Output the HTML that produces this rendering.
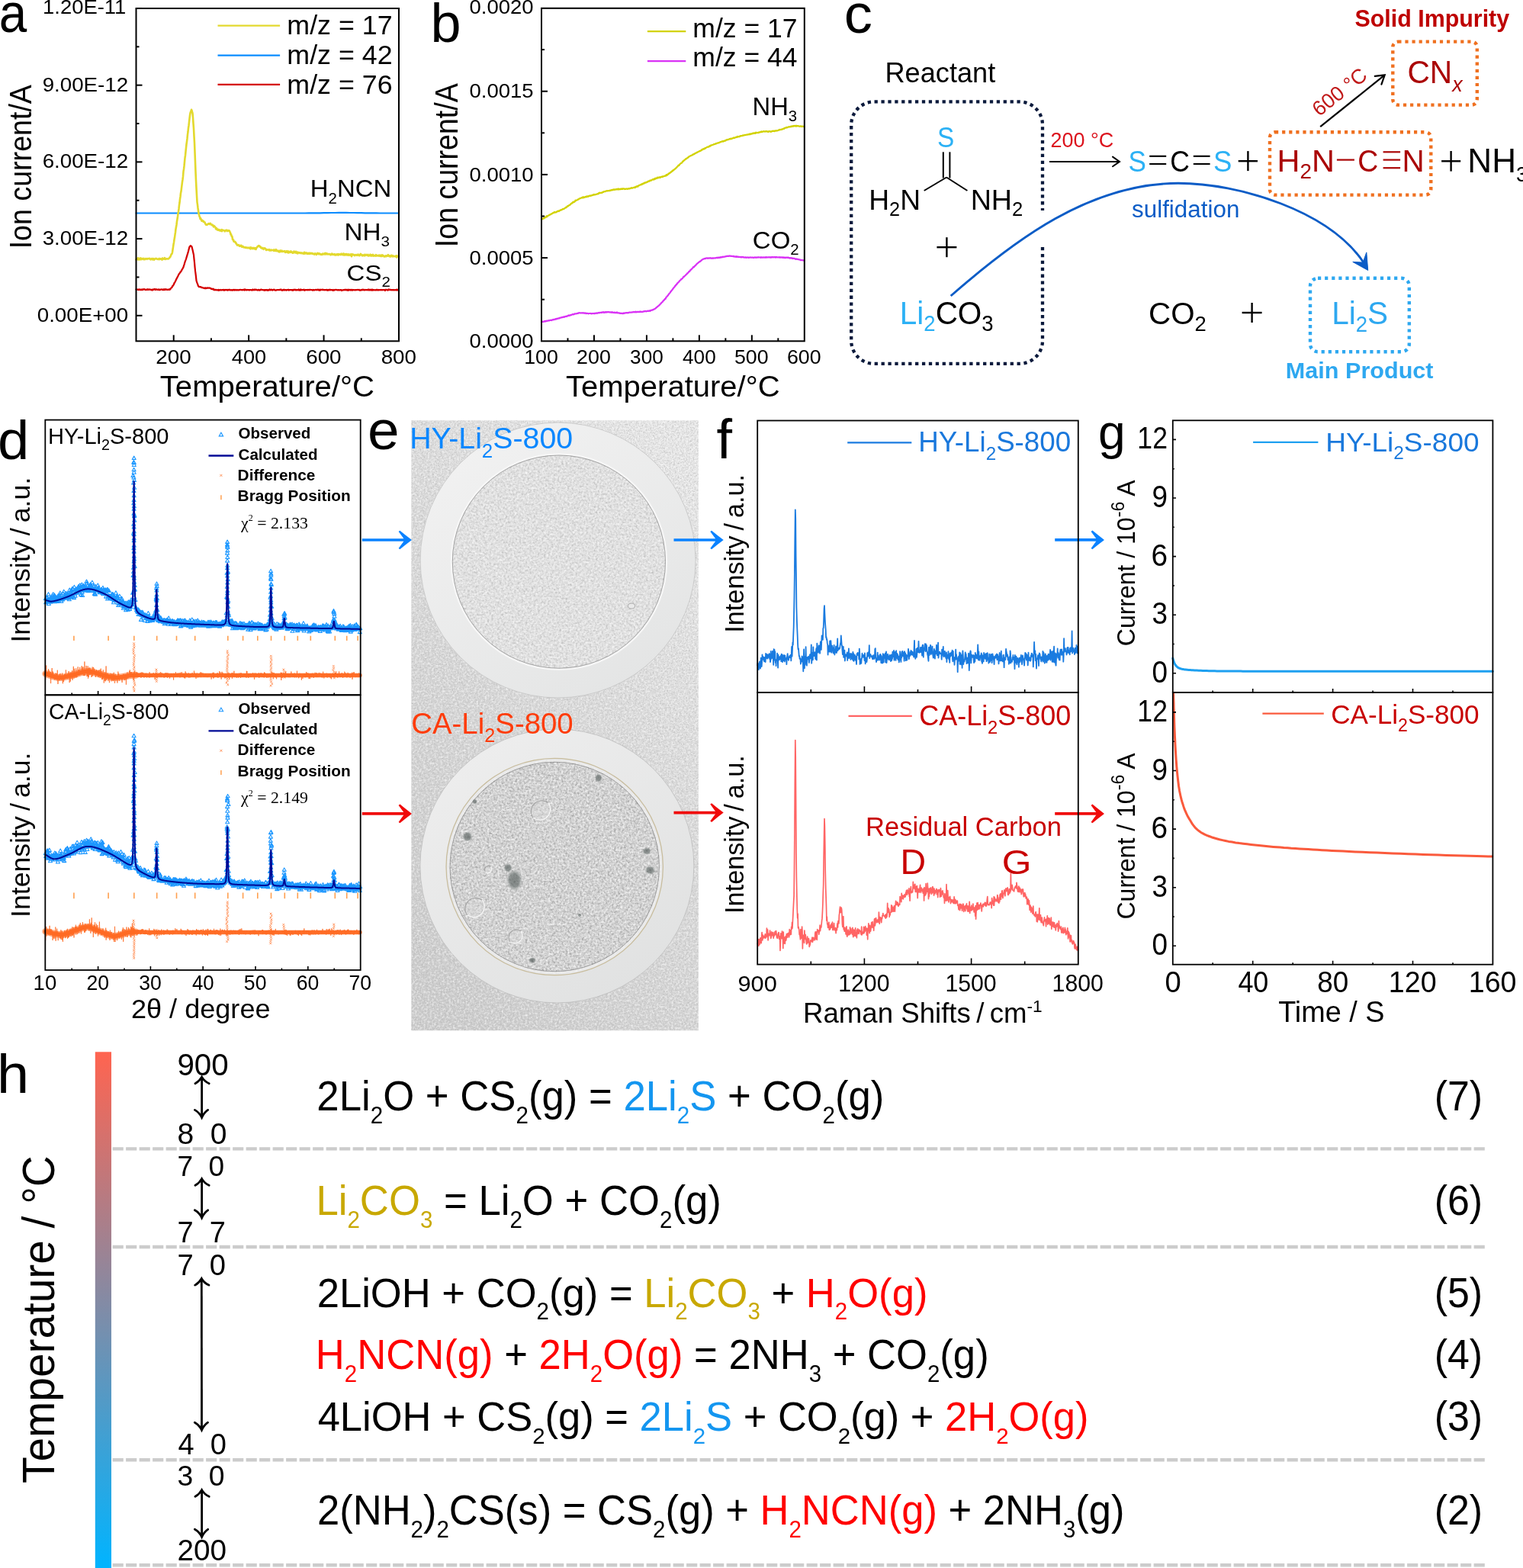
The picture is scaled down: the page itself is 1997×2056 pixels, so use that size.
<!DOCTYPE html><html><head><meta charset="utf-8"><title>Figure</title><style>html,body{margin:0;padding:0;background:#fff;overflow:hidden}svg{display:block}</style></head><body><svg xmlns="http://www.w3.org/2000/svg" width="1997" height="2056" viewBox="0 0 1997 2056"><rect width="1997" height="2056" fill="#fff"/><polyline points="178.5,279.5 183.4,279.5 188.3,279.5 193.3,279.5 198.2,279.5 203.1,279.5 208.0,279.5 212.9,279.5 217.9,279.5 222.8,279.5 227.7,279.5 232.6,279.5 237.6,279.5 242.5,279.5 247.4,279.5 252.3,279.5 257.2,279.5 262.2,279.5 267.1,279.5 272.0,279.5 276.9,279.5 281.9,279.5 286.8,279.5 291.7,279.5 296.6,279.5 301.5,279.5 306.5,279.5 311.4,279.5 316.3,279.5 321.2,279.5 326.1,279.5 331.1,279.5 336.0,279.5 340.9,279.5 345.8,279.5 350.8,279.5 355.7,279.5 360.6,279.5 365.5,279.5 370.4,279.5 375.4,279.5 380.3,279.5 385.2,279.5 390.1,279.5 395.0,279.5 400.0,279.5 404.9,279.4 409.8,279.4 414.7,279.3 419.6,279.3 424.6,279.2 429.5,279.1 434.4,279.0 439.3,279.0 444.3,278.9 449.2,278.9 454.1,278.9 459.0,279.0 463.9,279.0 468.9,279.1 473.8,279.2 478.7,279.3 483.6,279.3 488.6,279.4 493.5,279.4 498.4,279.5 503.3,279.5 508.2,279.5 513.2,279.5 518.1,279.5 523.0,279.5" fill="none" stroke="#0a8cff" stroke-width="2.2" stroke-linejoin="round" stroke-linecap="round" />
<polyline points="178.5,340.5 179.0,339.3 179.5,339.3 180.0,339.0 180.5,340.1 181.0,338.3 181.5,340.5 182.0,339.2 182.5,339.7 183.0,339.4 183.5,340.4 184.0,338.4 184.5,339.4 185.0,339.3 185.5,340.2 186.0,338.9 186.5,339.4 187.0,339.1 187.5,339.6 188.0,339.9 188.5,338.9 189.0,340.2 189.5,340.0 190.0,339.8 190.5,340.0 191.0,339.1 191.5,339.4 192.0,339.0 192.5,339.4 193.0,339.8 193.5,339.1 194.0,339.3 194.5,339.1 195.0,339.0 195.5,339.1 196.0,339.5 196.5,338.9 197.0,339.6 197.5,340.4 198.0,339.9 198.5,339.4 199.0,339.0 199.5,339.0 200.0,340.4 200.5,339.5 201.0,339.1 201.5,339.5 202.0,340.6 202.5,339.5 203.0,339.8 203.5,339.6 204.0,339.2 204.5,338.8 205.0,339.2 205.5,339.3 206.0,339.7 206.5,339.9 207.0,339.9 207.5,339.6 208.0,339.9 208.5,339.0 209.0,340.1 209.5,339.7 210.0,339.2 210.5,339.6 211.0,339.3 211.5,340.0 212.0,340.2 212.5,340.6 213.0,338.6 213.5,338.6 214.0,339.1 214.5,339.4 215.0,339.8 215.5,339.5 216.0,338.2 216.5,339.2 217.0,339.8 217.5,339.5 218.0,339.7 218.5,339.2 219.0,339.2 219.5,339.4 220.0,339.5 220.5,339.4 221.0,339.4 221.5,338.6 222.0,338.4 222.5,337.4 223.0,337.2 223.5,336.4 224.0,335.0 224.5,333.9 225.0,332.9 225.5,332.7 226.0,330.7 226.5,327.2 227.0,324.1 227.5,320.5 228.0,317.9 228.5,314.0 229.0,311.6 229.5,307.8 230.0,304.5 230.5,300.2 231.0,297.6 231.5,294.5 232.0,290.2 232.5,287.2 233.0,284.0 233.5,279.9 234.0,277.2 234.5,273.7 235.0,268.9 235.5,265.8 236.0,261.0 236.5,257.9 237.0,253.2 237.5,250.9 238.0,246.7 238.5,242.7 239.0,238.5 239.5,235.5 240.0,231.4 240.5,224.8 241.0,221.9 241.5,217.7 242.0,212.4 242.5,207.1 243.0,203.7 243.5,198.6 244.0,193.9 244.5,189.0 245.0,185.6 245.5,181.5 246.0,176.4 246.5,172.8 247.0,167.7 247.5,164.5 248.0,159.9 248.5,155.5 249.0,151.3 249.5,148.2 250.0,146.8 250.5,145.4 251.0,143.8 251.5,144.9 252.0,147.0 252.5,148.5 253.0,154.3 253.5,161.8 254.0,168.7 254.5,178.6 255.0,187.3 255.5,199.5 256.0,212.5 256.5,225.6 257.0,236.9 257.5,246.9 258.0,256.2 258.5,265.1 259.0,268.4 259.5,272.7 260.0,276.0 260.5,280.0 261.0,281.5 261.5,283.6 262.0,284.6 262.5,287.1 263.0,286.1 263.5,287.2 264.0,288.4 264.5,289.7 265.0,288.6 265.5,289.1 266.0,289.4 266.5,290.6 267.0,290.1 267.5,291.1 268.0,291.3 268.5,291.4 269.0,292.9 269.5,293.7 270.0,294.8 270.5,294.7 271.0,294.5 271.5,294.8 272.0,294.3 272.5,293.9 273.0,293.4 273.5,293.7 274.0,293.0 274.5,294.0 275.0,293.8 275.5,293.8 276.0,292.8 276.5,294.3 277.0,294.4 277.5,294.9 278.0,295.3 278.5,294.7 279.0,295.8 279.5,295.5 280.0,297.4 280.5,296.0 281.0,296.3 281.5,296.8 282.0,297.7 282.5,298.0 283.0,300.1 283.5,299.4 284.0,299.3 284.5,301.1 285.0,300.6 285.5,300.5 286.0,301.8 286.5,301.7 287.0,301.2 287.5,302.2 288.0,301.6 288.5,302.5 289.0,301.9 289.5,302.6 290.0,301.8 290.5,301.2 291.0,303.2 291.5,301.6 292.0,301.9 292.5,301.7 293.0,302.0 293.5,302.3 294.0,302.4 294.5,302.7 295.0,303.3 295.5,302.4 296.0,301.8 296.5,301.9 297.0,302.2 297.5,301.7 298.0,303.1 298.5,302.4 299.0,302.5 299.5,302.7 300.0,302.0 300.5,302.3 301.0,303.2 301.5,304.2 302.0,304.9 302.5,307.5 303.0,307.1 303.5,309.0 304.0,310.4 304.5,310.3 305.0,314.2 305.5,314.5 306.0,314.3 306.5,316.6 307.0,316.4 307.5,316.9 308.0,316.9 308.5,317.9 309.0,317.6 309.5,319.5 310.0,319.4 310.5,320.3 311.0,321.5 311.5,321.1 312.0,321.3 312.5,321.5 313.0,321.1 313.5,322.1 314.0,322.7 314.5,322.4 315.0,322.7 315.5,321.9 316.0,322.1 316.5,321.9 317.0,323.6 317.5,322.9 318.0,324.0 318.5,323.0 319.0,323.4 319.5,323.8 320.0,324.5 320.5,324.2 321.0,324.4 321.5,324.5 322.0,324.8 322.5,324.2 323.0,324.9 323.5,324.8 324.0,324.9 324.5,325.2 325.0,324.6 325.5,324.9 326.0,324.9 326.5,325.3 327.0,325.5 327.5,324.6 328.0,325.5 328.5,326.3 329.0,324.4 329.5,324.8 330.0,324.8 330.5,325.2 331.0,326.2 331.5,325.4 332.0,325.0 332.5,325.8 333.0,325.1 333.5,326.1 334.0,325.7 334.5,326.3 335.0,325.2 335.5,327.0 336.0,325.4 336.5,324.9 337.0,324.2 337.5,323.4 338.0,322.9 338.5,322.9 339.0,322.2 339.5,322.5 340.0,322.3 340.5,323.4 341.0,323.9 341.5,323.4 342.0,324.8 342.5,324.3 343.0,325.4 343.5,325.3 344.0,325.9 344.5,325.0 345.0,325.7 345.5,326.8 346.0,325.9 346.5,325.4 347.0,325.7 347.5,325.6 348.0,326.0 348.5,327.0 349.0,328.0 349.5,327.1 350.0,327.6 350.5,327.4 351.0,327.5 351.5,327.5 352.0,327.6 352.5,328.0 353.0,327.1 353.5,328.4 354.0,328.4 354.5,327.8 355.0,328.4 355.5,327.6 356.0,327.8 356.5,328.2 357.0,328.1 357.5,328.0 358.0,327.9 358.5,328.1 359.0,328.9 359.5,327.4 360.0,328.7 360.5,328.4 361.0,329.0 361.5,329.0 362.0,327.2 362.5,329.1 363.0,329.0 363.5,328.9 364.0,328.7 364.5,329.5 365.0,328.8 365.5,330.1 366.0,329.5 366.5,330.4 367.0,328.9 367.5,328.4 368.0,329.8 368.5,329.9 369.0,329.5 369.5,328.7 370.0,329.4 370.5,330.0 371.0,329.6 371.5,329.7 372.0,329.7 372.5,329.4 373.0,329.7 373.5,329.2 374.0,331.0 374.5,329.8 375.0,330.4 375.5,329.6 376.0,330.6 376.5,329.2 377.0,330.7 377.5,330.3 378.0,331.5 378.5,329.6 379.0,330.4 379.5,330.6 380.0,331.1 380.5,330.2 381.0,330.6 381.5,329.4 382.0,330.1 382.5,330.9 383.0,331.3 383.5,330.5 384.0,331.8 384.5,331.7 385.0,330.8 385.5,329.5 386.0,329.9 386.5,330.5 387.0,331.5 387.5,331.1 388.0,329.8 388.5,330.9 389.0,331.9 389.5,330.9 390.0,330.7 390.5,332.3 391.0,331.2 391.5,331.0 392.0,331.5 392.5,331.3 393.0,331.1 393.5,332.0 394.0,332.0 394.5,331.9 395.0,331.4 395.5,332.1 396.0,331.5 396.5,331.8 397.0,332.2 397.5,332.1 398.0,332.7 398.5,332.0 399.0,330.8 399.5,331.1 400.0,332.6 400.5,331.7 401.0,332.1 401.5,331.4 402.0,332.5 402.5,331.8 403.0,332.8 403.5,331.8 404.0,332.7 404.5,332.5 405.0,331.8 405.5,332.8 406.0,331.7 406.5,331.8 407.0,332.7 407.5,332.0 408.0,332.0 408.5,332.2 409.0,331.9 409.5,333.0 410.0,332.8 410.5,332.5 411.0,332.5 411.5,332.8 412.0,333.6 412.5,333.1 413.0,332.4 413.5,333.2 414.0,332.7 414.5,332.7 415.0,333.9 415.5,332.6 416.0,332.6 416.5,331.8 417.0,332.2 417.5,333.2 418.0,332.6 418.5,333.2 419.0,332.4 419.5,332.6 420.0,333.4 420.5,333.8 421.0,333.3 421.5,333.7 422.0,334.0 422.5,333.6 423.0,332.6 423.5,333.0 424.0,333.4 424.5,332.9 425.0,333.4 425.5,332.3 426.0,332.7 426.5,333.5 427.0,331.9 427.5,332.6 428.0,333.2 428.5,332.3 429.0,333.3 429.5,332.8 430.0,333.1 430.5,333.1 431.0,333.4 431.5,333.0 432.0,333.3 432.5,333.0 433.0,333.6 433.5,334.3 434.0,333.5 434.5,333.5 435.0,332.7 435.5,333.8 436.0,333.0 436.5,333.0 437.0,333.7 437.5,333.5 438.0,334.1 438.5,334.2 439.0,333.2 439.5,333.6 440.0,334.5 440.5,334.0 441.0,333.9 441.5,334.2 442.0,333.2 442.5,333.9 443.0,334.3 443.5,334.5 444.0,333.1 444.5,333.5 445.0,333.8 445.5,333.5 446.0,333.4 446.5,334.0 447.0,333.5 447.5,332.7 448.0,333.9 448.5,333.5 449.0,333.3 449.5,332.9 450.0,334.3 450.5,332.5 451.0,332.8 451.5,333.6 452.0,334.5 452.5,334.5 453.0,333.2 453.5,333.7 454.0,333.0 454.5,334.4 455.0,333.1 455.5,333.8 456.0,334.5 456.5,333.8 457.0,334.7 457.5,333.4 458.0,334.1 458.5,334.4 459.0,333.9 459.5,334.7 460.0,334.3 460.5,333.1 461.0,336.2 461.5,334.4 462.0,334.1 462.5,333.3 463.0,334.1 463.5,333.8 464.0,334.4 464.5,334.3 465.0,335.1 465.5,334.2 466.0,334.4 466.5,334.4 467.0,334.1 467.5,334.1 468.0,334.8 468.5,334.6 469.0,333.9 469.5,333.6 470.0,334.2 470.5,334.9 471.0,334.2 471.5,335.2 472.0,333.9 472.5,334.4 473.0,332.9 473.5,334.0 474.0,334.2 474.5,334.6 475.0,335.3 475.5,334.4 476.0,335.2 476.5,334.8 477.0,335.0 477.5,334.2 478.0,335.3 478.5,333.9 479.0,334.8 479.5,334.0 480.0,334.3 480.5,333.8 481.0,334.3 481.5,334.8 482.0,334.6 482.5,333.9 483.0,335.5 483.5,334.9 484.0,335.3 484.5,335.2 485.0,334.4 485.5,333.7 486.0,334.3 486.5,335.5 487.0,334.3 487.5,335.3 488.0,334.5 488.5,335.1 489.0,333.9 489.5,335.6 490.0,334.9 490.5,335.5 491.0,335.1 491.5,335.5 492.0,335.0 492.5,335.5 493.0,334.2 493.5,334.5 494.0,335.5 494.5,335.1 495.0,335.0 495.5,335.1 496.0,335.5 496.5,334.9 497.0,335.5 497.5,334.7 498.0,335.0 498.5,335.8 499.0,335.9 499.5,334.7 500.0,335.8 500.5,334.8 501.0,335.8 501.5,334.4 502.0,334.8 502.5,335.2 503.0,335.4 503.5,336.3 504.0,336.0 504.5,336.4 505.0,336.2 505.5,335.4 506.0,335.4 506.5,336.2 507.0,335.6 507.5,335.5 508.0,334.9 508.5,335.6 509.0,334.2 509.5,335.5 510.0,335.2 510.5,336.1 511.0,335.5 511.5,335.6 512.0,336.5 512.5,335.2 513.0,336.0 513.5,334.8 514.0,335.9 514.5,336.1 515.0,336.4 515.5,335.4 516.0,336.1 516.5,336.1 517.0,336.0 517.5,336.1 518.0,336.3 518.5,336.3 519.0,335.5 519.5,335.4 520.0,337.5 520.5,337.2 521.0,335.4 521.5,336.4 522.0,336.5 522.5,336.6 523.0,336.3" fill="none" stroke="#e3d92e" stroke-width="2.6" stroke-linejoin="round" stroke-linecap="round" />
<polyline points="178.5,379.4 179.0,379.6 179.5,379.6 180.0,379.7 180.5,379.6 181.0,379.7 181.5,380.0 182.0,380.1 182.5,379.3 183.0,379.6 183.5,379.5 184.0,380.1 184.5,379.7 185.0,380.1 185.5,379.6 186.0,379.7 186.5,379.3 187.0,380.1 187.5,379.6 188.0,379.3 188.5,379.5 189.0,379.0 189.5,379.7 190.0,379.7 190.5,379.8 191.0,380.1 191.5,379.6 192.0,379.9 192.5,379.8 193.0,379.6 193.5,379.1 194.0,380.0 194.5,379.5 195.0,379.7 195.5,379.3 196.0,379.8 196.5,379.7 197.0,379.7 197.5,379.7 198.0,380.0 198.5,380.0 199.0,379.9 199.5,380.7 200.0,379.5 200.5,379.6 201.0,379.4 201.5,379.8 202.0,379.5 202.5,378.9 203.0,379.3 203.5,379.7 204.0,380.0 204.5,379.2 205.0,379.5 205.5,379.7 206.0,379.5 206.5,379.9 207.0,379.7 207.5,379.8 208.0,379.5 208.5,380.2 209.0,379.7 209.5,380.1 210.0,379.6 210.5,379.9 211.0,379.5 211.5,379.4 212.0,379.5 212.5,379.7 213.0,379.6 213.5,380.2 214.0,379.4 214.5,379.4 215.0,380.2 215.5,379.9 216.0,379.1 216.5,379.8 217.0,379.8 217.5,379.1 218.0,379.6 218.5,379.7 219.0,379.9 219.5,380.0 220.0,379.7 220.5,380.0 221.0,379.7 221.5,379.4 222.0,379.4 222.5,379.9 223.0,378.9 223.5,379.1 224.0,377.9 224.5,377.6 225.0,377.2 225.5,376.8 226.0,375.3 226.5,375.0 227.0,374.6 227.5,373.4 228.0,372.9 228.5,371.0 229.0,370.7 229.5,369.7 230.0,368.6 230.5,367.9 231.0,366.2 231.5,365.9 232.0,364.4 232.5,363.8 233.0,362.5 233.5,361.8 234.0,360.8 234.5,359.4 235.0,359.1 235.5,358.3 236.0,357.5 236.5,356.6 237.0,356.7 237.5,355.4 238.0,355.1 238.5,353.7 239.0,352.8 239.5,352.4 240.0,351.0 240.5,350.4 241.0,348.3 241.5,347.1 242.0,345.2 242.5,343.7 243.0,342.2 243.5,340.9 244.0,339.5 244.5,337.7 245.0,336.1 245.5,334.4 246.0,332.8 246.5,331.2 247.0,329.3 247.5,327.2 248.0,325.2 248.5,323.5 249.0,323.1 249.5,322.4 250.0,322.1 250.5,322.5 251.0,323.3 251.5,323.4 252.0,325.5 252.5,327.6 253.0,329.7 253.5,331.9 254.0,334.3 254.5,339.6 255.0,344.2 255.5,350.2 256.0,355.2 256.5,358.8 257.0,363.2 257.5,367.9 258.0,369.7 258.5,371.0 259.0,372.1 259.5,373.6 260.0,375.3 260.5,375.4 261.0,376.2 261.5,376.0 262.0,376.0 262.5,376.3 263.0,376.2 263.5,376.3 264.0,376.8 264.5,377.1 265.0,376.8 265.5,377.2 266.0,377.3 266.5,377.6 267.0,377.5 267.5,377.8 268.0,377.8 268.5,378.1 269.0,377.3 269.5,378.2 270.0,378.1 270.5,377.7 271.0,377.8 271.5,377.8 272.0,377.3 272.5,377.6 273.0,377.7 273.5,377.5 274.0,377.7 274.5,377.5 275.0,377.7 275.5,377.7 276.0,378.0 276.5,378.2 277.0,379.0 277.5,378.8 278.0,378.6 278.5,379.2 279.0,379.2 279.5,378.6 280.0,379.8 280.5,379.4 281.0,380.3 281.5,379.9 282.0,379.8 282.5,380.3 283.0,379.8 283.5,380.1 284.0,380.3 284.5,380.4 285.0,380.4 285.5,380.2 286.0,379.9 286.5,380.8 287.0,380.0 287.5,380.7 288.0,380.1 288.5,380.5 289.0,380.5 289.5,379.9 290.0,380.3 290.5,380.4 291.0,380.4 291.5,380.1 292.0,380.3 292.5,380.1 293.0,379.8 293.5,380.5 294.0,380.0 294.5,380.6 295.0,380.4 295.5,379.9 296.0,380.1 296.5,380.1 297.0,379.9 297.5,380.3 298.0,380.0 298.5,380.7 299.0,380.5 299.5,379.9 300.0,380.2 300.5,380.1 301.0,379.7 301.5,380.5 302.0,380.5 302.5,380.5 303.0,380.1 303.5,380.5 304.0,380.1 304.5,380.5 305.0,380.7 305.5,380.2 306.0,379.8 306.5,380.1 307.0,380.4 307.5,380.6 308.0,379.8 308.5,380.1 309.0,380.3 309.5,380.3 310.0,380.5 310.5,379.9 311.0,380.1 311.5,380.5 312.0,380.3 312.5,380.3 313.0,380.5 313.5,380.2 314.0,380.3 314.5,380.1 315.0,379.8 315.5,379.8 316.0,380.2 316.5,380.1 317.0,380.0 317.5,380.3 318.0,379.9 318.5,380.2 319.0,380.2 319.5,379.9 320.0,379.5 320.5,380.6 321.0,380.3 321.5,379.4 322.0,380.1 322.5,380.3 323.0,380.1 323.5,380.4 324.0,379.9 324.5,380.2 325.0,380.2 325.5,380.1 326.0,380.1 326.5,380.2 327.0,380.5 327.5,380.0 328.0,380.1 328.5,380.2 329.0,380.1 329.5,380.3 330.0,380.4 330.5,380.6 331.0,380.1 331.5,379.5 332.0,380.2 332.5,380.3 333.0,380.1 333.5,380.1 334.0,379.4 334.5,380.3 335.0,380.1 335.5,379.7 336.0,379.9 336.5,379.9 337.0,380.4 337.5,380.3 338.0,380.6 338.5,380.4 339.0,379.8 339.5,379.8 340.0,380.5 340.5,380.6 341.0,380.1 341.5,380.3 342.0,379.7 342.5,379.6 343.0,379.8 343.5,380.1 344.0,380.0 344.5,380.1 345.0,380.0 345.5,380.4 346.0,380.6 346.5,380.2 347.0,380.8 347.5,380.0 348.0,380.0 348.5,380.3 349.0,380.1 349.5,380.5 350.0,380.0 350.5,380.6 351.0,380.2 351.5,380.9 352.0,380.0 352.5,380.1 353.0,380.2 353.5,379.5 354.0,380.4 354.5,380.3 355.0,380.2 355.5,379.7 356.0,379.7 356.5,380.3 357.0,380.5 357.5,380.6 358.0,379.9 358.5,379.9 359.0,380.1 359.5,379.6 360.0,380.0 360.5,380.4 361.0,380.7 361.5,380.3 362.0,380.7 362.5,380.3 363.0,380.2 363.5,380.1 364.0,380.2 364.5,380.1 365.0,380.1 365.5,380.0 366.0,380.2 366.5,380.2 367.0,379.7 367.5,380.1 368.0,379.9 368.5,379.5 369.0,380.3 369.5,380.6 370.0,380.9 370.5,380.6 371.0,379.9 371.5,380.5 372.0,380.5 372.5,379.6 373.0,380.4 373.5,380.4 374.0,380.2 374.5,380.2 375.0,380.2 375.5,380.7 376.0,380.0 376.5,380.1 377.0,380.2 377.5,380.2 378.0,379.6 378.5,380.6 379.0,380.2 379.5,380.3 380.0,380.2 380.5,380.1 381.0,380.1 381.5,380.2 382.0,380.2 382.5,380.5 383.0,380.3 383.5,380.1 384.0,380.8 384.5,379.8 385.0,379.8 385.5,380.3 386.0,380.1 386.5,379.6 387.0,380.1 387.5,379.9 388.0,380.5 388.5,380.0 389.0,380.5 389.5,380.3 390.0,380.1 390.5,380.2 391.0,380.3 391.5,379.5 392.0,380.3 392.5,380.0 393.0,380.7 393.5,379.9 394.0,380.5 394.5,379.4 395.0,380.4 395.5,380.2 396.0,380.1 396.5,380.1 397.0,380.1 397.5,380.3 398.0,380.1 398.5,379.6 399.0,380.1 399.5,380.8 400.0,380.2 400.5,380.2 401.0,380.0 401.5,380.2 402.0,380.2 402.5,380.1 403.0,380.4 403.5,379.9 404.0,380.1 404.5,380.3 405.0,380.1 405.5,379.8 406.0,380.3 406.5,379.9 407.0,380.0 407.5,379.9 408.0,380.1 408.5,380.0 409.0,380.0 409.5,380.4 410.0,380.7 410.5,380.0 411.0,380.3 411.5,380.0 412.0,380.2 412.5,380.5 413.0,380.2 413.5,379.9 414.0,379.9 414.5,380.0 415.0,380.1 415.5,380.4 416.0,379.7 416.5,379.8 417.0,379.9 417.5,379.6 418.0,380.5 418.5,380.1 419.0,380.7 419.5,379.7 420.0,380.5 420.5,379.9 421.0,380.0 421.5,379.8 422.0,379.9 422.5,379.7 423.0,380.2 423.5,379.7 424.0,380.1 424.5,380.1 425.0,380.3 425.5,380.2 426.0,380.2 426.5,380.3 427.0,380.1 427.5,380.2 428.0,379.8 428.5,379.9 429.0,380.7 429.5,380.1 430.0,379.9 430.5,380.6 431.0,380.1 431.5,379.9 432.0,379.7 432.5,380.4 433.0,379.8 433.5,380.0 434.0,380.3 434.5,380.2 435.0,380.1 435.5,380.1 436.0,380.5 436.5,380.8 437.0,380.0 437.5,380.3 438.0,380.7 438.5,380.5 439.0,379.9 439.5,380.0 440.0,380.0 440.5,379.9 441.0,379.9 441.5,380.2 442.0,380.0 442.5,380.4 443.0,380.2 443.5,380.0 444.0,380.4 444.5,380.2 445.0,380.2 445.5,380.4 446.0,380.3 446.5,380.1 447.0,380.4 447.5,380.2 448.0,381.0 448.5,380.5 449.0,380.5 449.5,380.5 450.0,380.2 450.5,380.5 451.0,380.1 451.5,379.9 452.0,380.0 452.5,380.3 453.0,379.7 453.5,380.2 454.0,379.9 454.5,380.3 455.0,379.9 455.5,380.7 456.0,380.4 456.5,379.7 457.0,380.7 457.5,380.1 458.0,379.9 458.5,379.8 459.0,380.3 459.5,380.6 460.0,380.0 460.5,379.8 461.0,379.8 461.5,380.6 462.0,380.6 462.5,380.0 463.0,380.3 463.5,380.1 464.0,380.1 464.5,380.4 465.0,380.3 465.5,380.2 466.0,380.0 466.5,380.4 467.0,380.0 467.5,380.1 468.0,380.2 468.5,379.8 469.0,380.0 469.5,380.0 470.0,380.2 470.5,379.8 471.0,379.8 471.5,380.6 472.0,380.5 472.5,380.4 473.0,380.7 473.5,380.2 474.0,380.1 474.5,380.3 475.0,379.6 475.5,379.8 476.0,380.3 476.5,380.1 477.0,379.7 477.5,380.3 478.0,380.4 478.5,380.3 479.0,380.1 479.5,379.9 480.0,380.2 480.5,380.2 481.0,380.0 481.5,380.3 482.0,380.2 482.5,380.2 483.0,379.5 483.5,380.4 484.0,380.6 484.5,380.0 485.0,379.7 485.5,380.3 486.0,380.0 486.5,379.8 487.0,380.5 487.5,379.7 488.0,380.3 488.5,379.7 489.0,380.6 489.5,380.3 490.0,380.0 490.5,380.2 491.0,380.3 491.5,380.4 492.0,380.4 492.5,380.3 493.0,380.0 493.5,380.3 494.0,379.7 494.5,380.4 495.0,380.4 495.5,380.5 496.0,379.9 496.5,380.2 497.0,380.4 497.5,380.2 498.0,380.0 498.5,380.2 499.0,380.1 499.5,380.4 500.0,379.9 500.5,380.2 501.0,380.2 501.5,380.3 502.0,380.1 502.5,380.1 503.0,380.1 503.5,380.1 504.0,380.1 504.5,380.0 505.0,381.0 505.5,379.9 506.0,379.8 506.5,379.9 507.0,379.9 507.5,380.1 508.0,380.5 508.5,380.6 509.0,380.2 509.5,379.4 510.0,380.2 510.5,379.7 511.0,380.0 511.5,379.8 512.0,380.2 512.5,379.9 513.0,380.3 513.5,380.2 514.0,380.0 514.5,380.1 515.0,380.4 515.5,380.0 516.0,380.4 516.5,380.1 517.0,380.2 517.5,380.3 518.0,380.5 518.5,380.3 519.0,380.1 519.5,380.3 520.0,379.6 520.5,380.6 521.0,379.7 521.5,380.4 522.0,379.9 522.5,380.3 523.0,380.1" fill="none" stroke="#d40000" stroke-width="2.2" stroke-linejoin="round" stroke-linecap="round" />
<rect x="178.5" y="11" width="344.5" height="436.3" fill="none" stroke="#000" stroke-width="2"/>
<line x1="178.5" y1="413.8" x2="186.5" y2="413.8" stroke="#000" stroke-width="2" />
<line x1="178.5" y1="313.09" x2="186.5" y2="313.09" stroke="#000" stroke-width="2" />
<line x1="178.5" y1="212.38" x2="186.5" y2="212.38" stroke="#000" stroke-width="2" />
<line x1="178.5" y1="111.67" x2="186.5" y2="111.67" stroke="#000" stroke-width="2" />
<line x1="178.5" y1="10.96" x2="186.5" y2="10.96" stroke="#000" stroke-width="2" />
<line x1="178.5" y1="363.44" x2="182.5" y2="363.44" stroke="#000" stroke-width="2" />
<line x1="178.5" y1="262.74" x2="182.5" y2="262.74" stroke="#000" stroke-width="2" />
<line x1="178.5" y1="162.03" x2="182.5" y2="162.03" stroke="#000" stroke-width="2" />
<line x1="178.5" y1="61.31" x2="182.5" y2="61.31" stroke="#000" stroke-width="2" />
<line x1="227.71" y1="447.3" x2="227.71" y2="439.3" stroke="#000" stroke-width="2" />
<line x1="326.14" y1="447.3" x2="326.14" y2="439.3" stroke="#000" stroke-width="2" />
<line x1="424.57" y1="447.3" x2="424.57" y2="439.3" stroke="#000" stroke-width="2" />
<line x1="276.93" y1="447.3" x2="276.93" y2="443.3" stroke="#000" stroke-width="2" />
<line x1="375.36" y1="447.3" x2="375.36" y2="443.3" stroke="#000" stroke-width="2" />
<line x1="473.79" y1="447.3" x2="473.79" y2="443.3" stroke="#000" stroke-width="2" />
<text transform="translate(56.04,18.4) scale(1.0292,1)" font-family="'Liberation Sans', Arial, Helvetica, sans-serif" font-size="26.67" fill="#000" xml:space="preserve" ><tspan x="0" y="0">1.20E-11</tspan></text>
<text transform="translate(55.66,119.8) scale(1.0398,1)" font-family="'Liberation Sans', Arial, Helvetica, sans-serif" font-size="26.67" fill="#000" xml:space="preserve" ><tspan x="0" y="0">9.00E-12</tspan></text>
<text transform="translate(55.66,220.4) scale(1.0398,1)" font-family="'Liberation Sans', Arial, Helvetica, sans-serif" font-size="26.67" fill="#000" xml:space="preserve" ><tspan x="0" y="0">6.00E-12</tspan></text>
<text transform="translate(55.66,321) scale(1.0398,1)" font-family="'Liberation Sans', Arial, Helvetica, sans-serif" font-size="26.67" fill="#000" xml:space="preserve" ><tspan x="0" y="0">3.00E-12</tspan></text>
<text transform="translate(48.76,421.6) scale(1.0393,1)" font-family="'Liberation Sans', Arial, Helvetica, sans-serif" font-size="26.67" fill="#000" xml:space="preserve" ><tspan x="0" y="0">0.00E+00</tspan></text>
<text transform="translate(204.36,476.7) scale(1.0535,1)" font-family="'Liberation Sans', Arial, Helvetica, sans-serif" font-size="26.38" fill="#000" xml:space="preserve" ><tspan x="0" y="0">200</tspan></text>
<text transform="translate(303.84,476.7) scale(1.0291,1)" font-family="'Liberation Sans', Arial, Helvetica, sans-serif" font-size="26.38" fill="#000" xml:space="preserve" ><tspan x="0" y="0">400</tspan></text>
<text transform="translate(401.22,476.7) scale(1.0535,1)" font-family="'Liberation Sans', Arial, Helvetica, sans-serif" font-size="26.38" fill="#000" xml:space="preserve" ><tspan x="0" y="0">600</tspan></text>
<text transform="translate(499.65,476.7) scale(1.0535,1)" font-family="'Liberation Sans', Arial, Helvetica, sans-serif" font-size="26.38" fill="#000" xml:space="preserve" ><tspan x="0" y="0">800</tspan></text>
<text transform="translate(209.8,520.2) scale(1.0325,1)" font-family="'Liberation Sans', Arial, Helvetica, sans-serif" font-size="38.84" fill="#000" xml:space="preserve" ><tspan x="0" y="0">Temperature/°C</tspan></text>
<text transform="translate(40.5,326.33) rotate(-90) scale(0.9107,1)" font-family="'Liberation Sans', Arial, Helvetica, sans-serif" font-size="41.3" fill="#000" xml:space="preserve" ><tspan x="0" y="0">Ion current/A</tspan></text>
<text transform="translate(-1.33,42) scale(0.9105,1)" font-family="'Liberation Sans', Arial, Helvetica, sans-serif" font-size="72" fill="#000" xml:space="preserve" ><tspan x="0" y="0">a</tspan></text>
<line x1="285.5" y1="33.6" x2="367.1" y2="33.6" stroke="#e3d92e" stroke-width="2.4" />
<text transform="translate(376.35,45.4) scale(1.0245,1)" font-family="'Liberation Sans', Arial, Helvetica, sans-serif" font-size="34.93" fill="#000" xml:space="preserve" ><tspan x="0" y="0">m/z = 17</tspan></text>
<line x1="285.5" y1="72.6" x2="367.1" y2="72.6" stroke="#0a8cff" stroke-width="2.4" />
<text transform="translate(376.35,84.2) scale(1.0245,1)" font-family="'Liberation Sans', Arial, Helvetica, sans-serif" font-size="34.93" fill="#000" xml:space="preserve" ><tspan x="0" y="0">m/z = 42</tspan></text>
<line x1="285.5" y1="110.9" x2="367.1" y2="110.9" stroke="#d40000" stroke-width="2.4" />
<text transform="translate(376.35,122.6) scale(1.0245,1)" font-family="'Liberation Sans', Arial, Helvetica, sans-serif" font-size="34.93" fill="#000" xml:space="preserve" ><tspan x="0" y="0">m/z = 76</tspan></text>
<text transform="translate(406.79,258.2) scale(1.0533,1)" font-family="'Liberation Sans', Arial, Helvetica, sans-serif" font-size="31.3" fill="#000" xml:space="preserve" ><tspan x="0" y="0">H</tspan><tspan x="22.6" y="8.45" font-size="19.41">2</tspan><tspan x="33.39" y="0">NCN</tspan></text>
<text transform="translate(451.44,314.5) scale(1.0785,1)" font-family="'Liberation Sans', Arial, Helvetica, sans-serif" font-size="30.87" fill="#000" xml:space="preserve" ><tspan x="0" y="0">NH</tspan><tspan x="44.57" y="8.33" font-size="19.14">3</tspan></text>
<text transform="translate(454.61,367.6) scale(1.0888,1)" font-family="'Liberation Sans', Arial, Helvetica, sans-serif" font-size="30.29" fill="#000" xml:space="preserve" ><tspan x="0" y="0">CS</tspan><tspan x="42.07" y="8.18" font-size="18.78">2</tspan></text>
<polyline points="710.0,288.0 710.5,287.4 711.0,286.8 711.5,287.1 712.0,286.6 712.5,286.3 713.0,286.0 713.5,286.3 714.0,285.4 714.5,285.3 715.0,284.7 715.5,285.0 716.0,284.2 716.5,283.4 717.0,284.4 717.5,283.2 718.0,283.5 718.5,283.1 719.0,282.8 719.5,282.3 720.0,282.1 720.5,282.1 721.0,281.4 721.5,281.3 722.0,281.2 722.5,280.7 723.0,280.3 723.5,280.5 724.0,280.0 724.5,279.6 725.0,279.2 725.5,278.9 726.0,279.2 726.5,279.0 727.0,278.0 727.5,278.2 728.0,278.4 728.5,278.6 729.0,278.4 729.5,277.9 730.0,277.8 730.5,277.2 731.0,277.3 731.5,276.6 732.0,276.6 732.5,276.7 733.0,277.0 733.5,276.4 734.0,276.1 734.5,275.8 735.0,275.3 735.5,275.6 736.0,275.2 736.5,275.1 737.0,274.6 737.5,274.6 738.0,273.9 738.5,274.2 739.0,274.1 739.5,273.7 740.0,273.7 740.5,273.0 741.0,272.7 741.5,272.4 742.0,271.8 742.5,272.2 743.0,271.6 743.5,270.9 744.0,270.4 744.5,270.5 745.0,270.2 745.5,269.7 746.0,269.3 746.5,268.9 747.0,268.6 747.5,268.6 748.0,268.2 748.5,267.1 749.0,267.2 749.5,266.5 750.0,266.1 750.5,266.3 751.0,265.5 751.5,264.6 752.0,265.2 752.5,265.0 753.0,264.9 753.5,264.0 754.0,264.1 754.5,262.7 755.0,262.8 755.5,262.9 756.0,262.6 756.5,262.5 757.0,262.1 757.5,261.6 758.0,261.7 758.5,261.2 759.0,261.2 759.5,260.4 760.0,260.4 760.5,260.1 761.0,260.2 761.5,259.8 762.0,259.6 762.5,259.2 763.0,259.5 763.5,259.5 764.0,259.4 764.5,258.2 765.0,258.4 765.5,259.2 766.0,258.5 766.5,258.4 767.0,258.6 767.5,258.3 768.0,257.9 768.5,257.9 769.0,258.3 769.5,257.4 770.0,257.9 770.5,257.4 771.0,257.3 771.5,257.7 772.0,257.0 772.5,257.2 773.0,256.8 773.5,256.4 774.0,256.6 774.5,256.8 775.0,256.4 775.5,256.5 776.0,256.2 776.5,256.1 777.0,255.8 777.5,255.9 778.0,255.2 778.5,255.5 779.0,255.0 779.5,255.4 780.0,255.3 780.5,254.9 781.0,255.1 781.5,254.9 782.0,254.7 782.5,254.4 783.0,254.5 783.5,254.5 784.0,253.9 784.5,253.7 785.0,254.0 785.5,253.0 786.0,252.7 786.5,252.8 787.0,253.1 787.5,253.0 788.0,252.9 788.5,252.6 789.0,252.8 789.5,252.7 790.0,252.4 790.5,251.7 791.0,251.9 791.5,251.4 792.0,251.4 792.5,251.1 793.0,251.2 793.5,251.2 794.0,250.9 794.5,250.5 795.0,250.3 795.5,250.4 796.0,250.2 796.5,250.5 797.0,250.1 797.5,250.1 798.0,250.0 798.5,250.2 799.0,250.2 799.5,249.8 800.0,249.5 800.5,249.9 801.0,249.5 801.5,249.2 802.0,249.5 802.5,249.2 803.0,248.7 803.5,249.2 804.0,249.0 804.5,248.4 805.0,248.2 805.5,248.7 806.0,248.8 806.5,248.7 807.0,248.2 807.5,248.4 808.0,248.5 808.5,247.9 809.0,248.3 809.5,248.3 810.0,248.4 810.5,247.5 811.0,248.1 811.5,248.5 812.0,247.8 812.5,247.9 813.0,248.2 813.5,247.7 814.0,248.2 814.5,248.0 815.0,247.4 815.5,247.8 816.0,247.4 816.5,248.0 817.0,247.4 817.5,247.3 818.0,247.5 818.5,247.5 819.0,248.1 819.5,247.7 820.0,247.8 820.5,248.0 821.0,247.5 821.5,247.5 822.0,247.4 822.5,247.8 823.0,248.0 823.5,247.6 824.0,247.3 824.5,247.3 825.0,247.1 825.5,247.5 826.0,247.0 826.5,247.1 827.0,246.8 827.5,246.5 828.0,246.2 828.5,246.6 829.0,246.7 829.5,246.5 830.0,246.3 830.5,246.0 831.0,245.9 831.5,245.6 832.0,245.8 832.5,246.1 833.0,245.3 833.5,244.8 834.0,245.3 834.5,244.5 835.0,244.7 835.5,244.2 836.0,244.1 836.5,244.7 837.0,243.4 837.5,243.2 838.0,243.2 838.5,242.9 839.0,242.6 839.5,242.3 840.0,242.4 840.5,242.3 841.0,241.5 841.5,241.3 842.0,241.8 842.5,240.8 843.0,241.1 843.5,240.8 844.0,240.2 844.5,240.5 845.0,239.8 845.5,239.6 846.0,239.3 846.5,239.7 847.0,239.1 847.5,239.3 848.0,238.6 848.5,238.7 849.0,238.7 849.5,238.1 850.0,237.6 850.5,237.6 851.0,237.8 851.5,237.5 852.0,237.0 852.5,236.4 853.0,236.8 853.5,236.8 854.0,236.6 854.5,236.1 855.0,235.7 855.5,235.4 856.0,235.2 856.5,234.8 857.0,235.5 857.5,234.8 858.0,235.2 858.5,234.4 859.0,233.8 859.5,234.5 860.0,233.6 860.5,233.6 861.0,233.9 861.5,233.8 862.0,232.7 862.5,233.1 863.0,232.7 863.5,233.0 864.0,233.2 864.5,232.5 865.0,232.9 865.5,232.2 866.0,232.8 866.5,232.0 867.0,232.0 867.5,232.0 868.0,231.5 868.5,232.1 869.0,231.3 869.5,231.6 870.0,231.0 870.5,231.2 871.0,231.0 871.5,230.7 872.0,230.7 872.5,230.1 873.0,230.6 873.5,230.0 874.0,229.0 874.5,229.9 875.0,229.3 875.5,229.2 876.0,228.5 876.5,227.6 877.0,227.8 877.5,227.2 878.0,227.1 878.5,226.6 879.0,226.4 879.5,225.5 880.0,225.6 880.5,225.1 881.0,224.9 881.5,223.9 882.0,223.8 882.5,223.9 883.0,222.8 883.5,222.8 884.0,222.6 884.5,221.8 885.0,221.6 885.5,221.2 886.0,220.9 886.5,220.0 887.0,219.6 887.5,219.4 888.0,218.5 888.5,218.3 889.0,217.6 889.5,216.7 890.0,216.9 890.5,216.8 891.0,215.8 891.5,215.4 892.0,214.8 892.5,214.3 893.0,214.0 893.5,213.8 894.0,213.6 894.5,212.8 895.0,211.9 895.5,211.3 896.0,211.5 896.5,210.9 897.0,210.2 897.5,209.7 898.0,209.3 898.5,209.4 899.0,208.7 899.5,208.0 900.0,208.2 900.5,207.7 901.0,207.2 901.5,207.1 902.0,206.4 902.5,206.5 903.0,205.6 903.5,205.4 904.0,205.0 904.5,204.9 905.0,204.5 905.5,204.3 906.0,204.1 906.5,204.0 907.0,203.6 907.5,203.3 908.0,203.4 908.5,202.7 909.0,202.1 909.5,202.4 910.0,202.4 910.5,201.7 911.0,201.6 911.5,200.9 912.0,200.9 912.5,200.7 913.0,200.4 913.5,199.9 914.0,200.1 914.5,199.5 915.0,199.4 915.5,199.0 916.0,198.9 916.5,198.6 917.0,198.1 917.5,198.1 918.0,198.1 918.5,197.8 919.0,197.3 919.5,197.3 920.0,196.3 920.5,196.7 921.0,196.1 921.5,195.4 922.0,195.6 922.5,195.6 923.0,194.9 923.5,195.3 924.0,195.0 924.5,194.1 925.0,194.4 925.5,193.9 926.0,193.5 926.5,193.4 927.0,193.1 927.5,192.7 928.0,192.7 928.5,192.7 929.0,192.7 929.5,192.5 930.0,191.7 930.5,191.6 931.0,191.2 931.5,191.5 932.0,190.6 932.5,190.4 933.0,190.4 933.5,190.4 934.0,190.1 934.5,190.0 935.0,189.8 935.5,189.6 936.0,189.1 936.5,189.1 937.0,189.1 937.5,188.8 938.0,188.8 938.5,188.2 939.0,188.4 939.5,188.4 940.0,187.8 940.5,187.7 941.0,187.5 941.5,187.4 942.0,187.2 942.5,187.3 943.0,186.9 943.5,186.9 944.0,186.6 944.5,186.0 945.0,186.2 945.5,185.9 946.0,185.7 946.5,185.4 947.0,185.5 947.5,185.2 948.0,185.7 948.5,185.4 949.0,184.8 949.5,184.9 950.0,184.8 950.5,184.3 951.0,184.7 951.5,184.3 952.0,183.9 952.5,183.3 953.0,183.3 953.5,183.5 954.0,183.2 954.5,183.1 955.0,182.8 955.5,182.9 956.0,182.5 956.5,182.1 957.0,182.3 957.5,182.1 958.0,181.7 958.5,182.3 959.0,181.7 959.5,181.5 960.0,181.7 960.5,181.3 961.0,181.4 961.5,180.7 962.0,180.6 962.5,180.9 963.0,181.0 963.5,180.5 964.0,180.4 964.5,180.0 965.0,180.1 965.5,179.7 966.0,179.7 966.5,179.8 967.0,179.0 967.5,179.4 968.0,179.1 968.5,179.0 969.0,179.3 969.5,178.9 970.0,179.0 970.5,178.2 971.0,178.4 971.5,178.3 972.0,178.1 972.5,178.2 973.0,178.2 973.5,177.6 974.0,177.5 974.5,177.3 975.0,177.8 975.5,177.3 976.0,177.3 976.5,177.1 977.0,176.8 977.5,177.1 978.0,177.0 978.5,177.0 979.0,176.6 979.5,176.5 980.0,176.3 980.5,176.7 981.0,176.5 981.5,176.1 982.0,176.2 982.5,175.7 983.0,176.3 983.5,175.5 984.0,175.5 984.5,175.4 985.0,175.8 985.5,175.3 986.0,175.5 986.5,175.1 987.0,174.7 987.5,175.1 988.0,174.6 988.5,174.4 989.0,174.5 989.5,174.7 990.0,174.9 990.5,174.0 991.0,173.7 991.5,174.4 992.0,174.2 992.5,173.8 993.0,174.0 993.5,174.0 994.0,174.2 994.5,173.6 995.0,173.9 995.5,173.4 996.0,173.3 996.5,173.4 997.0,173.0 997.5,172.8 998.0,173.3 998.5,172.5 999.0,173.0 999.5,172.8 1000.0,172.7 1000.5,172.4 1001.0,172.2 1001.5,172.5 1002.0,172.3 1002.5,172.5 1003.0,172.6 1003.5,172.3 1004.0,172.2 1004.5,172.5 1005.0,172.3 1005.5,172.2 1006.0,172.3 1006.5,172.5 1007.0,172.9 1007.5,172.8 1008.0,172.0 1008.5,172.0 1009.0,172.3 1009.5,172.4 1010.0,172.2 1010.5,172.8 1011.0,172.5 1011.5,172.6 1012.0,172.1 1012.5,171.9 1013.0,171.8 1013.5,172.0 1014.0,171.7 1014.5,171.8 1015.0,171.8 1015.5,172.1 1016.0,171.6 1016.5,171.3 1017.0,171.5 1017.5,171.6 1018.0,171.5 1018.5,171.1 1019.0,171.4 1019.5,171.4 1020.0,171.1 1020.5,170.9 1021.0,170.6 1021.5,170.4 1022.0,169.9 1022.5,170.4 1023.0,170.0 1023.5,170.0 1024.0,169.9 1024.5,169.5 1025.0,169.8 1025.5,169.4 1026.0,169.5 1026.5,169.1 1027.0,168.9 1027.5,168.6 1028.0,168.9 1028.5,167.8 1029.0,168.1 1029.5,168.0 1030.0,167.5 1030.5,167.5 1031.0,167.0 1031.5,167.5 1032.0,166.9 1032.5,167.2 1033.0,166.9 1033.5,166.6 1034.0,166.3 1034.5,166.4 1035.0,166.5 1035.5,166.3 1036.0,166.3 1036.5,165.8 1037.0,166.3 1037.5,165.7 1038.0,165.4 1038.5,165.9 1039.0,165.8 1039.5,165.3 1040.0,165.2 1040.5,165.5 1041.0,165.0 1041.5,165.4 1042.0,164.8 1042.5,165.2 1043.0,165.2 1043.5,165.5 1044.0,164.7 1044.5,165.3 1045.0,165.2 1045.5,165.3 1046.0,165.1 1046.5,165.0 1047.0,165.3 1047.5,165.3 1048.0,165.8 1048.5,165.5 1049.0,165.5 1049.5,165.7 1050.0,165.2 1050.5,165.8 1051.0,165.9 1051.5,166.0 1052.0,165.7 1052.5,165.5 1053.0,165.6 1053.5,166.0 1054.0,166.1 1054.5,166.3" fill="none" stroke="#d2d200" stroke-width="2.2" stroke-linejoin="round" stroke-linecap="round" />
<polyline points="710.0,422.4 710.5,422.2 711.0,421.9 711.5,421.9 712.0,421.7 712.5,421.9 713.0,421.7 713.5,421.5 714.0,421.1 714.5,421.5 715.0,420.9 715.5,421.4 716.0,421.2 716.5,420.6 717.0,420.9 717.5,420.5 718.0,420.7 718.5,420.7 719.0,420.5 719.5,420.1 720.0,420.4 720.5,420.3 721.0,420.1 721.5,419.8 722.0,419.9 722.5,419.9 723.0,419.7 723.5,420.0 724.0,419.5 724.5,419.3 725.0,419.4 725.5,418.9 726.0,419.1 726.5,419.2 727.0,418.6 727.5,418.7 728.0,418.7 728.5,418.1 729.0,418.6 729.5,417.9 730.0,418.0 730.5,418.0 731.0,417.7 731.5,417.8 732.0,417.5 732.5,417.5 733.0,417.2 733.5,417.4 734.0,416.6 734.5,416.9 735.0,416.6 735.5,416.4 736.0,416.3 736.5,416.2 737.0,416.3 737.5,415.8 738.0,415.8 738.5,415.8 739.0,415.4 739.5,415.7 740.0,415.8 740.5,415.1 741.0,415.2 741.5,414.9 742.0,414.9 742.5,414.6 743.0,415.0 743.5,414.3 744.0,414.4 744.5,414.2 745.0,413.8 745.5,413.4 746.0,413.8 746.5,413.8 747.0,413.4 747.5,413.2 748.0,413.4 748.5,413.2 749.0,413.1 749.5,412.8 750.0,412.5 750.5,412.3 751.0,412.0 751.5,412.3 752.0,412.5 752.5,412.1 753.0,411.9 753.5,411.4 754.0,411.5 754.5,411.5 755.0,411.3 755.5,411.4 756.0,411.1 756.5,411.2 757.0,410.9 757.5,410.7 758.0,410.9 758.5,410.4 759.0,410.4 759.5,410.1 760.0,410.3 760.5,410.4 761.0,410.3 761.5,410.4 762.0,410.4 762.5,410.4 763.0,410.4 763.5,410.4 764.0,410.1 764.5,410.5 765.0,410.6 765.5,410.3 766.0,410.6 766.5,410.8 767.0,410.6 767.5,410.4 768.0,410.7 768.5,411.1 769.0,410.7 769.5,410.9 770.0,410.8 770.5,410.9 771.0,411.1 771.5,411.4 772.0,411.0 772.5,411.0 773.0,411.0 773.5,411.0 774.0,410.9 774.5,411.0 775.0,411.2 775.5,411.2 776.0,411.4 776.5,411.0 777.0,411.0 777.5,410.9 778.0,411.1 778.5,411.0 779.0,411.1 779.5,410.8 780.0,411.1 780.5,411.0 781.0,410.7 781.5,410.6 782.0,410.7 782.5,410.4 783.0,410.9 783.5,410.5 784.0,410.5 784.5,410.1 785.0,409.9 785.5,410.3 786.0,410.2 786.5,409.9 787.0,409.9 787.5,409.8 788.0,409.9 788.5,410.0 789.0,409.4 789.5,409.8 790.0,409.4 790.5,409.4 791.0,409.5 791.5,409.2 792.0,410.0 792.5,409.8 793.0,409.5 793.5,409.4 794.0,409.0 794.5,409.7 795.0,409.2 795.5,409.2 796.0,409.4 796.5,409.2 797.0,409.0 797.5,409.1 798.0,409.1 798.5,409.2 799.0,409.4 799.5,409.4 800.0,409.6 800.5,409.3 801.0,409.6 801.5,409.8 802.0,409.2 802.5,409.6 803.0,409.3 803.5,409.3 804.0,410.0 804.5,409.9 805.0,409.8 805.5,409.7 806.0,410.2 806.5,409.6 807.0,410.0 807.5,410.1 808.0,410.3 808.5,409.8 809.0,409.5 809.5,410.2 810.0,410.3 810.5,410.4 811.0,410.3 811.5,410.5 812.0,410.3 812.5,410.8 813.0,411.0 813.5,410.7 814.0,410.5 814.5,410.9 815.0,410.8 815.5,410.8 816.0,411.1 816.5,410.8 817.0,411.1 817.5,410.8 818.0,410.4 818.5,410.8 819.0,410.5 819.5,410.4 820.0,410.5 820.5,410.4 821.0,410.0 821.5,410.1 822.0,410.4 822.5,410.2 823.0,410.2 823.5,410.2 824.0,410.3 824.5,409.8 825.0,409.7 825.5,409.6 826.0,409.6 826.5,409.5 827.0,409.6 827.5,409.6 828.0,409.7 828.5,409.3 829.0,409.3 829.5,409.5 830.0,409.5 830.5,408.9 831.0,409.2 831.5,409.2 832.0,408.8 832.5,409.3 833.0,409.4 833.5,408.7 834.0,408.8 834.5,409.3 835.0,409.3 835.5,408.8 836.0,408.8 836.5,409.1 837.0,408.9 837.5,408.8 838.0,409.2 838.5,408.9 839.0,408.5 839.5,408.9 840.0,408.5 840.5,408.9 841.0,408.9 841.5,408.8 842.0,408.9 842.5,409.0 843.0,408.7 843.5,408.5 844.0,408.3 844.5,408.5 845.0,408.2 845.5,408.1 846.0,408.2 846.5,407.9 847.0,408.0 847.5,408.3 848.0,408.0 848.5,408.0 849.0,408.0 849.5,407.5 850.0,407.9 850.5,407.8 851.0,407.7 851.5,407.7 852.0,407.1 852.5,407.8 853.0,407.2 853.5,406.9 854.0,407.0 854.5,406.6 855.0,406.7 855.5,406.6 856.0,406.0 856.5,406.2 857.0,405.8 857.5,405.5 858.0,405.2 858.5,405.0 859.0,404.8 859.5,404.4 860.0,403.9 860.5,403.3 861.0,403.2 861.5,402.6 862.0,402.0 862.5,401.9 863.0,401.3 863.5,401.2 864.0,400.5 864.5,400.1 865.0,399.7 865.5,399.0 866.0,398.5 866.5,398.3 867.0,397.3 867.5,396.8 868.0,396.4 868.5,396.1 869.0,395.4 869.5,394.6 870.0,394.1 870.5,394.0 871.0,393.1 871.5,392.4 872.0,391.8 872.5,392.0 873.0,391.0 873.5,389.7 874.0,389.4 874.5,389.0 875.0,388.1 875.5,387.8 876.0,387.3 876.5,386.3 877.0,385.7 877.5,384.9 878.0,384.5 878.5,384.0 879.0,383.2 879.5,382.2 880.0,381.9 880.5,381.0 881.0,380.8 881.5,379.9 882.0,379.3 882.5,378.5 883.0,377.8 883.5,377.3 884.0,376.6 884.5,376.3 885.0,375.1 885.5,374.9 886.0,374.0 886.5,373.7 887.0,372.6 887.5,372.6 888.0,371.7 888.5,371.0 889.0,370.8 889.5,370.1 890.0,369.6 890.5,369.3 891.0,368.3 891.5,367.9 892.0,367.5 892.5,367.1 893.0,366.4 893.5,365.9 894.0,365.7 894.5,365.2 895.0,364.8 895.5,364.0 896.0,363.1 896.5,363.2 897.0,362.8 897.5,361.9 898.0,361.7 898.5,361.3 899.0,360.8 899.5,360.1 900.0,359.8 900.5,359.4 901.0,358.4 901.5,358.5 902.0,357.7 902.5,357.5 903.0,356.7 903.5,355.9 904.0,356.0 904.5,355.6 905.0,354.4 905.5,354.0 906.0,353.7 906.5,353.0 907.0,352.8 907.5,352.0 908.0,351.6 908.5,351.2 909.0,350.2 909.5,350.1 910.0,350.1 910.5,349.3 911.0,348.5 911.5,348.4 912.0,348.2 912.5,347.5 913.0,346.7 913.5,346.3 914.0,345.9 914.5,345.3 915.0,345.1 915.5,344.5 916.0,344.1 916.5,343.9 917.0,343.3 917.5,342.9 918.0,343.0 918.5,342.3 919.0,342.1 919.5,341.5 920.0,341.2 920.5,340.5 921.0,340.4 921.5,340.1 922.0,339.8 922.5,339.6 923.0,339.5 923.5,339.2 924.0,339.2 924.5,338.9 925.0,339.1 925.5,338.7 926.0,338.6 926.5,338.4 927.0,338.4 927.5,338.5 928.0,338.8 928.5,338.3 929.0,338.7 929.5,338.5 930.0,338.4 930.5,338.3 931.0,338.7 931.5,338.2 932.0,338.5 932.5,338.6 933.0,338.6 933.5,338.8 934.0,338.5 934.5,338.6 935.0,338.3 935.5,338.6 936.0,338.6 936.5,338.4 937.0,338.5 937.5,338.4 938.0,338.3 938.5,338.3 939.0,338.2 939.5,337.8 940.0,337.8 940.5,338.2 941.0,337.6 941.5,338.2 942.0,337.6 942.5,337.8 943.0,337.8 943.5,337.5 944.0,337.8 944.5,337.2 945.0,337.6 945.5,337.3 946.0,337.2 946.5,337.3 947.0,337.1 947.5,336.7 948.0,337.1 948.5,336.9 949.0,336.7 949.5,336.6 950.0,336.7 950.5,336.7 951.0,336.4 951.5,336.0 952.0,336.2 952.5,336.2 953.0,335.8 953.5,335.7 954.0,335.9 954.5,335.8 955.0,335.9 955.5,336.0 956.0,335.3 956.5,335.7 957.0,335.6 957.5,335.7 958.0,335.7 958.5,336.0 959.0,335.9 959.5,335.8 960.0,335.9 960.5,336.0 961.0,336.0 961.5,336.4 962.0,335.8 962.5,336.0 963.0,336.7 963.5,336.5 964.0,336.6 964.5,336.7 965.0,336.1 965.5,336.9 966.0,336.4 966.5,336.5 967.0,336.9 967.5,336.5 968.0,336.9 968.5,337.1 969.0,336.8 969.5,336.8 970.0,337.1 970.5,337.2 971.0,337.2 971.5,336.8 972.0,337.5 972.5,337.4 973.0,336.8 973.5,337.1 974.0,337.1 974.5,337.2 975.0,337.5 975.5,337.3 976.0,337.7 976.5,337.7 977.0,337.6 977.5,337.3 978.0,337.6 978.5,337.7 979.0,337.8 979.5,337.5 980.0,337.6 980.5,337.4 981.0,337.5 981.5,337.9 982.0,338.0 982.5,337.6 983.0,337.6 983.5,337.5 984.0,337.3 984.5,337.7 985.0,337.7 985.5,337.7 986.0,337.6 986.5,337.7 987.0,337.6 987.5,337.8 988.0,337.7 988.5,337.9 989.0,337.8 989.5,337.6 990.0,337.3 990.5,337.6 991.0,337.6 991.5,337.9 992.0,337.6 992.5,337.3 993.0,337.3 993.5,337.7 994.0,337.4 994.5,337.2 995.0,337.5 995.5,337.5 996.0,337.4 996.5,337.6 997.0,337.4 997.5,337.8 998.0,337.2 998.5,337.6 999.0,337.6 999.5,337.7 1000.0,337.4 1000.5,337.3 1001.0,337.7 1001.5,337.5 1002.0,337.3 1002.5,337.6 1003.0,337.7 1003.5,337.5 1004.0,337.2 1004.5,337.6 1005.0,337.1 1005.5,337.5 1006.0,337.6 1006.5,337.3 1007.0,337.4 1007.5,337.4 1008.0,337.3 1008.5,337.2 1009.0,337.3 1009.5,337.3 1010.0,337.7 1010.5,337.1 1011.0,337.7 1011.5,337.3 1012.0,337.2 1012.5,337.3 1013.0,337.2 1013.5,337.0 1014.0,337.5 1014.5,337.4 1015.0,337.2 1015.5,337.1 1016.0,337.3 1016.5,337.1 1017.0,337.7 1017.5,337.0 1018.0,337.2 1018.5,337.2 1019.0,337.5 1019.5,337.5 1020.0,337.4 1020.5,337.4 1021.0,337.5 1021.5,337.3 1022.0,337.6 1022.5,337.2 1023.0,337.6 1023.5,337.4 1024.0,337.7 1024.5,337.3 1025.0,337.4 1025.5,337.4 1026.0,337.8 1026.5,337.3 1027.0,337.8 1027.5,337.7 1028.0,337.8 1028.5,337.5 1029.0,337.8 1029.5,338.1 1030.0,337.6 1030.5,337.8 1031.0,337.8 1031.5,337.6 1032.0,337.7 1032.5,338.0 1033.0,338.0 1033.5,337.5 1034.0,338.2 1034.5,338.0 1035.0,338.3 1035.5,338.1 1036.0,338.7 1036.5,338.1 1037.0,338.5 1037.5,338.2 1038.0,338.6 1038.5,338.4 1039.0,338.9 1039.5,338.7 1040.0,339.1 1040.5,338.9 1041.0,338.6 1041.5,338.9 1042.0,339.0 1042.5,339.5 1043.0,339.9 1043.5,339.4 1044.0,339.6 1044.5,339.8 1045.0,339.5 1045.5,339.7 1046.0,340.0 1046.5,340.1 1047.0,340.1 1047.5,340.0 1048.0,340.4 1048.5,340.6 1049.0,340.4 1049.5,340.7 1050.0,341.2 1050.5,341.0 1051.0,341.1 1051.5,340.9 1052.0,341.1 1052.5,341.3 1053.0,341.3 1053.5,341.3 1054.0,341.3 1054.5,341.7" fill="none" stroke="#d932f5" stroke-width="2.2" stroke-linejoin="round" stroke-linecap="round" />
<rect x="710" y="10.8" width="344.8" height="436.5" fill="none" stroke="#000" stroke-width="2"/>
<line x1="710" y1="338.1" x2="718" y2="338.1" stroke="#000" stroke-width="2" />
<line x1="710" y1="228.9" x2="718" y2="228.9" stroke="#000" stroke-width="2" />
<line x1="710" y1="119.7" x2="718" y2="119.7" stroke="#000" stroke-width="2" />
<line x1="710" y1="392.7" x2="714" y2="392.7" stroke="#000" stroke-width="2" />
<line x1="710" y1="283.5" x2="714" y2="283.5" stroke="#000" stroke-width="2" />
<line x1="710" y1="174.3" x2="714" y2="174.3" stroke="#000" stroke-width="2" />
<line x1="710" y1="65.1" x2="714" y2="65.1" stroke="#000" stroke-width="2" />
<line x1="778.96" y1="447.3" x2="778.96" y2="439.3" stroke="#000" stroke-width="2" />
<line x1="847.92" y1="447.3" x2="847.92" y2="439.3" stroke="#000" stroke-width="2" />
<line x1="916.88" y1="447.3" x2="916.88" y2="439.3" stroke="#000" stroke-width="2" />
<line x1="985.84" y1="447.3" x2="985.84" y2="439.3" stroke="#000" stroke-width="2" />
<line x1="744.48" y1="447.3" x2="744.48" y2="443.3" stroke="#000" stroke-width="2" />
<line x1="813.44" y1="447.3" x2="813.44" y2="443.3" stroke="#000" stroke-width="2" />
<line x1="882.4" y1="447.3" x2="882.4" y2="443.3" stroke="#000" stroke-width="2" />
<line x1="951.36" y1="447.3" x2="951.36" y2="443.3" stroke="#000" stroke-width="2" />
<line x1="1020.32" y1="447.3" x2="1020.32" y2="443.3" stroke="#000" stroke-width="2" />
<text transform="translate(615.57,18.4) scale(1.0313,1)" font-family="'Liberation Sans', Arial, Helvetica, sans-serif" font-size="26.67" fill="#000" xml:space="preserve" ><tspan x="0" y="0">0.0020</tspan></text>
<text transform="translate(615.57,128.4) scale(1.0313,1)" font-family="'Liberation Sans', Arial, Helvetica, sans-serif" font-size="26.67" fill="#000" xml:space="preserve" ><tspan x="0" y="0">0.0015</tspan></text>
<text transform="translate(615.57,237.6) scale(1.0313,1)" font-family="'Liberation Sans', Arial, Helvetica, sans-serif" font-size="26.67" fill="#000" xml:space="preserve" ><tspan x="0" y="0">0.0010</tspan></text>
<text transform="translate(615.57,346.8) scale(1.0313,1)" font-family="'Liberation Sans', Arial, Helvetica, sans-serif" font-size="26.67" fill="#000" xml:space="preserve" ><tspan x="0" y="0">0.0005</tspan></text>
<text transform="translate(615.57,455.5) scale(1.0313,1)" font-family="'Liberation Sans', Arial, Helvetica, sans-serif" font-size="26.67" fill="#000" xml:space="preserve" ><tspan x="0" y="0">0.0000</tspan></text>
<text transform="translate(687.14,476.5) scale(1.0621,1)" font-family="'Liberation Sans', Arial, Helvetica, sans-serif" font-size="25.22" fill="#000" xml:space="preserve" ><tspan x="0" y="0">100</tspan></text>
<text transform="translate(756.1,476.5) scale(1.0621,1)" font-family="'Liberation Sans', Arial, Helvetica, sans-serif" font-size="25.22" fill="#000" xml:space="preserve" ><tspan x="0" y="0">200</tspan></text>
<text transform="translate(826.12,476.5) scale(1.0368,1)" font-family="'Liberation Sans', Arial, Helvetica, sans-serif" font-size="25.22" fill="#000" xml:space="preserve" ><tspan x="0" y="0">300</tspan></text>
<text transform="translate(895.08,476.5) scale(1.0368,1)" font-family="'Liberation Sans', Arial, Helvetica, sans-serif" font-size="25.22" fill="#000" xml:space="preserve" ><tspan x="0" y="0">400</tspan></text>
<text transform="translate(962.98,476.5) scale(1.0621,1)" font-family="'Liberation Sans', Arial, Helvetica, sans-serif" font-size="25.22" fill="#000" xml:space="preserve" ><tspan x="0" y="0">500</tspan></text>
<text transform="translate(1031.94,476.5) scale(1.0621,1)" font-family="'Liberation Sans', Arial, Helvetica, sans-serif" font-size="25.22" fill="#000" xml:space="preserve" ><tspan x="0" y="0">600</tspan></text>
<text transform="translate(742,520.2) scale(1.0303,1)" font-family="'Liberation Sans', Arial, Helvetica, sans-serif" font-size="38.84" fill="#000" xml:space="preserve" ><tspan x="0" y="0">Temperature/°C</tspan></text>
<text transform="translate(600.3,324.17) rotate(-90) scale(0.8904,1)" font-family="'Liberation Sans', Arial, Helvetica, sans-serif" font-size="42.17" fill="#000" xml:space="preserve" ><tspan x="0" y="0">Ion current/A</tspan></text>
<text transform="translate(564.4,54.6) scale(1.0000,1)" font-family="'Liberation Sans', Arial, Helvetica, sans-serif" font-size="72" fill="#000" xml:space="preserve" ><tspan x="0" y="0">b</tspan></text>
<line x1="848.9" y1="41.1" x2="899.3" y2="41.1" stroke="#d2d200" stroke-width="2.4" />
<text transform="translate(908.32,48.9) scale(0.9891,1)" font-family="'Liberation Sans', Arial, Helvetica, sans-serif" font-size="35.94" fill="#000" xml:space="preserve" ><tspan x="0" y="0">m/z = 17</tspan></text>
<line x1="848.9" y1="80.1" x2="899.3" y2="80.1" stroke="#d932f5" stroke-width="2.4" />
<text transform="translate(908.32,86.8) scale(0.9891,1)" font-family="'Liberation Sans', Arial, Helvetica, sans-serif" font-size="35.94" fill="#000" xml:space="preserve" ><tspan x="0" y="0">m/z = 44</tspan></text>
<text transform="translate(986.57,150.6) scale(1.0131,1)" font-family="'Liberation Sans', Arial, Helvetica, sans-serif" font-size="32.32" fill="#000" xml:space="preserve" ><tspan x="0" y="0">NH</tspan><tspan x="46.67" y="8.73" font-size="20.04">3</tspan></text>
<text transform="translate(986.85,325.8) scale(1.0493,1)" font-family="'Liberation Sans', Arial, Helvetica, sans-serif" font-size="31.43" fill="#000" xml:space="preserve" ><tspan x="0" y="0">CO</tspan><tspan x="47.13" y="8.49" font-size="19.49">2</tspan></text>
<text transform="translate(1106.81,42.9) scale(1.0312,1)" font-family="'Liberation Sans', Arial, Helvetica, sans-serif" font-size="72" fill="#000" xml:space="preserve" ><tspan x="0" y="0">c</tspan></text>
<text transform="translate(1160.49,108.2) scale(0.9703,1)" font-family="'Liberation Sans', Arial, Helvetica, sans-serif" font-size="37.29" fill="#000" xml:space="preserve" ><tspan x="0" y="0">Reactant</tspan></text>
<path d="M 1367.0,324 L 1367.0,446.9 A 30,30 0 0 1 1337.0,476.9 L 1146.2,476.9 A 30,30 0 0 1 1116.2,446.9 L 1116.2,163.4 A 30,30 0 0 1 1146.2,133.4 L 1337.0,133.4 A 30,30 0 0 1 1367.0,163.4 L 1367.0,276" fill="none" stroke="#0b1a3c" stroke-width="4.3" stroke-dasharray="4.3 4.6"/>
<text transform="translate(1228.91,193.3) scale(0.8913,1)" font-family="'Liberation Sans', Arial, Helvetica, sans-serif" font-size="37.46" fill="#2cb1f5" xml:space="preserve" ><tspan x="0" y="0">S</tspan></text>
<line x1="1236.8" y1="199.3" x2="1236.8" y2="233.5" stroke="#000" stroke-width="2" />
<line x1="1245.4" y1="199.3" x2="1245.4" y2="233.5" stroke="#000" stroke-width="2" />
<line x1="1241.1" y1="232.5" x2="1211.7" y2="250" stroke="#000" stroke-width="2" />
<line x1="1241.1" y1="232.5" x2="1268.4" y2="250" stroke="#000" stroke-width="2" />
<text transform="translate(1139.27,274.7) scale(1.0100,1)" font-family="'Liberation Sans', Arial, Helvetica, sans-serif" font-size="36.81" fill="#000" xml:space="preserve" ><tspan x="0" y="0">H</tspan><tspan x="26.57" y="8.1" font-size="25.03">2</tspan><tspan x="40.49" y="0">N</tspan></text>
<text transform="translate(1272.63,274.7) scale(1.0246,1)" font-family="'Liberation Sans', Arial, Helvetica, sans-serif" font-size="36.81" fill="#000" xml:space="preserve" ><tspan x="0" y="0">NH</tspan><tspan x="53.15" y="8.1" font-size="25.03">2</tspan></text>
<line x1="1228.4" y1="324.2" x2="1254.4" y2="324.2" stroke="#000" stroke-width="2.4" />
<line x1="1241.4" y1="311.2" x2="1241.4" y2="337.2" stroke="#000" stroke-width="2.4" />
<text transform="translate(1179.81,424.5) scale(0.9634,1)" font-family="'Liberation Sans', Arial, Helvetica, sans-serif" font-size="42.03" fill="#000" xml:space="preserve" ><tspan x="0" y="0" fill="#2cb1f5">Li</tspan><tspan x="32.7" y="9.25" font-size="28.58" fill="#2cb1f5">2</tspan><tspan x="48.6" y="0">CO</tspan><tspan x="111.62" y="9.25" font-size="28.58">3</tspan></text>
<text transform="translate(1377.42,193.3) scale(0.9786,1)" font-family="'Liberation Sans', Arial, Helvetica, sans-serif" font-size="27.57" fill="#dc141e" xml:space="preserve" ><tspan x="0" y="0">200 °C</tspan></text>
<line x1="1376" y1="211.9" x2="1467.5" y2="211.9" stroke="#000" stroke-width="2" />
<polyline points="1459.0,218.2 1468.0,211.9 1459.0,205.6" fill="none" stroke="#000" stroke-width="2" stroke-linecap="round" stroke-linejoin="miter"/>
<text transform="translate(1479.39,224.9) scale(0.9087,1)" font-family="'Liberation Sans', Arial, Helvetica, sans-serif" font-size="38.59" fill="#2cb1f5" xml:space="preserve" ><tspan x="0" y="0">S</tspan></text>
<text transform="translate(1534.29,224.9) scale(0.9077,1)" font-family="'Liberation Sans', Arial, Helvetica, sans-serif" font-size="39.14" fill="#000" xml:space="preserve" ><tspan x="0" y="0">C</tspan></text>
<text transform="translate(1591.05,224.9) scale(0.9478,1)" font-family="'Liberation Sans', Arial, Helvetica, sans-serif" font-size="38.59" fill="#2cb1f5" xml:space="preserve" ><tspan x="0" y="0">S</tspan></text>
<line x1="1507.2" y1="204.8" x2="1529.2" y2="204.8" stroke="#000" stroke-width="2.1" />
<line x1="1507.2" y1="215" x2="1529.2" y2="215" stroke="#000" stroke-width="2.1" />
<line x1="1564.8" y1="204.8" x2="1586.6" y2="204.8" stroke="#000" stroke-width="2.1" />
<line x1="1564.8" y1="215" x2="1586.6" y2="215" stroke="#000" stroke-width="2.1" />
<line x1="1623.7" y1="211.2" x2="1649" y2="211.2" stroke="#000" stroke-width="2.4" />
<line x1="1636.4" y1="198.1" x2="1636.4" y2="224.1" stroke="#000" stroke-width="2.4" />
<rect x="1665" y="173.3" width="211.3" height="82.3" rx="7" ry="7" fill="none" stroke="#ef7020" stroke-width="4.4" stroke-dasharray="4.2 4.9" />
<text transform="translate(1674.62,225.1) scale(1.0260,1)" font-family="'Liberation Sans', Arial, Helvetica, sans-serif" font-size="40.43" fill="#aa0505" xml:space="preserve" ><tspan x="0" y="0">H</tspan><tspan x="29.19" y="8.9" font-size="27.09">2</tspan><tspan x="44.25" y="0">N</tspan></text>
<line x1="1752.9" y1="209.6" x2="1775.9" y2="209.6" stroke="#aa0505" stroke-width="2.2" />
<text transform="translate(1780.22,225.1) scale(0.9385,1)" font-family="'Liberation Sans', Arial, Helvetica, sans-serif" font-size="39.86" fill="#aa0505" xml:space="preserve" ><tspan x="0" y="0">C</tspan></text>
<line x1="1813.6" y1="199.3" x2="1836.1" y2="199.3" stroke="#aa0505" stroke-width="2.2" />
<line x1="1813.6" y1="209.6" x2="1836.1" y2="209.6" stroke="#aa0505" stroke-width="2.2" />
<line x1="1813.6" y1="220.2" x2="1836.1" y2="220.2" stroke="#aa0505" stroke-width="2.2" />
<text transform="translate(1838.4,225.1) scale(1.0000,1)" font-family="'Liberation Sans', Arial, Helvetica, sans-serif" font-size="40.43" fill="#aa0505" xml:space="preserve" ><tspan x="0" y="0">N</tspan></text>
<line x1="1890.1" y1="211.3" x2="1915.2" y2="211.3" stroke="#000" stroke-width="2.4" />
<line x1="1902.6" y1="198" x2="1902.6" y2="224.6" stroke="#000" stroke-width="2.4" />
<text transform="translate(1924.36,226.4) scale(0.9800,1)" font-family="'Liberation Sans', Arial, Helvetica, sans-serif" font-size="44.93" fill="#000" xml:space="preserve" ><tspan x="0" y="0">NH</tspan><tspan x="64.88" y="11.68" font-size="27.86">3</tspan></text>
<text transform="translate(1776.4,35.1) scale(0.9421,1)" font-family="'Liberation Sans', Arial, Helvetica, sans-serif" font-size="32.29" fill="#be0000" font-weight="bold" xml:space="preserve" ><tspan x="0" y="0">Solid Impurity</tspan></text>
<rect x="1826.3" y="54.6" width="110.5" height="83" rx="7" ry="7" fill="none" stroke="#ef7020" stroke-width="4.4" stroke-dasharray="4.2 4.9" />
<text transform="translate(1845.47,109.2) scale(0.9626,1)" font-family="'Liberation Sans', Arial, Helvetica, sans-serif" font-size="42.29" fill="#aa0505" xml:space="preserve" ><tspan x="0" y="0">CN</tspan><tspan x="61.07" y="10.99" font-size="27.91" font-style="italic">x</tspan></text>
<line x1="1731.2" y1="166.1" x2="1815" y2="98.9" stroke="#000" stroke-width="2.2" />
<polyline points="1811.4,110.6 1815.7,98.3 1802.8,99.8" fill="none" stroke="#000" stroke-width="2.2" stroke-linecap="round" stroke-linejoin="miter"/>
<text transform="translate(1762.2,127.6) rotate(-38.7)" font-family="'Liberation Sans', Arial, Helvetica, sans-serif" font-size="27" fill="#c01818" text-anchor="middle" xml:space="preserve">600 °C</text>
<path d="M 1246.7,388.0 C 1330.1,315.0 1428.9,240.3 1545,240.3 C 1623.7,240.3 1742.8,275.9 1788.5,345" fill="none" stroke="#0b5cc6" stroke-width="2.9"/>
<path d="M 1793.7,354.4 L 1773.8,343.4 L 1787.1,344.1 L 1791.8,330.9 Z" fill="#0b5cc6" stroke="#0b5cc6" stroke-width="1" stroke-linejoin="miter"/>
<text transform="translate(1484,285) scale(0.9798,1)" font-family="'Liberation Sans', Arial, Helvetica, sans-serif" font-size="32.05" fill="#0b5cc6" xml:space="preserve" ><tspan x="0" y="0">sulfidation</tspan></text>
<text transform="translate(1506.04,424.6) scale(0.9814,1)" font-family="'Liberation Sans', Arial, Helvetica, sans-serif" font-size="41.14" fill="#000" xml:space="preserve" ><tspan x="0" y="0">CO</tspan><tspan x="61.69" y="9.05" font-size="27.98">2</tspan></text>
<line x1="1628.6" y1="410" x2="1654.6" y2="410" stroke="#000" stroke-width="2.4" />
<line x1="1641.6" y1="397" x2="1641.6" y2="423" stroke="#000" stroke-width="2.4" />
<rect x="1718" y="364.8" width="129.8" height="96.5" rx="10" ry="10" fill="none" stroke="#2ea8f0" stroke-width="4.4" stroke-dasharray="4.2 4.9" />
<text transform="translate(1746.15,425.2) scale(0.9512,1)" font-family="'Liberation Sans', Arial, Helvetica, sans-serif" font-size="42.61" fill="#2ea8f0" xml:space="preserve" ><tspan x="0" y="0">Li</tspan><tspan x="33.16" y="9.37" font-size="28.97">2</tspan><tspan x="49.27" y="0">S</tspan></text>
<text transform="translate(1685.85,495.7) scale(1.0242,1)" font-family="'Liberation Sans', Arial, Helvetica, sans-serif" font-size="29.86" fill="#2ea8f0" font-weight="bold" xml:space="preserve" ><tspan x="0" y="0">Main Product</tspan></text>
<path d="M57.3 786.8l2.5-4.4 2.5 4.4zM57.7 791.7l2.5-4.4 2.5 4.4zM58.1 791.3l2.5-4.4 2.5 4.4zM58.5 785.2l2.5-4.4 2.5 4.4zM59.0 786.0l2.5-4.4 2.5 4.4zM59.4 785.3l2.5-4.4 2.5 4.4zM59.8 789.4l2.5-4.4 2.5 4.4zM60.2 787.3l2.5-4.4 2.5 4.4zM60.6 790.3l2.5-4.4 2.5 4.4zM61.0 781.1l2.5-4.4 2.5 4.4zM61.4 793.5l2.5-4.4 2.5 4.4zM61.8 787.6l2.5-4.4 2.5 4.4zM62.3 790.5l2.5-4.4 2.5 4.4zM62.7 787.7l2.5-4.4 2.5 4.4zM63.1 786.9l2.5-4.4 2.5 4.4zM63.5 790.0l2.5-4.4 2.5 4.4zM63.9 791.3l2.5-4.4 2.5 4.4zM64.3 787.6l2.5-4.4 2.5 4.4zM64.7 787.8l2.5-4.4 2.5 4.4zM65.1 790.8l2.5-4.4 2.5 4.4zM65.6 785.2l2.5-4.4 2.5 4.4zM66.0 782.8l2.5-4.4 2.5 4.4zM66.4 789.6l2.5-4.4 2.5 4.4zM66.8 785.7l2.5-4.4 2.5 4.4zM67.2 781.1l2.5-4.4 2.5 4.4zM67.6 785.0l2.5-4.4 2.5 4.4zM68.0 786.2l2.5-4.4 2.5 4.4zM68.4 783.5l2.5-4.4 2.5 4.4zM68.9 782.3l2.5-4.4 2.5 4.4zM69.3 787.7l2.5-4.4 2.5 4.4zM69.7 790.7l2.5-4.4 2.5 4.4zM70.1 786.6l2.5-4.4 2.5 4.4zM70.5 784.6l2.5-4.4 2.5 4.4zM70.9 788.6l2.5-4.4 2.5 4.4zM71.3 789.7l2.5-4.4 2.5 4.4zM71.7 785.9l2.5-4.4 2.5 4.4zM72.2 788.8l2.5-4.4 2.5 4.4zM72.6 790.5l2.5-4.4 2.5 4.4zM73.0 785.9l2.5-4.4 2.5 4.4zM73.4 783.6l2.5-4.4 2.5 4.4zM73.8 787.7l2.5-4.4 2.5 4.4zM74.2 787.2l2.5-4.4 2.5 4.4zM74.6 790.1l2.5-4.4 2.5 4.4zM75.1 781.4l2.5-4.4 2.5 4.4zM75.5 783.5l2.5-4.4 2.5 4.4zM75.9 782.8l2.5-4.4 2.5 4.4zM76.3 779.4l2.5-4.4 2.5 4.4zM76.7 786.0l2.5-4.4 2.5 4.4zM77.1 787.3l2.5-4.4 2.5 4.4zM77.5 782.6l2.5-4.4 2.5 4.4zM77.9 790.1l2.5-4.4 2.5 4.4zM78.4 787.9l2.5-4.4 2.5 4.4zM78.8 787.1l2.5-4.4 2.5 4.4zM79.2 786.1l2.5-4.4 2.5 4.4zM79.6 788.0l2.5-4.4 2.5 4.4zM80.0 779.6l2.5-4.4 2.5 4.4zM80.4 786.5l2.5-4.4 2.5 4.4zM80.8 786.3l2.5-4.4 2.5 4.4zM81.2 777.6l2.5-4.4 2.5 4.4zM81.7 785.1l2.5-4.4 2.5 4.4zM82.1 782.8l2.5-4.4 2.5 4.4zM82.5 786.3l2.5-4.4 2.5 4.4zM82.9 781.8l2.5-4.4 2.5 4.4zM83.3 783.2l2.5-4.4 2.5 4.4zM83.7 784.3l2.5-4.4 2.5 4.4zM84.1 779.8l2.5-4.4 2.5 4.4zM84.5 784.9l2.5-4.4 2.5 4.4zM85.0 782.3l2.5-4.4 2.5 4.4zM85.4 784.3l2.5-4.4 2.5 4.4zM85.8 780.5l2.5-4.4 2.5 4.4zM86.2 786.1l2.5-4.4 2.5 4.4zM86.6 784.2l2.5-4.4 2.5 4.4zM87.0 781.2l2.5-4.4 2.5 4.4zM87.4 783.9l2.5-4.4 2.5 4.4zM87.8 786.0l2.5-4.4 2.5 4.4zM88.3 787.8l2.5-4.4 2.5 4.4zM88.7 775.5l2.5-4.4 2.5 4.4zM89.1 784.1l2.5-4.4 2.5 4.4zM89.5 782.4l2.5-4.4 2.5 4.4zM89.9 780.2l2.5-4.4 2.5 4.4zM90.3 776.7l2.5-4.4 2.5 4.4zM90.7 784.7l2.5-4.4 2.5 4.4zM91.1 775.4l2.5-4.4 2.5 4.4zM91.6 781.8l2.5-4.4 2.5 4.4zM92.0 784.2l2.5-4.4 2.5 4.4zM92.4 773.6l2.5-4.4 2.5 4.4zM92.8 778.0l2.5-4.4 2.5 4.4zM93.2 774.2l2.5-4.4 2.5 4.4zM93.6 779.6l2.5-4.4 2.5 4.4zM94.0 784.0l2.5-4.4 2.5 4.4zM94.5 785.6l2.5-4.4 2.5 4.4zM94.9 771.7l2.5-4.4 2.5 4.4zM95.3 775.8l2.5-4.4 2.5 4.4zM95.7 780.2l2.5-4.4 2.5 4.4zM96.1 783.1l2.5-4.4 2.5 4.4zM96.5 778.8l2.5-4.4 2.5 4.4zM96.9 774.4l2.5-4.4 2.5 4.4zM97.3 777.9l2.5-4.4 2.5 4.4zM97.8 776.6l2.5-4.4 2.5 4.4zM98.2 775.7l2.5-4.4 2.5 4.4zM98.6 773.6l2.5-4.4 2.5 4.4zM99.0 777.4l2.5-4.4 2.5 4.4zM99.4 776.9l2.5-4.4 2.5 4.4zM99.8 775.3l2.5-4.4 2.5 4.4zM100.2 774.6l2.5-4.4 2.5 4.4zM100.6 770.6l2.5-4.4 2.5 4.4zM101.1 773.3l2.5-4.4 2.5 4.4zM101.5 779.2l2.5-4.4 2.5 4.4zM101.9 774.0l2.5-4.4 2.5 4.4zM102.3 769.3l2.5-4.4 2.5 4.4zM102.7 779.2l2.5-4.4 2.5 4.4zM103.1 776.1l2.5-4.4 2.5 4.4zM103.5 781.6l2.5-4.4 2.5 4.4zM103.9 774.1l2.5-4.4 2.5 4.4zM104.4 772.1l2.5-4.4 2.5 4.4zM104.8 768.4l2.5-4.4 2.5 4.4zM105.2 778.2l2.5-4.4 2.5 4.4zM105.6 782.5l2.5-4.4 2.5 4.4zM106.0 770.2l2.5-4.4 2.5 4.4zM106.4 770.7l2.5-4.4 2.5 4.4zM106.8 775.1l2.5-4.4 2.5 4.4zM107.2 769.8l2.5-4.4 2.5 4.4zM107.7 771.7l2.5-4.4 2.5 4.4zM108.1 771.3l2.5-4.4 2.5 4.4zM108.5 773.2l2.5-4.4 2.5 4.4zM108.9 776.3l2.5-4.4 2.5 4.4zM109.3 772.4l2.5-4.4 2.5 4.4zM109.7 775.6l2.5-4.4 2.5 4.4zM110.1 770.7l2.5-4.4 2.5 4.4zM110.6 773.3l2.5-4.4 2.5 4.4zM111.0 764.4l2.5-4.4 2.5 4.4zM111.4 766.8l2.5-4.4 2.5 4.4zM111.8 774.9l2.5-4.4 2.5 4.4zM112.2 769.9l2.5-4.4 2.5 4.4zM112.6 774.1l2.5-4.4 2.5 4.4zM113.0 773.9l2.5-4.4 2.5 4.4zM113.4 776.7l2.5-4.4 2.5 4.4zM113.9 774.9l2.5-4.4 2.5 4.4zM114.3 775.7l2.5-4.4 2.5 4.4zM114.7 771.6l2.5-4.4 2.5 4.4zM115.1 769.5l2.5-4.4 2.5 4.4zM115.5 769.5l2.5-4.4 2.5 4.4zM115.9 770.4l2.5-4.4 2.5 4.4zM116.3 768.1l2.5-4.4 2.5 4.4zM116.7 770.3l2.5-4.4 2.5 4.4zM117.2 772.0l2.5-4.4 2.5 4.4zM117.6 773.3l2.5-4.4 2.5 4.4zM118.0 771.2l2.5-4.4 2.5 4.4zM118.4 765.6l2.5-4.4 2.5 4.4zM118.8 772.3l2.5-4.4 2.5 4.4zM119.2 773.5l2.5-4.4 2.5 4.4zM119.6 776.7l2.5-4.4 2.5 4.4zM120.0 775.0l2.5-4.4 2.5 4.4zM120.5 770.7l2.5-4.4 2.5 4.4zM120.9 770.5l2.5-4.4 2.5 4.4zM121.3 780.5l2.5-4.4 2.5 4.4zM121.7 776.1l2.5-4.4 2.5 4.4zM122.1 780.1l2.5-4.4 2.5 4.4zM122.5 781.3l2.5-4.4 2.5 4.4zM122.9 770.8l2.5-4.4 2.5 4.4zM123.3 775.2l2.5-4.4 2.5 4.4zM123.8 775.6l2.5-4.4 2.5 4.4zM124.2 776.2l2.5-4.4 2.5 4.4zM124.6 776.2l2.5-4.4 2.5 4.4zM125.0 775.2l2.5-4.4 2.5 4.4zM125.4 775.2l2.5-4.4 2.5 4.4zM125.8 769.3l2.5-4.4 2.5 4.4zM126.2 774.3l2.5-4.4 2.5 4.4zM126.7 772.4l2.5-4.4 2.5 4.4zM127.1 775.7l2.5-4.4 2.5 4.4zM127.5 773.7l2.5-4.4 2.5 4.4zM127.9 777.8l2.5-4.4 2.5 4.4zM128.3 778.7l2.5-4.4 2.5 4.4zM128.7 777.0l2.5-4.4 2.5 4.4zM129.1 777.2l2.5-4.4 2.5 4.4zM129.5 776.6l2.5-4.4 2.5 4.4zM130.0 774.8l2.5-4.4 2.5 4.4zM130.4 776.0l2.5-4.4 2.5 4.4zM130.8 775.0l2.5-4.4 2.5 4.4zM131.2 778.3l2.5-4.4 2.5 4.4zM131.6 777.1l2.5-4.4 2.5 4.4zM132.0 779.4l2.5-4.4 2.5 4.4zM132.4 772.7l2.5-4.4 2.5 4.4zM132.8 780.8l2.5-4.4 2.5 4.4zM133.3 775.0l2.5-4.4 2.5 4.4zM133.7 775.3l2.5-4.4 2.5 4.4zM134.1 777.4l2.5-4.4 2.5 4.4zM134.5 776.3l2.5-4.4 2.5 4.4zM134.9 779.6l2.5-4.4 2.5 4.4zM135.3 776.7l2.5-4.4 2.5 4.4zM135.7 775.1l2.5-4.4 2.5 4.4zM136.1 776.1l2.5-4.4 2.5 4.4zM136.6 784.1l2.5-4.4 2.5 4.4zM137.0 779.8l2.5-4.4 2.5 4.4zM137.4 775.7l2.5-4.4 2.5 4.4zM137.8 780.1l2.5-4.4 2.5 4.4zM138.2 774.7l2.5-4.4 2.5 4.4zM138.6 787.0l2.5-4.4 2.5 4.4zM139.0 775.3l2.5-4.4 2.5 4.4zM139.4 782.8l2.5-4.4 2.5 4.4zM139.9 783.3l2.5-4.4 2.5 4.4zM140.3 776.4l2.5-4.4 2.5 4.4zM140.7 782.9l2.5-4.4 2.5 4.4zM141.1 785.7l2.5-4.4 2.5 4.4zM141.5 784.0l2.5-4.4 2.5 4.4zM141.9 783.6l2.5-4.4 2.5 4.4zM142.3 786.3l2.5-4.4 2.5 4.4zM142.7 783.7l2.5-4.4 2.5 4.4zM143.2 784.6l2.5-4.4 2.5 4.4zM143.6 783.2l2.5-4.4 2.5 4.4zM144.0 786.2l2.5-4.4 2.5 4.4zM144.4 780.8l2.5-4.4 2.5 4.4zM144.8 787.4l2.5-4.4 2.5 4.4zM145.2 783.0l2.5-4.4 2.5 4.4zM145.6 781.1l2.5-4.4 2.5 4.4zM146.1 786.6l2.5-4.4 2.5 4.4zM146.5 791.7l2.5-4.4 2.5 4.4zM146.9 789.3l2.5-4.4 2.5 4.4zM147.3 784.3l2.5-4.4 2.5 4.4zM147.7 788.9l2.5-4.4 2.5 4.4zM148.1 785.1l2.5-4.4 2.5 4.4zM148.5 786.5l2.5-4.4 2.5 4.4zM148.9 787.5l2.5-4.4 2.5 4.4zM149.4 779.2l2.5-4.4 2.5 4.4zM149.8 788.4l2.5-4.4 2.5 4.4zM150.2 784.3l2.5-4.4 2.5 4.4zM150.6 785.8l2.5-4.4 2.5 4.4zM151.0 783.2l2.5-4.4 2.5 4.4zM151.4 783.3l2.5-4.4 2.5 4.4zM151.8 785.6l2.5-4.4 2.5 4.4zM152.2 792.2l2.5-4.4 2.5 4.4zM152.7 795.5l2.5-4.4 2.5 4.4zM153.1 789.7l2.5-4.4 2.5 4.4zM153.5 793.9l2.5-4.4 2.5 4.4zM153.9 789.3l2.5-4.4 2.5 4.4zM154.3 783.6l2.5-4.4 2.5 4.4zM154.7 791.2l2.5-4.4 2.5 4.4zM155.1 792.5l2.5-4.4 2.5 4.4zM155.5 789.6l2.5-4.4 2.5 4.4zM156.0 792.4l2.5-4.4 2.5 4.4zM156.4 793.6l2.5-4.4 2.5 4.4zM156.8 788.7l2.5-4.4 2.5 4.4zM157.2 786.7l2.5-4.4 2.5 4.4zM157.6 791.4l2.5-4.4 2.5 4.4zM158.0 791.6l2.5-4.4 2.5 4.4zM158.4 791.3l2.5-4.4 2.5 4.4zM158.8 796.3l2.5-4.4 2.5 4.4zM159.3 799.2l2.5-4.4 2.5 4.4zM159.7 791.7l2.5-4.4 2.5 4.4zM160.1 795.9l2.5-4.4 2.5 4.4zM160.5 797.0l2.5-4.4 2.5 4.4zM160.9 796.3l2.5-4.4 2.5 4.4zM161.3 797.7l2.5-4.4 2.5 4.4zM161.7 792.7l2.5-4.4 2.5 4.4zM162.2 797.0l2.5-4.4 2.5 4.4zM162.6 801.8l2.5-4.4 2.5 4.4zM163.0 797.6l2.5-4.4 2.5 4.4zM163.4 792.6l2.5-4.4 2.5 4.4zM163.8 797.2l2.5-4.4 2.5 4.4zM164.2 799.7l2.5-4.4 2.5 4.4zM164.6 796.7l2.5-4.4 2.5 4.4zM165.0 793.4l2.5-4.4 2.5 4.4zM165.5 801.2l2.5-4.4 2.5 4.4zM165.9 791.2l2.5-4.4 2.5 4.4zM166.3 797.6l2.5-4.4 2.5 4.4zM166.7 795.9l2.5-4.4 2.5 4.4zM167.1 791.7l2.5-4.4 2.5 4.4zM167.5 800.4l2.5-4.4 2.5 4.4zM167.9 797.2l2.5-4.4 2.5 4.4zM168.3 791.7l2.5-4.4 2.5 4.4zM168.8 797.9l2.5-4.4 2.5 4.4zM169.2 793.9l2.5-4.4 2.5 4.4zM169.6 788.2l2.5-4.4 2.5 4.4zM170.0 791.8l2.5-4.4 2.5 4.4zM170.4 794.1l2.5-4.4 2.5 4.4zM170.8 793.5l2.5-4.4 2.5 4.4zM171.2 788.3l2.5-4.4 2.5 4.4zM171.6 779.2l2.5-4.4 2.5 4.4zM172.1 756.5l2.5-4.4 2.5 4.4zM172.5 701.0l2.5-4.4 2.5 4.4zM172.9 628.0l2.5-4.4 2.5 4.4zM173.3 608.4l2.5-4.4 2.5 4.4zM173.7 677.6l2.5-4.4 2.5 4.4zM174.1 744.4l2.5-4.4 2.5 4.4zM174.5 774.9l2.5-4.4 2.5 4.4zM174.9 788.4l2.5-4.4 2.5 4.4zM175.4 798.0l2.5-4.4 2.5 4.4zM175.8 798.4l2.5-4.4 2.5 4.4zM176.2 799.0l2.5-4.4 2.5 4.4zM176.6 801.6l2.5-4.4 2.5 4.4zM177.0 800.9l2.5-4.4 2.5 4.4zM177.4 803.3l2.5-4.4 2.5 4.4zM177.8 802.0l2.5-4.4 2.5 4.4zM178.3 804.5l2.5-4.4 2.5 4.4zM178.7 801.2l2.5-4.4 2.5 4.4zM179.1 807.5l2.5-4.4 2.5 4.4zM179.5 804.2l2.5-4.4 2.5 4.4zM179.9 802.4l2.5-4.4 2.5 4.4zM180.3 805.4l2.5-4.4 2.5 4.4zM180.7 805.4l2.5-4.4 2.5 4.4zM181.1 806.7l2.5-4.4 2.5 4.4zM181.6 804.4l2.5-4.4 2.5 4.4zM182.0 807.7l2.5-4.4 2.5 4.4zM182.4 814.4l2.5-4.4 2.5 4.4zM182.8 804.8l2.5-4.4 2.5 4.4zM183.2 808.3l2.5-4.4 2.5 4.4zM183.6 807.2l2.5-4.4 2.5 4.4zM184.0 808.4l2.5-4.4 2.5 4.4zM184.4 804.6l2.5-4.4 2.5 4.4zM184.9 806.2l2.5-4.4 2.5 4.4zM185.3 809.6l2.5-4.4 2.5 4.4zM185.7 808.8l2.5-4.4 2.5 4.4zM186.1 812.3l2.5-4.4 2.5 4.4zM186.5 807.9l2.5-4.4 2.5 4.4zM186.9 809.8l2.5-4.4 2.5 4.4zM187.3 815.5l2.5-4.4 2.5 4.4zM187.7 808.3l2.5-4.4 2.5 4.4zM188.2 808.2l2.5-4.4 2.5 4.4zM188.6 810.1l2.5-4.4 2.5 4.4zM189.0 810.3l2.5-4.4 2.5 4.4zM189.4 812.2l2.5-4.4 2.5 4.4zM189.8 811.0l2.5-4.4 2.5 4.4zM190.2 809.4l2.5-4.4 2.5 4.4zM190.6 811.5l2.5-4.4 2.5 4.4zM191.0 816.5l2.5-4.4 2.5 4.4zM191.5 813.9l2.5-4.4 2.5 4.4zM191.9 805.9l2.5-4.4 2.5 4.4zM192.3 811.3l2.5-4.4 2.5 4.4zM192.7 810.0l2.5-4.4 2.5 4.4zM193.1 813.1l2.5-4.4 2.5 4.4zM193.5 811.7l2.5-4.4 2.5 4.4zM193.9 816.0l2.5-4.4 2.5 4.4zM194.3 814.1l2.5-4.4 2.5 4.4zM194.8 814.1l2.5-4.4 2.5 4.4zM195.2 812.8l2.5-4.4 2.5 4.4zM195.6 812.5l2.5-4.4 2.5 4.4zM196.0 813.3l2.5-4.4 2.5 4.4zM196.4 815.3l2.5-4.4 2.5 4.4zM196.8 813.8l2.5-4.4 2.5 4.4zM197.2 812.1l2.5-4.4 2.5 4.4zM197.7 815.4l2.5-4.4 2.5 4.4zM198.1 813.3l2.5-4.4 2.5 4.4zM198.5 812.7l2.5-4.4 2.5 4.4zM198.9 811.3l2.5-4.4 2.5 4.4zM199.3 811.6l2.5-4.4 2.5 4.4zM199.7 811.3l2.5-4.4 2.5 4.4zM200.1 806.7l2.5-4.4 2.5 4.4zM200.5 813.8l2.5-4.4 2.5 4.4zM201.0 811.7l2.5-4.4 2.5 4.4zM201.4 807.1l2.5-4.4 2.5 4.4zM201.8 802.3l2.5-4.4 2.5 4.4zM202.2 787.6l2.5-4.4 2.5 4.4zM202.6 772.9l2.5-4.4 2.5 4.4zM203.0 767.3l2.5-4.4 2.5 4.4zM203.4 786.5l2.5-4.4 2.5 4.4zM203.8 801.7l2.5-4.4 2.5 4.4zM204.3 811.4l2.5-4.4 2.5 4.4zM204.7 815.0l2.5-4.4 2.5 4.4zM205.1 815.5l2.5-4.4 2.5 4.4zM205.5 811.1l2.5-4.4 2.5 4.4zM205.9 809.4l2.5-4.4 2.5 4.4zM206.3 815.3l2.5-4.4 2.5 4.4zM206.7 814.5l2.5-4.4 2.5 4.4zM207.1 816.6l2.5-4.4 2.5 4.4zM207.6 814.6l2.5-4.4 2.5 4.4zM208.0 815.4l2.5-4.4 2.5 4.4zM208.4 812.1l2.5-4.4 2.5 4.4zM208.8 816.2l2.5-4.4 2.5 4.4zM209.2 814.5l2.5-4.4 2.5 4.4zM209.6 816.2l2.5-4.4 2.5 4.4zM210.0 816.5l2.5-4.4 2.5 4.4zM210.4 815.4l2.5-4.4 2.5 4.4zM210.9 816.4l2.5-4.4 2.5 4.4zM211.3 815.8l2.5-4.4 2.5 4.4zM211.7 817.4l2.5-4.4 2.5 4.4zM212.1 817.0l2.5-4.4 2.5 4.4zM212.5 815.0l2.5-4.4 2.5 4.4zM212.9 815.0l2.5-4.4 2.5 4.4zM213.3 819.7l2.5-4.4 2.5 4.4zM213.8 816.1l2.5-4.4 2.5 4.4zM214.2 818.3l2.5-4.4 2.5 4.4zM214.6 817.2l2.5-4.4 2.5 4.4zM215.0 815.4l2.5-4.4 2.5 4.4zM215.4 815.1l2.5-4.4 2.5 4.4zM215.8 816.9l2.5-4.4 2.5 4.4zM216.2 817.2l2.5-4.4 2.5 4.4zM216.6 818.0l2.5-4.4 2.5 4.4zM217.1 814.3l2.5-4.4 2.5 4.4zM217.5 815.7l2.5-4.4 2.5 4.4zM217.9 816.7l2.5-4.4 2.5 4.4zM218.3 820.2l2.5-4.4 2.5 4.4zM218.7 812.3l2.5-4.4 2.5 4.4zM219.1 818.0l2.5-4.4 2.5 4.4zM219.5 816.1l2.5-4.4 2.5 4.4zM219.9 818.1l2.5-4.4 2.5 4.4zM220.4 816.3l2.5-4.4 2.5 4.4zM220.8 818.0l2.5-4.4 2.5 4.4zM221.2 820.5l2.5-4.4 2.5 4.4zM221.6 818.1l2.5-4.4 2.5 4.4zM222.0 818.3l2.5-4.4 2.5 4.4zM222.4 818.3l2.5-4.4 2.5 4.4zM222.8 816.1l2.5-4.4 2.5 4.4zM223.2 818.7l2.5-4.4 2.5 4.4zM223.7 817.2l2.5-4.4 2.5 4.4zM224.1 816.1l2.5-4.4 2.5 4.4zM224.5 817.7l2.5-4.4 2.5 4.4zM224.9 817.3l2.5-4.4 2.5 4.4zM225.3 819.3l2.5-4.4 2.5 4.4zM225.7 817.8l2.5-4.4 2.5 4.4zM226.1 816.8l2.5-4.4 2.5 4.4zM226.5 820.8l2.5-4.4 2.5 4.4zM227.0 820.0l2.5-4.4 2.5 4.4zM227.4 820.6l2.5-4.4 2.5 4.4zM227.8 819.3l2.5-4.4 2.5 4.4zM228.2 817.9l2.5-4.4 2.5 4.4zM228.6 817.3l2.5-4.4 2.5 4.4zM229.0 817.6l2.5-4.4 2.5 4.4zM229.4 820.1l2.5-4.4 2.5 4.4zM229.9 818.4l2.5-4.4 2.5 4.4zM230.3 815.3l2.5-4.4 2.5 4.4zM230.7 818.2l2.5-4.4 2.5 4.4zM231.1 815.5l2.5-4.4 2.5 4.4zM231.5 818.7l2.5-4.4 2.5 4.4zM231.9 816.0l2.5-4.4 2.5 4.4zM232.3 815.9l2.5-4.4 2.5 4.4zM232.7 818.7l2.5-4.4 2.5 4.4zM233.2 818.3l2.5-4.4 2.5 4.4zM233.6 815.2l2.5-4.4 2.5 4.4zM234.0 820.0l2.5-4.4 2.5 4.4zM234.4 822.9l2.5-4.4 2.5 4.4zM234.8 815.6l2.5-4.4 2.5 4.4zM235.2 822.2l2.5-4.4 2.5 4.4zM235.6 817.3l2.5-4.4 2.5 4.4zM236.0 817.7l2.5-4.4 2.5 4.4zM236.5 818.3l2.5-4.4 2.5 4.4zM236.9 815.8l2.5-4.4 2.5 4.4zM237.3 821.3l2.5-4.4 2.5 4.4zM237.7 819.7l2.5-4.4 2.5 4.4zM238.1 817.3l2.5-4.4 2.5 4.4zM238.5 818.2l2.5-4.4 2.5 4.4zM238.9 815.8l2.5-4.4 2.5 4.4zM239.3 818.2l2.5-4.4 2.5 4.4zM239.8 820.7l2.5-4.4 2.5 4.4zM240.2 815.5l2.5-4.4 2.5 4.4zM240.6 818.0l2.5-4.4 2.5 4.4zM241.0 819.2l2.5-4.4 2.5 4.4zM241.4 821.1l2.5-4.4 2.5 4.4zM241.8 821.7l2.5-4.4 2.5 4.4zM242.2 818.1l2.5-4.4 2.5 4.4zM242.6 817.6l2.5-4.4 2.5 4.4zM243.1 820.0l2.5-4.4 2.5 4.4zM243.5 818.3l2.5-4.4 2.5 4.4zM243.9 818.5l2.5-4.4 2.5 4.4zM244.3 821.3l2.5-4.4 2.5 4.4zM244.7 822.5l2.5-4.4 2.5 4.4zM245.1 819.7l2.5-4.4 2.5 4.4zM245.5 818.8l2.5-4.4 2.5 4.4zM245.9 820.3l2.5-4.4 2.5 4.4zM246.4 815.4l2.5-4.4 2.5 4.4zM246.8 819.2l2.5-4.4 2.5 4.4zM247.2 817.1l2.5-4.4 2.5 4.4zM247.6 824.1l2.5-4.4 2.5 4.4zM248.0 820.7l2.5-4.4 2.5 4.4zM248.4 819.6l2.5-4.4 2.5 4.4zM248.8 819.0l2.5-4.4 2.5 4.4zM249.3 814.3l2.5-4.4 2.5 4.4zM249.7 820.8l2.5-4.4 2.5 4.4zM250.1 822.7l2.5-4.4 2.5 4.4zM250.5 818.0l2.5-4.4 2.5 4.4zM250.9 820.8l2.5-4.4 2.5 4.4zM251.3 820.9l2.5-4.4 2.5 4.4zM251.7 816.4l2.5-4.4 2.5 4.4zM252.1 821.4l2.5-4.4 2.5 4.4zM252.6 822.2l2.5-4.4 2.5 4.4zM253.0 820.0l2.5-4.4 2.5 4.4zM253.4 819.4l2.5-4.4 2.5 4.4zM253.8 821.2l2.5-4.4 2.5 4.4zM254.2 816.5l2.5-4.4 2.5 4.4zM254.6 819.8l2.5-4.4 2.5 4.4zM255.0 821.7l2.5-4.4 2.5 4.4zM255.4 817.2l2.5-4.4 2.5 4.4zM255.9 821.7l2.5-4.4 2.5 4.4zM256.3 818.8l2.5-4.4 2.5 4.4zM256.7 815.5l2.5-4.4 2.5 4.4zM257.1 819.5l2.5-4.4 2.5 4.4zM257.5 817.8l2.5-4.4 2.5 4.4zM257.9 820.4l2.5-4.4 2.5 4.4zM258.3 817.4l2.5-4.4 2.5 4.4zM258.7 821.9l2.5-4.4 2.5 4.4zM259.2 818.3l2.5-4.4 2.5 4.4zM259.6 820.5l2.5-4.4 2.5 4.4zM260.0 818.7l2.5-4.4 2.5 4.4zM260.4 819.2l2.5-4.4 2.5 4.4zM260.8 822.3l2.5-4.4 2.5 4.4zM261.2 820.3l2.5-4.4 2.5 4.4zM261.6 819.1l2.5-4.4 2.5 4.4zM262.0 817.4l2.5-4.4 2.5 4.4zM262.5 822.3l2.5-4.4 2.5 4.4zM262.9 821.4l2.5-4.4 2.5 4.4zM263.3 819.3l2.5-4.4 2.5 4.4zM263.7 820.5l2.5-4.4 2.5 4.4zM264.1 818.0l2.5-4.4 2.5 4.4zM264.5 818.0l2.5-4.4 2.5 4.4zM264.9 818.4l2.5-4.4 2.5 4.4zM265.4 820.8l2.5-4.4 2.5 4.4zM265.8 820.7l2.5-4.4 2.5 4.4zM266.2 818.6l2.5-4.4 2.5 4.4zM266.6 821.6l2.5-4.4 2.5 4.4zM267.0 821.7l2.5-4.4 2.5 4.4zM267.4 820.5l2.5-4.4 2.5 4.4zM267.8 822.2l2.5-4.4 2.5 4.4zM268.2 819.6l2.5-4.4 2.5 4.4zM268.7 820.0l2.5-4.4 2.5 4.4zM269.1 821.1l2.5-4.4 2.5 4.4zM269.5 820.1l2.5-4.4 2.5 4.4zM269.9 821.8l2.5-4.4 2.5 4.4zM270.3 817.7l2.5-4.4 2.5 4.4zM270.7 823.1l2.5-4.4 2.5 4.4zM271.1 818.7l2.5-4.4 2.5 4.4zM271.5 820.0l2.5-4.4 2.5 4.4zM272.0 817.6l2.5-4.4 2.5 4.4zM272.4 821.5l2.5-4.4 2.5 4.4zM272.8 822.9l2.5-4.4 2.5 4.4zM273.2 822.5l2.5-4.4 2.5 4.4zM273.6 822.0l2.5-4.4 2.5 4.4zM274.0 817.3l2.5-4.4 2.5 4.4zM274.4 818.8l2.5-4.4 2.5 4.4zM274.8 819.5l2.5-4.4 2.5 4.4zM275.3 818.6l2.5-4.4 2.5 4.4zM275.7 822.7l2.5-4.4 2.5 4.4zM276.1 820.8l2.5-4.4 2.5 4.4zM276.5 820.4l2.5-4.4 2.5 4.4zM276.9 821.5l2.5-4.4 2.5 4.4zM277.3 818.6l2.5-4.4 2.5 4.4zM277.7 818.7l2.5-4.4 2.5 4.4zM278.1 818.8l2.5-4.4 2.5 4.4zM278.6 821.5l2.5-4.4 2.5 4.4zM279.0 821.2l2.5-4.4 2.5 4.4zM279.4 821.7l2.5-4.4 2.5 4.4zM279.8 822.7l2.5-4.4 2.5 4.4zM280.2 817.9l2.5-4.4 2.5 4.4zM280.6 819.5l2.5-4.4 2.5 4.4zM281.0 820.9l2.5-4.4 2.5 4.4zM281.5 817.9l2.5-4.4 2.5 4.4zM281.9 819.5l2.5-4.4 2.5 4.4zM282.3 822.6l2.5-4.4 2.5 4.4zM282.7 822.8l2.5-4.4 2.5 4.4zM283.1 822.8l2.5-4.4 2.5 4.4zM283.5 820.7l2.5-4.4 2.5 4.4zM283.9 820.2l2.5-4.4 2.5 4.4zM284.3 822.8l2.5-4.4 2.5 4.4zM284.8 819.9l2.5-4.4 2.5 4.4zM285.2 821.3l2.5-4.4 2.5 4.4zM285.6 823.3l2.5-4.4 2.5 4.4zM286.0 819.9l2.5-4.4 2.5 4.4zM286.4 819.4l2.5-4.4 2.5 4.4zM286.8 820.6l2.5-4.4 2.5 4.4zM287.2 821.8l2.5-4.4 2.5 4.4zM287.6 821.5l2.5-4.4 2.5 4.4zM288.1 820.8l2.5-4.4 2.5 4.4zM288.5 821.6l2.5-4.4 2.5 4.4zM288.9 817.2l2.5-4.4 2.5 4.4zM289.3 818.6l2.5-4.4 2.5 4.4zM289.7 820.6l2.5-4.4 2.5 4.4zM290.1 818.3l2.5-4.4 2.5 4.4zM290.5 817.3l2.5-4.4 2.5 4.4zM290.9 817.4l2.5-4.4 2.5 4.4zM291.4 817.7l2.5-4.4 2.5 4.4zM291.8 818.9l2.5-4.4 2.5 4.4zM292.2 816.7l2.5-4.4 2.5 4.4zM292.6 818.6l2.5-4.4 2.5 4.4zM293.0 820.6l2.5-4.4 2.5 4.4zM293.4 815.4l2.5-4.4 2.5 4.4zM293.8 815.2l2.5-4.4 2.5 4.4zM294.2 805.7l2.5-4.4 2.5 4.4zM294.7 784.7l2.5-4.4 2.5 4.4zM295.1 753.3l2.5-4.4 2.5 4.4zM295.5 716.0l2.5-4.4 2.5 4.4zM295.9 719.5l2.5-4.4 2.5 4.4zM296.3 751.6l2.5-4.4 2.5 4.4zM296.7 789.7l2.5-4.4 2.5 4.4zM297.1 806.4l2.5-4.4 2.5 4.4zM297.5 808.8l2.5-4.4 2.5 4.4zM298.0 817.5l2.5-4.4 2.5 4.4zM298.4 820.6l2.5-4.4 2.5 4.4zM298.8 816.9l2.5-4.4 2.5 4.4zM299.2 821.1l2.5-4.4 2.5 4.4zM299.6 816.0l2.5-4.4 2.5 4.4zM300.0 820.5l2.5-4.4 2.5 4.4zM300.4 817.0l2.5-4.4 2.5 4.4zM300.9 821.5l2.5-4.4 2.5 4.4zM301.3 817.1l2.5-4.4 2.5 4.4zM301.7 815.6l2.5-4.4 2.5 4.4zM302.1 821.8l2.5-4.4 2.5 4.4zM302.5 825.7l2.5-4.4 2.5 4.4zM302.9 820.0l2.5-4.4 2.5 4.4zM303.3 822.9l2.5-4.4 2.5 4.4zM303.7 821.6l2.5-4.4 2.5 4.4zM304.2 820.8l2.5-4.4 2.5 4.4zM304.6 822.7l2.5-4.4 2.5 4.4zM305.0 824.8l2.5-4.4 2.5 4.4zM305.4 819.1l2.5-4.4 2.5 4.4zM305.8 822.8l2.5-4.4 2.5 4.4zM306.2 822.4l2.5-4.4 2.5 4.4zM306.6 818.9l2.5-4.4 2.5 4.4zM307.0 825.0l2.5-4.4 2.5 4.4zM307.5 825.7l2.5-4.4 2.5 4.4zM307.9 819.9l2.5-4.4 2.5 4.4zM308.3 825.3l2.5-4.4 2.5 4.4zM308.7 822.0l2.5-4.4 2.5 4.4zM309.1 821.6l2.5-4.4 2.5 4.4zM309.5 825.0l2.5-4.4 2.5 4.4zM309.9 822.5l2.5-4.4 2.5 4.4zM310.3 822.7l2.5-4.4 2.5 4.4zM310.8 825.1l2.5-4.4 2.5 4.4zM311.2 824.7l2.5-4.4 2.5 4.4zM311.6 823.9l2.5-4.4 2.5 4.4zM312.0 819.3l2.5-4.4 2.5 4.4zM312.4 819.0l2.5-4.4 2.5 4.4zM312.8 824.4l2.5-4.4 2.5 4.4zM313.2 820.4l2.5-4.4 2.5 4.4zM313.6 822.5l2.5-4.4 2.5 4.4zM314.1 820.1l2.5-4.4 2.5 4.4zM314.5 821.9l2.5-4.4 2.5 4.4zM314.9 819.8l2.5-4.4 2.5 4.4zM315.3 825.6l2.5-4.4 2.5 4.4zM315.7 820.3l2.5-4.4 2.5 4.4zM316.1 822.2l2.5-4.4 2.5 4.4zM316.5 822.0l2.5-4.4 2.5 4.4zM317.0 824.9l2.5-4.4 2.5 4.4zM317.4 819.6l2.5-4.4 2.5 4.4zM317.8 822.4l2.5-4.4 2.5 4.4zM318.2 822.1l2.5-4.4 2.5 4.4zM318.6 823.6l2.5-4.4 2.5 4.4zM319.0 823.5l2.5-4.4 2.5 4.4zM319.4 821.6l2.5-4.4 2.5 4.4zM319.8 823.1l2.5-4.4 2.5 4.4zM320.3 821.9l2.5-4.4 2.5 4.4zM320.7 823.6l2.5-4.4 2.5 4.4zM321.1 822.5l2.5-4.4 2.5 4.4zM321.5 821.4l2.5-4.4 2.5 4.4zM321.9 822.6l2.5-4.4 2.5 4.4zM322.3 823.4l2.5-4.4 2.5 4.4zM322.7 827.3l2.5-4.4 2.5 4.4zM323.1 821.8l2.5-4.4 2.5 4.4zM323.6 823.4l2.5-4.4 2.5 4.4zM324.0 825.7l2.5-4.4 2.5 4.4zM324.4 818.7l2.5-4.4 2.5 4.4zM324.8 819.3l2.5-4.4 2.5 4.4zM325.2 820.5l2.5-4.4 2.5 4.4zM325.6 822.6l2.5-4.4 2.5 4.4zM326.0 827.8l2.5-4.4 2.5 4.4zM326.4 823.7l2.5-4.4 2.5 4.4zM326.9 825.3l2.5-4.4 2.5 4.4zM327.3 822.5l2.5-4.4 2.5 4.4zM327.7 818.0l2.5-4.4 2.5 4.4zM328.1 818.3l2.5-4.4 2.5 4.4zM328.5 825.0l2.5-4.4 2.5 4.4zM328.9 823.4l2.5-4.4 2.5 4.4zM329.3 820.4l2.5-4.4 2.5 4.4zM329.7 825.3l2.5-4.4 2.5 4.4zM330.2 820.0l2.5-4.4 2.5 4.4zM330.6 825.3l2.5-4.4 2.5 4.4zM331.0 826.0l2.5-4.4 2.5 4.4zM331.4 821.6l2.5-4.4 2.5 4.4zM331.8 820.9l2.5-4.4 2.5 4.4zM332.2 824.8l2.5-4.4 2.5 4.4zM332.6 820.9l2.5-4.4 2.5 4.4zM333.1 824.9l2.5-4.4 2.5 4.4zM333.5 820.8l2.5-4.4 2.5 4.4zM333.9 824.8l2.5-4.4 2.5 4.4zM334.3 823.4l2.5-4.4 2.5 4.4zM334.7 822.3l2.5-4.4 2.5 4.4zM335.1 821.4l2.5-4.4 2.5 4.4zM335.5 823.7l2.5-4.4 2.5 4.4zM335.9 819.4l2.5-4.4 2.5 4.4zM336.4 822.7l2.5-4.4 2.5 4.4zM336.8 822.4l2.5-4.4 2.5 4.4zM337.2 824.6l2.5-4.4 2.5 4.4zM337.6 820.7l2.5-4.4 2.5 4.4zM338.0 826.7l2.5-4.4 2.5 4.4zM338.4 822.6l2.5-4.4 2.5 4.4zM338.8 821.0l2.5-4.4 2.5 4.4zM339.2 826.0l2.5-4.4 2.5 4.4zM339.7 826.6l2.5-4.4 2.5 4.4zM340.1 822.9l2.5-4.4 2.5 4.4zM340.5 821.5l2.5-4.4 2.5 4.4zM340.9 823.3l2.5-4.4 2.5 4.4zM341.3 821.9l2.5-4.4 2.5 4.4zM341.7 822.7l2.5-4.4 2.5 4.4zM342.1 826.4l2.5-4.4 2.5 4.4zM342.5 824.1l2.5-4.4 2.5 4.4zM343.0 823.6l2.5-4.4 2.5 4.4zM343.4 824.0l2.5-4.4 2.5 4.4zM343.8 823.1l2.5-4.4 2.5 4.4zM344.2 824.9l2.5-4.4 2.5 4.4zM344.6 825.0l2.5-4.4 2.5 4.4zM345.0 822.5l2.5-4.4 2.5 4.4zM345.4 823.4l2.5-4.4 2.5 4.4zM345.8 828.0l2.5-4.4 2.5 4.4zM346.3 823.9l2.5-4.4 2.5 4.4zM346.7 822.7l2.5-4.4 2.5 4.4zM347.1 827.1l2.5-4.4 2.5 4.4zM347.5 822.9l2.5-4.4 2.5 4.4zM347.9 820.6l2.5-4.4 2.5 4.4zM348.3 824.0l2.5-4.4 2.5 4.4zM348.7 820.6l2.5-4.4 2.5 4.4zM349.1 821.1l2.5-4.4 2.5 4.4zM349.6 822.4l2.5-4.4 2.5 4.4zM350.0 820.9l2.5-4.4 2.5 4.4zM350.4 818.8l2.5-4.4 2.5 4.4zM350.8 817.6l2.5-4.4 2.5 4.4zM351.2 813.8l2.5-4.4 2.5 4.4zM351.6 808.1l2.5-4.4 2.5 4.4zM352.0 785.3l2.5-4.4 2.5 4.4zM352.5 759.9l2.5-4.4 2.5 4.4zM352.9 754.3l2.5-4.4 2.5 4.4zM353.3 768.4l2.5-4.4 2.5 4.4zM353.7 797.3l2.5-4.4 2.5 4.4zM354.1 812.4l2.5-4.4 2.5 4.4zM354.5 816.4l2.5-4.4 2.5 4.4zM354.9 816.7l2.5-4.4 2.5 4.4zM355.3 821.7l2.5-4.4 2.5 4.4zM355.8 822.9l2.5-4.4 2.5 4.4zM356.2 824.0l2.5-4.4 2.5 4.4zM356.6 822.5l2.5-4.4 2.5 4.4zM357.0 825.1l2.5-4.4 2.5 4.4zM357.4 825.6l2.5-4.4 2.5 4.4zM357.8 820.9l2.5-4.4 2.5 4.4zM358.2 826.0l2.5-4.4 2.5 4.4zM358.6 823.6l2.5-4.4 2.5 4.4zM359.1 822.2l2.5-4.4 2.5 4.4zM359.5 822.8l2.5-4.4 2.5 4.4zM359.9 827.2l2.5-4.4 2.5 4.4zM360.3 825.5l2.5-4.4 2.5 4.4zM360.7 820.0l2.5-4.4 2.5 4.4zM361.1 823.7l2.5-4.4 2.5 4.4zM361.5 823.3l2.5-4.4 2.5 4.4zM361.9 823.3l2.5-4.4 2.5 4.4zM362.4 822.6l2.5-4.4 2.5 4.4zM362.8 820.8l2.5-4.4 2.5 4.4zM363.2 825.4l2.5-4.4 2.5 4.4zM363.6 821.8l2.5-4.4 2.5 4.4zM364.0 823.0l2.5-4.4 2.5 4.4zM364.4 822.5l2.5-4.4 2.5 4.4zM364.8 822.2l2.5-4.4 2.5 4.4zM365.2 825.2l2.5-4.4 2.5 4.4zM365.7 824.4l2.5-4.4 2.5 4.4zM366.1 822.3l2.5-4.4 2.5 4.4zM366.5 821.7l2.5-4.4 2.5 4.4zM366.9 822.5l2.5-4.4 2.5 4.4zM367.3 825.3l2.5-4.4 2.5 4.4zM367.7 823.4l2.5-4.4 2.5 4.4zM368.1 823.2l2.5-4.4 2.5 4.4zM368.6 821.2l2.5-4.4 2.5 4.4zM369.0 819.5l2.5-4.4 2.5 4.4zM369.4 816.7l2.5-4.4 2.5 4.4zM369.8 807.2l2.5-4.4 2.5 4.4zM370.2 809.7l2.5-4.4 2.5 4.4zM370.6 806.0l2.5-4.4 2.5 4.4zM371.0 811.7l2.5-4.4 2.5 4.4zM371.4 820.5l2.5-4.4 2.5 4.4zM371.9 821.3l2.5-4.4 2.5 4.4zM372.3 822.5l2.5-4.4 2.5 4.4zM372.7 821.9l2.5-4.4 2.5 4.4zM373.1 820.2l2.5-4.4 2.5 4.4zM373.5 823.9l2.5-4.4 2.5 4.4zM373.9 826.1l2.5-4.4 2.5 4.4zM374.3 822.0l2.5-4.4 2.5 4.4zM374.7 826.6l2.5-4.4 2.5 4.4zM375.2 821.7l2.5-4.4 2.5 4.4zM375.6 822.5l2.5-4.4 2.5 4.4zM376.0 825.0l2.5-4.4 2.5 4.4zM376.4 824.1l2.5-4.4 2.5 4.4zM376.8 825.5l2.5-4.4 2.5 4.4zM377.2 822.6l2.5-4.4 2.5 4.4zM377.6 822.1l2.5-4.4 2.5 4.4zM378.0 820.4l2.5-4.4 2.5 4.4zM378.5 821.8l2.5-4.4 2.5 4.4zM378.9 822.1l2.5-4.4 2.5 4.4zM379.3 821.4l2.5-4.4 2.5 4.4zM379.7 824.9l2.5-4.4 2.5 4.4zM380.1 822.9l2.5-4.4 2.5 4.4zM380.5 820.3l2.5-4.4 2.5 4.4zM380.9 829.3l2.5-4.4 2.5 4.4zM381.3 822.6l2.5-4.4 2.5 4.4zM381.8 821.8l2.5-4.4 2.5 4.4zM382.2 826.8l2.5-4.4 2.5 4.4zM382.6 826.7l2.5-4.4 2.5 4.4zM383.0 822.1l2.5-4.4 2.5 4.4zM383.4 821.4l2.5-4.4 2.5 4.4zM383.8 822.4l2.5-4.4 2.5 4.4zM384.2 826.6l2.5-4.4 2.5 4.4zM384.7 823.8l2.5-4.4 2.5 4.4zM385.1 822.8l2.5-4.4 2.5 4.4zM385.5 824.4l2.5-4.4 2.5 4.4zM385.9 826.8l2.5-4.4 2.5 4.4zM386.3 821.7l2.5-4.4 2.5 4.4zM386.7 823.7l2.5-4.4 2.5 4.4zM387.1 821.7l2.5-4.4 2.5 4.4zM387.5 828.8l2.5-4.4 2.5 4.4zM388.0 828.1l2.5-4.4 2.5 4.4zM388.4 826.4l2.5-4.4 2.5 4.4zM388.8 824.2l2.5-4.4 2.5 4.4zM389.2 825.8l2.5-4.4 2.5 4.4zM389.6 820.3l2.5-4.4 2.5 4.4zM390.0 825.1l2.5-4.4 2.5 4.4zM390.4 821.9l2.5-4.4 2.5 4.4zM390.8 821.9l2.5-4.4 2.5 4.4zM391.3 823.1l2.5-4.4 2.5 4.4zM391.7 823.9l2.5-4.4 2.5 4.4zM392.1 825.7l2.5-4.4 2.5 4.4zM392.5 826.0l2.5-4.4 2.5 4.4zM392.9 825.1l2.5-4.4 2.5 4.4zM393.3 822.7l2.5-4.4 2.5 4.4zM393.7 826.0l2.5-4.4 2.5 4.4zM394.1 824.4l2.5-4.4 2.5 4.4zM394.6 827.0l2.5-4.4 2.5 4.4zM395.0 822.8l2.5-4.4 2.5 4.4zM395.4 819.1l2.5-4.4 2.5 4.4zM395.8 823.7l2.5-4.4 2.5 4.4zM396.2 829.0l2.5-4.4 2.5 4.4zM396.6 825.6l2.5-4.4 2.5 4.4zM397.0 824.3l2.5-4.4 2.5 4.4zM397.4 826.5l2.5-4.4 2.5 4.4zM397.9 825.7l2.5-4.4 2.5 4.4zM398.3 825.6l2.5-4.4 2.5 4.4zM398.7 823.7l2.5-4.4 2.5 4.4zM399.1 824.9l2.5-4.4 2.5 4.4zM399.5 825.1l2.5-4.4 2.5 4.4zM399.9 823.5l2.5-4.4 2.5 4.4zM400.3 822.5l2.5-4.4 2.5 4.4zM400.7 825.0l2.5-4.4 2.5 4.4zM401.2 826.7l2.5-4.4 2.5 4.4zM401.6 826.1l2.5-4.4 2.5 4.4zM402.0 825.8l2.5-4.4 2.5 4.4zM402.4 825.8l2.5-4.4 2.5 4.4zM402.8 830.0l2.5-4.4 2.5 4.4zM403.2 825.3l2.5-4.4 2.5 4.4zM403.6 826.9l2.5-4.4 2.5 4.4zM404.1 828.7l2.5-4.4 2.5 4.4zM404.5 824.9l2.5-4.4 2.5 4.4zM404.9 825.4l2.5-4.4 2.5 4.4zM405.3 826.9l2.5-4.4 2.5 4.4zM405.7 828.2l2.5-4.4 2.5 4.4zM406.1 825.5l2.5-4.4 2.5 4.4zM406.5 825.6l2.5-4.4 2.5 4.4zM406.9 825.1l2.5-4.4 2.5 4.4zM407.4 822.5l2.5-4.4 2.5 4.4zM407.8 827.1l2.5-4.4 2.5 4.4zM408.2 824.4l2.5-4.4 2.5 4.4zM408.6 821.5l2.5-4.4 2.5 4.4zM409.0 824.6l2.5-4.4 2.5 4.4zM409.4 821.5l2.5-4.4 2.5 4.4zM409.8 822.9l2.5-4.4 2.5 4.4zM410.2 825.0l2.5-4.4 2.5 4.4zM410.7 823.1l2.5-4.4 2.5 4.4zM411.1 827.1l2.5-4.4 2.5 4.4zM411.5 822.1l2.5-4.4 2.5 4.4zM411.9 825.5l2.5-4.4 2.5 4.4zM412.3 826.1l2.5-4.4 2.5 4.4zM412.7 827.9l2.5-4.4 2.5 4.4zM413.1 826.9l2.5-4.4 2.5 4.4zM413.5 825.5l2.5-4.4 2.5 4.4zM414.0 825.2l2.5-4.4 2.5 4.4zM414.4 824.9l2.5-4.4 2.5 4.4zM414.8 827.3l2.5-4.4 2.5 4.4zM415.2 823.8l2.5-4.4 2.5 4.4zM415.6 826.1l2.5-4.4 2.5 4.4zM416.0 824.9l2.5-4.4 2.5 4.4zM416.4 825.6l2.5-4.4 2.5 4.4zM416.8 824.6l2.5-4.4 2.5 4.4zM417.3 829.4l2.5-4.4 2.5 4.4zM417.7 823.8l2.5-4.4 2.5 4.4zM418.1 825.6l2.5-4.4 2.5 4.4zM418.5 825.7l2.5-4.4 2.5 4.4zM418.9 826.4l2.5-4.4 2.5 4.4zM419.3 826.0l2.5-4.4 2.5 4.4zM419.7 826.0l2.5-4.4 2.5 4.4zM420.2 827.1l2.5-4.4 2.5 4.4zM420.6 822.2l2.5-4.4 2.5 4.4zM421.0 825.2l2.5-4.4 2.5 4.4zM421.4 822.7l2.5-4.4 2.5 4.4zM421.8 825.6l2.5-4.4 2.5 4.4zM422.2 822.8l2.5-4.4 2.5 4.4zM422.6 823.3l2.5-4.4 2.5 4.4zM423.0 825.1l2.5-4.4 2.5 4.4zM423.5 828.0l2.5-4.4 2.5 4.4zM423.9 826.4l2.5-4.4 2.5 4.4zM424.3 825.8l2.5-4.4 2.5 4.4zM424.7 828.0l2.5-4.4 2.5 4.4zM425.1 823.3l2.5-4.4 2.5 4.4zM425.5 821.0l2.5-4.4 2.5 4.4zM425.9 824.4l2.5-4.4 2.5 4.4zM426.3 824.7l2.5-4.4 2.5 4.4zM426.8 827.7l2.5-4.4 2.5 4.4zM427.2 829.5l2.5-4.4 2.5 4.4zM427.6 822.5l2.5-4.4 2.5 4.4zM428.0 830.2l2.5-4.4 2.5 4.4zM428.4 828.3l2.5-4.4 2.5 4.4zM428.8 826.9l2.5-4.4 2.5 4.4zM429.2 825.9l2.5-4.4 2.5 4.4zM429.6 830.0l2.5-4.4 2.5 4.4zM430.1 825.3l2.5-4.4 2.5 4.4zM430.5 824.1l2.5-4.4 2.5 4.4zM430.9 825.3l2.5-4.4 2.5 4.4zM431.3 822.2l2.5-4.4 2.5 4.4zM431.7 825.8l2.5-4.4 2.5 4.4zM432.1 824.5l2.5-4.4 2.5 4.4zM432.5 825.2l2.5-4.4 2.5 4.4zM432.9 824.9l2.5-4.4 2.5 4.4zM433.4 821.3l2.5-4.4 2.5 4.4zM433.8 824.5l2.5-4.4 2.5 4.4zM434.2 816.5l2.5-4.4 2.5 4.4zM434.6 814.6l2.5-4.4 2.5 4.4zM435.0 803.0l2.5-4.4 2.5 4.4zM435.4 804.3l2.5-4.4 2.5 4.4zM435.8 806.6l2.5-4.4 2.5 4.4zM436.3 815.1l2.5-4.4 2.5 4.4zM436.7 818.7l2.5-4.4 2.5 4.4zM437.1 818.3l2.5-4.4 2.5 4.4zM437.5 821.6l2.5-4.4 2.5 4.4zM437.9 824.5l2.5-4.4 2.5 4.4zM438.3 825.9l2.5-4.4 2.5 4.4zM438.7 821.9l2.5-4.4 2.5 4.4zM439.1 820.8l2.5-4.4 2.5 4.4zM439.6 823.4l2.5-4.4 2.5 4.4zM440.0 824.8l2.5-4.4 2.5 4.4zM440.4 824.0l2.5-4.4 2.5 4.4zM440.8 823.7l2.5-4.4 2.5 4.4zM441.2 827.1l2.5-4.4 2.5 4.4zM441.6 827.3l2.5-4.4 2.5 4.4zM442.0 826.9l2.5-4.4 2.5 4.4zM442.4 823.6l2.5-4.4 2.5 4.4zM442.9 825.6l2.5-4.4 2.5 4.4zM443.3 825.1l2.5-4.4 2.5 4.4zM443.7 822.7l2.5-4.4 2.5 4.4zM444.1 827.3l2.5-4.4 2.5 4.4zM444.5 825.7l2.5-4.4 2.5 4.4zM444.9 824.6l2.5-4.4 2.5 4.4zM445.3 828.4l2.5-4.4 2.5 4.4zM445.7 827.1l2.5-4.4 2.5 4.4zM446.2 827.3l2.5-4.4 2.5 4.4zM446.6 828.0l2.5-4.4 2.5 4.4zM447.0 827.1l2.5-4.4 2.5 4.4zM447.4 823.1l2.5-4.4 2.5 4.4zM447.8 824.9l2.5-4.4 2.5 4.4zM448.2 827.7l2.5-4.4 2.5 4.4zM448.6 824.1l2.5-4.4 2.5 4.4zM449.0 825.8l2.5-4.4 2.5 4.4zM449.5 826.5l2.5-4.4 2.5 4.4zM449.9 828.6l2.5-4.4 2.5 4.4zM450.3 828.3l2.5-4.4 2.5 4.4zM450.7 827.5l2.5-4.4 2.5 4.4zM451.1 825.4l2.5-4.4 2.5 4.4zM451.5 827.6l2.5-4.4 2.5 4.4zM451.9 826.8l2.5-4.4 2.5 4.4zM452.3 825.4l2.5-4.4 2.5 4.4zM452.8 828.5l2.5-4.4 2.5 4.4zM453.2 826.8l2.5-4.4 2.5 4.4zM453.6 824.3l2.5-4.4 2.5 4.4zM454.0 828.3l2.5-4.4 2.5 4.4zM454.4 825.3l2.5-4.4 2.5 4.4zM454.8 827.0l2.5-4.4 2.5 4.4zM455.2 822.8l2.5-4.4 2.5 4.4zM455.7 825.8l2.5-4.4 2.5 4.4zM456.1 823.9l2.5-4.4 2.5 4.4zM456.5 823.9l2.5-4.4 2.5 4.4zM456.9 822.0l2.5-4.4 2.5 4.4zM457.3 830.1l2.5-4.4 2.5 4.4zM457.7 825.6l2.5-4.4 2.5 4.4zM458.1 826.4l2.5-4.4 2.5 4.4zM458.5 828.1l2.5-4.4 2.5 4.4zM459.0 825.7l2.5-4.4 2.5 4.4zM459.4 826.9l2.5-4.4 2.5 4.4zM459.8 823.2l2.5-4.4 2.5 4.4zM460.2 826.3l2.5-4.4 2.5 4.4zM460.6 825.1l2.5-4.4 2.5 4.4zM461.0 826.9l2.5-4.4 2.5 4.4zM461.4 826.3l2.5-4.4 2.5 4.4zM461.8 823.2l2.5-4.4 2.5 4.4zM462.3 822.3l2.5-4.4 2.5 4.4zM462.7 823.9l2.5-4.4 2.5 4.4zM463.1 827.4l2.5-4.4 2.5 4.4zM463.5 826.8l2.5-4.4 2.5 4.4zM463.9 826.8l2.5-4.4 2.5 4.4zM464.3 822.0l2.5-4.4 2.5 4.4zM464.7 820.6l2.5-4.4 2.5 4.4zM465.1 824.8l2.5-4.4 2.5 4.4zM465.6 825.4l2.5-4.4 2.5 4.4zM466.0 824.8l2.5-4.4 2.5 4.4zM466.4 826.7l2.5-4.4 2.5 4.4zM466.8 825.7l2.5-4.4 2.5 4.4zM467.2 823.7l2.5-4.4 2.5 4.4zM467.6 824.3l2.5-4.4 2.5 4.4zM468.0 826.3l2.5-4.4 2.5 4.4zM468.4 826.2l2.5-4.4 2.5 4.4zM468.9 825.9l2.5-4.4 2.5 4.4zM469.3 830.6l2.5-4.4 2.5 4.4zM469.7 825.6l2.5-4.4 2.5 4.4zM173.2 602.4l2.5-4.4 2.5 4.4zM172.8 607.9l2.5-4.4 2.5 4.4zM173.3 611.5l2.5-4.4 2.5 4.4zM173.1 617.7l2.5-4.4 2.5 4.4zM173.2 621.2l2.5-4.4 2.5 4.4zM172.0 625.4l2.5-4.4 2.5 4.4zM173.5 631.4l2.5-4.4 2.5 4.4zM172.6 634.9l2.5-4.4 2.5 4.4zM173.6 641.2l2.5-4.4 2.5 4.4zM173.0 645.4l2.5-4.4 2.5 4.4zM173.2 651.7l2.5-4.4 2.5 4.4zM173.1 657.6l2.5-4.4 2.5 4.4zM172.8 661.8l2.5-4.4 2.5 4.4zM173.3 665.6l2.5-4.4 2.5 4.4zM173.1 669.3l2.5-4.4 2.5 4.4zM173.0 675.2l2.5-4.4 2.5 4.4zM173.6 678.6l2.5-4.4 2.5 4.4zM173.7 684.1l2.5-4.4 2.5 4.4zM172.8 689.1l2.5-4.4 2.5 4.4zM173.1 692.9l2.5-4.4 2.5 4.4zM173.3 698.8l2.5-4.4 2.5 4.4zM173.2 702.6l2.5-4.4 2.5 4.4zM173.2 707.8l2.5-4.4 2.5 4.4zM173.1 710.8l2.5-4.4 2.5 4.4zM173.2 717.1l2.5-4.4 2.5 4.4zM172.9 720.6l2.5-4.4 2.5 4.4zM173.1 725.1l2.5-4.4 2.5 4.4zM173.3 731.2l2.5-4.4 2.5 4.4zM173.5 734.9l2.5-4.4 2.5 4.4zM173.1 737.9l2.5-4.4 2.5 4.4zM173.2 742.3l2.5-4.4 2.5 4.4zM172.5 746.3l2.5-4.4 2.5 4.4zM172.6 751.5l2.5-4.4 2.5 4.4zM173.4 756.8l2.5-4.4 2.5 4.4zM173.4 759.9l2.5-4.4 2.5 4.4zM173.6 764.9l2.5-4.4 2.5 4.4zM174.2 769.4l2.5-4.4 2.5 4.4zM173.2 775.4l2.5-4.4 2.5 4.4zM173.0 779.0l2.5-4.4 2.5 4.4zM173.7 784.7l2.5-4.4 2.5 4.4zM172.9 790.0l2.5-4.4 2.5 4.4zM173.3 794.7l2.5-4.4 2.5 4.4zM203.2 770.5l2.5-4.4 2.5 4.4zM202.9 776.0l2.5-4.4 2.5 4.4zM202.9 781.7l2.5-4.4 2.5 4.4zM202.3 785.4l2.5-4.4 2.5 4.4zM202.8 789.2l2.5-4.4 2.5 4.4zM202.7 795.5l2.5-4.4 2.5 4.4zM203.1 800.2l2.5-4.4 2.5 4.4zM202.6 806.6l2.5-4.4 2.5 4.4zM202.7 810.2l2.5-4.4 2.5 4.4zM295.6 712.4l2.5-4.4 2.5 4.4zM295.6 717.9l2.5-4.4 2.5 4.4zM295.8 723.8l2.5-4.4 2.5 4.4zM295.5 727.1l2.5-4.4 2.5 4.4zM295.8 732.5l2.5-4.4 2.5 4.4zM295.6 737.1l2.5-4.4 2.5 4.4zM295.7 743.3l2.5-4.4 2.5 4.4zM295.5 746.7l2.5-4.4 2.5 4.4zM295.9 752.4l2.5-4.4 2.5 4.4zM295.6 756.9l2.5-4.4 2.5 4.4zM296.2 761.6l2.5-4.4 2.5 4.4zM295.8 765.9l2.5-4.4 2.5 4.4zM295.3 771.2l2.5-4.4 2.5 4.4zM295.8 776.5l2.5-4.4 2.5 4.4zM295.7 779.7l2.5-4.4 2.5 4.4zM295.6 785.7l2.5-4.4 2.5 4.4zM296.1 791.5l2.5-4.4 2.5 4.4zM296.6 797.2l2.5-4.4 2.5 4.4zM296.2 802.7l2.5-4.4 2.5 4.4zM295.2 809.1l2.5-4.4 2.5 4.4zM295.9 814.9l2.5-4.4 2.5 4.4zM295.9 818.1l2.5-4.4 2.5 4.4zM352.6 750.7l2.5-4.4 2.5 4.4zM352.8 756.2l2.5-4.4 2.5 4.4zM352.9 761.5l2.5-4.4 2.5 4.4zM353.0 767.3l2.5-4.4 2.5 4.4zM352.7 772.9l2.5-4.4 2.5 4.4zM352.6 778.3l2.5-4.4 2.5 4.4zM352.5 783.5l2.5-4.4 2.5 4.4zM352.8 789.0l2.5-4.4 2.5 4.4zM352.8 792.0l2.5-4.4 2.5 4.4zM352.4 797.2l2.5-4.4 2.5 4.4zM352.3 802.1l2.5-4.4 2.5 4.4zM352.9 806.1l2.5-4.4 2.5 4.4zM352.9 810.0l2.5-4.4 2.5 4.4zM352.4 814.0l2.5-4.4 2.5 4.4zM352.7 820.1l2.5-4.4 2.5 4.4zM370.3 807.1l2.5-4.4 2.5 4.4zM370.1 812.6l2.5-4.4 2.5 4.4zM370.0 818.1l2.5-4.4 2.5 4.4zM435.2 804.5l2.5-4.4 2.5 4.4zM436.0 810.0l2.5-4.4 2.5 4.4zM435.5 816.4l2.5-4.4 2.5 4.4zM435.7 821.3l2.5-4.4 2.5 4.4z" fill="none" stroke="#1c97ff" stroke-width="1.1" stroke-linejoin="round"/>
<polyline points="59.8,787.0 60.1,787.1 60.5,787.1 60.8,787.2 61.2,787.3 61.5,787.4 61.9,787.5 62.2,787.6 62.6,787.7 62.9,787.8 63.2,787.9 63.6,788.0 63.9,788.1 64.3,788.2 64.6,788.3 65.0,788.4 65.3,788.5 65.6,788.5 66.0,788.6 66.3,788.6 66.7,788.7 67.0,788.7 67.4,788.7 67.7,788.6 68.1,788.6 68.4,788.5 68.7,788.5 69.1,788.4 69.4,788.4 69.8,788.3 70.1,788.2 70.5,788.2 70.8,788.1 71.2,788.0 71.5,788.0 71.8,787.9 72.2,787.8 72.5,787.7 72.9,787.6 73.2,787.6 73.6,787.5 73.9,787.4 74.2,787.3 74.6,787.2 74.9,787.1 75.3,787.0 75.6,786.9 76.0,786.8 76.3,786.7 76.7,786.6 77.0,786.5 77.3,786.4 77.7,786.3 78.0,786.2 78.4,786.1 78.7,786.0 79.1,785.9 79.4,785.8 79.8,785.6 80.1,785.5 80.4,785.4 80.8,785.3 81.1,785.2 81.5,785.1 81.8,784.9 82.2,784.8 82.5,784.7 82.8,784.6 83.2,784.5 83.5,784.3 83.9,784.2 84.2,784.1 84.6,784.0 84.9,783.9 85.3,783.7 85.6,783.6 85.9,783.5 86.3,783.4 86.6,783.2 87.0,783.1 87.3,783.0 87.7,782.9 88.0,782.7 88.4,782.6 88.7,782.5 89.0,782.3 89.4,782.2 89.7,782.1 90.1,781.9 90.4,781.8 90.8,781.6 91.1,781.5 91.4,781.3 91.8,781.1 92.1,781.0 92.5,780.8 92.8,780.7 93.2,780.5 93.5,780.3 93.9,780.2 94.2,780.0 94.5,779.8 94.9,779.6 95.2,779.5 95.6,779.3 95.9,779.1 96.3,778.9 96.6,778.8 97.0,778.6 97.3,778.4 97.6,778.2 98.0,778.1 98.3,777.9 98.7,777.7 99.0,777.6 99.4,777.4 99.7,777.2 100.0,777.0 100.4,776.9 100.7,776.7 101.1,776.5 101.4,776.4 101.8,776.2 102.1,776.0 102.5,775.9 102.8,775.7 103.1,775.6 103.5,775.4 103.8,775.2 104.2,775.1 104.5,774.9 104.9,774.8 105.2,774.7 105.6,774.5 105.9,774.4 106.2,774.2 106.6,774.1 106.9,774.0 107.3,773.9 107.6,773.7 108.0,773.6 108.3,773.5 108.6,773.4 109.0,773.3 109.3,773.2 109.7,773.1 110.0,773.0 110.4,772.9 110.7,772.9 111.1,772.8 111.4,772.7 111.7,772.6 112.1,772.6 112.4,772.5 112.8,772.5 113.1,772.4 113.5,772.4 113.8,772.4 114.2,772.3 114.5,772.3 114.8,772.3 115.2,772.3 115.5,772.3 115.9,772.3 116.2,772.3 116.6,772.3 116.9,772.3 117.2,772.3 117.6,772.4 117.9,772.4 118.3,772.4 118.6,772.5 119.0,772.5 119.3,772.5 119.7,772.6 120.0,772.7 120.3,772.7 120.7,772.8 121.0,772.9 121.4,772.9 121.7,773.0 122.1,773.1 122.4,773.2 122.8,773.2 123.1,773.3 123.4,773.4 123.8,773.5 124.1,773.6 124.5,773.7 124.8,773.8 125.2,773.9 125.5,774.1 125.8,774.2 126.2,774.3 126.5,774.4 126.9,774.5 127.2,774.6 127.6,774.8 127.9,774.9 128.3,775.0 128.6,775.1 128.9,775.3 129.3,775.4 129.6,775.5 130.0,775.7 130.3,775.8 130.7,776.0 131.0,776.1 131.4,776.2 131.7,776.4 132.0,776.5 132.4,776.7 132.7,776.8 133.1,777.0 133.4,777.1 133.8,777.2 134.1,777.4 134.4,777.5 134.8,777.7 135.1,777.8 135.5,778.0 135.8,778.1 136.2,778.3 136.5,778.4 136.9,778.6 137.2,778.8 137.5,778.9 137.9,779.1 138.2,779.3 138.6,779.5 138.9,779.6 139.3,779.8 139.6,780.0 140.0,780.2 140.3,780.4 140.6,780.6 141.0,780.8 141.3,781.0 141.7,781.2 142.0,781.4 142.4,781.6 142.7,781.8 143.0,782.1 143.4,782.3 143.7,782.5 144.1,782.7 144.4,782.9 144.8,783.1 145.1,783.4 145.5,783.6 145.8,783.8 146.1,784.0 146.5,784.3 146.8,784.5 147.2,784.7 147.5,785.0 147.9,785.2 148.2,785.4 148.6,785.6 148.9,785.9 149.2,786.1 149.6,786.3 149.9,786.6 150.3,786.8 150.6,787.0 151.0,787.2 151.3,787.5 151.6,787.7 152.0,787.9 152.3,788.1 152.7,788.3 153.0,788.5 153.4,788.8 153.7,789.0 154.1,789.2 154.4,789.4 154.7,789.6 155.1,789.8 155.4,790.0 155.8,790.2 156.1,790.4 156.5,790.6 156.8,790.8 157.2,791.0 157.5,791.1 157.8,791.3 158.2,791.5 158.5,791.7 158.9,791.9 159.2,792.1 159.6,792.2 159.9,792.4 160.2,792.6 160.6,792.8 160.9,792.9 161.3,793.1 161.6,793.3 162.0,793.4 162.3,793.6 162.7,793.8 163.0,793.9 163.3,794.1 163.7,794.2 164.0,794.4 164.4,794.6 164.7,794.7 165.1,794.9 165.4,795.0 165.8,795.2 166.1,795.3 166.4,795.5 166.8,795.6 167.1,795.7 167.5,795.9 167.8,796.0 168.2,796.1 168.5,796.2 168.8,796.3 169.2,796.4 169.5,796.5 169.9,796.5 170.2,796.5 170.6,796.5 170.9,796.5 171.3,796.4 171.5,796.3 171.6,796.3 171.6,796.3 171.7,796.2 171.7,796.2 171.8,796.1 171.9,796.1 171.9,796.0 171.9,796.0 172.0,795.9 172.1,795.9 172.2,795.8 172.2,795.7 172.3,795.6 172.3,795.6 172.4,795.5 172.4,795.4 172.5,795.3 172.6,795.2 172.6,795.0 172.6,795.0 172.7,794.9 172.8,794.7 172.8,794.5 172.9,794.4 173.0,794.1 173.0,794.1 173.0,793.9 173.1,793.7 173.2,793.4 173.3,793.1 173.3,792.8 173.3,792.8 173.4,792.4 173.5,792.0 173.5,791.6 173.6,791.1 173.7,790.5 173.7,790.5 173.7,789.8 173.8,789.1 173.9,788.2 173.9,787.1 174.0,785.9 174.0,785.9 174.1,784.4 174.1,782.6 174.2,780.4 174.3,777.9 174.4,774.8 174.4,774.8 174.4,771.2 174.5,767.0 174.6,762.1 174.6,756.4 174.7,749.9 174.7,749.9 174.8,742.6 174.8,734.4 174.9,725.4 175.0,715.7 175.0,705.3 175.0,705.3 175.1,694.4 175.2,683.3 175.2,672.2 175.3,661.5 175.4,651.6 175.4,651.6 175.5,643.2 175.5,636.7 175.6,632.6 175.7,631.2 175.7,632.7 175.7,632.7 175.8,636.9 175.9,643.5 175.9,652.1 176.0,662.0 176.1,672.8 176.1,672.8 176.1,684.0 176.2,695.2 176.3,706.2 176.3,716.7 176.4,726.6 176.4,726.6 176.5,735.7 176.6,743.9 176.6,751.4 176.7,758.0 176.8,763.7 176.8,763.7 176.8,768.8 176.9,773.1 177.0,776.8 177.0,779.9 177.1,782.6 177.1,782.6 177.2,784.8 177.2,786.7 177.3,788.3 177.4,789.6 177.4,790.8 177.4,790.8 177.5,791.8 177.6,792.6 177.7,793.4 177.7,794.1 177.8,794.6 177.8,794.6 177.9,795.2 177.9,795.7 178.0,796.1 178.1,796.5 178.1,796.9 178.1,796.9 178.2,797.2 178.3,797.6 178.3,797.9 178.4,798.2 178.5,798.4 178.5,798.4 178.5,798.7 178.6,798.9 178.7,799.1 178.8,799.4 178.8,799.6 178.8,799.6 178.9,799.8 179.0,800.0 179.0,800.1 179.1,800.3 179.2,800.5 179.2,800.5 179.2,800.6 179.3,800.8 179.4,800.9 179.4,801.1 179.5,801.2 179.5,801.2 179.6,801.3 179.6,801.4 179.7,801.6 179.8,801.7 179.9,801.8 180.2,802.3 180.5,802.8 180.9,803.2 181.2,803.5 181.6,803.8 181.9,804.1 182.3,804.4 182.6,804.7 183.0,804.9 183.3,805.1 183.6,805.3 184.0,805.5 184.3,805.7 184.7,805.9 185.0,806.1 185.4,806.3 185.7,806.5 186.0,806.7 186.4,806.8 186.7,807.0 187.1,807.2 187.4,807.4 187.8,807.5 188.1,807.7 188.5,807.9 188.8,808.0 189.1,808.2 189.5,808.3 189.8,808.5 190.2,808.6 190.5,808.8 190.9,808.9 191.2,809.1 191.6,809.2 191.9,809.4 192.2,809.5 192.6,809.7 192.9,809.8 193.3,809.9 193.6,810.1 194.0,810.2 194.3,810.3 194.6,810.4 195.0,810.5 195.3,810.6 195.7,810.8 196.0,810.9 196.4,811.0 196.7,811.1 197.1,811.1 197.4,811.2 197.7,811.3 198.1,811.4 198.4,811.5 198.8,811.5 199.1,811.6 199.5,811.6 199.8,811.7 200.2,811.7 200.5,811.8 200.8,811.8 201.2,811.8 201.2,811.8 201.3,811.7 201.3,811.7 201.4,811.7 201.5,811.7 201.5,811.7 201.5,811.7 201.6,811.7 201.7,811.7 201.7,811.7 201.8,811.7 201.9,811.6 201.9,811.6 201.9,811.6 202.0,811.6 202.1,811.6 202.1,811.5 202.2,811.5 202.2,811.5 202.3,811.5 202.4,811.5 202.4,811.4 202.5,811.4 202.6,811.3 202.6,811.3 202.6,811.3 202.7,811.2 202.8,811.1 202.8,811.1 202.9,811.0 202.9,811.0 203.0,810.9 203.0,810.8 203.1,810.7 203.2,810.5 203.2,810.4 203.2,810.4 203.3,810.2 203.4,810.0 203.5,809.8 203.5,809.5 203.6,809.2 203.6,809.2 203.7,808.8 203.7,808.3 203.8,807.8 203.9,807.1 203.9,806.4 203.9,806.4 204.0,805.5 204.1,804.5 204.1,803.4 204.2,802.1 204.3,800.6 204.3,800.6 204.3,799.0 204.4,797.2 204.5,795.3 204.6,793.2 204.6,791.0 204.6,791.0 204.7,788.6 204.8,786.3 204.8,783.9 204.9,781.6 205.0,779.3 205.0,779.3 205.0,777.4 205.1,775.7 205.2,774.4 205.2,773.6 205.3,773.3 205.3,773.3 205.4,773.6 205.4,774.4 205.5,775.8 205.6,777.5 205.7,779.5 205.7,779.5 205.7,781.7 205.8,784.1 205.9,786.5 205.9,788.9 206.0,791.2 206.0,791.2 206.1,793.5 206.1,795.6 206.2,797.6 206.3,799.4 206.3,801.0 206.3,801.0 206.4,802.5 206.5,803.8 206.6,805.0 206.6,806.0 206.7,806.9 206.7,806.9 206.8,807.7 206.8,808.4 206.9,808.9 207.0,809.4 207.0,809.9 207.0,809.9 207.1,810.2 207.2,810.5 207.2,810.8 207.3,811.0 207.4,811.2 207.4,811.2 207.4,811.4 207.5,811.6 207.6,811.7 207.7,811.9 207.7,812.0 207.7,812.0 207.8,812.1 207.9,812.2 207.9,812.3 208.0,812.4 208.1,812.5 208.1,812.5 208.1,812.5 208.2,812.6 208.3,812.7 208.3,812.7 208.4,812.8 208.4,812.8 208.5,812.9 208.5,812.9 208.6,813.0 208.7,813.0 208.8,813.1 208.8,813.1 208.8,813.1 208.9,813.2 209.0,813.2 209.0,813.2 209.1,813.3 209.1,813.3 209.2,813.3 209.2,813.4 209.3,813.4 209.4,813.4 209.4,813.5 209.4,813.5 209.8,813.6 210.1,813.7 210.5,813.9 210.8,814.0 211.2,814.1 211.5,814.2 211.8,814.3 212.2,814.3 212.5,814.4 212.9,814.5 213.2,814.6 213.6,814.6 213.9,814.7 214.3,814.8 214.6,814.8 214.9,814.9 215.3,814.9 215.6,815.0 216.0,815.1 216.3,815.1 216.7,815.2 217.0,815.2 217.4,815.3 217.7,815.3 218.0,815.4 218.4,815.5 218.7,815.5 219.1,815.6 219.4,815.6 219.8,815.7 220.1,815.7 220.4,815.8 220.8,815.8 221.1,815.9 221.5,815.9 221.8,815.9 222.2,816.0 222.5,816.0 222.9,816.1 223.2,816.1 223.5,816.2 223.9,816.2 224.2,816.2 224.6,816.3 224.9,816.3 225.3,816.4 225.6,816.4 226.0,816.4 226.3,816.5 226.6,816.5 227.0,816.5 227.3,816.6 227.7,816.6 228.0,816.6 228.4,816.7 228.7,816.7 229.0,816.7 229.4,816.8 229.7,816.8 230.1,816.8 230.4,816.9 230.8,816.9 231.1,816.9 231.5,817.0 231.8,817.0 232.1,817.0 232.5,817.0 232.8,817.1 233.2,817.1 233.5,817.1 233.9,817.1 234.2,817.2 234.6,817.2 234.9,817.2 235.2,817.2 235.6,817.3 235.9,817.3 236.3,817.3 236.6,817.3 237.0,817.4 237.3,817.4 237.6,817.4 238.0,817.4 238.3,817.5 238.7,817.5 239.0,817.5 239.4,817.5 239.7,817.5 240.1,817.6 240.4,817.6 240.7,817.6 241.1,817.6 241.4,817.6 241.8,817.7 242.1,817.7 242.5,817.7 242.8,817.7 243.2,817.7 243.5,817.7 243.8,817.8 244.2,817.8 244.5,817.8 244.9,817.8 245.2,817.8 245.6,817.9 245.9,817.9 246.2,817.9 246.6,817.9 246.9,817.9 247.3,818.0 247.6,818.0 248.0,818.0 248.3,818.0 248.7,818.0 249.0,818.0 249.3,818.1 249.7,818.1 250.0,818.1 250.4,818.1 250.7,818.1 251.1,818.1 251.4,818.2 251.8,818.2 252.1,818.2 252.4,818.2 252.8,818.2 253.1,818.2 253.5,818.3 253.8,818.3 254.2,818.3 254.5,818.3 254.8,818.3 255.2,818.3 255.5,818.3 255.9,818.4 256.2,818.4 256.6,818.4 256.9,818.4 257.3,818.4 257.6,818.4 257.9,818.5 258.3,818.5 258.6,818.5 259.0,818.5 259.3,818.5 259.7,818.5 260.0,818.5 260.4,818.6 260.7,818.6 261.0,818.6 261.4,818.6 261.7,818.6 262.1,818.6 262.4,818.6 262.8,818.7 263.1,818.7 263.4,818.7 263.8,818.7 264.1,818.7 264.5,818.7 264.8,818.7 265.2,818.8 265.5,818.8 265.9,818.8 266.2,818.8 266.5,818.8 266.9,818.8 267.2,818.8 267.6,818.9 267.9,818.9 268.3,818.9 268.6,818.9 269.0,818.9 269.3,818.9 269.6,818.9 270.0,819.0 270.3,819.0 270.7,819.0 271.0,819.0 271.4,819.0 271.7,819.0 272.0,819.0 272.4,819.0 272.7,819.1 273.1,819.1 273.4,819.1 273.8,819.1 274.1,819.1 274.5,819.1 274.8,819.1 275.1,819.2 275.5,819.2 275.8,819.2 276.2,819.2 276.5,819.2 276.9,819.2 277.2,819.2 277.6,819.2 277.9,819.3 278.2,819.3 278.6,819.3 278.9,819.3 279.3,819.3 279.6,819.3 280.0,819.3 280.3,819.3 280.6,819.3 281.0,819.4 281.3,819.4 281.7,819.4 282.0,819.4 282.4,819.4 282.7,819.4 283.1,819.4 283.4,819.4 283.7,819.4 284.1,819.4 284.4,819.5 284.8,819.5 285.1,819.5 285.5,819.5 285.8,819.5 286.2,819.5 286.5,819.5 286.8,819.5 287.2,819.5 287.5,819.5 287.9,819.5 288.2,819.5 288.6,819.5 288.9,819.5 289.2,819.5 289.6,819.5 289.9,819.5 290.3,819.5 290.6,819.4 291.0,819.4 291.3,819.4 291.7,819.4 292.0,819.3 292.3,819.3 292.7,819.2 293.0,819.1 293.4,819.0 293.7,818.9 294.1,818.7 294.1,818.7 294.1,818.6 294.2,818.6 294.3,818.6 294.3,818.5 294.4,818.5 294.4,818.5 294.5,818.4 294.5,818.4 294.6,818.3 294.7,818.2 294.8,818.2 294.8,818.2 294.8,818.1 294.9,818.0 295.0,817.9 295.0,817.9 295.1,817.8 295.1,817.8 295.2,817.7 295.2,817.6 295.3,817.5 295.4,817.3 295.4,817.2 295.4,817.2 295.5,817.1 295.6,816.9 295.6,816.8 295.7,816.6 295.8,816.4 295.8,816.4 295.9,816.2 295.9,816.0 296.0,815.7 296.1,815.4 296.1,815.1 296.1,815.1 296.2,814.7 296.3,814.2 296.3,813.7 296.4,813.1 296.5,812.4 296.5,812.4 296.5,811.6 296.6,810.6 296.7,809.5 296.7,808.2 296.8,806.6 296.8,806.6 296.9,804.9 297.0,802.8 297.0,800.5 297.1,797.8 297.2,794.8 297.2,794.8 297.2,791.5 297.3,787.9 297.4,783.9 297.4,779.7 297.5,775.2 297.5,775.2 297.6,770.5 297.6,765.6 297.7,760.8 297.8,756.0 297.8,751.5 297.8,751.5 297.9,747.5 298.0,744.0 298.1,741.4 298.1,739.8 298.2,739.2 298.2,739.2 298.3,739.8 298.3,741.4 298.4,744.1 298.5,747.5 298.5,751.6 298.5,751.6 298.6,756.1 298.7,760.8 298.7,765.7 298.8,770.5 298.9,775.2 298.9,775.2 298.9,779.7 299.0,784.0 299.1,788.0 299.2,791.6 299.2,794.9 299.2,794.9 299.3,797.9 299.4,800.6 299.4,802.9 299.5,805.0 299.6,806.8 299.6,806.8 299.6,808.3 299.7,809.7 299.8,810.8 299.8,811.8 299.9,812.6 299.9,812.6 300.0,813.3 300.0,813.9 300.1,814.4 300.2,814.9 300.3,815.3 300.3,815.3 300.3,815.6 300.4,815.9 300.5,816.2 300.5,816.4 300.6,816.7 300.6,816.7 300.7,816.9 300.7,817.0 300.8,817.2 300.9,817.4 300.9,817.5 300.9,817.5 301.0,817.6 301.1,817.8 301.2,817.9 301.2,818.0 301.3,818.1 301.3,818.1 301.4,818.2 301.4,818.3 301.5,818.4 301.6,818.4 301.6,818.5 301.6,818.5 301.7,818.6 301.8,818.7 301.8,818.7 301.9,818.8 302.0,818.8 302.0,818.8 302.0,818.9 302.1,819.0 302.2,819.0 302.3,819.1 302.3,819.1 302.3,819.1 302.7,819.3 303.0,819.5 303.4,819.6 303.7,819.7 304.0,819.8 304.4,819.9 304.7,820.0 305.1,820.1 305.4,820.1 305.8,820.2 306.1,820.3 306.4,820.3 306.8,820.3 307.1,820.4 307.5,820.4 307.8,820.5 308.2,820.5 308.5,820.5 308.9,820.6 309.2,820.6 309.5,820.6 309.9,820.7 310.2,820.7 310.6,820.7 310.9,820.7 311.3,820.8 311.6,820.8 312.0,820.8 312.3,820.8 312.6,820.9 313.0,820.9 313.3,820.9 313.7,820.9 314.0,820.9 314.4,821.0 314.7,821.0 315.0,821.0 315.4,821.0 315.7,821.1 316.1,821.1 316.4,821.1 316.8,821.1 317.1,821.1 317.5,821.2 317.8,821.2 318.1,821.2 318.5,821.2 318.8,821.2 319.2,821.3 319.5,821.3 319.9,821.3 320.2,821.3 320.6,821.3 320.9,821.3 321.2,821.4 321.6,821.4 321.9,821.4 322.3,821.4 322.6,821.4 323.0,821.5 323.3,821.5 323.6,821.5 324.0,821.5 324.3,821.5 324.7,821.5 325.0,821.6 325.4,821.6 325.7,821.6 326.1,821.6 326.4,821.6 326.7,821.6 327.1,821.6 327.4,821.7 327.8,821.7 328.1,821.7 328.5,821.7 328.8,821.7 329.2,821.7 329.5,821.7 329.8,821.8 330.2,821.8 330.5,821.8 330.9,821.8 331.2,821.8 331.6,821.8 331.9,821.8 332.2,821.9 332.6,821.9 332.9,821.9 333.3,821.9 333.6,821.9 334.0,821.9 334.3,821.9 334.7,821.9 335.0,821.9 335.3,822.0 335.7,822.0 336.0,822.0 336.4,822.0 336.7,822.0 337.1,822.0 337.4,822.0 337.8,822.0 338.1,822.0 338.4,822.0 338.8,822.0 339.1,822.1 339.5,822.1 339.8,822.1 340.2,822.1 340.5,822.1 340.8,822.1 341.2,822.1 341.5,822.1 341.9,822.1 342.2,822.1 342.6,822.1 342.9,822.1 343.3,822.1 343.6,822.1 343.9,822.1 344.3,822.1 344.6,822.1 345.0,822.1 345.3,822.1 345.7,822.1 346.0,822.1 346.4,822.1 346.7,822.1 347.0,822.1 347.4,822.1 347.7,822.1 348.1,822.1 348.4,822.1 348.8,822.0 349.1,822.0 349.4,822.0 349.8,821.9 350.1,821.9 350.5,821.8 350.8,821.7 351.2,821.6 351.2,821.6 351.2,821.6 351.3,821.6 351.4,821.5 351.4,821.5 351.5,821.5 351.5,821.5 351.6,821.4 351.6,821.4 351.7,821.4 351.8,821.3 351.9,821.3 351.9,821.3 351.9,821.2 352.0,821.2 352.1,821.1 352.1,821.1 352.2,821.0 352.2,821.0 352.3,820.9 352.3,820.9 352.4,820.8 352.5,820.7 352.5,820.7 352.5,820.7 352.6,820.6 352.7,820.5 352.8,820.4 352.8,820.3 352.9,820.1 352.9,820.1 353.0,820.0 353.0,819.8 353.1,819.7 353.2,819.5 353.2,819.3 353.2,819.3 353.3,819.0 353.4,818.7 353.4,818.4 353.5,818.0 353.6,817.6 353.6,817.6 353.6,817.0 353.7,816.4 353.8,815.7 353.9,814.8 353.9,813.9 353.9,813.9 354.0,812.7 354.1,811.4 354.1,809.9 354.2,808.2 354.3,806.3 354.3,806.3 354.3,804.1 354.4,801.8 354.5,799.3 354.5,796.5 354.6,793.6 354.6,793.6 354.7,790.6 354.7,787.5 354.8,784.4 354.9,781.3 355.0,778.5 355.0,778.5 355.0,775.9 355.1,773.7 355.2,772.0 355.2,770.9 355.3,770.6 355.3,770.6 355.4,770.9 355.4,772.0 355.5,773.7 355.6,775.9 355.6,778.5 355.6,778.5 355.7,781.4 355.8,784.4 355.8,787.5 355.9,790.6 356.0,793.7 356.0,793.7 356.1,796.6 356.1,799.3 356.2,801.9 356.3,804.2 356.3,806.3 356.3,806.3 356.4,808.2 356.5,809.9 356.5,811.4 356.6,812.8 356.7,813.9 356.7,813.9 356.7,814.9 356.8,815.8 356.9,816.5 356.9,817.1 357.0,817.7 357.0,817.7 357.1,818.1 357.2,818.5 357.2,818.8 357.3,819.1 357.4,819.4 357.4,819.4 357.4,819.6 357.5,819.8 357.6,820.0 357.6,820.1 357.7,820.2 357.7,820.2 357.8,820.4 357.8,820.5 357.9,820.6 358.0,820.7 358.0,820.8 358.0,820.8 358.1,820.9 358.2,820.9 358.3,821.0 358.3,821.1 358.4,821.2 358.4,821.2 358.5,821.2 358.5,821.3 358.6,821.3 358.7,821.4 358.7,821.4 358.7,821.4 358.8,821.5 358.9,821.5 358.9,821.6 359.0,821.6 359.1,821.6 359.1,821.6 359.1,821.7 359.2,821.7 359.3,821.7 359.4,821.8 359.4,821.8 359.4,821.8 359.8,821.9 360.1,822.0 360.5,822.1 360.8,822.2 361.1,822.2 361.5,822.3 361.8,822.3 362.2,822.4 362.5,822.4 362.9,822.4 363.2,822.5 363.6,822.5 363.9,822.5 364.2,822.5 364.6,822.6 364.9,822.6 365.3,822.6 365.6,822.6 366.0,822.6 366.3,822.6 366.6,822.6 367.0,822.6 367.3,822.6 367.7,822.6 368.0,822.6 368.4,822.6 368.7,822.5 368.7,822.5 368.8,822.5 368.8,822.5 368.9,822.5 369.0,822.5 369.1,822.5 369.1,822.5 369.1,822.5 369.2,822.5 369.3,822.5 369.3,822.5 369.4,822.5 369.4,822.5 369.5,822.5 369.5,822.4 369.6,822.4 369.7,822.4 369.7,822.4 369.7,822.4 369.8,822.4 369.9,822.4 370.0,822.3 370.0,822.3 370.1,822.3 370.1,822.3 370.2,822.3 370.2,822.2 370.3,822.2 370.4,822.2 370.4,822.1 370.4,822.1 370.5,822.1 370.6,822.1 370.6,822.0 370.7,821.9 370.8,821.9 370.8,821.9 370.8,821.8 370.9,821.7 371.0,821.6 371.1,821.4 371.1,821.3 371.1,821.3 371.2,821.1 371.3,820.9 371.3,820.7 371.4,820.5 371.5,820.2 371.5,820.2 371.5,819.9 371.6,819.5 371.7,819.1 371.7,818.7 371.8,818.2 371.8,818.2 371.9,817.7 371.9,817.2 372.0,816.6 372.1,816.0 372.2,815.4 372.2,815.4 372.2,814.8 372.3,814.1 372.4,813.5 372.4,812.9 372.5,812.4 372.5,812.4 372.6,811.9 372.6,811.5 372.7,811.2 372.8,811.0 372.8,810.9 372.8,810.9 372.9,811.0 373.0,811.2 373.0,811.5 373.1,811.9 373.2,812.4 373.2,812.4 373.3,812.9 373.3,813.5 373.4,814.2 373.5,814.8 373.5,815.4 373.5,815.4 373.6,816.0 373.7,816.6 373.7,817.2 373.8,817.8 373.9,818.3 373.9,818.3 373.9,818.7 374.0,819.2 374.1,819.6 374.1,819.9 374.2,820.3 374.2,820.3 374.3,820.5 374.4,820.8 374.4,821.0 374.5,821.2 374.6,821.4 374.6,821.4 374.6,821.5 374.7,821.7 374.8,821.8 374.8,821.9 374.9,822.0 374.9,822.0 375.0,822.0 375.0,822.1 375.1,822.2 375.2,822.2 375.2,822.3 375.2,822.3 375.3,822.3 375.4,822.4 375.5,822.4 375.5,822.4 375.6,822.4 375.6,822.4 375.7,822.5 375.7,822.5 375.8,822.5 375.9,822.5 375.9,822.6 375.9,822.6 376.0,822.6 376.1,822.6 376.1,822.6 376.2,822.6 376.3,822.7 376.3,822.7 376.3,822.7 376.4,822.7 376.5,822.7 376.6,822.7 376.6,822.7 376.6,822.7 376.7,822.7 376.8,822.7 376.8,822.8 376.9,822.8 377.0,822.8 377.0,822.8 377.3,822.8 377.7,822.9 378.0,822.9 378.3,822.9 378.7,822.9 379.0,823.0 379.4,823.0 379.7,823.0 380.1,823.0 380.4,823.0 380.8,823.0 381.1,823.0 381.4,823.1 381.8,823.1 382.1,823.1 382.5,823.1 382.8,823.1 383.2,823.1 383.5,823.1 383.8,823.1 384.2,823.1 384.5,823.2 384.9,823.2 385.2,823.2 385.6,823.2 385.9,823.2 386.3,823.2 386.6,823.2 386.9,823.2 387.3,823.2 387.6,823.2 388.0,823.2 388.3,823.2 388.7,823.3 389.0,823.3 389.4,823.3 389.7,823.3 390.0,823.3 390.4,823.3 390.7,823.3 391.1,823.3 391.4,823.3 391.8,823.3 392.1,823.3 392.4,823.3 392.8,823.3 393.1,823.4 393.5,823.4 393.8,823.4 394.2,823.4 394.5,823.4 394.9,823.4 395.2,823.4 395.5,823.4 395.9,823.4 396.2,823.4 396.6,823.4 396.9,823.4 397.3,823.4 397.6,823.5 398.0,823.5 398.3,823.5 398.6,823.5 399.0,823.5 399.3,823.5 399.7,823.5 400.0,823.5 400.4,823.5 400.7,823.5 401.0,823.5 401.4,823.5 401.7,823.5 402.1,823.5 402.4,823.6 402.8,823.6 403.1,823.6 403.5,823.6 403.8,823.6 404.1,823.6 404.5,823.6 404.8,823.6 405.2,823.6 405.5,823.6 405.9,823.6 406.2,823.6 406.6,823.6 406.9,823.6 407.2,823.7 407.6,823.7 407.9,823.7 408.3,823.7 408.6,823.7 409.0,823.7 409.3,823.7 409.6,823.7 410.0,823.7 410.3,823.7 410.7,823.7 411.0,823.7 411.4,823.7 411.7,823.7 412.1,823.8 412.4,823.8 412.7,823.8 413.1,823.8 413.4,823.8 413.8,823.8 414.1,823.8 414.5,823.8 414.8,823.8 415.2,823.8 415.5,823.8 415.8,823.8 416.2,823.8 416.5,823.8 416.9,823.8 417.2,823.9 417.6,823.9 417.9,823.9 418.2,823.9 418.6,823.9 418.9,823.9 419.3,823.9 419.6,823.9 420.0,823.9 420.3,823.9 420.7,823.9 421.0,823.9 421.3,823.9 421.7,823.9 422.0,823.9 422.4,824.0 422.7,824.0 423.1,824.0 423.4,824.0 423.8,824.0 424.1,824.0 424.4,824.0 424.8,824.0 425.1,824.0 425.5,824.0 425.8,824.0 426.2,824.0 426.5,824.0 426.8,824.0 427.2,824.0 427.5,824.0 427.9,824.0 428.2,824.0 428.6,824.0 428.9,824.0 429.3,824.0 429.6,824.1 429.9,824.1 430.3,824.1 430.6,824.1 431.0,824.1 431.3,824.1 431.7,824.1 432.0,824.0 432.4,824.0 432.7,824.0 433.0,824.0 433.4,824.0 433.7,824.0 433.7,824.0 433.8,824.0 433.9,824.0 433.9,824.0 434.0,824.0 434.1,824.0 434.1,824.0 434.1,823.9 434.2,823.9 434.3,823.9 434.3,823.9 434.4,823.9 434.4,823.9 434.5,823.9 434.6,823.9 434.6,823.9 434.7,823.9 434.8,823.9 434.8,823.9 434.8,823.8 434.9,823.8 435.0,823.8 435.0,823.8 435.1,823.8 435.1,823.8 435.2,823.8 435.2,823.7 435.3,823.7 435.4,823.7 435.4,823.7 435.4,823.7 435.5,823.6 435.6,823.6 435.7,823.5 435.7,823.5 435.8,823.4 435.8,823.4 435.9,823.4 435.9,823.3 436.0,823.2 436.1,823.1 436.1,823.0 436.1,823.0 436.2,822.8 436.3,822.7 436.3,822.5 436.4,822.3 436.5,822.1 436.5,822.1 436.5,821.8 436.6,821.6 436.7,821.3 436.8,820.9 436.8,820.5 436.8,820.5 436.9,820.1 437.0,819.7 437.0,819.3 437.1,818.8 437.2,818.3 437.2,818.3 437.2,817.8 437.3,817.3 437.4,816.8 437.4,816.3 437.5,815.9 437.5,815.9 437.6,815.5 437.6,815.2 437.7,815.0 437.8,814.8 437.9,814.8 437.9,814.8 437.9,814.8 438.0,815.0 438.1,815.2 438.1,815.5 438.2,815.9 438.2,815.9 438.3,816.4 438.3,816.8 438.4,817.3 438.5,817.8 438.5,818.3 438.5,818.3 438.6,818.8 438.7,819.3 438.8,819.7 438.8,820.2 438.9,820.6 438.9,820.6 439.0,821.0 439.0,821.3 439.1,821.6 439.2,821.9 439.2,822.1 439.2,822.1 439.3,822.4 439.4,822.6 439.4,822.7 439.5,822.9 439.6,823.0 439.6,823.0 439.6,823.2 439.7,823.3 439.8,823.4 439.9,823.4 439.9,823.5 439.9,823.5 440.0,823.6 440.1,823.6 440.1,823.7 440.2,823.7 440.3,823.7 440.3,823.7 440.3,823.8 440.4,823.8 440.5,823.8 440.5,823.9 440.6,823.9 440.6,823.9 440.7,823.9 440.7,823.9 440.8,823.9 440.9,824.0 441.0,824.0 441.0,824.0 441.0,824.0 441.1,824.0 441.2,824.0 441.2,824.0 441.3,824.0 441.3,824.0 441.4,824.1 441.4,824.1 441.5,824.1 441.6,824.1 441.6,824.1 441.6,824.1 441.7,824.1 441.8,824.1 441.8,824.1 441.9,824.1 442.0,824.1 442.3,824.2 442.7,824.2 443.0,824.2 443.4,824.2 443.7,824.3 444.0,824.3 444.4,824.3 444.7,824.3 445.1,824.3 445.4,824.3 445.8,824.3 446.1,824.4 446.5,824.4 446.8,824.4 447.1,824.4 447.5,824.4 447.8,824.4 448.2,824.4 448.5,824.4 448.9,824.4 449.2,824.4 449.6,824.4 449.9,824.5 450.2,824.5 450.6,824.5 450.9,824.5 451.3,824.5 451.6,824.5 452.0,824.5 452.3,824.5 452.6,824.5 453.0,824.5 453.3,824.5 453.7,824.5 454.0,824.5 454.4,824.5 454.7,824.6 455.1,824.6 455.4,824.6 455.7,824.6 456.1,824.6 456.4,824.6 456.8,824.6 457.1,824.6 457.5,824.6 457.8,824.6 458.2,824.6 458.5,824.6 458.8,824.6 459.2,824.6 459.5,824.6 459.9,824.7 460.2,824.7 460.6,824.7 460.9,824.7 461.2,824.7 461.6,824.7 461.9,824.7 462.3,824.7 462.6,824.7 463.0,824.7 463.3,824.7 463.7,824.7 464.0,824.7 464.3,824.7 464.7,824.7 465.0,824.8 465.4,824.8 465.7,824.8 466.1,824.8 466.4,824.8 466.8,824.8 467.1,824.8 467.4,824.8 467.8,824.8 468.1,824.8 468.5,824.8 468.8,824.8 469.2,824.8 469.5,824.8 469.8,824.8 470.2,824.8 470.5,824.9 470.9,824.9 471.2,824.9 471.6,824.9 471.9,824.9 472.3,824.9 472.6,824.9" fill="none" stroke="#000a96" stroke-width="2.0" stroke-linejoin="round" stroke-linecap="round" />
<path d="M96.9 833.7V840.0M142.1 833.7V840.0M175.8 833.7V840.0M205.7 833.7V840.0M231.5 833.7V840.0M255.7 833.7V840.0M298.8 833.7V840.0M318.6 833.7V840.0M337.8 833.7V840.0M355.5 833.7V840.0M373.3 833.7V840.0M390.3 833.7V840.0M407.3 833.7V840.0M439.3 833.7V840.0M454.7 833.7V840.0M469.1 833.7V840.0" stroke="#ffa050" stroke-width="1.6" fill="none"/>
<polyline points="59.8,883.4 60.5,883.6 61.2,883.8 61.9,884.1 62.6,884.3 63.2,884.5 63.9,884.8 64.6,885.0 65.3,885.3 66.0,885.5 66.7,885.8 67.4,886.0 68.1,886.3 68.7,886.5 69.4,886.8 70.1,887.0 70.8,887.2 71.5,887.4 72.2,887.6 72.9,887.8 73.6,887.9 74.2,888.1 74.9,888.2 75.6,888.3 76.3,888.3 77.0,888.4 77.7,888.4 78.4,888.4 79.1,888.4 79.8,888.4 80.4,888.3 81.1,888.3 81.8,888.2 82.5,888.1 83.2,888.0 83.9,887.8 84.6,887.7 85.3,887.6 85.9,887.4 86.6,887.2 87.3,887.1 88.0,886.9 88.7,886.7 89.4,886.6 90.1,886.4 90.8,886.2 91.4,886.0 92.1,885.9 92.8,885.7 93.5,885.5 94.2,885.4 94.9,885.2 95.6,885.1 96.3,884.9 97.0,884.7 97.6,884.5 98.3,884.3 99.0,884.1 99.7,883.9 100.4,883.7 101.1,883.5 101.8,883.2 102.5,883.0 103.1,882.8 103.8,882.6 104.5,882.4 105.2,882.1 105.9,881.9 106.6,881.7 107.3,881.6 108.0,881.4 108.6,881.2 109.3,881.0 110.0,880.9 110.7,880.8 111.4,880.7 112.1,880.6 112.8,880.5 113.5,880.4 114.2,880.4 114.8,880.4 115.5,880.4 116.2,880.4 116.9,880.5 117.6,880.6 118.3,880.7 119.0,880.8 119.7,880.9 120.3,881.0 121.0,881.2 121.7,881.4 122.4,881.6 123.1,881.7 123.8,881.9 124.5,882.1 125.2,882.4 125.8,882.6 126.5,882.8 127.2,883.0 127.9,883.2 128.6,883.5 129.3,883.7 130.0,883.9 130.7,884.1 131.4,884.3 132.0,884.5 132.7,884.7 133.4,884.9 134.1,885.1 134.8,885.2 135.5,885.4 136.2,885.5 136.9,885.7 137.5,885.9 138.2,886.0 138.9,886.2 139.6,886.3 140.3,886.5 141.0,886.7 141.7,886.8 142.4,887.0 143.0,887.1 143.7,887.3 144.4,887.4 145.1,887.6 145.8,887.7 146.5,887.8 147.2,887.9 147.9,888.0 148.6,888.1 149.2,888.2 149.9,888.3 150.6,888.3 151.3,888.4 152.0,888.4 152.7,888.4 153.4,888.4 154.1,888.4 154.7,888.3 155.4,888.3 156.1,888.2 156.8,888.1 157.5,888.0 158.2,887.9 158.9,887.8 159.6,887.7 160.2,887.6 160.9,887.5 161.6,887.3 162.3,887.2 163.0,887.1 163.7,886.9 164.4,886.8 165.1,886.7 165.8,886.5 166.4,886.4 167.1,886.3 167.8,886.1 168.5,886.0 169.2,885.9 169.9,885.8 170.6,885.7 171.3,885.6 171.9,885.5 172.6,885.5 173.3,885.4 174.0,885.4 174.7,885.3 175.4,885.3 176.1,885.3 176.8,885.2 177.4,885.2 178.1,885.2" fill="none" stroke="#ff6418" stroke-width="9.0" stroke-linejoin="round" stroke-linecap="round" stroke-opacity="0.55"/>
<polyline points="59.8,883.4 60.5,883.6 61.2,883.8 61.9,884.1 62.6,884.3 63.2,884.5 63.9,884.8 64.6,885.0 65.3,885.3 66.0,885.5 66.7,885.8 67.4,886.0 68.1,886.3 68.7,886.5 69.4,886.8 70.1,887.0 70.8,887.2 71.5,887.4 72.2,887.6 72.9,887.8 73.6,887.9 74.2,888.1 74.9,888.2 75.6,888.3 76.3,888.3 77.0,888.4 77.7,888.4 78.4,888.4 79.1,888.4 79.8,888.4 80.4,888.3 81.1,888.3 81.8,888.2 82.5,888.1 83.2,888.0 83.9,887.8 84.6,887.7 85.3,887.6 85.9,887.4 86.6,887.2 87.3,887.1 88.0,886.9 88.7,886.7 89.4,886.6 90.1,886.4 90.8,886.2 91.4,886.0 92.1,885.9 92.8,885.7 93.5,885.5 94.2,885.4 94.9,885.2 95.6,885.1 96.3,884.9 97.0,884.7 97.6,884.5 98.3,884.3 99.0,884.1 99.7,883.9 100.4,883.7 101.1,883.5 101.8,883.2 102.5,883.0 103.1,882.8 103.8,882.6 104.5,882.4 105.2,882.1 105.9,881.9 106.6,881.7 107.3,881.6 108.0,881.4 108.6,881.2 109.3,881.0 110.0,880.9 110.7,880.8 111.4,880.7 112.1,880.6 112.8,880.5 113.5,880.4 114.2,880.4 114.8,880.4 115.5,880.4 116.2,880.4 116.9,880.5 117.6,880.6 118.3,880.7 119.0,880.8 119.7,880.9 120.3,881.0 121.0,881.2 121.7,881.4 122.4,881.6 123.1,881.7 123.8,881.9 124.5,882.1 125.2,882.4 125.8,882.6 126.5,882.8 127.2,883.0 127.9,883.2 128.6,883.5 129.3,883.7 130.0,883.9 130.7,884.1 131.4,884.3 132.0,884.5 132.7,884.7 133.4,884.9 134.1,885.1 134.8,885.2 135.5,885.4 136.2,885.5 136.9,885.7 137.5,885.9 138.2,886.0 138.9,886.2 139.6,886.3 140.3,886.5 141.0,886.7 141.7,886.8 142.4,887.0 143.0,887.1 143.7,887.3 144.4,887.4 145.1,887.6 145.8,887.7 146.5,887.8 147.2,887.9 147.9,888.0 148.6,888.1 149.2,888.2 149.9,888.3 150.6,888.3 151.3,888.4 152.0,888.4 152.7,888.4 153.4,888.4 154.1,888.4 154.7,888.3 155.4,888.3 156.1,888.2 156.8,888.1 157.5,888.0 158.2,887.9 158.9,887.8 159.6,887.7 160.2,887.6 160.9,887.5 161.6,887.3 162.3,887.2 163.0,887.1 163.7,886.9 164.4,886.8 165.1,886.7 165.8,886.5 166.4,886.4 167.1,886.3 167.8,886.1 168.5,886.0 169.2,885.9 169.9,885.8 170.6,885.7 171.3,885.6 171.9,885.5 172.6,885.5 173.3,885.4 174.0,885.4 174.7,885.3 175.4,885.3 176.1,885.3 176.8,885.2 177.4,885.2 178.1,885.2 178.8,885.2 179.5,885.2 180.2,885.2 180.9,885.2 181.6,885.2 182.3,885.2 183.0,885.2 183.6,885.2 184.3,885.2 185.0,885.2 185.7,885.2 186.4,885.2 187.1,885.2 187.8,885.2 188.5,885.3 189.1,885.3 189.8,885.3 190.5,885.3 191.2,885.3 191.9,885.3 192.6,885.3 193.3,885.4 194.0,885.4 194.6,885.4 195.3,885.4 196.0,885.4 196.7,885.4 197.4,885.4 198.1,885.4 198.8,885.4 199.5,885.4 200.2,885.4 200.8,885.4 201.5,885.4 202.2,885.4 202.9,885.4 203.6,885.4 204.3,885.4 205.0,885.4 205.7,885.4 206.3,885.4 207.0,885.4 207.7,885.4 208.4,885.4 209.1,885.4 209.8,885.4 210.5,885.4 211.2,885.4 211.8,885.4 212.5,885.4 213.2,885.4 213.9,885.4 214.6,885.4 215.3,885.4 216.0,885.4 216.7,885.4 217.4,885.4 218.0,885.4 218.7,885.4 219.4,885.4 220.1,885.4 220.8,885.4 221.5,885.4 222.2,885.4 222.9,885.4 223.5,885.4 224.2,885.4 224.9,885.4 225.6,885.4 226.3,885.4 227.0,885.4 227.7,885.4 228.4,885.4 229.0,885.4 229.7,885.4 230.4,885.4 231.1,885.4 231.8,885.4 232.5,885.4 233.2,885.4 233.9,885.4 234.6,885.4 235.2,885.4 235.9,885.4 236.6,885.4 237.3,885.4 238.0,885.4 238.7,885.4 239.4,885.4 240.1,885.4 240.7,885.4 241.4,885.4 242.1,885.4 242.8,885.4 243.5,885.4 244.2,885.4 244.9,885.4 245.6,885.4 246.2,885.4 246.9,885.4 247.6,885.4 248.3,885.4 249.0,885.4 249.7,885.4 250.4,885.4 251.1,885.4 251.8,885.4 252.4,885.4 253.1,885.4 253.8,885.4 254.5,885.4 255.2,885.4 255.9,885.4 256.6,885.4 257.3,885.4 257.9,885.4 258.6,885.4 259.3,885.4 260.0,885.4 260.7,885.4 261.4,885.4 262.1,885.4 262.8,885.4 263.4,885.4 264.1,885.4 264.8,885.4 265.5,885.4 266.2,885.4 266.9,885.4 267.6,885.4 268.3,885.4 269.0,885.4 269.6,885.4 270.3,885.4 271.0,885.4 271.7,885.4 272.4,885.4 273.1,885.4 273.8,885.4 274.5,885.4 275.1,885.4 275.8,885.4 276.5,885.4 277.2,885.4 277.9,885.4 278.6,885.4 279.3,885.4 280.0,885.4 280.6,885.4 281.3,885.4 282.0,885.4 282.7,885.4 283.4,885.4 284.1,885.4 284.8,885.4 285.5,885.4 286.2,885.4 286.8,885.4 287.5,885.4 288.2,885.4 288.9,885.4 289.6,885.4 290.3,885.4 291.0,885.4 291.7,885.4 292.3,885.4 293.0,885.4 293.7,885.4 294.4,885.4 295.1,885.4 295.8,885.4 296.5,885.4 297.2,885.4 297.8,885.4 298.5,885.4 299.2,885.4 299.9,885.4 300.6,885.4 301.3,885.4 302.0,885.4 302.7,885.4 303.4,885.4 304.0,885.4 304.7,885.4 305.4,885.4 306.1,885.4 306.8,885.4 307.5,885.4 308.2,885.4 308.9,885.4 309.5,885.4 310.2,885.4 310.9,885.4 311.6,885.4 312.3,885.4 313.0,885.4 313.7,885.4 314.4,885.4 315.0,885.4 315.7,885.4 316.4,885.4 317.1,885.4 317.8,885.4 318.5,885.4 319.2,885.4 319.9,885.4 320.6,885.4 321.2,885.4 321.9,885.4 322.6,885.4 323.3,885.4 324.0,885.4 324.7,885.4 325.4,885.4 326.1,885.4 326.7,885.4 327.4,885.4 328.1,885.4 328.8,885.4 329.5,885.4 330.2,885.4 330.9,885.4 331.6,885.4 332.2,885.4 332.9,885.4 333.6,885.4 334.3,885.4 335.0,885.4 335.7,885.4 336.4,885.4 337.1,885.4 337.8,885.4 338.4,885.4 339.1,885.4 339.8,885.4 340.5,885.4 341.2,885.4 341.9,885.4 342.6,885.4 343.3,885.4 343.9,885.4 344.6,885.4 345.3,885.4 346.0,885.4 346.7,885.4 347.4,885.4 348.1,885.4 348.8,885.4 349.4,885.4 350.1,885.4 350.8,885.4 351.5,885.4 352.2,885.4 352.9,885.4 353.6,885.4 354.3,885.4 355.0,885.4 355.6,885.4 356.3,885.4 357.0,885.4 357.7,885.4 358.4,885.4 359.1,885.4 359.8,885.4 360.5,885.4 361.1,885.4 361.8,885.4 362.5,885.4 363.2,885.4 363.9,885.4 364.6,885.4 365.3,885.4 366.0,885.4 366.6,885.4 367.3,885.4 368.0,885.4 368.7,885.4 369.4,885.4 370.1,885.4 370.8,885.4 371.5,885.4 372.2,885.4 372.8,885.4 373.5,885.4 374.2,885.4 374.9,885.4 375.6,885.4 376.3,885.4 377.0,885.4 377.7,885.4 378.3,885.4 379.0,885.4 379.7,885.4 380.4,885.4 381.1,885.4 381.8,885.4 382.5,885.4 383.2,885.4 383.8,885.4 384.5,885.4 385.2,885.4 385.9,885.4 386.6,885.4 387.3,885.4 388.0,885.4 388.7,885.4 389.4,885.4 390.0,885.4 390.7,885.4 391.4,885.4 392.1,885.4 392.8,885.4 393.5,885.4 394.2,885.4 394.9,885.4 395.5,885.4 396.2,885.4 396.9,885.4 397.6,885.4 398.3,885.4 399.0,885.4 399.7,885.4 400.4,885.4 401.0,885.4 401.7,885.4 402.4,885.4 403.1,885.4 403.8,885.4 404.5,885.4 405.2,885.4 405.9,885.4 406.6,885.4 407.2,885.4 407.9,885.4 408.6,885.4 409.3,885.4 410.0,885.4 410.7,885.4 411.4,885.4 412.1,885.4 412.7,885.4 413.4,885.4 414.1,885.4 414.8,885.4 415.5,885.4 416.2,885.4 416.9,885.4 417.6,885.4 418.2,885.4 418.9,885.4 419.6,885.4 420.3,885.4 421.0,885.4 421.7,885.4 422.4,885.4 423.1,885.4 423.8,885.4 424.4,885.4 425.1,885.4 425.8,885.4 426.5,885.4 427.2,885.4 427.9,885.4 428.6,885.4 429.3,885.4 429.9,885.4 430.6,885.4 431.3,885.4 432.0,885.4 432.7,885.4 433.4,885.4 434.1,885.4 434.8,885.4 435.4,885.4 436.1,885.4 436.8,885.4 437.5,885.4 438.2,885.4 438.9,885.4 439.6,885.4 440.3,885.4 441.0,885.4 441.6,885.4 442.3,885.4 443.0,885.4 443.7,885.4 444.4,885.4 445.1,885.4 445.8,885.4 446.5,885.4 447.1,885.4 447.8,885.4 448.5,885.4 449.2,885.4 449.9,885.4 450.6,885.4 451.3,885.4 452.0,885.4 452.6,885.4 453.3,885.4 454.0,885.4 454.7,885.4 455.4,885.4 456.1,885.4 456.8,885.4 457.5,885.4 458.2,885.4 458.8,885.4 459.5,885.4 460.2,885.4 460.9,885.4 461.6,885.4 462.3,885.4 463.0,885.4 463.7,885.4 464.3,885.4 465.0,885.4 465.7,885.4 466.4,885.4 467.1,885.4 467.8,885.4 468.5,885.4 469.2,885.4 469.8,885.4 470.5,885.4 471.2,885.4 471.9,885.4" fill="none" stroke="#ff6418" stroke-width="5.5" stroke-linejoin="round" stroke-linecap="round" stroke-opacity="0.9"/>
<polyline points="59.8,890.7 60.1,882.0 60.4,878.3 60.7,872.5 61.0,882.2 61.3,887.1 61.7,885.6 62.0,884.6 62.3,882.7 62.6,881.6 62.9,883.2 63.2,886.1 63.5,877.2 63.8,887.8 64.1,878.7 64.4,884.3 64.8,882.4 65.1,883.6 65.4,880.9 65.7,880.6 66.0,884.6 66.3,881.1 66.6,896.1 66.9,884.1 67.2,883.2 67.5,883.8 67.8,881.7 68.2,876.0 68.5,885.3 68.8,887.8 69.1,880.3 69.4,886.7 69.7,881.7 70.0,886.8 70.3,888.5 70.6,889.1 70.9,889.0 71.3,884.3 71.6,891.1 71.9,885.6 72.2,889.0 72.5,890.6 72.8,886.4 73.1,882.4 73.4,890.4 73.7,883.2 74.0,884.2 74.4,883.4 74.7,891.6 75.0,887.5 75.3,878.7 75.6,891.3 75.9,897.0 76.2,895.9 76.5,885.9 76.8,888.7 77.1,890.5 77.4,892.1 77.8,888.5 78.1,883.8 78.4,891.6 78.7,891.0 79.0,882.8 79.3,886.8 79.6,889.5 79.9,888.3 80.2,890.5 80.5,891.6 80.9,890.5 81.2,887.7 81.5,882.5 81.8,890.7 82.1,894.0 82.4,896.3 82.7,887.9 83.0,887.8 83.3,894.0 83.6,893.9 83.9,889.2 84.3,890.7 84.6,884.4 84.9,890.0 85.2,884.0 85.5,886.8 85.8,886.9 86.1,885.3 86.4,878.4 86.7,883.7 87.0,888.5 87.4,886.8 87.7,885.3 88.0,888.7 88.3,889.7 88.6,890.3 88.9,883.2 89.2,886.6 89.5,885.1 89.8,882.7 90.1,880.0 90.5,885.8 90.8,882.5 91.1,895.1 91.4,885.6 91.7,885.0 92.0,884.2 92.3,893.6 92.6,881.7 92.9,884.9 93.2,882.3 93.5,884.9 93.9,885.3 94.2,890.0 94.5,879.3 94.8,885.1 95.1,891.9 95.4,882.9 95.7,884.2 96.0,881.2 96.3,873.8 96.6,884.3 97.0,889.6 97.3,882.6 97.6,876.7 97.9,885.5 98.2,884.6 98.5,888.4 98.8,887.9 99.1,882.9 99.4,885.6 99.7,876.3 100.0,888.4 100.4,884.4 100.7,888.1 101.0,887.9 101.3,882.1 101.6,882.6 101.9,879.4 102.2,874.3 102.5,882.4 102.8,883.5 103.1,878.2 103.5,885.6 103.8,882.9 104.1,884.3 104.4,879.1 104.7,874.8 105.0,885.4 105.3,884.6 105.6,881.5 105.9,880.1 106.2,880.6 106.5,881.1 106.9,879.5 107.2,873.1 107.5,884.7 107.8,875.1 108.1,879.9 108.4,879.9 108.7,882.2 109.0,874.3 109.3,886.1 109.6,883.7 110.0,884.1 110.3,886.1 110.6,877.4 110.9,867.5 111.2,882.0 111.5,886.1 111.8,885.4 112.1,878.3 112.4,880.1 112.7,881.7 113.1,872.9 113.4,877.6 113.7,877.7 114.0,887.0 114.3,877.6 114.6,887.0 114.9,880.4 115.2,873.3 115.5,889.7 115.8,876.3 116.1,883.0 116.5,887.6 116.8,878.2 117.1,875.3 117.4,884.9 117.7,880.9 118.0,875.5 118.3,876.1 118.6,879.1 118.9,884.8 119.2,879.6 119.6,883.6 119.9,887.9 120.2,886.3 120.5,887.1 120.8,886.3 121.1,874.5 121.4,886.4 121.7,882.8 122.0,880.9 122.3,877.0 122.6,874.9 123.0,877.0 123.3,881.7 123.6,876.9 123.9,878.5 124.2,879.5 124.5,885.0 124.8,881.0 125.1,881.7 125.4,888.0 125.7,881.2 126.1,885.2 126.4,878.3 126.7,884.2 127.0,883.4 127.3,883.8 127.6,881.2 127.9,878.9 128.2,882.1 128.5,881.5 128.8,887.9 129.2,887.4 129.5,878.7 129.8,886.5 130.1,881.9 130.4,886.0 130.7,882.1 131.0,878.0 131.3,888.6 131.6,886.3 131.9,879.3 132.2,876.6 132.6,882.4 132.9,879.8 133.2,883.3 133.5,887.5 133.8,891.2 134.1,883.6 134.4,890.9 134.7,890.1 135.0,883.5 135.3,878.4 135.7,889.0 136.0,888.1 136.3,895.5 136.6,891.7 136.9,889.0 137.2,892.9 137.5,881.5 137.8,886.7 138.1,884.9 138.4,893.4 138.7,888.5 139.1,873.4 139.4,892.1 139.7,882.6 140.0,889.7 140.3,884.5 140.6,887.6 140.9,889.4 141.2,887.6 141.5,882.8 141.8,892.8 142.2,888.7 142.5,887.0 142.8,890.1 143.1,885.0 143.4,895.2 143.7,888.3 144.0,888.9 144.3,888.9 144.6,883.7 144.9,882.7 145.2,888.6 145.6,889.2 145.9,893.4 146.2,889.7 146.5,883.3 146.8,890.2 147.1,891.5 147.4,892.3 147.7,889.5 148.0,883.0 148.3,893.1 148.7,885.1 149.0,890.7 149.3,881.7 149.6,891.5 149.9,885.1 150.2,892.9 150.5,895.8 150.8,893.3 151.1,883.5 151.4,884.5 151.8,884.8 152.1,891.3 152.4,889.9 152.7,889.1 153.0,889.8 153.3,890.9 153.6,891.2 153.9,895.5 154.2,888.2 154.5,889.3 154.8,880.6 155.2,882.8 155.5,885.4 155.8,883.3 156.1,889.2 156.4,892.6 156.7,886.4 157.0,886.1 157.3,886.0 157.6,888.6 157.9,885.7 158.3,889.8 158.6,889.2 158.9,889.3 159.2,891.0 159.5,887.9 159.8,888.3 160.1,895.0 160.4,887.4 160.7,890.9 161.0,887.7 161.3,885.5 161.7,885.4 162.0,883.8 162.3,887.3 162.6,884.6 162.9,885.3 163.2,892.1 163.5,886.4 163.8,891.7 164.1,888.0 164.4,890.4 164.8,884.1 165.1,887.3 165.4,897.7 165.7,890.0 166.0,890.7 166.3,887.4 166.6,889.9 166.9,881.4 167.2,882.6 167.5,888.0 167.9,889.5 168.2,884.3 168.5,885.2 168.8,884.4 169.1,885.1 169.4,880.8 169.7,879.8 170.0,885.4 170.3,878.4 170.6,881.5 170.9,882.8 171.3,881.1 171.6,886.5 171.9,883.6 172.2,885.1 172.5,881.2 172.8,882.2 173.1,887.5 173.4,886.8 173.7,883.3 174.0,886.8 174.4,886.0 174.7,885.9 175.0,891.9 175.3,883.5 175.6,886.9 175.9,886.9 176.2,884.1 176.5,880.2 176.8,886.5 177.1,885.7 177.4,885.2 177.8,885.2 178.1,885.2 178.4,883.3 178.7,885.7 179.0,881.5 179.3,885.0 179.6,882.1 179.9,884.4 180.2,886.5 180.5,884.6 180.9,884.1 181.2,886.1 181.5,884.5 181.8,884.2 182.1,884.3 182.4,888.1 182.7,886.4 183.0,886.0 183.3,882.7 183.6,886.3 183.9,882.5 184.3,886.0 184.6,882.8 184.9,889.0 185.2,881.7 185.5,887.5 185.8,886.7 186.1,881.5 186.4,884.6 186.7,888.0 187.0,887.4 187.4,881.8 187.7,884.1 188.0,882.8 188.3,883.1 188.6,883.9 188.9,888.8 189.2,885.4 189.5,884.7 189.8,884.5 190.1,886.5 190.5,886.6 190.8,883.3 191.1,888.1 191.4,883.0 191.7,884.6 192.0,886.1 192.3,888.6 192.6,884.5 192.9,885.8 193.2,887.8 193.5,886.5 193.9,887.5 194.2,887.3 194.5,885.8 194.8,886.5 195.1,887.1 195.4,885.2 195.7,888.5 196.0,881.3 196.3,883.4 196.6,888.2 197.0,886.1 197.3,884.0 197.6,886.0 197.9,887.4 198.2,884.2 198.5,886.8 198.8,885.0 199.1,885.0 199.4,885.1 199.7,887.5 200.0,883.0 200.4,884.5 200.7,886.6 201.0,882.8 201.3,882.1 201.6,886.4 201.9,885.3 202.2,885.0 202.5,885.6 202.8,883.3 203.1,891.1 203.5,883.3 203.8,884.4 204.1,882.4 204.4,884.4 204.7,888.3 205.0,885.3 205.3,886.5 205.6,884.3 205.9,888.9 206.2,885.6 206.6,882.8 206.9,886.8 207.2,884.5 207.5,886.5 207.8,885.6 208.1,885.8 208.4,885.5 208.7,883.5 209.0,882.3 209.3,887.2 209.6,885.0 210.0,885.8 210.3,884.3 210.6,881.2 210.9,882.7 211.2,888.1 211.5,883.7 211.8,884.5 212.1,882.3 212.4,884.2 212.7,884.5 213.1,884.8 213.4,885.1 213.7,884.0 214.0,884.1 214.3,885.2 214.6,885.9 214.9,885.0 215.2,888.8 215.5,885.7 215.8,885.6 216.1,884.0 216.5,887.3 216.8,883.2 217.1,882.0 217.4,883.3 217.7,886.5 218.0,883.0 218.3,887.8 218.6,885.2 218.9,882.2 219.2,884.8 219.6,888.8 219.9,883.5 220.2,882.6 220.5,886.3 220.8,887.9 221.1,887.3 221.4,884.6 221.7,885.6 222.0,885.9 222.3,887.6 222.6,889.6 223.0,885.0 223.3,887.9 223.6,884.6 223.9,886.4 224.2,883.4 224.5,883.7 224.8,886.1 225.1,883.5 225.4,887.0 225.7,884.2 226.1,885.4 226.4,885.1 226.7,884.6 227.0,885.5 227.3,887.4 227.6,891.5 227.9,882.9 228.2,885.9 228.5,884.9 228.8,883.4 229.2,885.8 229.5,883.5 229.8,885.1 230.1,887.7 230.4,881.2 230.7,885.8 231.0,886.2 231.3,883.3 231.6,886.3 231.9,886.0 232.2,884.6 232.6,887.7 232.9,882.6 233.2,886.5 233.5,884.8 233.8,883.1 234.1,884.9 234.4,884.6 234.7,886.9 235.0,882.3 235.3,884.9 235.7,884.3 236.0,888.4 236.3,883.0 236.6,887.4 236.9,881.7 237.2,885.9 237.5,885.0 237.8,886.0 238.1,883.8 238.4,881.3 238.7,882.2 239.1,887.9 239.4,885.7 239.7,883.5 240.0,887.0 240.3,883.7 240.6,883.8 240.9,882.8 241.2,887.6 241.5,889.2 241.8,883.3 242.2,885.8 242.5,887.2 242.8,889.5 243.1,880.4 243.4,885.5 243.7,886.5 244.0,882.3 244.3,886.0 244.6,885.6 244.9,886.7 245.3,884.0 245.6,886.0 245.9,884.0 246.2,886.4 246.5,885.5 246.8,884.5 247.1,882.4 247.4,888.5 247.7,887.4 248.0,887.0 248.3,883.9 248.7,884.5 249.0,888.5 249.3,886.7 249.6,883.5 249.9,885.3 250.2,885.5 250.5,884.8 250.8,883.3 251.1,887.7 251.4,886.4 251.8,884.8 252.1,882.1 252.4,884.1 252.7,885.2 253.0,887.0 253.3,884.5 253.6,887.4 253.9,885.5 254.2,883.7 254.5,879.6 254.8,882.9 255.2,882.3 255.5,884.9 255.8,885.9 256.1,888.0 256.4,885.2 256.7,882.9 257.0,889.9 257.3,885.9 257.6,884.7 257.9,884.7 258.3,882.5 258.6,886.5 258.9,886.0 259.2,888.4 259.5,887.5 259.8,887.0 260.1,887.8 260.4,884.7 260.7,884.4 261.0,885.2 261.3,882.8 261.7,885.0 262.0,884.6 262.3,886.6 262.6,885.2 262.9,881.5 263.2,885.3 263.5,888.1 263.8,881.6 264.1,883.8 264.4,885.3 264.8,882.6 265.1,884.2 265.4,885.4 265.7,882.7 266.0,885.9 266.3,886.1 266.6,882.8 266.9,885.4 267.2,887.5 267.5,885.0 267.9,886.2 268.2,886.6 268.5,884.8 268.8,887.3 269.1,886.1 269.4,883.3 269.7,886.4 270.0,887.0 270.3,886.9 270.6,884.0 270.9,886.2 271.3,888.1 271.6,885.8 271.9,887.7 272.2,887.9 272.5,885.3 272.8,886.7 273.1,884.8 273.4,887.5 273.7,885.2 274.0,884.2 274.4,885.3 274.7,885.2 275.0,886.1 275.3,886.3 275.6,883.0 275.9,884.0 276.2,886.1 276.5,886.3 276.8,885.5 277.1,890.6 277.4,887.6 277.8,885.2 278.1,886.8 278.4,888.0 278.7,886.1 279.0,881.9 279.3,885.6 279.6,885.5 279.9,889.6 280.2,881.7 280.5,888.5 280.9,885.1 281.2,887.3 281.5,884.8 281.8,885.8 282.1,887.7 282.4,885.6 282.7,887.5 283.0,885.2 283.3,884.6 283.6,885.0 284.0,884.4 284.3,885.2 284.6,888.1 284.9,883.1 285.2,882.1 285.5,885.4 285.8,888.8 286.1,887.5 286.4,888.1 286.7,887.9 287.0,884.0 287.4,885.7 287.7,880.1 288.0,884.2 288.3,886.7 288.6,882.3 288.9,881.3 289.2,882.8 289.5,885.9 289.8,887.8 290.1,890.6 290.5,888.3 290.8,882.4 291.1,880.8 291.4,885.8 291.7,887.6 292.0,882.2 292.3,884.4 292.6,884.6 292.9,885.6 293.2,885.1 293.5,886.5 293.9,887.6 294.2,885.6 294.5,887.0 294.8,889.5 295.1,883.5 295.4,883.4 295.7,886.5 296.0,889.2 296.3,885.9 296.6,887.7 297.0,884.9 297.3,887.4 297.6,884.3 297.9,886.9 298.2,886.3 298.5,886.3 298.8,888.3 299.1,887.7 299.4,884.4 299.7,887.3 300.0,882.2 300.4,887.6 300.7,891.1 301.0,886.6 301.3,886.6 301.6,885.7 301.9,887.3 302.2,884.7 302.5,887.0 302.8,885.1 303.1,884.8 303.5,885.9 303.8,885.5 304.1,882.2 304.4,889.8 304.7,885.9 305.0,882.3 305.3,887.8 305.6,885.6 305.9,886.1 306.2,887.1 306.6,883.9 306.9,879.8 307.2,885.5 307.5,886.1 307.8,887.7 308.1,884.1 308.4,885.1 308.7,886.4 309.0,885.0 309.3,885.2 309.6,886.2 310.0,883.7 310.3,888.8 310.6,883.8 310.9,885.7 311.2,885.0 311.5,884.2 311.8,886.7 312.1,887.7 312.4,888.6 312.7,886.8 313.1,884.7 313.4,887.4 313.7,882.8 314.0,885.7 314.3,886.7 314.6,886.8 314.9,883.3 315.2,882.6 315.5,889.0 315.8,884.6 316.1,882.3 316.5,883.1 316.8,885.6 317.1,888.0 317.4,885.6 317.7,888.0 318.0,886.1 318.3,886.5 318.6,887.6 318.9,884.8 319.2,886.2 319.6,884.8 319.9,884.3 320.2,886.9 320.5,883.9 320.8,885.7 321.1,884.0 321.4,885.4 321.7,884.5 322.0,887.8 322.3,885.7 322.7,885.7 323.0,888.8 323.3,879.8 323.6,883.3 323.9,880.0 324.2,885.5 324.5,886.4 324.8,886.8 325.1,886.0 325.4,883.8 325.7,889.0 326.1,886.1 326.4,885.0 326.7,883.2 327.0,886.3 327.3,884.5 327.6,884.6 327.9,885.9 328.2,885.9 328.5,883.8 328.8,888.0 329.2,883.5 329.5,883.2 329.8,886.1 330.1,885.7 330.4,885.6 330.7,884.6 331.0,885.5 331.3,884.3 331.6,882.1 331.9,886.9 332.2,883.4 332.6,885.0 332.9,886.9 333.2,885.5 333.5,890.9 333.8,882.6 334.1,883.9 334.4,885.6 334.7,888.1 335.0,884.9 335.3,882.6 335.7,887.7 336.0,883.6 336.3,885.0 336.6,887.2 336.9,884.1 337.2,884.5 337.5,886.4 337.8,885.0 338.1,886.0 338.4,883.5 338.7,885.2 339.1,883.2 339.4,882.3 339.7,888.9 340.0,886.3 340.3,887.2 340.6,883.5 340.9,885.4 341.2,885.0 341.5,882.6 341.8,886.5 342.2,884.0 342.5,885.0 342.8,882.4 343.1,887.4 343.4,886.9 343.7,886.2 344.0,883.6 344.3,884.3 344.6,887.9 344.9,884.9 345.3,885.9 345.6,885.7 345.9,883.2 346.2,888.5 346.5,881.4 346.8,885.9 347.1,885.2 347.4,882.2 347.7,886.1 348.0,886.4 348.3,885.5 348.7,883.8 349.0,886.3 349.3,887.6 349.6,885.9 349.9,888.9 350.2,887.1 350.5,886.9 350.8,888.2 351.1,884.1 351.4,884.4 351.8,886.4 352.1,886.4 352.4,888.4 352.7,887.7 353.0,885.8 353.3,885.9 353.6,884.9 353.9,884.7 354.2,884.5 354.5,887.2 354.8,884.5 355.2,884.7 355.5,885.7 355.8,884.4 356.1,885.0 356.4,881.1 356.7,886.2 357.0,884.8 357.3,885.8 357.6,886.2 357.9,881.8 358.3,890.3 358.6,885.8 358.9,885.9 359.2,882.0 359.5,886.8 359.8,886.4 360.1,884.9 360.4,886.1 360.7,888.2 361.0,885.0 361.4,883.8 361.7,888.3 362.0,886.2 362.3,885.3 362.6,890.3 362.9,886.0 363.2,885.3 363.5,886.2 363.8,884.9 364.1,886.1 364.4,886.0 364.8,884.4 365.1,885.2 365.4,886.3 365.7,886.4 366.0,886.8 366.3,887.2 366.6,886.2 366.9,886.7 367.2,884.9 367.5,885.1 367.9,887.7 368.2,881.7 368.5,886.4 368.8,892.0 369.1,881.9 369.4,888.6 369.7,882.1 370.0,886.3 370.3,888.8 370.6,888.6 370.9,883.8 371.3,883.0 371.6,882.7 371.9,887.0 372.2,884.8 372.5,885.5 372.8,886.0 373.1,886.3 373.4,886.6 373.7,885.8 374.0,882.3 374.4,888.4 374.7,880.0 375.0,888.0 375.3,884.3 375.6,885.1 375.9,884.4 376.2,884.7 376.5,885.4 376.8,884.9 377.1,883.3 377.4,887.2 377.8,884.3 378.1,888.2 378.4,885.2 378.7,884.1 379.0,886.3 379.3,887.3 379.6,883.6 379.9,884.9 380.2,888.3 380.5,883.5 380.9,883.8 381.2,885.8 381.5,883.0 381.8,880.5 382.1,882.1 382.4,886.2 382.7,886.8 383.0,886.7 383.3,886.3 383.6,883.0 384.0,886.8 384.3,887.8 384.6,884.1 384.9,887.4 385.2,884.7 385.5,885.9 385.8,886.2 386.1,882.5 386.4,888.4 386.7,883.8 387.0,885.3 387.4,884.5 387.7,886.4 388.0,886.3 388.3,885.5 388.6,888.3 388.9,886.0 389.2,884.7 389.5,879.7 389.8,884.9 390.1,884.9 390.5,883.7 390.8,883.8 391.1,886.7 391.4,887.6 391.7,889.3 392.0,887.8 392.3,884.1 392.6,886.0 392.9,882.8 393.2,886.9 393.5,886.2 393.9,884.3 394.2,885.3 394.5,885.0 394.8,884.2 395.1,888.1 395.4,891.7 395.7,887.1 396.0,887.6 396.3,885.8 396.6,884.8 397.0,889.9 397.3,884.8 397.6,886.3 397.9,885.2 398.2,886.7 398.5,885.4 398.8,886.7 399.1,883.0 399.4,885.3 399.7,888.2 400.1,883.4 400.4,884.2 400.7,888.2 401.0,886.3 401.3,887.6 401.6,881.0 401.9,885.8 402.2,882.9 402.5,882.7 402.8,886.3 403.1,887.9 403.5,882.5 403.8,883.3 404.1,884.3 404.4,885.2 404.7,882.8 405.0,890.0 405.3,886.7 405.6,884.8 405.9,884.4 406.2,890.1 406.6,890.0 406.9,884.5 407.2,886.2 407.5,888.0 407.8,883.1 408.1,884.3 408.4,888.2 408.7,884.1 409.0,884.6 409.3,882.8 409.6,883.9 410.0,886.8 410.3,883.8 410.6,882.8 410.9,884.2 411.2,889.0 411.5,885.8 411.8,884.3 412.1,885.7 412.4,886.3 412.7,885.7 413.1,881.8 413.4,886.0 413.7,885.0 414.0,887.1 414.3,882.7 414.6,887.5 414.9,884.4 415.2,882.0 415.5,888.1 415.8,884.4 416.1,886.2 416.5,885.1 416.8,887.6 417.1,887.6 417.4,887.7 417.7,886.8 418.0,882.2 418.3,882.0 418.6,885.8 418.9,883.5 419.2,886.3 419.6,885.7 419.9,882.6 420.2,883.3 420.5,883.1 420.8,883.6 421.1,885.0 421.4,886.8 421.7,888.1 422.0,883.4 422.3,884.3 422.7,888.5 423.0,887.2 423.3,885.9 423.6,880.7 423.9,883.4 424.2,885.7 424.5,884.2 424.8,889.4 425.1,885.6 425.4,886.0 425.7,883.2 426.1,883.3 426.4,884.0 426.7,884.1 427.0,884.9 427.3,886.1 427.6,885.9 427.9,887.4 428.2,882.7 428.5,885.8 428.8,885.9 429.2,888.6 429.5,885.0 429.8,886.1 430.1,883.7 430.4,886.2 430.7,886.2 431.0,884.1 431.3,884.5 431.6,885.3 431.9,886.6 432.2,883.1 432.6,887.2 432.9,884.7 433.2,889.2 433.5,888.3 433.8,884.6 434.1,884.1 434.4,890.4 434.7,886.7 435.0,886.5 435.3,884.5 435.7,885.1 436.0,887.0 436.3,886.6 436.6,883.7 436.9,887.9 437.2,886.0 437.5,883.5 437.8,887.4 438.1,885.0 438.4,887.0 438.8,884.3 439.1,886.1 439.4,882.1 439.7,886.1 440.0,882.3 440.3,885.7 440.6,880.3 440.9,885.3 441.2,886.9 441.5,886.4 441.8,887.8 442.2,883.2 442.5,888.6 442.8,888.6 443.1,883.0 443.4,883.8 443.7,884.2 444.0,885.3 444.3,885.8 444.6,880.4 444.9,886.6 445.3,884.9 445.6,883.3 445.9,887.3 446.2,884.7 446.5,887.7 446.8,886.5 447.1,884.7 447.4,887.8 447.7,887.0 448.0,884.4 448.3,882.1 448.7,884.3 449.0,886.6 449.3,884.9 449.6,888.9 449.9,885.9 450.2,885.8 450.5,886.2 450.8,883.6 451.1,885.1 451.4,884.1 451.8,880.7 452.1,881.8 452.4,886.9 452.7,884.5 453.0,885.1 453.3,882.4 453.6,884.2 453.9,887.0 454.2,885.6 454.5,884.3 454.8,888.5 455.2,885.3 455.5,884.7 455.8,887.7 456.1,881.9 456.4,886.5 456.7,883.1 457.0,883.8 457.3,884.0 457.6,885.6 457.9,885.6 458.3,886.0 458.6,885.8 458.9,888.2 459.2,888.8 459.5,886.8 459.8,886.9 460.1,884.6 460.4,883.2 460.7,886.6 461.0,885.5 461.4,887.1 461.7,881.7 462.0,890.8 462.3,882.8 462.6,885.5 462.9,887.4 463.2,882.6 463.5,884.3 463.8,881.3 464.1,882.5 464.4,881.5 464.8,885.6 465.1,886.0 465.4,884.8 465.7,887.9 466.0,888.2 466.3,885.4 466.6,885.0 466.9,884.8 467.2,884.5 467.5,888.0 467.9,885.9 468.2,884.7 468.5,884.9 468.8,886.5 469.1,884.6 469.4,886.0 469.7,885.3 470.0,888.1 470.3,887.7 470.6,882.5 470.9,885.1 471.3,886.8 471.6,884.5 471.9,887.0 472.2,886.1 472.5,886.6" fill="none" stroke="#ff6a24" stroke-width="0.9" stroke-linejoin="round" stroke-linecap="round" stroke-opacity="0.85"/>
<path d="M174.3 842.4l2.6 2.6m0-2.6l-2.6 2.6M174.5 845.0l2.6 2.6m0-2.6l-2.6 2.6M174.6 847.6l2.6 2.6m0-2.6l-2.6 2.6M173.6 850.2l2.6 2.6m0-2.6l-2.6 2.6M173.9 852.8l2.6 2.6m0-2.6l-2.6 2.6M173.8 855.4l2.6 2.6m0-2.6l-2.6 2.6M175.2 858.0l2.6 2.6m0-2.6l-2.6 2.6M174.5 860.6l2.6 2.6m0-2.6l-2.6 2.6M174.5 863.2l2.6 2.6m0-2.6l-2.6 2.6M174.4 865.8l2.6 2.6m0-2.6l-2.6 2.6M174.1 868.4l2.6 2.6m0-2.6l-2.6 2.6M174.0 871.0l2.6 2.6m0-2.6l-2.6 2.6M174.8 873.6l2.6 2.6m0-2.6l-2.6 2.6M174.2 876.2l2.6 2.6m0-2.6l-2.6 2.6M175.2 878.8l2.6 2.6m0-2.6l-2.6 2.6M174.5 881.4l2.6 2.6m0-2.6l-2.6 2.6M174.4 884.0l2.6 2.6m0-2.6l-2.6 2.6M174.3 886.6l2.6 2.6m0-2.6l-2.6 2.6M174.3 889.2l2.6 2.6m0-2.6l-2.6 2.6M174.4 891.8l2.6 2.6m0-2.6l-2.6 2.6M175.1 894.4l2.6 2.6m0-2.6l-2.6 2.6M175.5 897.0l2.6 2.6m0-2.6l-2.6 2.6M173.8 899.6l2.6 2.6m0-2.6l-2.6 2.6M174.5 902.2l2.6 2.6m0-2.6l-2.6 2.6M174.7 904.8l2.6 2.6m0-2.6l-2.6 2.6M203.6 876.6l2.6 2.6m0-2.6l-2.6 2.6M203.7 879.2l2.6 2.6m0-2.6l-2.6 2.6M203.8 881.8l2.6 2.6m0-2.6l-2.6 2.6M202.8 884.4l2.6 2.6m0-2.6l-2.6 2.6M204.3 887.0l2.6 2.6m0-2.6l-2.6 2.6M204.0 889.6l2.6 2.6m0-2.6l-2.6 2.6M204.0 892.2l2.6 2.6m0-2.6l-2.6 2.6M296.9 852.3l2.6 2.6m0-2.6l-2.6 2.6M297.0 854.9l2.6 2.6m0-2.6l-2.6 2.6M298.1 857.5l2.6 2.6m0-2.6l-2.6 2.6M297.0 860.1l2.6 2.6m0-2.6l-2.6 2.6M297.3 862.7l2.6 2.6m0-2.6l-2.6 2.6M296.6 865.3l2.6 2.6m0-2.6l-2.6 2.6M297.1 867.9l2.6 2.6m0-2.6l-2.6 2.6M296.7 870.5l2.6 2.6m0-2.6l-2.6 2.6M296.8 873.1l2.6 2.6m0-2.6l-2.6 2.6M296.4 875.7l2.6 2.6m0-2.6l-2.6 2.6M296.5 878.3l2.6 2.6m0-2.6l-2.6 2.6M297.1 880.9l2.6 2.6m0-2.6l-2.6 2.6M297.3 883.5l2.6 2.6m0-2.6l-2.6 2.6M297.1 886.1l2.6 2.6m0-2.6l-2.6 2.6M296.6 888.7l2.6 2.6m0-2.6l-2.6 2.6M297.1 891.3l2.6 2.6m0-2.6l-2.6 2.6M295.6 893.9l2.6 2.6m0-2.6l-2.6 2.6M297.4 896.5l2.6 2.6m0-2.6l-2.6 2.6M354.0 858.9l2.6 2.6m0-2.6l-2.6 2.6M354.1 861.5l2.6 2.6m0-2.6l-2.6 2.6M354.6 864.1l2.6 2.6m0-2.6l-2.6 2.6M353.8 866.7l2.6 2.6m0-2.6l-2.6 2.6M354.5 869.3l2.6 2.6m0-2.6l-2.6 2.6M353.8 871.9l2.6 2.6m0-2.6l-2.6 2.6M354.3 874.5l2.6 2.6m0-2.6l-2.6 2.6M353.8 877.1l2.6 2.6m0-2.6l-2.6 2.6M354.2 879.7l2.6 2.6m0-2.6l-2.6 2.6M354.7 882.3l2.6 2.6m0-2.6l-2.6 2.6M353.7 884.9l2.6 2.6m0-2.6l-2.6 2.6M353.7 887.5l2.6 2.6m0-2.6l-2.6 2.6M353.8 890.1l2.6 2.6m0-2.6l-2.6 2.6M354.2 892.7l2.6 2.6m0-2.6l-2.6 2.6M355.4 895.3l2.6 2.6m0-2.6l-2.6 2.6M353.7 897.9l2.6 2.6m0-2.6l-2.6 2.6M370.5 876.6l2.6 2.6m0-2.6l-2.6 2.6M371.2 879.2l2.6 2.6m0-2.6l-2.6 2.6M370.8 881.8l2.6 2.6m0-2.6l-2.6 2.6M371.3 884.4l2.6 2.6m0-2.6l-2.6 2.6M371.6 887.0l2.6 2.6m0-2.6l-2.6 2.6M436.1 872.1l2.6 2.6m0-2.6l-2.6 2.6M436.2 874.7l2.6 2.6m0-2.6l-2.6 2.6M435.6 877.3l2.6 2.6m0-2.6l-2.6 2.6M436.7 879.9l2.6 2.6m0-2.6l-2.6 2.6M436.2 882.5l2.6 2.6m0-2.6l-2.6 2.6M437.1 885.1l2.6 2.6m0-2.6l-2.6 2.6M437.1 887.7l2.6 2.6m0-2.6l-2.6 2.6" stroke="#ff6a1e" stroke-width="0.9" fill="none" stroke-opacity="0.75"/>
<rect x="59.3" y="550.6" width="413.4" height="360.5" fill="none" stroke="#000" stroke-width="1.8"/>
<path d="M94.2 911.1v-2.5M128.6 911.1v-5M163.0 911.1v-2.5M197.4 911.1v-5M231.8 911.1v-2.5M266.2 911.1v-5M300.6 911.1v-2.5M335.0 911.1v-5M369.4 911.1v-2.5M403.8 911.1v-5M438.2 911.1v-2.5" stroke="#000" stroke-width="1.6" fill="none"/>
<text transform="translate(63.01,581.6) scale(0.9931,1)" font-family="'Liberation Sans', Arial, Helvetica, sans-serif" font-size="29.28" fill="#000" xml:space="preserve" ><tspan x="0" y="0">HY-Li</tspan><tspan x="70.49" y="8.78" font-size="19.91">2</tspan><tspan x="81.56" y="0">S-800</tspan></text>
<text transform="translate(312.6,575.3) scale(0.9844,1)" font-family="'Liberation Sans', Arial, Helvetica, sans-serif" font-size="20.86" fill="#000" font-weight="bold" xml:space="preserve" ><tspan x="0" y="0">Observed</tspan></text>
<text transform="translate(312.6,602.5) scale(0.9852,1)" font-family="'Liberation Sans', Arial, Helvetica, sans-serif" font-size="20.86" fill="#000" font-weight="bold" xml:space="preserve" ><tspan x="0" y="0">Calculated</tspan></text>
<text transform="translate(311.6,629.5) scale(0.9979,1)" font-family="'Liberation Sans', Arial, Helvetica, sans-serif" font-size="20.86" fill="#000" font-weight="bold" xml:space="preserve" ><tspan x="0" y="0">Difference</tspan></text>
<text transform="translate(311.6,657.2) scale(0.9993,1)" font-family="'Liberation Sans', Arial, Helvetica, sans-serif" font-size="20.86" fill="#000" font-weight="bold" xml:space="preserve" ><tspan x="0" y="0">Bragg Position</tspan></text>
<path d="M287.2 571.9l2.7-4.7 2.7 4.7z" fill="none" stroke="#1c97ff" stroke-width="1.1"/>
<line x1="273.5" y1="597.5" x2="306.3" y2="597.5" stroke="#000a96" stroke-width="2.4" />
<path d="M288.4 621.9l3 3m0-3l-3 3" stroke="#ff8a4e" stroke-width="0.9" fill="none"/>
<line x1="289.9" y1="649.2" x2="289.9" y2="655.2" stroke="#ffa050" stroke-width="1.5" />
<text transform="translate(316.12,692.5) scale(1.0201,1)" font-family="'Liberation Serif', 'Times New Roman', serif" font-size="21.36" fill="#000" xml:space="preserve" ><tspan x="0" y="0" font-family="'Liberation Serif', 'Times New Roman', serif">χ</tspan><tspan x="9.48" y="-9.61" font-size="11.75" font-family="'Liberation Serif', 'Times New Roman', serif">2</tspan><tspan x="15.36" y="0" font-family="'Liberation Serif', 'Times New Roman', serif"> = 2.133</tspan></text>
<path d="M57.3 1120.6l2.5-4.4 2.5 4.4zM57.7 1124.6l2.5-4.4 2.5 4.4zM58.1 1123.7l2.5-4.4 2.5 4.4zM58.5 1123.8l2.5-4.4 2.5 4.4zM59.0 1127.3l2.5-4.4 2.5 4.4zM59.4 1117.4l2.5-4.4 2.5 4.4zM59.8 1119.7l2.5-4.4 2.5 4.4zM60.2 1117.5l2.5-4.4 2.5 4.4zM60.6 1122.1l2.5-4.4 2.5 4.4zM61.0 1126.3l2.5-4.4 2.5 4.4zM61.4 1122.9l2.5-4.4 2.5 4.4zM61.8 1125.1l2.5-4.4 2.5 4.4zM62.3 1116.6l2.5-4.4 2.5 4.4zM62.7 1124.3l2.5-4.4 2.5 4.4zM63.1 1120.8l2.5-4.4 2.5 4.4zM63.5 1130.7l2.5-4.4 2.5 4.4zM63.9 1127.7l2.5-4.4 2.5 4.4zM64.3 1128.2l2.5-4.4 2.5 4.4zM64.7 1124.7l2.5-4.4 2.5 4.4zM65.1 1127.4l2.5-4.4 2.5 4.4zM65.6 1127.7l2.5-4.4 2.5 4.4zM66.0 1124.3l2.5-4.4 2.5 4.4zM66.4 1123.9l2.5-4.4 2.5 4.4zM66.8 1125.4l2.5-4.4 2.5 4.4zM67.2 1123.7l2.5-4.4 2.5 4.4zM67.6 1123.8l2.5-4.4 2.5 4.4zM68.0 1125.0l2.5-4.4 2.5 4.4zM68.4 1123.5l2.5-4.4 2.5 4.4zM68.9 1128.9l2.5-4.4 2.5 4.4zM69.3 1120.3l2.5-4.4 2.5 4.4zM69.7 1129.0l2.5-4.4 2.5 4.4zM70.1 1123.8l2.5-4.4 2.5 4.4zM70.5 1124.0l2.5-4.4 2.5 4.4zM70.9 1121.1l2.5-4.4 2.5 4.4zM71.3 1125.4l2.5-4.4 2.5 4.4zM71.7 1124.9l2.5-4.4 2.5 4.4zM72.2 1126.4l2.5-4.4 2.5 4.4zM72.6 1123.7l2.5-4.4 2.5 4.4zM73.0 1125.9l2.5-4.4 2.5 4.4zM73.4 1132.0l2.5-4.4 2.5 4.4zM73.8 1126.8l2.5-4.4 2.5 4.4zM74.2 1123.2l2.5-4.4 2.5 4.4zM74.6 1128.6l2.5-4.4 2.5 4.4zM75.1 1124.5l2.5-4.4 2.5 4.4zM75.5 1127.0l2.5-4.4 2.5 4.4zM75.9 1127.0l2.5-4.4 2.5 4.4zM76.3 1123.2l2.5-4.4 2.5 4.4zM76.7 1117.5l2.5-4.4 2.5 4.4zM77.1 1123.1l2.5-4.4 2.5 4.4zM77.5 1126.1l2.5-4.4 2.5 4.4zM77.9 1122.6l2.5-4.4 2.5 4.4zM78.4 1125.4l2.5-4.4 2.5 4.4zM78.8 1127.2l2.5-4.4 2.5 4.4zM79.2 1121.6l2.5-4.4 2.5 4.4zM79.6 1127.8l2.5-4.4 2.5 4.4zM80.0 1129.0l2.5-4.4 2.5 4.4zM80.4 1126.9l2.5-4.4 2.5 4.4zM80.8 1127.0l2.5-4.4 2.5 4.4zM81.2 1126.6l2.5-4.4 2.5 4.4zM81.7 1130.6l2.5-4.4 2.5 4.4zM82.1 1123.0l2.5-4.4 2.5 4.4zM82.5 1122.1l2.5-4.4 2.5 4.4zM82.9 1124.1l2.5-4.4 2.5 4.4zM83.3 1118.5l2.5-4.4 2.5 4.4zM83.7 1116.0l2.5-4.4 2.5 4.4zM84.1 1118.2l2.5-4.4 2.5 4.4zM84.5 1122.6l2.5-4.4 2.5 4.4zM85.0 1122.7l2.5-4.4 2.5 4.4zM85.4 1115.3l2.5-4.4 2.5 4.4zM85.8 1113.9l2.5-4.4 2.5 4.4zM86.2 1119.4l2.5-4.4 2.5 4.4zM86.6 1119.7l2.5-4.4 2.5 4.4zM87.0 1120.0l2.5-4.4 2.5 4.4zM87.4 1122.4l2.5-4.4 2.5 4.4zM87.8 1124.3l2.5-4.4 2.5 4.4zM88.3 1120.5l2.5-4.4 2.5 4.4zM88.7 1121.7l2.5-4.4 2.5 4.4zM89.1 1115.4l2.5-4.4 2.5 4.4zM89.5 1115.0l2.5-4.4 2.5 4.4zM89.9 1119.9l2.5-4.4 2.5 4.4zM90.3 1121.2l2.5-4.4 2.5 4.4zM90.7 1121.3l2.5-4.4 2.5 4.4zM91.1 1120.6l2.5-4.4 2.5 4.4zM91.6 1121.1l2.5-4.4 2.5 4.4zM92.0 1121.0l2.5-4.4 2.5 4.4zM92.4 1111.5l2.5-4.4 2.5 4.4zM92.8 1115.0l2.5-4.4 2.5 4.4zM93.2 1119.1l2.5-4.4 2.5 4.4zM93.6 1119.3l2.5-4.4 2.5 4.4zM94.0 1111.5l2.5-4.4 2.5 4.4zM94.5 1121.0l2.5-4.4 2.5 4.4zM94.9 1115.0l2.5-4.4 2.5 4.4zM95.3 1115.5l2.5-4.4 2.5 4.4zM95.7 1117.1l2.5-4.4 2.5 4.4zM96.1 1118.6l2.5-4.4 2.5 4.4zM96.5 1110.5l2.5-4.4 2.5 4.4zM96.9 1119.0l2.5-4.4 2.5 4.4zM97.3 1115.5l2.5-4.4 2.5 4.4zM97.8 1112.2l2.5-4.4 2.5 4.4zM98.2 1113.7l2.5-4.4 2.5 4.4zM98.6 1106.6l2.5-4.4 2.5 4.4zM99.0 1111.9l2.5-4.4 2.5 4.4zM99.4 1114.7l2.5-4.4 2.5 4.4zM99.8 1111.3l2.5-4.4 2.5 4.4zM100.2 1112.4l2.5-4.4 2.5 4.4zM100.6 1112.9l2.5-4.4 2.5 4.4zM101.1 1113.3l2.5-4.4 2.5 4.4zM101.5 1116.6l2.5-4.4 2.5 4.4zM101.9 1112.7l2.5-4.4 2.5 4.4zM102.3 1111.6l2.5-4.4 2.5 4.4zM102.7 1114.3l2.5-4.4 2.5 4.4zM103.1 1119.6l2.5-4.4 2.5 4.4zM103.5 1110.7l2.5-4.4 2.5 4.4zM103.9 1113.6l2.5-4.4 2.5 4.4zM104.4 1105.9l2.5-4.4 2.5 4.4zM104.8 1116.3l2.5-4.4 2.5 4.4zM105.2 1113.6l2.5-4.4 2.5 4.4zM105.6 1115.9l2.5-4.4 2.5 4.4zM106.0 1110.7l2.5-4.4 2.5 4.4zM106.4 1107.0l2.5-4.4 2.5 4.4zM106.8 1113.8l2.5-4.4 2.5 4.4zM107.2 1113.2l2.5-4.4 2.5 4.4zM107.7 1107.3l2.5-4.4 2.5 4.4zM108.1 1105.0l2.5-4.4 2.5 4.4zM108.5 1111.8l2.5-4.4 2.5 4.4zM108.9 1109.4l2.5-4.4 2.5 4.4zM109.3 1119.4l2.5-4.4 2.5 4.4zM109.7 1107.7l2.5-4.4 2.5 4.4zM110.1 1107.9l2.5-4.4 2.5 4.4zM110.6 1109.3l2.5-4.4 2.5 4.4zM111.0 1103.7l2.5-4.4 2.5 4.4zM111.4 1106.4l2.5-4.4 2.5 4.4zM111.8 1115.5l2.5-4.4 2.5 4.4zM112.2 1109.1l2.5-4.4 2.5 4.4zM112.6 1107.4l2.5-4.4 2.5 4.4zM113.0 1105.0l2.5-4.4 2.5 4.4zM113.4 1111.7l2.5-4.4 2.5 4.4zM113.9 1112.0l2.5-4.4 2.5 4.4zM114.3 1110.5l2.5-4.4 2.5 4.4zM114.7 1108.2l2.5-4.4 2.5 4.4zM115.1 1110.8l2.5-4.4 2.5 4.4zM115.5 1111.1l2.5-4.4 2.5 4.4zM115.9 1107.3l2.5-4.4 2.5 4.4zM116.3 1112.0l2.5-4.4 2.5 4.4zM116.7 1102.2l2.5-4.4 2.5 4.4zM117.2 1105.2l2.5-4.4 2.5 4.4zM117.6 1108.8l2.5-4.4 2.5 4.4zM118.0 1109.6l2.5-4.4 2.5 4.4zM118.4 1105.9l2.5-4.4 2.5 4.4zM118.8 1111.3l2.5-4.4 2.5 4.4zM119.2 1114.0l2.5-4.4 2.5 4.4zM119.6 1111.9l2.5-4.4 2.5 4.4zM120.0 1111.2l2.5-4.4 2.5 4.4zM120.5 1113.5l2.5-4.4 2.5 4.4zM120.9 1112.0l2.5-4.4 2.5 4.4zM121.3 1106.6l2.5-4.4 2.5 4.4zM121.7 1110.1l2.5-4.4 2.5 4.4zM122.1 1115.5l2.5-4.4 2.5 4.4zM122.5 1106.9l2.5-4.4 2.5 4.4zM122.9 1111.3l2.5-4.4 2.5 4.4zM123.3 1109.8l2.5-4.4 2.5 4.4zM123.8 1108.1l2.5-4.4 2.5 4.4zM124.2 1107.9l2.5-4.4 2.5 4.4zM124.6 1112.0l2.5-4.4 2.5 4.4zM125.0 1112.9l2.5-4.4 2.5 4.4zM125.4 1113.0l2.5-4.4 2.5 4.4zM125.8 1106.8l2.5-4.4 2.5 4.4zM126.2 1111.1l2.5-4.4 2.5 4.4zM126.7 1113.6l2.5-4.4 2.5 4.4zM127.1 1115.9l2.5-4.4 2.5 4.4zM127.5 1115.1l2.5-4.4 2.5 4.4zM127.9 1115.8l2.5-4.4 2.5 4.4zM128.3 1116.9l2.5-4.4 2.5 4.4zM128.7 1116.1l2.5-4.4 2.5 4.4zM129.1 1110.3l2.5-4.4 2.5 4.4zM129.5 1113.7l2.5-4.4 2.5 4.4zM130.0 1111.0l2.5-4.4 2.5 4.4zM130.4 1105.2l2.5-4.4 2.5 4.4zM130.8 1107.9l2.5-4.4 2.5 4.4zM131.2 1121.6l2.5-4.4 2.5 4.4zM131.6 1110.3l2.5-4.4 2.5 4.4zM132.0 1106.4l2.5-4.4 2.5 4.4zM132.4 1112.6l2.5-4.4 2.5 4.4zM132.8 1120.3l2.5-4.4 2.5 4.4zM133.3 1114.9l2.5-4.4 2.5 4.4zM133.7 1116.7l2.5-4.4 2.5 4.4zM134.1 1114.4l2.5-4.4 2.5 4.4zM134.5 1115.3l2.5-4.4 2.5 4.4zM134.9 1120.3l2.5-4.4 2.5 4.4zM135.3 1118.8l2.5-4.4 2.5 4.4zM135.7 1115.8l2.5-4.4 2.5 4.4zM136.1 1119.5l2.5-4.4 2.5 4.4zM136.6 1120.4l2.5-4.4 2.5 4.4zM137.0 1115.9l2.5-4.4 2.5 4.4zM137.4 1117.9l2.5-4.4 2.5 4.4zM137.8 1118.0l2.5-4.4 2.5 4.4zM138.2 1114.9l2.5-4.4 2.5 4.4zM138.6 1121.6l2.5-4.4 2.5 4.4zM139.0 1117.1l2.5-4.4 2.5 4.4zM139.4 1115.6l2.5-4.4 2.5 4.4zM139.9 1112.0l2.5-4.4 2.5 4.4zM140.3 1113.7l2.5-4.4 2.5 4.4zM140.7 1123.9l2.5-4.4 2.5 4.4zM141.1 1114.5l2.5-4.4 2.5 4.4zM141.5 1120.4l2.5-4.4 2.5 4.4zM141.9 1117.7l2.5-4.4 2.5 4.4zM142.3 1121.1l2.5-4.4 2.5 4.4zM142.7 1121.6l2.5-4.4 2.5 4.4zM143.2 1116.8l2.5-4.4 2.5 4.4zM143.6 1118.8l2.5-4.4 2.5 4.4zM144.0 1120.4l2.5-4.4 2.5 4.4zM144.4 1120.7l2.5-4.4 2.5 4.4zM144.8 1120.4l2.5-4.4 2.5 4.4zM145.2 1119.6l2.5-4.4 2.5 4.4zM145.6 1123.2l2.5-4.4 2.5 4.4zM146.1 1125.9l2.5-4.4 2.5 4.4zM146.5 1123.3l2.5-4.4 2.5 4.4zM146.9 1119.0l2.5-4.4 2.5 4.4zM147.3 1123.3l2.5-4.4 2.5 4.4zM147.7 1122.3l2.5-4.4 2.5 4.4zM148.1 1124.0l2.5-4.4 2.5 4.4zM148.5 1129.2l2.5-4.4 2.5 4.4zM148.9 1122.0l2.5-4.4 2.5 4.4zM149.4 1123.0l2.5-4.4 2.5 4.4zM149.8 1120.1l2.5-4.4 2.5 4.4zM150.2 1122.5l2.5-4.4 2.5 4.4zM150.6 1121.8l2.5-4.4 2.5 4.4zM151.0 1129.8l2.5-4.4 2.5 4.4zM151.4 1125.4l2.5-4.4 2.5 4.4zM151.8 1122.5l2.5-4.4 2.5 4.4zM152.2 1131.8l2.5-4.4 2.5 4.4zM152.7 1120.3l2.5-4.4 2.5 4.4zM153.1 1128.4l2.5-4.4 2.5 4.4zM153.5 1129.3l2.5-4.4 2.5 4.4zM153.9 1127.9l2.5-4.4 2.5 4.4zM154.3 1125.2l2.5-4.4 2.5 4.4zM154.7 1125.9l2.5-4.4 2.5 4.4zM155.1 1125.4l2.5-4.4 2.5 4.4zM155.5 1129.7l2.5-4.4 2.5 4.4zM156.0 1118.8l2.5-4.4 2.5 4.4zM156.4 1125.6l2.5-4.4 2.5 4.4zM156.8 1128.2l2.5-4.4 2.5 4.4zM157.2 1125.8l2.5-4.4 2.5 4.4zM157.6 1121.7l2.5-4.4 2.5 4.4zM158.0 1127.6l2.5-4.4 2.5 4.4zM158.4 1126.0l2.5-4.4 2.5 4.4zM158.8 1131.9l2.5-4.4 2.5 4.4zM159.3 1134.3l2.5-4.4 2.5 4.4zM159.7 1129.8l2.5-4.4 2.5 4.4zM160.1 1122.8l2.5-4.4 2.5 4.4zM160.5 1129.3l2.5-4.4 2.5 4.4zM160.9 1126.9l2.5-4.4 2.5 4.4zM161.3 1133.0l2.5-4.4 2.5 4.4zM161.7 1136.9l2.5-4.4 2.5 4.4zM162.2 1132.2l2.5-4.4 2.5 4.4zM162.6 1138.6l2.5-4.4 2.5 4.4zM163.0 1137.0l2.5-4.4 2.5 4.4zM163.4 1134.2l2.5-4.4 2.5 4.4zM163.8 1128.9l2.5-4.4 2.5 4.4zM164.2 1132.9l2.5-4.4 2.5 4.4zM164.6 1127.6l2.5-4.4 2.5 4.4zM165.0 1136.8l2.5-4.4 2.5 4.4zM165.5 1133.7l2.5-4.4 2.5 4.4zM165.9 1138.4l2.5-4.4 2.5 4.4zM166.3 1134.7l2.5-4.4 2.5 4.4zM166.7 1126.8l2.5-4.4 2.5 4.4zM167.1 1136.3l2.5-4.4 2.5 4.4zM167.5 1137.4l2.5-4.4 2.5 4.4zM167.9 1140.1l2.5-4.4 2.5 4.4zM168.3 1130.6l2.5-4.4 2.5 4.4zM168.8 1130.7l2.5-4.4 2.5 4.4zM169.2 1134.1l2.5-4.4 2.5 4.4zM169.6 1129.7l2.5-4.4 2.5 4.4zM170.0 1128.0l2.5-4.4 2.5 4.4zM170.4 1128.0l2.5-4.4 2.5 4.4zM170.8 1139.7l2.5-4.4 2.5 4.4zM171.2 1125.1l2.5-4.4 2.5 4.4zM171.6 1116.2l2.5-4.4 2.5 4.4zM172.1 1097.2l2.5-4.4 2.5 4.4zM172.5 1052.5l2.5-4.4 2.5 4.4zM172.9 989.5l2.5-4.4 2.5 4.4zM173.3 973.6l2.5-4.4 2.5 4.4zM173.7 1033.0l2.5-4.4 2.5 4.4zM174.1 1088.8l2.5-4.4 2.5 4.4zM174.5 1118.2l2.5-4.4 2.5 4.4zM174.9 1127.7l2.5-4.4 2.5 4.4zM175.4 1130.4l2.5-4.4 2.5 4.4zM175.8 1139.9l2.5-4.4 2.5 4.4zM176.2 1136.5l2.5-4.4 2.5 4.4zM176.6 1140.6l2.5-4.4 2.5 4.4zM177.0 1138.8l2.5-4.4 2.5 4.4zM177.4 1140.0l2.5-4.4 2.5 4.4zM177.8 1140.5l2.5-4.4 2.5 4.4zM178.3 1138.5l2.5-4.4 2.5 4.4zM178.7 1141.6l2.5-4.4 2.5 4.4zM179.1 1142.9l2.5-4.4 2.5 4.4zM179.5 1144.2l2.5-4.4 2.5 4.4zM179.9 1143.8l2.5-4.4 2.5 4.4zM180.3 1145.2l2.5-4.4 2.5 4.4zM180.7 1144.0l2.5-4.4 2.5 4.4zM181.1 1143.7l2.5-4.4 2.5 4.4zM181.6 1140.0l2.5-4.4 2.5 4.4zM182.0 1143.1l2.5-4.4 2.5 4.4zM182.4 1147.6l2.5-4.4 2.5 4.4zM182.8 1144.9l2.5-4.4 2.5 4.4zM183.2 1146.5l2.5-4.4 2.5 4.4zM183.6 1144.8l2.5-4.4 2.5 4.4zM184.0 1144.1l2.5-4.4 2.5 4.4zM184.4 1149.7l2.5-4.4 2.5 4.4zM184.9 1146.6l2.5-4.4 2.5 4.4zM185.3 1149.1l2.5-4.4 2.5 4.4zM185.7 1147.4l2.5-4.4 2.5 4.4zM186.1 1145.9l2.5-4.4 2.5 4.4zM186.5 1142.3l2.5-4.4 2.5 4.4zM186.9 1147.2l2.5-4.4 2.5 4.4zM187.3 1144.1l2.5-4.4 2.5 4.4zM187.7 1143.0l2.5-4.4 2.5 4.4zM188.2 1150.1l2.5-4.4 2.5 4.4zM188.6 1149.3l2.5-4.4 2.5 4.4zM189.0 1149.3l2.5-4.4 2.5 4.4zM189.4 1148.3l2.5-4.4 2.5 4.4zM189.8 1148.4l2.5-4.4 2.5 4.4zM190.2 1149.5l2.5-4.4 2.5 4.4zM190.6 1149.2l2.5-4.4 2.5 4.4zM191.0 1149.2l2.5-4.4 2.5 4.4zM191.5 1150.7l2.5-4.4 2.5 4.4zM191.9 1144.5l2.5-4.4 2.5 4.4zM192.3 1151.4l2.5-4.4 2.5 4.4zM192.7 1148.5l2.5-4.4 2.5 4.4zM193.1 1151.7l2.5-4.4 2.5 4.4zM193.5 1152.5l2.5-4.4 2.5 4.4zM193.9 1148.6l2.5-4.4 2.5 4.4zM194.3 1152.1l2.5-4.4 2.5 4.4zM194.8 1152.2l2.5-4.4 2.5 4.4zM195.2 1149.4l2.5-4.4 2.5 4.4zM195.6 1149.9l2.5-4.4 2.5 4.4zM196.0 1151.3l2.5-4.4 2.5 4.4zM196.4 1146.7l2.5-4.4 2.5 4.4zM196.8 1150.4l2.5-4.4 2.5 4.4zM197.2 1151.8l2.5-4.4 2.5 4.4zM197.7 1150.6l2.5-4.4 2.5 4.4zM198.1 1148.4l2.5-4.4 2.5 4.4zM198.5 1150.8l2.5-4.4 2.5 4.4zM198.9 1154.7l2.5-4.4 2.5 4.4zM199.3 1154.2l2.5-4.4 2.5 4.4zM199.7 1151.2l2.5-4.4 2.5 4.4zM200.1 1149.6l2.5-4.4 2.5 4.4zM200.5 1150.7l2.5-4.4 2.5 4.4zM201.0 1149.7l2.5-4.4 2.5 4.4zM201.4 1145.4l2.5-4.4 2.5 4.4zM201.8 1138.9l2.5-4.4 2.5 4.4zM202.2 1127.7l2.5-4.4 2.5 4.4zM202.6 1114.1l2.5-4.4 2.5 4.4zM203.0 1107.5l2.5-4.4 2.5 4.4zM203.4 1128.8l2.5-4.4 2.5 4.4zM203.8 1140.5l2.5-4.4 2.5 4.4zM204.3 1149.9l2.5-4.4 2.5 4.4zM204.7 1150.7l2.5-4.4 2.5 4.4zM205.1 1152.9l2.5-4.4 2.5 4.4zM205.5 1156.0l2.5-4.4 2.5 4.4zM205.9 1147.3l2.5-4.4 2.5 4.4zM206.3 1156.8l2.5-4.4 2.5 4.4zM206.7 1154.3l2.5-4.4 2.5 4.4zM207.1 1150.5l2.5-4.4 2.5 4.4zM207.6 1149.0l2.5-4.4 2.5 4.4zM208.0 1155.1l2.5-4.4 2.5 4.4zM208.4 1152.6l2.5-4.4 2.5 4.4zM208.8 1156.8l2.5-4.4 2.5 4.4zM209.2 1155.3l2.5-4.4 2.5 4.4zM209.6 1154.8l2.5-4.4 2.5 4.4zM210.0 1157.1l2.5-4.4 2.5 4.4zM210.4 1155.6l2.5-4.4 2.5 4.4zM210.9 1156.8l2.5-4.4 2.5 4.4zM211.3 1157.1l2.5-4.4 2.5 4.4zM211.7 1156.2l2.5-4.4 2.5 4.4zM212.1 1157.2l2.5-4.4 2.5 4.4zM212.5 1157.3l2.5-4.4 2.5 4.4zM212.9 1153.0l2.5-4.4 2.5 4.4zM213.3 1155.3l2.5-4.4 2.5 4.4zM213.8 1155.7l2.5-4.4 2.5 4.4zM214.2 1155.2l2.5-4.4 2.5 4.4zM214.6 1152.9l2.5-4.4 2.5 4.4zM215.0 1155.0l2.5-4.4 2.5 4.4zM215.4 1156.9l2.5-4.4 2.5 4.4zM215.8 1156.6l2.5-4.4 2.5 4.4zM216.2 1159.3l2.5-4.4 2.5 4.4zM216.6 1155.1l2.5-4.4 2.5 4.4zM217.1 1155.6l2.5-4.4 2.5 4.4zM217.5 1155.3l2.5-4.4 2.5 4.4zM217.9 1155.9l2.5-4.4 2.5 4.4zM218.3 1155.4l2.5-4.4 2.5 4.4zM218.7 1152.9l2.5-4.4 2.5 4.4zM219.1 1157.4l2.5-4.4 2.5 4.4zM219.5 1158.7l2.5-4.4 2.5 4.4zM219.9 1159.1l2.5-4.4 2.5 4.4zM220.4 1154.7l2.5-4.4 2.5 4.4zM220.8 1156.5l2.5-4.4 2.5 4.4zM221.2 1160.7l2.5-4.4 2.5 4.4zM221.6 1156.8l2.5-4.4 2.5 4.4zM222.0 1157.8l2.5-4.4 2.5 4.4zM222.4 1156.8l2.5-4.4 2.5 4.4zM222.8 1159.2l2.5-4.4 2.5 4.4zM223.2 1159.2l2.5-4.4 2.5 4.4zM223.7 1161.9l2.5-4.4 2.5 4.4zM224.1 1158.3l2.5-4.4 2.5 4.4zM224.5 1158.3l2.5-4.4 2.5 4.4zM224.9 1155.0l2.5-4.4 2.5 4.4zM225.3 1156.6l2.5-4.4 2.5 4.4zM225.7 1156.1l2.5-4.4 2.5 4.4zM226.1 1156.9l2.5-4.4 2.5 4.4zM226.5 1155.0l2.5-4.4 2.5 4.4zM227.0 1160.1l2.5-4.4 2.5 4.4zM227.4 1155.6l2.5-4.4 2.5 4.4zM227.8 1158.3l2.5-4.4 2.5 4.4zM228.2 1155.3l2.5-4.4 2.5 4.4zM228.6 1158.5l2.5-4.4 2.5 4.4zM229.0 1161.2l2.5-4.4 2.5 4.4zM229.4 1156.3l2.5-4.4 2.5 4.4zM229.9 1158.7l2.5-4.4 2.5 4.4zM230.3 1157.9l2.5-4.4 2.5 4.4zM230.7 1158.6l2.5-4.4 2.5 4.4zM231.1 1158.9l2.5-4.4 2.5 4.4zM231.5 1156.8l2.5-4.4 2.5 4.4zM231.9 1157.8l2.5-4.4 2.5 4.4zM232.3 1157.0l2.5-4.4 2.5 4.4zM232.7 1156.6l2.5-4.4 2.5 4.4zM233.2 1155.8l2.5-4.4 2.5 4.4zM233.6 1160.2l2.5-4.4 2.5 4.4zM234.0 1156.9l2.5-4.4 2.5 4.4zM234.4 1159.7l2.5-4.4 2.5 4.4zM234.8 1159.5l2.5-4.4 2.5 4.4zM235.2 1156.5l2.5-4.4 2.5 4.4zM235.6 1160.6l2.5-4.4 2.5 4.4zM236.0 1156.8l2.5-4.4 2.5 4.4zM236.5 1159.8l2.5-4.4 2.5 4.4zM236.9 1161.5l2.5-4.4 2.5 4.4zM237.3 1157.2l2.5-4.4 2.5 4.4zM237.7 1156.8l2.5-4.4 2.5 4.4zM238.1 1156.8l2.5-4.4 2.5 4.4zM238.5 1163.3l2.5-4.4 2.5 4.4zM238.9 1158.0l2.5-4.4 2.5 4.4zM239.3 1156.3l2.5-4.4 2.5 4.4zM239.8 1160.5l2.5-4.4 2.5 4.4zM240.2 1158.5l2.5-4.4 2.5 4.4zM240.6 1158.8l2.5-4.4 2.5 4.4zM241.0 1156.9l2.5-4.4 2.5 4.4zM241.4 1154.5l2.5-4.4 2.5 4.4zM241.8 1157.5l2.5-4.4 2.5 4.4zM242.2 1156.9l2.5-4.4 2.5 4.4zM242.6 1155.8l2.5-4.4 2.5 4.4zM243.1 1156.9l2.5-4.4 2.5 4.4zM243.5 1157.2l2.5-4.4 2.5 4.4zM243.9 1160.7l2.5-4.4 2.5 4.4zM244.3 1160.6l2.5-4.4 2.5 4.4zM244.7 1160.2l2.5-4.4 2.5 4.4zM245.1 1158.1l2.5-4.4 2.5 4.4zM245.5 1156.7l2.5-4.4 2.5 4.4zM245.9 1159.9l2.5-4.4 2.5 4.4zM246.4 1160.2l2.5-4.4 2.5 4.4zM246.8 1161.3l2.5-4.4 2.5 4.4zM247.2 1159.3l2.5-4.4 2.5 4.4zM247.6 1159.1l2.5-4.4 2.5 4.4zM248.0 1160.0l2.5-4.4 2.5 4.4zM248.4 1157.6l2.5-4.4 2.5 4.4zM248.8 1157.8l2.5-4.4 2.5 4.4zM249.3 1160.7l2.5-4.4 2.5 4.4zM249.7 1157.0l2.5-4.4 2.5 4.4zM250.1 1159.4l2.5-4.4 2.5 4.4zM250.5 1161.1l2.5-4.4 2.5 4.4zM250.9 1160.0l2.5-4.4 2.5 4.4zM251.3 1160.5l2.5-4.4 2.5 4.4zM251.7 1157.4l2.5-4.4 2.5 4.4zM252.1 1159.4l2.5-4.4 2.5 4.4zM252.6 1159.1l2.5-4.4 2.5 4.4zM253.0 1160.9l2.5-4.4 2.5 4.4zM253.4 1160.6l2.5-4.4 2.5 4.4zM253.8 1159.8l2.5-4.4 2.5 4.4zM254.2 1163.6l2.5-4.4 2.5 4.4zM254.6 1160.9l2.5-4.4 2.5 4.4zM255.0 1159.2l2.5-4.4 2.5 4.4zM255.4 1158.6l2.5-4.4 2.5 4.4zM255.9 1159.8l2.5-4.4 2.5 4.4zM256.3 1158.7l2.5-4.4 2.5 4.4zM256.7 1163.2l2.5-4.4 2.5 4.4zM257.1 1161.0l2.5-4.4 2.5 4.4zM257.5 1159.3l2.5-4.4 2.5 4.4zM257.9 1158.6l2.5-4.4 2.5 4.4zM258.3 1157.8l2.5-4.4 2.5 4.4zM258.7 1159.4l2.5-4.4 2.5 4.4zM259.2 1162.6l2.5-4.4 2.5 4.4zM259.6 1161.7l2.5-4.4 2.5 4.4zM260.0 1159.9l2.5-4.4 2.5 4.4zM260.4 1160.3l2.5-4.4 2.5 4.4zM260.8 1156.3l2.5-4.4 2.5 4.4zM261.2 1161.6l2.5-4.4 2.5 4.4zM261.6 1159.6l2.5-4.4 2.5 4.4zM262.0 1162.9l2.5-4.4 2.5 4.4zM262.5 1159.8l2.5-4.4 2.5 4.4zM262.9 1159.2l2.5-4.4 2.5 4.4zM263.3 1160.6l2.5-4.4 2.5 4.4zM263.7 1158.9l2.5-4.4 2.5 4.4zM264.1 1162.9l2.5-4.4 2.5 4.4zM264.5 1160.8l2.5-4.4 2.5 4.4zM264.9 1160.9l2.5-4.4 2.5 4.4zM265.4 1160.9l2.5-4.4 2.5 4.4zM265.8 1159.5l2.5-4.4 2.5 4.4zM266.2 1161.2l2.5-4.4 2.5 4.4zM266.6 1160.6l2.5-4.4 2.5 4.4zM267.0 1163.8l2.5-4.4 2.5 4.4zM267.4 1160.4l2.5-4.4 2.5 4.4zM267.8 1161.0l2.5-4.4 2.5 4.4zM268.2 1159.4l2.5-4.4 2.5 4.4zM268.7 1159.6l2.5-4.4 2.5 4.4zM269.1 1159.7l2.5-4.4 2.5 4.4zM269.5 1162.9l2.5-4.4 2.5 4.4zM269.9 1160.5l2.5-4.4 2.5 4.4zM270.3 1162.3l2.5-4.4 2.5 4.4zM270.7 1159.9l2.5-4.4 2.5 4.4zM271.1 1159.7l2.5-4.4 2.5 4.4zM271.5 1156.6l2.5-4.4 2.5 4.4zM272.0 1162.1l2.5-4.4 2.5 4.4zM272.4 1164.5l2.5-4.4 2.5 4.4zM272.8 1160.0l2.5-4.4 2.5 4.4zM273.2 1163.3l2.5-4.4 2.5 4.4zM273.6 1162.2l2.5-4.4 2.5 4.4zM274.0 1159.1l2.5-4.4 2.5 4.4zM274.4 1162.0l2.5-4.4 2.5 4.4zM274.8 1158.7l2.5-4.4 2.5 4.4zM275.3 1159.9l2.5-4.4 2.5 4.4zM275.7 1162.9l2.5-4.4 2.5 4.4zM276.1 1160.8l2.5-4.4 2.5 4.4zM276.5 1158.1l2.5-4.4 2.5 4.4zM276.9 1163.3l2.5-4.4 2.5 4.4zM277.3 1158.3l2.5-4.4 2.5 4.4zM277.7 1160.2l2.5-4.4 2.5 4.4zM278.1 1159.8l2.5-4.4 2.5 4.4zM278.6 1160.2l2.5-4.4 2.5 4.4zM279.0 1158.8l2.5-4.4 2.5 4.4zM279.4 1157.2l2.5-4.4 2.5 4.4zM279.8 1164.2l2.5-4.4 2.5 4.4zM280.2 1158.6l2.5-4.4 2.5 4.4zM280.6 1158.7l2.5-4.4 2.5 4.4zM281.0 1155.6l2.5-4.4 2.5 4.4zM281.5 1160.7l2.5-4.4 2.5 4.4zM281.9 1163.1l2.5-4.4 2.5 4.4zM282.3 1163.3l2.5-4.4 2.5 4.4zM282.7 1166.0l2.5-4.4 2.5 4.4zM283.1 1163.5l2.5-4.4 2.5 4.4zM283.5 1161.3l2.5-4.4 2.5 4.4zM283.9 1160.5l2.5-4.4 2.5 4.4zM284.3 1163.3l2.5-4.4 2.5 4.4zM284.8 1160.4l2.5-4.4 2.5 4.4zM285.2 1160.8l2.5-4.4 2.5 4.4zM285.6 1158.5l2.5-4.4 2.5 4.4zM286.0 1160.6l2.5-4.4 2.5 4.4zM286.4 1164.3l2.5-4.4 2.5 4.4zM286.8 1160.2l2.5-4.4 2.5 4.4zM287.2 1161.1l2.5-4.4 2.5 4.4zM287.6 1155.5l2.5-4.4 2.5 4.4zM288.1 1162.9l2.5-4.4 2.5 4.4zM288.5 1160.9l2.5-4.4 2.5 4.4zM288.9 1162.9l2.5-4.4 2.5 4.4zM289.3 1160.5l2.5-4.4 2.5 4.4zM289.7 1158.2l2.5-4.4 2.5 4.4zM290.1 1157.1l2.5-4.4 2.5 4.4zM290.5 1160.6l2.5-4.4 2.5 4.4zM290.9 1159.4l2.5-4.4 2.5 4.4zM291.4 1157.2l2.5-4.4 2.5 4.4zM291.8 1158.6l2.5-4.4 2.5 4.4zM292.2 1157.0l2.5-4.4 2.5 4.4zM292.6 1159.0l2.5-4.4 2.5 4.4zM293.0 1155.7l2.5-4.4 2.5 4.4zM293.4 1152.5l2.5-4.4 2.5 4.4zM293.8 1151.5l2.5-4.4 2.5 4.4zM294.2 1142.6l2.5-4.4 2.5 4.4zM294.7 1127.5l2.5-4.4 2.5 4.4zM295.1 1088.7l2.5-4.4 2.5 4.4zM295.5 1049.1l2.5-4.4 2.5 4.4zM295.9 1051.6l2.5-4.4 2.5 4.4zM296.3 1089.1l2.5-4.4 2.5 4.4zM296.7 1125.1l2.5-4.4 2.5 4.4zM297.1 1144.1l2.5-4.4 2.5 4.4zM297.5 1149.6l2.5-4.4 2.5 4.4zM298.0 1154.8l2.5-4.4 2.5 4.4zM298.4 1156.3l2.5-4.4 2.5 4.4zM298.8 1155.2l2.5-4.4 2.5 4.4zM299.2 1157.1l2.5-4.4 2.5 4.4zM299.6 1159.2l2.5-4.4 2.5 4.4zM300.0 1156.0l2.5-4.4 2.5 4.4zM300.4 1157.3l2.5-4.4 2.5 4.4zM300.9 1158.7l2.5-4.4 2.5 4.4zM301.3 1159.6l2.5-4.4 2.5 4.4zM301.7 1161.0l2.5-4.4 2.5 4.4zM302.1 1157.3l2.5-4.4 2.5 4.4zM302.5 1160.8l2.5-4.4 2.5 4.4zM302.9 1161.5l2.5-4.4 2.5 4.4zM303.3 1163.4l2.5-4.4 2.5 4.4zM303.7 1159.5l2.5-4.4 2.5 4.4zM304.2 1158.6l2.5-4.4 2.5 4.4zM304.6 1157.4l2.5-4.4 2.5 4.4zM305.0 1161.6l2.5-4.4 2.5 4.4zM305.4 1163.2l2.5-4.4 2.5 4.4zM305.8 1159.2l2.5-4.4 2.5 4.4zM306.2 1161.6l2.5-4.4 2.5 4.4zM306.6 1162.4l2.5-4.4 2.5 4.4zM307.0 1162.7l2.5-4.4 2.5 4.4zM307.5 1160.0l2.5-4.4 2.5 4.4zM307.9 1162.1l2.5-4.4 2.5 4.4zM308.3 1160.8l2.5-4.4 2.5 4.4zM308.7 1159.1l2.5-4.4 2.5 4.4zM309.1 1161.5l2.5-4.4 2.5 4.4zM309.5 1161.7l2.5-4.4 2.5 4.4zM309.9 1159.1l2.5-4.4 2.5 4.4zM310.3 1162.0l2.5-4.4 2.5 4.4zM310.8 1165.1l2.5-4.4 2.5 4.4zM311.2 1158.2l2.5-4.4 2.5 4.4zM311.6 1162.6l2.5-4.4 2.5 4.4zM312.0 1163.0l2.5-4.4 2.5 4.4zM312.4 1161.3l2.5-4.4 2.5 4.4zM312.8 1161.9l2.5-4.4 2.5 4.4zM313.2 1160.7l2.5-4.4 2.5 4.4zM313.6 1164.0l2.5-4.4 2.5 4.4zM314.1 1159.4l2.5-4.4 2.5 4.4zM314.5 1161.0l2.5-4.4 2.5 4.4zM314.9 1157.4l2.5-4.4 2.5 4.4zM315.3 1161.9l2.5-4.4 2.5 4.4zM315.7 1162.0l2.5-4.4 2.5 4.4zM316.1 1158.0l2.5-4.4 2.5 4.4zM316.5 1159.6l2.5-4.4 2.5 4.4zM317.0 1162.3l2.5-4.4 2.5 4.4zM317.4 1160.3l2.5-4.4 2.5 4.4zM317.8 1158.9l2.5-4.4 2.5 4.4zM318.2 1156.3l2.5-4.4 2.5 4.4zM318.6 1162.0l2.5-4.4 2.5 4.4zM319.0 1165.2l2.5-4.4 2.5 4.4zM319.4 1160.4l2.5-4.4 2.5 4.4zM319.8 1162.2l2.5-4.4 2.5 4.4zM320.3 1162.2l2.5-4.4 2.5 4.4zM320.7 1161.2l2.5-4.4 2.5 4.4zM321.1 1161.6l2.5-4.4 2.5 4.4zM321.5 1161.6l2.5-4.4 2.5 4.4zM321.9 1159.7l2.5-4.4 2.5 4.4zM322.3 1166.4l2.5-4.4 2.5 4.4zM322.7 1166.9l2.5-4.4 2.5 4.4zM323.1 1162.1l2.5-4.4 2.5 4.4zM323.6 1165.1l2.5-4.4 2.5 4.4zM324.0 1159.9l2.5-4.4 2.5 4.4zM324.4 1161.1l2.5-4.4 2.5 4.4zM324.8 1163.8l2.5-4.4 2.5 4.4zM325.2 1159.2l2.5-4.4 2.5 4.4zM325.6 1158.9l2.5-4.4 2.5 4.4zM326.0 1162.2l2.5-4.4 2.5 4.4zM326.4 1157.6l2.5-4.4 2.5 4.4zM326.9 1165.0l2.5-4.4 2.5 4.4zM327.3 1163.1l2.5-4.4 2.5 4.4zM327.7 1162.1l2.5-4.4 2.5 4.4zM328.1 1163.0l2.5-4.4 2.5 4.4zM328.5 1159.9l2.5-4.4 2.5 4.4zM328.9 1159.8l2.5-4.4 2.5 4.4zM329.3 1163.4l2.5-4.4 2.5 4.4zM329.7 1163.6l2.5-4.4 2.5 4.4zM330.2 1162.0l2.5-4.4 2.5 4.4zM330.6 1161.7l2.5-4.4 2.5 4.4zM331.0 1160.7l2.5-4.4 2.5 4.4zM331.4 1164.6l2.5-4.4 2.5 4.4zM331.8 1158.9l2.5-4.4 2.5 4.4zM332.2 1160.1l2.5-4.4 2.5 4.4zM332.6 1160.8l2.5-4.4 2.5 4.4zM333.1 1158.8l2.5-4.4 2.5 4.4zM333.5 1159.2l2.5-4.4 2.5 4.4zM333.9 1159.8l2.5-4.4 2.5 4.4zM334.3 1163.9l2.5-4.4 2.5 4.4zM334.7 1165.5l2.5-4.4 2.5 4.4zM335.1 1162.6l2.5-4.4 2.5 4.4zM335.5 1158.7l2.5-4.4 2.5 4.4zM335.9 1160.7l2.5-4.4 2.5 4.4zM336.4 1161.7l2.5-4.4 2.5 4.4zM336.8 1161.4l2.5-4.4 2.5 4.4zM337.2 1161.2l2.5-4.4 2.5 4.4zM337.6 1163.0l2.5-4.4 2.5 4.4zM338.0 1158.1l2.5-4.4 2.5 4.4zM338.4 1160.8l2.5-4.4 2.5 4.4zM338.8 1162.4l2.5-4.4 2.5 4.4zM339.2 1163.5l2.5-4.4 2.5 4.4zM339.7 1162.6l2.5-4.4 2.5 4.4zM340.1 1162.1l2.5-4.4 2.5 4.4zM340.5 1161.8l2.5-4.4 2.5 4.4zM340.9 1160.7l2.5-4.4 2.5 4.4zM341.3 1162.2l2.5-4.4 2.5 4.4zM341.7 1161.7l2.5-4.4 2.5 4.4zM342.1 1160.7l2.5-4.4 2.5 4.4zM342.5 1164.5l2.5-4.4 2.5 4.4zM343.0 1164.5l2.5-4.4 2.5 4.4zM343.4 1161.3l2.5-4.4 2.5 4.4zM343.8 1163.3l2.5-4.4 2.5 4.4zM344.2 1164.5l2.5-4.4 2.5 4.4zM344.6 1162.6l2.5-4.4 2.5 4.4zM345.0 1162.3l2.5-4.4 2.5 4.4zM345.4 1163.0l2.5-4.4 2.5 4.4zM345.8 1158.7l2.5-4.4 2.5 4.4zM346.3 1159.1l2.5-4.4 2.5 4.4zM346.7 1163.0l2.5-4.4 2.5 4.4zM347.1 1162.4l2.5-4.4 2.5 4.4zM347.5 1164.5l2.5-4.4 2.5 4.4zM347.9 1160.7l2.5-4.4 2.5 4.4zM348.3 1163.7l2.5-4.4 2.5 4.4zM348.7 1163.5l2.5-4.4 2.5 4.4zM349.1 1165.0l2.5-4.4 2.5 4.4zM349.6 1159.1l2.5-4.4 2.5 4.4zM350.0 1159.5l2.5-4.4 2.5 4.4zM350.4 1160.0l2.5-4.4 2.5 4.4zM350.8 1158.5l2.5-4.4 2.5 4.4zM351.2 1152.4l2.5-4.4 2.5 4.4zM351.6 1144.5l2.5-4.4 2.5 4.4zM352.0 1125.0l2.5-4.4 2.5 4.4zM352.5 1107.9l2.5-4.4 2.5 4.4zM352.9 1093.0l2.5-4.4 2.5 4.4zM353.3 1111.3l2.5-4.4 2.5 4.4zM353.7 1133.6l2.5-4.4 2.5 4.4zM354.1 1149.6l2.5-4.4 2.5 4.4zM354.5 1157.7l2.5-4.4 2.5 4.4zM354.9 1158.0l2.5-4.4 2.5 4.4zM355.3 1159.9l2.5-4.4 2.5 4.4zM355.8 1165.0l2.5-4.4 2.5 4.4zM356.2 1163.0l2.5-4.4 2.5 4.4zM356.6 1161.9l2.5-4.4 2.5 4.4zM357.0 1160.9l2.5-4.4 2.5 4.4zM357.4 1161.9l2.5-4.4 2.5 4.4zM357.8 1160.6l2.5-4.4 2.5 4.4zM358.2 1162.7l2.5-4.4 2.5 4.4zM358.6 1160.9l2.5-4.4 2.5 4.4zM359.1 1160.9l2.5-4.4 2.5 4.4zM359.5 1161.6l2.5-4.4 2.5 4.4zM359.9 1160.3l2.5-4.4 2.5 4.4zM360.3 1162.9l2.5-4.4 2.5 4.4zM360.7 1167.6l2.5-4.4 2.5 4.4zM361.1 1161.4l2.5-4.4 2.5 4.4zM361.5 1159.3l2.5-4.4 2.5 4.4zM361.9 1164.6l2.5-4.4 2.5 4.4zM362.4 1162.5l2.5-4.4 2.5 4.4zM362.8 1166.6l2.5-4.4 2.5 4.4zM363.2 1163.5l2.5-4.4 2.5 4.4zM363.6 1164.6l2.5-4.4 2.5 4.4zM364.0 1161.2l2.5-4.4 2.5 4.4zM364.4 1159.5l2.5-4.4 2.5 4.4zM364.8 1162.3l2.5-4.4 2.5 4.4zM365.2 1164.0l2.5-4.4 2.5 4.4zM365.7 1160.9l2.5-4.4 2.5 4.4zM366.1 1159.4l2.5-4.4 2.5 4.4zM366.5 1161.4l2.5-4.4 2.5 4.4zM366.9 1161.6l2.5-4.4 2.5 4.4zM367.3 1161.7l2.5-4.4 2.5 4.4zM367.7 1162.1l2.5-4.4 2.5 4.4zM368.1 1166.5l2.5-4.4 2.5 4.4zM368.6 1161.0l2.5-4.4 2.5 4.4zM369.0 1158.0l2.5-4.4 2.5 4.4zM369.4 1153.1l2.5-4.4 2.5 4.4zM369.8 1151.5l2.5-4.4 2.5 4.4zM370.2 1142.3l2.5-4.4 2.5 4.4zM370.6 1149.5l2.5-4.4 2.5 4.4zM371.0 1151.9l2.5-4.4 2.5 4.4zM371.4 1153.9l2.5-4.4 2.5 4.4zM371.9 1160.3l2.5-4.4 2.5 4.4zM372.3 1161.2l2.5-4.4 2.5 4.4zM372.7 1164.5l2.5-4.4 2.5 4.4zM373.1 1159.4l2.5-4.4 2.5 4.4zM373.5 1163.0l2.5-4.4 2.5 4.4zM373.9 1162.7l2.5-4.4 2.5 4.4zM374.3 1164.7l2.5-4.4 2.5 4.4zM374.7 1160.7l2.5-4.4 2.5 4.4zM375.2 1161.5l2.5-4.4 2.5 4.4zM375.6 1167.0l2.5-4.4 2.5 4.4zM376.0 1164.3l2.5-4.4 2.5 4.4zM376.4 1160.2l2.5-4.4 2.5 4.4zM376.8 1163.9l2.5-4.4 2.5 4.4zM377.2 1161.7l2.5-4.4 2.5 4.4zM377.6 1161.9l2.5-4.4 2.5 4.4zM378.0 1160.9l2.5-4.4 2.5 4.4zM378.5 1165.3l2.5-4.4 2.5 4.4zM378.9 1162.3l2.5-4.4 2.5 4.4zM379.3 1163.8l2.5-4.4 2.5 4.4zM379.7 1163.6l2.5-4.4 2.5 4.4zM380.1 1160.4l2.5-4.4 2.5 4.4zM380.5 1162.0l2.5-4.4 2.5 4.4zM380.9 1165.0l2.5-4.4 2.5 4.4zM381.3 1160.4l2.5-4.4 2.5 4.4zM381.8 1164.0l2.5-4.4 2.5 4.4zM382.2 1163.4l2.5-4.4 2.5 4.4zM382.6 1164.9l2.5-4.4 2.5 4.4zM383.0 1165.0l2.5-4.4 2.5 4.4zM383.4 1165.3l2.5-4.4 2.5 4.4zM383.8 1163.8l2.5-4.4 2.5 4.4zM384.2 1164.2l2.5-4.4 2.5 4.4zM384.7 1162.3l2.5-4.4 2.5 4.4zM385.1 1162.6l2.5-4.4 2.5 4.4zM385.5 1165.5l2.5-4.4 2.5 4.4zM385.9 1162.6l2.5-4.4 2.5 4.4zM386.3 1165.8l2.5-4.4 2.5 4.4zM386.7 1165.8l2.5-4.4 2.5 4.4zM387.1 1162.2l2.5-4.4 2.5 4.4zM387.5 1165.0l2.5-4.4 2.5 4.4zM388.0 1162.2l2.5-4.4 2.5 4.4zM388.4 1164.6l2.5-4.4 2.5 4.4zM388.8 1162.3l2.5-4.4 2.5 4.4zM389.2 1164.6l2.5-4.4 2.5 4.4zM389.6 1164.3l2.5-4.4 2.5 4.4zM390.0 1161.9l2.5-4.4 2.5 4.4zM390.4 1168.1l2.5-4.4 2.5 4.4zM390.8 1165.9l2.5-4.4 2.5 4.4zM391.3 1160.8l2.5-4.4 2.5 4.4zM391.7 1164.7l2.5-4.4 2.5 4.4zM392.1 1163.2l2.5-4.4 2.5 4.4zM392.5 1168.2l2.5-4.4 2.5 4.4zM392.9 1164.0l2.5-4.4 2.5 4.4zM393.3 1164.9l2.5-4.4 2.5 4.4zM393.7 1163.8l2.5-4.4 2.5 4.4zM394.1 1165.4l2.5-4.4 2.5 4.4zM394.6 1163.1l2.5-4.4 2.5 4.4zM395.0 1162.4l2.5-4.4 2.5 4.4zM395.4 1163.2l2.5-4.4 2.5 4.4zM395.8 1163.4l2.5-4.4 2.5 4.4zM396.2 1165.5l2.5-4.4 2.5 4.4zM396.6 1164.4l2.5-4.4 2.5 4.4zM397.0 1163.4l2.5-4.4 2.5 4.4zM397.4 1163.5l2.5-4.4 2.5 4.4zM397.9 1162.5l2.5-4.4 2.5 4.4zM398.3 1164.6l2.5-4.4 2.5 4.4zM398.7 1160.3l2.5-4.4 2.5 4.4zM399.1 1163.9l2.5-4.4 2.5 4.4zM399.5 1166.7l2.5-4.4 2.5 4.4zM399.9 1163.6l2.5-4.4 2.5 4.4zM400.3 1163.1l2.5-4.4 2.5 4.4zM400.7 1164.5l2.5-4.4 2.5 4.4zM401.2 1162.5l2.5-4.4 2.5 4.4zM401.6 1162.9l2.5-4.4 2.5 4.4zM402.0 1165.8l2.5-4.4 2.5 4.4zM402.4 1163.2l2.5-4.4 2.5 4.4zM402.8 1168.4l2.5-4.4 2.5 4.4zM403.2 1165.5l2.5-4.4 2.5 4.4zM403.6 1164.3l2.5-4.4 2.5 4.4zM404.1 1163.3l2.5-4.4 2.5 4.4zM404.5 1164.0l2.5-4.4 2.5 4.4zM404.9 1160.0l2.5-4.4 2.5 4.4zM405.3 1165.0l2.5-4.4 2.5 4.4zM405.7 1166.3l2.5-4.4 2.5 4.4zM406.1 1165.7l2.5-4.4 2.5 4.4zM406.5 1163.7l2.5-4.4 2.5 4.4zM406.9 1165.8l2.5-4.4 2.5 4.4zM407.4 1165.9l2.5-4.4 2.5 4.4zM407.8 1164.3l2.5-4.4 2.5 4.4zM408.2 1165.3l2.5-4.4 2.5 4.4zM408.6 1166.7l2.5-4.4 2.5 4.4zM409.0 1165.6l2.5-4.4 2.5 4.4zM409.4 1163.9l2.5-4.4 2.5 4.4zM409.8 1164.7l2.5-4.4 2.5 4.4zM410.2 1165.0l2.5-4.4 2.5 4.4zM410.7 1161.5l2.5-4.4 2.5 4.4zM411.1 1165.0l2.5-4.4 2.5 4.4zM411.5 1164.5l2.5-4.4 2.5 4.4zM411.9 1160.4l2.5-4.4 2.5 4.4zM412.3 1161.3l2.5-4.4 2.5 4.4zM412.7 1168.3l2.5-4.4 2.5 4.4zM413.1 1165.0l2.5-4.4 2.5 4.4zM413.5 1167.5l2.5-4.4 2.5 4.4zM414.0 1164.0l2.5-4.4 2.5 4.4zM414.4 1167.9l2.5-4.4 2.5 4.4zM414.8 1165.9l2.5-4.4 2.5 4.4zM415.2 1163.4l2.5-4.4 2.5 4.4zM415.6 1165.4l2.5-4.4 2.5 4.4zM416.0 1168.0l2.5-4.4 2.5 4.4zM416.4 1169.6l2.5-4.4 2.5 4.4zM416.8 1165.9l2.5-4.4 2.5 4.4zM417.3 1164.0l2.5-4.4 2.5 4.4zM417.7 1163.2l2.5-4.4 2.5 4.4zM418.1 1166.3l2.5-4.4 2.5 4.4zM418.5 1167.1l2.5-4.4 2.5 4.4zM418.9 1165.2l2.5-4.4 2.5 4.4zM419.3 1164.7l2.5-4.4 2.5 4.4zM419.7 1166.6l2.5-4.4 2.5 4.4zM420.2 1165.9l2.5-4.4 2.5 4.4zM420.6 1165.8l2.5-4.4 2.5 4.4zM421.0 1161.9l2.5-4.4 2.5 4.4zM421.4 1164.3l2.5-4.4 2.5 4.4zM421.8 1168.8l2.5-4.4 2.5 4.4zM422.2 1165.0l2.5-4.4 2.5 4.4zM422.6 1169.9l2.5-4.4 2.5 4.4zM423.0 1165.8l2.5-4.4 2.5 4.4zM423.5 1164.5l2.5-4.4 2.5 4.4zM423.9 1165.6l2.5-4.4 2.5 4.4zM424.3 1166.3l2.5-4.4 2.5 4.4zM424.7 1163.6l2.5-4.4 2.5 4.4zM425.1 1165.6l2.5-4.4 2.5 4.4zM425.5 1164.2l2.5-4.4 2.5 4.4zM425.9 1168.0l2.5-4.4 2.5 4.4zM426.3 1164.2l2.5-4.4 2.5 4.4zM426.8 1165.3l2.5-4.4 2.5 4.4zM427.2 1162.1l2.5-4.4 2.5 4.4zM427.6 1162.3l2.5-4.4 2.5 4.4zM428.0 1164.9l2.5-4.4 2.5 4.4zM428.4 1163.2l2.5-4.4 2.5 4.4zM428.8 1164.5l2.5-4.4 2.5 4.4zM429.2 1165.5l2.5-4.4 2.5 4.4zM429.6 1166.1l2.5-4.4 2.5 4.4zM430.1 1162.2l2.5-4.4 2.5 4.4zM430.5 1164.6l2.5-4.4 2.5 4.4zM430.9 1166.2l2.5-4.4 2.5 4.4zM431.3 1163.5l2.5-4.4 2.5 4.4zM431.7 1162.1l2.5-4.4 2.5 4.4zM432.1 1163.2l2.5-4.4 2.5 4.4zM432.5 1167.7l2.5-4.4 2.5 4.4zM432.9 1164.1l2.5-4.4 2.5 4.4zM433.4 1166.6l2.5-4.4 2.5 4.4zM433.8 1161.3l2.5-4.4 2.5 4.4zM434.2 1161.1l2.5-4.4 2.5 4.4zM434.6 1150.4l2.5-4.4 2.5 4.4zM435.0 1146.4l2.5-4.4 2.5 4.4zM435.4 1144.7l2.5-4.4 2.5 4.4zM435.8 1152.5l2.5-4.4 2.5 4.4zM436.3 1156.3l2.5-4.4 2.5 4.4zM436.7 1162.4l2.5-4.4 2.5 4.4zM437.1 1161.8l2.5-4.4 2.5 4.4zM437.5 1163.0l2.5-4.4 2.5 4.4zM437.9 1166.9l2.5-4.4 2.5 4.4zM438.3 1167.5l2.5-4.4 2.5 4.4zM438.7 1167.3l2.5-4.4 2.5 4.4zM439.1 1167.4l2.5-4.4 2.5 4.4zM439.6 1164.0l2.5-4.4 2.5 4.4zM440.0 1169.5l2.5-4.4 2.5 4.4zM440.4 1165.6l2.5-4.4 2.5 4.4zM440.8 1167.8l2.5-4.4 2.5 4.4zM441.2 1166.8l2.5-4.4 2.5 4.4zM441.6 1161.8l2.5-4.4 2.5 4.4zM442.0 1161.5l2.5-4.4 2.5 4.4zM442.4 1162.2l2.5-4.4 2.5 4.4zM442.9 1165.3l2.5-4.4 2.5 4.4zM443.3 1167.7l2.5-4.4 2.5 4.4zM443.7 1165.0l2.5-4.4 2.5 4.4zM444.1 1167.2l2.5-4.4 2.5 4.4zM444.5 1163.0l2.5-4.4 2.5 4.4zM444.9 1164.3l2.5-4.4 2.5 4.4zM445.3 1163.8l2.5-4.4 2.5 4.4zM445.7 1165.6l2.5-4.4 2.5 4.4zM446.2 1163.3l2.5-4.4 2.5 4.4zM446.6 1165.4l2.5-4.4 2.5 4.4zM447.0 1166.8l2.5-4.4 2.5 4.4zM447.4 1164.7l2.5-4.4 2.5 4.4zM447.8 1163.8l2.5-4.4 2.5 4.4zM448.2 1164.7l2.5-4.4 2.5 4.4zM448.6 1163.2l2.5-4.4 2.5 4.4zM449.0 1163.6l2.5-4.4 2.5 4.4zM449.5 1167.3l2.5-4.4 2.5 4.4zM449.9 1166.4l2.5-4.4 2.5 4.4zM450.3 1162.8l2.5-4.4 2.5 4.4zM450.7 1165.2l2.5-4.4 2.5 4.4zM451.1 1166.6l2.5-4.4 2.5 4.4zM451.5 1167.3l2.5-4.4 2.5 4.4zM451.9 1167.0l2.5-4.4 2.5 4.4zM452.3 1167.7l2.5-4.4 2.5 4.4zM452.8 1165.7l2.5-4.4 2.5 4.4zM453.2 1165.8l2.5-4.4 2.5 4.4zM453.6 1165.3l2.5-4.4 2.5 4.4zM454.0 1168.0l2.5-4.4 2.5 4.4zM454.4 1167.5l2.5-4.4 2.5 4.4zM454.8 1169.4l2.5-4.4 2.5 4.4zM455.2 1168.1l2.5-4.4 2.5 4.4zM455.7 1164.2l2.5-4.4 2.5 4.4zM456.1 1162.9l2.5-4.4 2.5 4.4zM456.5 1163.1l2.5-4.4 2.5 4.4zM456.9 1164.1l2.5-4.4 2.5 4.4zM457.3 1167.1l2.5-4.4 2.5 4.4zM457.7 1163.1l2.5-4.4 2.5 4.4zM458.1 1161.8l2.5-4.4 2.5 4.4zM458.5 1165.5l2.5-4.4 2.5 4.4zM459.0 1167.5l2.5-4.4 2.5 4.4zM459.4 1167.5l2.5-4.4 2.5 4.4zM459.8 1169.3l2.5-4.4 2.5 4.4zM460.2 1165.9l2.5-4.4 2.5 4.4zM460.6 1164.8l2.5-4.4 2.5 4.4zM461.0 1165.3l2.5-4.4 2.5 4.4zM461.4 1163.3l2.5-4.4 2.5 4.4zM461.8 1164.6l2.5-4.4 2.5 4.4zM462.3 1168.5l2.5-4.4 2.5 4.4zM462.7 1170.2l2.5-4.4 2.5 4.4zM463.1 1168.5l2.5-4.4 2.5 4.4zM463.5 1166.6l2.5-4.4 2.5 4.4zM463.9 1165.5l2.5-4.4 2.5 4.4zM464.3 1166.5l2.5-4.4 2.5 4.4zM464.7 1162.2l2.5-4.4 2.5 4.4zM465.1 1167.2l2.5-4.4 2.5 4.4zM465.6 1167.6l2.5-4.4 2.5 4.4zM466.0 1165.8l2.5-4.4 2.5 4.4zM466.4 1166.1l2.5-4.4 2.5 4.4zM466.8 1162.6l2.5-4.4 2.5 4.4zM467.2 1167.6l2.5-4.4 2.5 4.4zM467.6 1167.7l2.5-4.4 2.5 4.4zM468.0 1160.5l2.5-4.4 2.5 4.4zM468.4 1164.9l2.5-4.4 2.5 4.4zM468.9 1166.8l2.5-4.4 2.5 4.4zM469.3 1169.5l2.5-4.4 2.5 4.4zM469.7 1164.4l2.5-4.4 2.5 4.4zM173.1 966.7l2.5-4.4 2.5 4.4zM173.7 972.2l2.5-4.4 2.5 4.4zM173.1 977.6l2.5-4.4 2.5 4.4zM173.2 982.0l2.5-4.4 2.5 4.4zM173.5 987.8l2.5-4.4 2.5 4.4zM173.4 992.3l2.5-4.4 2.5 4.4zM173.6 996.4l2.5-4.4 2.5 4.4zM173.2 999.4l2.5-4.4 2.5 4.4zM173.2 1003.0l2.5-4.4 2.5 4.4zM173.1 1008.8l2.5-4.4 2.5 4.4zM174.2 1014.4l2.5-4.4 2.5 4.4zM173.3 1018.4l2.5-4.4 2.5 4.4zM173.4 1024.4l2.5-4.4 2.5 4.4zM173.1 1030.1l2.5-4.4 2.5 4.4zM173.2 1034.0l2.5-4.4 2.5 4.4zM173.7 1038.6l2.5-4.4 2.5 4.4zM173.0 1042.6l2.5-4.4 2.5 4.4zM172.9 1046.1l2.5-4.4 2.5 4.4zM172.8 1050.7l2.5-4.4 2.5 4.4zM173.3 1055.6l2.5-4.4 2.5 4.4zM172.8 1060.4l2.5-4.4 2.5 4.4zM173.5 1065.0l2.5-4.4 2.5 4.4zM173.6 1068.1l2.5-4.4 2.5 4.4zM173.5 1073.5l2.5-4.4 2.5 4.4zM173.0 1078.3l2.5-4.4 2.5 4.4zM173.8 1084.5l2.5-4.4 2.5 4.4zM173.1 1088.7l2.5-4.4 2.5 4.4zM172.6 1092.7l2.5-4.4 2.5 4.4zM173.7 1096.9l2.5-4.4 2.5 4.4zM173.3 1102.2l2.5-4.4 2.5 4.4zM173.5 1107.8l2.5-4.4 2.5 4.4zM173.3 1112.7l2.5-4.4 2.5 4.4zM173.3 1118.2l2.5-4.4 2.5 4.4zM172.9 1123.1l2.5-4.4 2.5 4.4zM173.5 1126.1l2.5-4.4 2.5 4.4zM172.9 1131.3l2.5-4.4 2.5 4.4zM172.7 1135.8l2.5-4.4 2.5 4.4zM202.9 1110.7l2.5-4.4 2.5 4.4zM202.5 1116.2l2.5-4.4 2.5 4.4zM203.2 1119.3l2.5-4.4 2.5 4.4zM203.5 1124.4l2.5-4.4 2.5 4.4zM203.4 1129.5l2.5-4.4 2.5 4.4zM203.1 1134.7l2.5-4.4 2.5 4.4zM202.4 1140.7l2.5-4.4 2.5 4.4zM202.7 1145.4l2.5-4.4 2.5 4.4zM202.1 1149.6l2.5-4.4 2.5 4.4zM296.1 1045.8l2.5-4.4 2.5 4.4zM295.5 1051.3l2.5-4.4 2.5 4.4zM297.0 1056.4l2.5-4.4 2.5 4.4zM295.6 1059.6l2.5-4.4 2.5 4.4zM295.8 1065.2l2.5-4.4 2.5 4.4zM295.9 1070.9l2.5-4.4 2.5 4.4zM296.0 1074.1l2.5-4.4 2.5 4.4zM295.7 1079.7l2.5-4.4 2.5 4.4zM295.2 1086.1l2.5-4.4 2.5 4.4zM295.6 1091.1l2.5-4.4 2.5 4.4zM295.7 1094.2l2.5-4.4 2.5 4.4zM296.5 1099.0l2.5-4.4 2.5 4.4zM296.1 1104.3l2.5-4.4 2.5 4.4zM296.1 1109.7l2.5-4.4 2.5 4.4zM295.9 1113.9l2.5-4.4 2.5 4.4zM296.1 1118.0l2.5-4.4 2.5 4.4zM295.1 1121.5l2.5-4.4 2.5 4.4zM295.7 1126.6l2.5-4.4 2.5 4.4zM296.0 1130.8l2.5-4.4 2.5 4.4zM296.2 1136.6l2.5-4.4 2.5 4.4zM295.7 1141.4l2.5-4.4 2.5 4.4zM295.4 1145.7l2.5-4.4 2.5 4.4zM295.4 1150.7l2.5-4.4 2.5 4.4zM295.4 1153.7l2.5-4.4 2.5 4.4zM296.1 1157.2l2.5-4.4 2.5 4.4zM352.5 1093.6l2.5-4.4 2.5 4.4zM352.4 1099.1l2.5-4.4 2.5 4.4zM352.3 1104.3l2.5-4.4 2.5 4.4zM353.6 1109.8l2.5-4.4 2.5 4.4zM352.8 1114.0l2.5-4.4 2.5 4.4zM352.7 1119.8l2.5-4.4 2.5 4.4zM353.1 1124.4l2.5-4.4 2.5 4.4zM352.4 1129.1l2.5-4.4 2.5 4.4zM352.6 1133.1l2.5-4.4 2.5 4.4zM352.7 1139.3l2.5-4.4 2.5 4.4zM352.8 1143.5l2.5-4.4 2.5 4.4zM352.9 1147.2l2.5-4.4 2.5 4.4zM352.7 1151.2l2.5-4.4 2.5 4.4zM352.6 1157.0l2.5-4.4 2.5 4.4zM370.0 1146.2l2.5-4.4 2.5 4.4zM369.6 1151.7l2.5-4.4 2.5 4.4zM370.5 1157.7l2.5-4.4 2.5 4.4zM435.5 1145.4l2.5-4.4 2.5 4.4zM435.2 1150.9l2.5-4.4 2.5 4.4zM435.0 1155.9l2.5-4.4 2.5 4.4zM435.7 1162.2l2.5-4.4 2.5 4.4z" fill="none" stroke="#1c97ff" stroke-width="1.1" stroke-linejoin="round"/>
<polyline points="59.8,1120.9 60.1,1121.1 60.5,1121.2 60.8,1121.4 61.2,1121.6 61.5,1121.8 61.9,1122.0 62.2,1122.2 62.6,1122.4 62.9,1122.7 63.2,1122.9 63.6,1123.1 63.9,1123.3 64.3,1123.5 64.6,1123.7 65.0,1124.0 65.3,1124.2 65.6,1124.4 66.0,1124.6 66.3,1124.8 66.7,1125.0 67.0,1125.1 67.4,1125.3 67.7,1125.5 68.1,1125.6 68.4,1125.8 68.7,1125.9 69.1,1126.0 69.4,1126.1 69.8,1126.2 70.1,1126.3 70.5,1126.3 70.8,1126.4 71.2,1126.4 71.5,1126.4 71.8,1126.4 72.2,1126.4 72.5,1126.3 72.9,1126.3 73.2,1126.3 73.6,1126.2 73.9,1126.2 74.2,1126.1 74.6,1126.0 74.9,1126.0 75.3,1125.9 75.6,1125.8 76.0,1125.7 76.3,1125.7 76.7,1125.6 77.0,1125.5 77.3,1125.4 77.7,1125.3 78.0,1125.2 78.4,1125.0 78.7,1124.9 79.1,1124.8 79.4,1124.7 79.8,1124.6 80.1,1124.4 80.4,1124.3 80.8,1124.2 81.1,1124.0 81.5,1123.9 81.8,1123.8 82.2,1123.6 82.5,1123.5 82.8,1123.3 83.2,1123.2 83.5,1123.0 83.9,1122.9 84.2,1122.7 84.6,1122.6 84.9,1122.4 85.3,1122.3 85.6,1122.1 85.9,1122.0 86.3,1121.8 86.6,1121.7 87.0,1121.6 87.3,1121.4 87.7,1121.3 88.0,1121.1 88.4,1121.0 88.7,1120.8 89.0,1120.7 89.4,1120.5 89.7,1120.4 90.1,1120.3 90.4,1120.1 90.8,1120.0 91.1,1119.9 91.4,1119.7 91.8,1119.6 92.1,1119.4 92.5,1119.3 92.8,1119.1 93.2,1119.0 93.5,1118.8 93.9,1118.6 94.2,1118.5 94.5,1118.3 94.9,1118.1 95.2,1118.0 95.6,1117.8 95.9,1117.6 96.3,1117.4 96.6,1117.2 97.0,1117.1 97.3,1116.9 97.6,1116.7 98.0,1116.5 98.3,1116.3 98.7,1116.1 99.0,1115.9 99.4,1115.7 99.7,1115.6 100.0,1115.4 100.4,1115.2 100.7,1115.0 101.1,1114.8 101.4,1114.6 101.8,1114.4 102.1,1114.2 102.5,1114.1 102.8,1113.9 103.1,1113.7 103.5,1113.5 103.8,1113.3 104.2,1113.2 104.5,1113.0 104.9,1112.8 105.2,1112.7 105.6,1112.5 105.9,1112.3 106.2,1112.2 106.6,1112.0 106.9,1111.9 107.3,1111.7 107.6,1111.6 108.0,1111.4 108.3,1111.3 108.6,1111.2 109.0,1111.1 109.3,1110.9 109.7,1110.8 110.0,1110.7 110.4,1110.6 110.7,1110.5 111.1,1110.4 111.4,1110.4 111.7,1110.3 112.1,1110.2 112.4,1110.1 112.8,1110.1 113.1,1110.0 113.5,1110.0 113.8,1109.9 114.2,1109.9 114.5,1109.9 114.8,1109.9 115.2,1109.9 115.5,1109.9 115.9,1109.9 116.2,1109.9 116.6,1109.9 116.9,1109.9 117.2,1109.9 117.6,1110.0 117.9,1110.0 118.3,1110.0 118.6,1110.0 119.0,1110.1 119.3,1110.1 119.7,1110.2 120.0,1110.2 120.3,1110.3 120.7,1110.3 121.0,1110.4 121.4,1110.4 121.7,1110.5 122.1,1110.6 122.4,1110.7 122.8,1110.7 123.1,1110.8 123.4,1110.9 123.8,1111.0 124.1,1111.1 124.5,1111.2 124.8,1111.2 125.2,1111.3 125.5,1111.4 125.8,1111.5 126.2,1111.6 126.5,1111.8 126.9,1111.9 127.2,1112.0 127.6,1112.1 127.9,1112.2 128.3,1112.3 128.6,1112.4 128.9,1112.6 129.3,1112.7 129.6,1112.8 130.0,1112.9 130.3,1113.1 130.7,1113.2 131.0,1113.3 131.4,1113.5 131.7,1113.6 132.0,1113.7 132.4,1113.9 132.7,1114.0 133.1,1114.2 133.4,1114.3 133.8,1114.5 134.1,1114.6 134.4,1114.8 134.8,1114.9 135.1,1115.1 135.5,1115.2 135.8,1115.4 136.2,1115.5 136.5,1115.7 136.9,1115.8 137.2,1116.0 137.5,1116.1 137.9,1116.3 138.2,1116.4 138.6,1116.6 138.9,1116.8 139.3,1116.9 139.6,1117.1 140.0,1117.2 140.3,1117.4 140.6,1117.5 141.0,1117.7 141.3,1117.9 141.7,1118.0 142.0,1118.2 142.4,1118.3 142.7,1118.5 143.0,1118.7 143.4,1118.8 143.7,1119.0 144.1,1119.1 144.4,1119.3 144.8,1119.5 145.1,1119.7 145.5,1119.8 145.8,1120.0 146.1,1120.2 146.5,1120.4 146.8,1120.5 147.2,1120.7 147.5,1120.9 147.9,1121.1 148.2,1121.3 148.6,1121.5 148.9,1121.7 149.2,1121.9 149.6,1122.0 149.9,1122.2 150.3,1122.4 150.6,1122.6 151.0,1122.8 151.3,1123.0 151.6,1123.2 152.0,1123.5 152.3,1123.7 152.7,1123.9 153.0,1124.1 153.4,1124.3 153.7,1124.5 154.1,1124.7 154.4,1124.9 154.7,1125.1 155.1,1125.3 155.4,1125.6 155.8,1125.8 156.1,1126.0 156.5,1126.2 156.8,1126.4 157.2,1126.6 157.5,1126.9 157.8,1127.1 158.2,1127.3 158.5,1127.5 158.9,1127.7 159.2,1128.0 159.6,1128.2 159.9,1128.4 160.2,1128.6 160.6,1128.8 160.9,1129.0 161.3,1129.3 161.6,1129.5 162.0,1129.7 162.3,1129.9 162.7,1130.1 163.0,1130.3 163.3,1130.6 163.7,1130.8 164.0,1131.0 164.4,1131.2 164.7,1131.4 165.1,1131.6 165.4,1131.8 165.8,1132.0 166.1,1132.2 166.4,1132.4 166.8,1132.6 167.1,1132.8 167.5,1132.9 167.8,1133.1 168.2,1133.3 168.5,1133.4 168.8,1133.6 169.2,1133.7 169.5,1133.8 169.9,1133.9 170.2,1134.0 170.6,1134.0 170.9,1134.0 171.3,1134.0 171.5,1133.9 171.6,1133.9 171.6,1133.9 171.7,1133.8 171.7,1133.8 171.8,1133.8 171.9,1133.7 171.9,1133.7 171.9,1133.7 172.0,1133.6 172.1,1133.6 172.2,1133.5 172.2,1133.4 172.3,1133.3 172.3,1133.3 172.4,1133.3 172.4,1133.2 172.5,1133.1 172.6,1132.9 172.6,1132.8 172.6,1132.8 172.7,1132.7 172.8,1132.6 172.8,1132.4 172.9,1132.2 173.0,1132.0 173.0,1132.0 173.0,1131.8 173.1,1131.6 173.2,1131.4 173.3,1131.1 173.3,1130.8 173.3,1130.8 173.4,1130.5 173.5,1130.1 173.5,1129.7 173.6,1129.2 173.7,1128.7 173.7,1128.7 173.7,1128.1 173.8,1127.4 173.9,1126.5 173.9,1125.6 174.0,1124.4 174.0,1124.4 174.1,1123.0 174.1,1121.3 174.2,1119.3 174.3,1117.0 174.4,1114.1 174.4,1114.1 174.4,1110.8 174.5,1106.9 174.6,1102.3 174.6,1097.0 174.7,1091.0 174.7,1091.0 174.8,1084.1 174.8,1076.5 174.9,1068.2 175.0,1059.1 175.0,1049.5 175.0,1049.5 175.1,1039.3 175.2,1029.0 175.2,1018.6 175.3,1008.7 175.4,999.6 175.4,999.6 175.5,991.7 175.5,985.6 175.6,981.8 175.7,980.5 175.7,981.9 175.7,981.9 175.8,985.8 175.9,992.0 175.9,999.9 176.0,1009.1 176.1,1019.1 176.1,1019.1 176.1,1029.5 176.2,1040.0 176.3,1050.2 176.3,1059.9 176.4,1069.1 176.4,1069.1 176.5,1077.5 176.6,1085.2 176.6,1092.1 176.7,1098.2 176.8,1103.6 176.8,1103.6 176.8,1108.3 176.9,1112.3 177.0,1115.7 177.0,1118.6 177.1,1121.1 177.1,1121.1 177.2,1123.1 177.2,1124.9 177.3,1126.4 177.4,1127.6 177.4,1128.7 177.4,1128.7 177.5,1129.6 177.6,1130.4 177.7,1131.1 177.7,1131.7 177.8,1132.2 177.8,1132.2 177.9,1132.7 177.9,1133.2 178.0,1133.6 178.1,1134.0 178.1,1134.3 178.1,1134.3 178.2,1134.6 178.3,1134.9 178.3,1135.2 178.4,1135.5 178.5,1135.7 178.5,1135.7 178.5,1136.0 178.6,1136.2 178.7,1136.4 178.8,1136.6 178.8,1136.8 178.8,1136.8 178.9,1137.0 179.0,1137.2 179.0,1137.3 179.1,1137.5 179.2,1137.6 179.2,1137.6 179.2,1137.8 179.3,1137.9 179.4,1138.1 179.4,1138.2 179.5,1138.3 179.5,1138.3 179.6,1138.4 179.6,1138.6 179.7,1138.7 179.8,1138.8 179.9,1138.9 180.2,1139.4 180.5,1139.8 180.9,1140.2 181.2,1140.5 181.6,1140.9 181.9,1141.2 182.3,1141.4 182.6,1141.7 183.0,1141.9 183.3,1142.2 183.6,1142.4 184.0,1142.6 184.3,1142.8 184.7,1143.0 185.0,1143.2 185.4,1143.4 185.7,1143.6 186.0,1143.8 186.4,1144.0 186.7,1144.2 187.1,1144.4 187.4,1144.6 187.8,1144.8 188.1,1144.9 188.5,1145.1 188.8,1145.3 189.1,1145.5 189.5,1145.7 189.8,1145.8 190.2,1146.0 190.5,1146.2 190.9,1146.4 191.2,1146.6 191.6,1146.7 191.9,1146.9 192.2,1147.1 192.6,1147.2 192.9,1147.4 193.3,1147.6 193.6,1147.7 194.0,1147.9 194.3,1148.1 194.6,1148.2 195.0,1148.4 195.3,1148.5 195.7,1148.7 196.0,1148.8 196.4,1149.0 196.7,1149.1 197.1,1149.3 197.4,1149.4 197.7,1149.5 198.1,1149.7 198.4,1149.8 198.8,1149.9 199.1,1150.0 199.5,1150.1 199.8,1150.2 200.2,1150.3 200.5,1150.4 200.8,1150.4 201.2,1150.5 201.2,1150.5 201.3,1150.5 201.3,1150.5 201.4,1150.5 201.5,1150.5 201.5,1150.5 201.5,1150.5 201.6,1150.5 201.7,1150.5 201.7,1150.5 201.8,1150.4 201.9,1150.4 201.9,1150.4 201.9,1150.4 202.0,1150.4 202.1,1150.4 202.1,1150.4 202.2,1150.4 202.2,1150.4 202.3,1150.3 202.4,1150.3 202.4,1150.3 202.5,1150.2 202.6,1150.2 202.6,1150.2 202.6,1150.1 202.7,1150.1 202.8,1150.0 202.8,1150.0 202.9,1149.9 202.9,1149.9 203.0,1149.8 203.0,1149.7 203.1,1149.6 203.2,1149.5 203.2,1149.3 203.2,1149.3 203.3,1149.2 203.4,1149.0 203.5,1148.7 203.5,1148.5 203.6,1148.1 203.6,1148.1 203.7,1147.7 203.7,1147.3 203.8,1146.8 203.9,1146.1 203.9,1145.4 203.9,1145.4 204.0,1144.5 204.1,1143.5 204.1,1142.4 204.2,1141.1 204.3,1139.6 204.3,1139.6 204.3,1138.0 204.4,1136.3 204.5,1134.3 204.6,1132.2 204.6,1130.0 204.6,1130.0 204.7,1127.7 204.8,1125.4 204.8,1123.0 204.9,1120.7 205.0,1118.5 205.0,1118.5 205.0,1116.5 205.1,1114.8 205.2,1113.5 205.2,1112.7 205.3,1112.5 205.3,1112.5 205.4,1112.8 205.4,1113.6 205.5,1114.9 205.6,1116.6 205.7,1118.7 205.7,1118.7 205.7,1120.9 205.8,1123.3 205.9,1125.7 205.9,1128.1 206.0,1130.4 206.0,1130.4 206.1,1132.7 206.1,1134.8 206.2,1136.8 206.3,1138.6 206.3,1140.2 206.3,1140.2 206.4,1141.7 206.5,1143.1 206.6,1144.2 206.6,1145.3 206.7,1146.2 206.7,1146.2 206.8,1147.0 206.8,1147.6 206.9,1148.2 207.0,1148.7 207.0,1149.1 207.0,1149.1 207.1,1149.5 207.2,1149.8 207.2,1150.1 207.3,1150.3 207.4,1150.5 207.4,1150.5 207.4,1150.7 207.5,1150.9 207.6,1151.0 207.7,1151.2 207.7,1151.3 207.7,1151.3 207.8,1151.4 207.9,1151.5 207.9,1151.6 208.0,1151.7 208.1,1151.8 208.1,1151.8 208.1,1151.9 208.2,1151.9 208.3,1152.0 208.3,1152.1 208.4,1152.2 208.4,1152.2 208.5,1152.2 208.5,1152.3 208.6,1152.3 208.7,1152.4 208.8,1152.4 208.8,1152.4 208.8,1152.5 208.9,1152.5 209.0,1152.6 209.0,1152.6 209.1,1152.7 209.1,1152.7 209.2,1152.7 209.2,1152.8 209.3,1152.8 209.4,1152.8 209.4,1152.9 209.4,1152.9 209.8,1153.0 210.1,1153.2 210.5,1153.3 210.8,1153.5 211.2,1153.6 211.5,1153.7 211.8,1153.8 212.2,1153.9 212.5,1154.0 212.9,1154.0 213.2,1154.1 213.6,1154.2 213.9,1154.3 214.3,1154.3 214.6,1154.4 214.9,1154.5 215.3,1154.5 215.6,1154.6 216.0,1154.7 216.3,1154.7 216.7,1154.8 217.0,1154.8 217.4,1154.9 217.7,1155.0 218.0,1155.0 218.4,1155.1 218.7,1155.1 219.1,1155.2 219.4,1155.2 219.8,1155.3 220.1,1155.3 220.4,1155.3 220.8,1155.4 221.1,1155.4 221.5,1155.5 221.8,1155.5 222.2,1155.6 222.5,1155.6 222.9,1155.7 223.2,1155.7 223.5,1155.8 223.9,1155.8 224.2,1155.8 224.6,1155.9 224.9,1155.9 225.3,1156.0 225.6,1156.0 226.0,1156.1 226.3,1156.1 226.6,1156.1 227.0,1156.2 227.3,1156.2 227.7,1156.3 228.0,1156.3 228.4,1156.3 228.7,1156.4 229.0,1156.4 229.4,1156.4 229.7,1156.5 230.1,1156.5 230.4,1156.6 230.8,1156.6 231.1,1156.6 231.5,1156.7 231.8,1156.7 232.1,1156.7 232.5,1156.8 232.8,1156.8 233.2,1156.8 233.5,1156.9 233.9,1156.9 234.2,1156.9 234.6,1157.0 234.9,1157.0 235.2,1157.0 235.6,1157.1 235.9,1157.1 236.3,1157.1 236.6,1157.2 237.0,1157.2 237.3,1157.2 237.6,1157.3 238.0,1157.3 238.3,1157.3 238.7,1157.3 239.0,1157.4 239.4,1157.4 239.7,1157.4 240.1,1157.5 240.4,1157.5 240.7,1157.5 241.1,1157.5 241.4,1157.6 241.8,1157.6 242.1,1157.6 242.5,1157.7 242.8,1157.7 243.2,1157.7 243.5,1157.7 243.8,1157.8 244.2,1157.8 244.5,1157.8 244.9,1157.8 245.2,1157.9 245.6,1157.9 245.9,1157.9 246.2,1157.9 246.6,1158.0 246.9,1158.0 247.3,1158.0 247.6,1158.0 248.0,1158.1 248.3,1158.1 248.7,1158.1 249.0,1158.1 249.3,1158.1 249.7,1158.2 250.0,1158.2 250.4,1158.2 250.7,1158.2 251.1,1158.3 251.4,1158.3 251.8,1158.3 252.1,1158.3 252.4,1158.3 252.8,1158.4 253.1,1158.4 253.5,1158.4 253.8,1158.4 254.2,1158.4 254.5,1158.5 254.8,1158.5 255.2,1158.5 255.5,1158.5 255.9,1158.5 256.2,1158.5 256.6,1158.6 256.9,1158.6 257.3,1158.6 257.6,1158.6 257.9,1158.6 258.3,1158.6 258.6,1158.7 259.0,1158.7 259.3,1158.7 259.7,1158.7 260.0,1158.7 260.4,1158.7 260.7,1158.7 261.0,1158.7 261.4,1158.8 261.7,1158.8 262.1,1158.8 262.4,1158.8 262.8,1158.8 263.1,1158.8 263.4,1158.8 263.8,1158.8 264.1,1158.8 264.5,1158.9 264.8,1158.9 265.2,1158.9 265.5,1158.9 265.9,1158.9 266.2,1158.9 266.5,1158.9 266.9,1158.9 267.2,1158.9 267.6,1158.9 267.9,1158.9 268.3,1159.0 268.6,1159.0 269.0,1159.0 269.3,1159.0 269.6,1159.0 270.0,1159.0 270.3,1159.0 270.7,1159.0 271.0,1159.0 271.4,1159.0 271.7,1159.0 272.0,1159.0 272.4,1159.0 272.7,1159.0 273.1,1159.0 273.4,1159.1 273.8,1159.1 274.1,1159.1 274.5,1159.1 274.8,1159.1 275.1,1159.1 275.5,1159.1 275.8,1159.1 276.2,1159.1 276.5,1159.1 276.9,1159.1 277.2,1159.1 277.6,1159.1 277.9,1159.1 278.2,1159.1 278.6,1159.1 278.9,1159.1 279.3,1159.1 279.6,1159.1 280.0,1159.1 280.3,1159.1 280.6,1159.1 281.0,1159.1 281.3,1159.1 281.7,1159.2 282.0,1159.2 282.4,1159.2 282.7,1159.2 283.1,1159.2 283.4,1159.2 283.7,1159.2 284.1,1159.2 284.4,1159.2 284.8,1159.2 285.1,1159.2 285.5,1159.2 285.8,1159.2 286.2,1159.2 286.5,1159.2 286.8,1159.2 287.2,1159.2 287.5,1159.2 287.9,1159.1 288.2,1159.1 288.6,1159.1 288.9,1159.1 289.2,1159.1 289.6,1159.1 289.9,1159.1 290.3,1159.1 290.6,1159.0 291.0,1159.0 291.3,1159.0 291.7,1158.9 292.0,1158.9 292.3,1158.8 292.7,1158.8 293.0,1158.7 293.4,1158.6 293.7,1158.4 294.1,1158.3 294.1,1158.3 294.1,1158.2 294.2,1158.2 294.3,1158.2 294.3,1158.1 294.4,1158.1 294.4,1158.1 294.5,1158.0 294.5,1158.0 294.6,1157.9 294.7,1157.9 294.8,1157.8 294.8,1157.8 294.8,1157.7 294.9,1157.7 295.0,1157.6 295.0,1157.5 295.1,1157.4 295.1,1157.4 295.2,1157.3 295.2,1157.2 295.3,1157.1 295.4,1157.0 295.4,1156.9 295.4,1156.9 295.5,1156.8 295.6,1156.6 295.6,1156.5 295.7,1156.3 295.8,1156.1 295.8,1156.1 295.9,1156.0 295.9,1155.7 296.0,1155.5 296.1,1155.2 296.1,1154.9 296.1,1154.9 296.2,1154.5 296.3,1154.1 296.3,1153.7 296.4,1153.1 296.5,1152.4 296.5,1152.4 296.5,1151.7 296.6,1150.8 296.7,1149.7 296.7,1148.5 296.8,1147.1 296.8,1147.1 296.9,1145.4 297.0,1143.5 297.0,1141.4 297.1,1138.9 297.2,1136.1 297.2,1136.1 297.2,1133.1 297.3,1129.7 297.4,1126.0 297.4,1122.1 297.5,1117.9 297.5,1117.9 297.6,1113.6 297.6,1109.1 297.7,1104.6 297.8,1100.2 297.8,1096.0 297.8,1096.0 297.9,1092.3 298.0,1089.1 298.1,1086.7 298.1,1085.1 298.2,1084.6 298.2,1084.6 298.3,1085.1 298.3,1086.7 298.4,1089.1 298.5,1092.3 298.5,1096.1 298.5,1096.1 298.6,1100.2 298.7,1104.6 298.7,1109.1 298.8,1113.6 298.9,1118.0 298.9,1118.0 298.9,1122.1 299.0,1126.1 299.1,1129.8 299.2,1133.1 299.2,1136.2 299.2,1136.2 299.3,1139.0 299.4,1141.4 299.4,1143.6 299.5,1145.5 299.6,1147.2 299.6,1147.2 299.6,1148.6 299.7,1149.8 299.8,1150.9 299.8,1151.8 299.9,1152.5 299.9,1152.5 300.0,1153.2 300.0,1153.8 300.1,1154.2 300.2,1154.7 300.3,1155.0 300.3,1155.0 300.3,1155.3 300.4,1155.6 300.5,1155.9 300.5,1156.1 300.6,1156.3 300.6,1156.3 300.7,1156.5 300.7,1156.6 300.8,1156.8 300.9,1156.9 300.9,1157.1 300.9,1157.1 301.0,1157.2 301.1,1157.3 301.2,1157.4 301.2,1157.5 301.3,1157.6 301.3,1157.6 301.4,1157.7 301.4,1157.8 301.5,1157.8 301.6,1157.9 301.6,1158.0 301.6,1158.0 301.7,1158.1 301.8,1158.1 301.8,1158.2 301.9,1158.2 302.0,1158.3 302.0,1158.3 302.0,1158.3 302.1,1158.4 302.2,1158.4 302.3,1158.5 302.3,1158.5 302.3,1158.5 302.7,1158.7 303.0,1158.9 303.4,1159.0 303.7,1159.1 304.0,1159.2 304.4,1159.3 304.7,1159.3 305.1,1159.4 305.4,1159.4 305.8,1159.5 306.1,1159.5 306.4,1159.5 306.8,1159.6 307.1,1159.6 307.5,1159.6 307.8,1159.7 308.2,1159.7 308.5,1159.7 308.9,1159.7 309.2,1159.8 309.5,1159.8 309.9,1159.8 310.2,1159.8 310.6,1159.8 310.9,1159.9 311.3,1159.9 311.6,1159.9 312.0,1159.9 312.3,1159.9 312.6,1159.9 313.0,1160.0 313.3,1160.0 313.7,1160.0 314.0,1160.0 314.4,1160.0 314.7,1160.0 315.0,1160.0 315.4,1160.1 315.7,1160.1 316.1,1160.1 316.4,1160.1 316.8,1160.1 317.1,1160.1 317.5,1160.1 317.8,1160.1 318.1,1160.1 318.5,1160.2 318.8,1160.2 319.2,1160.2 319.5,1160.2 319.9,1160.2 320.2,1160.2 320.6,1160.2 320.9,1160.2 321.2,1160.3 321.6,1160.3 321.9,1160.3 322.3,1160.3 322.6,1160.3 323.0,1160.3 323.3,1160.3 323.6,1160.3 324.0,1160.3 324.3,1160.4 324.7,1160.4 325.0,1160.4 325.4,1160.4 325.7,1160.4 326.1,1160.4 326.4,1160.4 326.7,1160.4 327.1,1160.4 327.4,1160.5 327.8,1160.5 328.1,1160.5 328.5,1160.5 328.8,1160.5 329.2,1160.5 329.5,1160.5 329.8,1160.5 330.2,1160.5 330.5,1160.5 330.9,1160.6 331.2,1160.6 331.6,1160.6 331.9,1160.6 332.2,1160.6 332.6,1160.6 332.9,1160.6 333.3,1160.6 333.6,1160.6 334.0,1160.6 334.3,1160.7 334.7,1160.7 335.0,1160.7 335.3,1160.7 335.7,1160.7 336.0,1160.7 336.4,1160.7 336.7,1160.7 337.1,1160.7 337.4,1160.7 337.8,1160.8 338.1,1160.8 338.4,1160.8 338.8,1160.8 339.1,1160.8 339.5,1160.8 339.8,1160.8 340.2,1160.8 340.5,1160.8 340.8,1160.8 341.2,1160.8 341.5,1160.9 341.9,1160.9 342.2,1160.9 342.6,1160.9 342.9,1160.9 343.3,1160.9 343.6,1160.9 343.9,1160.9 344.3,1160.9 344.6,1160.9 345.0,1160.9 345.3,1160.9 345.7,1160.9 346.0,1160.9 346.4,1160.9 346.7,1160.9 347.0,1160.9 347.4,1160.9 347.7,1160.9 348.1,1160.9 348.4,1160.9 348.8,1160.9 349.1,1160.8 349.4,1160.8 349.8,1160.8 350.1,1160.7 350.5,1160.7 350.8,1160.6 351.2,1160.5 351.2,1160.5 351.2,1160.5 351.3,1160.4 351.4,1160.4 351.4,1160.4 351.5,1160.4 351.5,1160.4 351.6,1160.3 351.6,1160.3 351.7,1160.3 351.8,1160.2 351.9,1160.2 351.9,1160.2 351.9,1160.1 352.0,1160.1 352.1,1160.1 352.1,1160.0 352.2,1160.0 352.2,1160.0 352.3,1159.9 352.3,1159.8 352.4,1159.8 352.5,1159.7 352.5,1159.6 352.5,1159.6 352.6,1159.6 352.7,1159.5 352.8,1159.4 352.8,1159.3 352.9,1159.2 352.9,1159.2 353.0,1159.1 353.0,1158.9 353.1,1158.8 353.2,1158.6 353.2,1158.4 353.2,1158.4 353.3,1158.2 353.4,1157.9 353.4,1157.6 353.5,1157.3 353.6,1156.9 353.6,1156.9 353.6,1156.4 353.7,1155.8 353.8,1155.2 353.9,1154.4 353.9,1153.5 353.9,1153.5 354.0,1152.5 354.1,1151.3 354.1,1149.9 354.2,1148.4 354.3,1146.7 354.3,1146.7 354.3,1144.7 354.4,1142.6 354.5,1140.3 354.5,1137.9 354.6,1135.2 354.6,1135.2 354.7,1132.5 354.7,1129.7 354.8,1126.9 354.9,1124.1 355.0,1121.5 355.0,1121.5 355.0,1119.2 355.1,1117.2 355.2,1115.7 355.2,1114.7 355.3,1114.4 355.3,1114.4 355.4,1114.7 355.4,1115.7 355.5,1117.2 355.6,1119.2 355.6,1121.6 355.6,1121.6 355.7,1124.2 355.8,1126.9 355.8,1129.8 355.9,1132.6 356.0,1135.3 356.0,1135.3 356.1,1137.9 356.1,1140.4 356.2,1142.7 356.3,1144.8 356.3,1146.7 356.3,1146.7 356.4,1148.5 356.5,1150.0 356.5,1151.4 356.6,1152.6 356.7,1153.6 356.7,1153.6 356.7,1154.5 356.8,1155.3 356.9,1155.9 356.9,1156.5 357.0,1157.0 357.0,1157.0 357.1,1157.4 357.2,1157.8 357.2,1158.1 357.3,1158.3 357.4,1158.5 357.4,1158.5 357.4,1158.7 357.5,1158.9 357.6,1159.1 357.6,1159.2 357.7,1159.3 357.7,1159.3 357.8,1159.5 357.8,1159.6 357.9,1159.7 358.0,1159.8 358.0,1159.8 358.0,1159.8 358.1,1159.9 358.2,1160.0 358.3,1160.1 358.3,1160.1 358.4,1160.2 358.4,1160.2 358.5,1160.2 358.5,1160.3 358.6,1160.3 358.7,1160.4 358.7,1160.4 358.7,1160.4 358.8,1160.5 358.9,1160.5 358.9,1160.6 359.0,1160.6 359.1,1160.6 359.1,1160.6 359.1,1160.7 359.2,1160.7 359.3,1160.7 359.4,1160.7 359.4,1160.8 359.4,1160.8 359.8,1160.9 360.1,1161.0 360.5,1161.1 360.8,1161.2 361.1,1161.2 361.5,1161.3 361.8,1161.3 362.2,1161.4 362.5,1161.4 362.9,1161.4 363.2,1161.5 363.6,1161.5 363.9,1161.5 364.2,1161.5 364.6,1161.6 364.9,1161.6 365.3,1161.6 365.6,1161.6 366.0,1161.6 366.3,1161.6 366.6,1161.7 367.0,1161.7 367.3,1161.7 367.7,1161.7 368.0,1161.7 368.4,1161.7 368.7,1161.7 368.7,1161.7 368.8,1161.7 368.8,1161.7 368.9,1161.7 369.0,1161.7 369.1,1161.7 369.1,1161.7 369.1,1161.6 369.2,1161.6 369.3,1161.6 369.3,1161.6 369.4,1161.6 369.4,1161.6 369.5,1161.6 369.5,1161.6 369.6,1161.6 369.7,1161.6 369.7,1161.6 369.7,1161.6 369.8,1161.6 369.9,1161.6 370.0,1161.6 370.0,1161.5 370.1,1161.5 370.1,1161.5 370.2,1161.5 370.2,1161.5 370.3,1161.5 370.4,1161.4 370.4,1161.4 370.4,1161.4 370.5,1161.4 370.6,1161.3 370.6,1161.3 370.7,1161.3 370.8,1161.2 370.8,1161.2 370.8,1161.2 370.9,1161.1 371.0,1161.0 371.1,1160.9 371.1,1160.8 371.1,1160.8 371.2,1160.7 371.3,1160.5 371.3,1160.4 371.4,1160.2 371.5,1160.0 371.5,1160.0 371.5,1159.7 371.6,1159.5 371.7,1159.2 371.7,1158.9 371.8,1158.5 371.8,1158.5 371.9,1158.1 371.9,1157.7 372.0,1157.3 372.1,1156.9 372.2,1156.4 372.2,1156.4 372.2,1155.9 372.3,1155.5 372.4,1155.0 372.4,1154.5 372.5,1154.1 372.5,1154.1 372.6,1153.8 372.6,1153.5 372.7,1153.2 372.8,1153.1 372.8,1153.1 372.8,1153.1 372.9,1153.1 373.0,1153.3 373.0,1153.5 373.1,1153.8 373.2,1154.2 373.2,1154.2 373.3,1154.6 373.3,1155.0 373.4,1155.5 373.5,1156.0 373.5,1156.5 373.5,1156.5 373.6,1156.9 373.7,1157.4 373.7,1157.8 373.8,1158.2 373.9,1158.6 373.9,1158.6 373.9,1159.0 374.0,1159.3 374.1,1159.6 374.1,1159.9 374.2,1160.1 374.2,1160.1 374.3,1160.3 374.4,1160.5 374.4,1160.7 374.5,1160.8 374.6,1161.0 374.6,1161.0 374.6,1161.1 374.7,1161.2 374.8,1161.3 374.8,1161.3 374.9,1161.4 374.9,1161.4 375.0,1161.5 375.0,1161.5 375.1,1161.6 375.2,1161.6 375.2,1161.6 375.2,1161.6 375.3,1161.7 375.4,1161.7 375.5,1161.7 375.5,1161.8 375.6,1161.8 375.6,1161.8 375.7,1161.8 375.7,1161.8 375.8,1161.8 375.9,1161.9 375.9,1161.9 375.9,1161.9 376.0,1161.9 376.1,1161.9 376.1,1161.9 376.2,1161.9 376.3,1162.0 376.3,1162.0 376.3,1162.0 376.4,1162.0 376.5,1162.0 376.6,1162.0 376.6,1162.0 376.6,1162.0 376.7,1162.0 376.8,1162.0 376.8,1162.0 376.9,1162.1 377.0,1162.1 377.0,1162.1 377.3,1162.1 377.7,1162.1 378.0,1162.2 378.3,1162.2 378.7,1162.2 379.0,1162.3 379.4,1162.3 379.7,1162.3 380.1,1162.3 380.4,1162.3 380.8,1162.4 381.1,1162.4 381.4,1162.4 381.8,1162.4 382.1,1162.4 382.5,1162.5 382.8,1162.5 383.2,1162.5 383.5,1162.5 383.8,1162.5 384.2,1162.5 384.5,1162.5 384.9,1162.6 385.2,1162.6 385.6,1162.6 385.9,1162.6 386.3,1162.6 386.6,1162.6 386.9,1162.7 387.3,1162.7 387.6,1162.7 388.0,1162.7 388.3,1162.7 388.7,1162.7 389.0,1162.7 389.4,1162.8 389.7,1162.8 390.0,1162.8 390.4,1162.8 390.7,1162.8 391.1,1162.8 391.4,1162.8 391.8,1162.9 392.1,1162.9 392.4,1162.9 392.8,1162.9 393.1,1162.9 393.5,1162.9 393.8,1162.9 394.2,1163.0 394.5,1163.0 394.9,1163.0 395.2,1163.0 395.5,1163.0 395.9,1163.0 396.2,1163.0 396.6,1163.0 396.9,1163.1 397.3,1163.1 397.6,1163.1 398.0,1163.1 398.3,1163.1 398.6,1163.1 399.0,1163.1 399.3,1163.1 399.7,1163.1 400.0,1163.2 400.4,1163.2 400.7,1163.2 401.0,1163.2 401.4,1163.2 401.7,1163.2 402.1,1163.2 402.4,1163.2 402.8,1163.3 403.1,1163.3 403.5,1163.3 403.8,1163.3 404.1,1163.3 404.5,1163.3 404.8,1163.3 405.2,1163.3 405.5,1163.3 405.9,1163.3 406.2,1163.4 406.6,1163.4 406.9,1163.4 407.2,1163.4 407.6,1163.4 407.9,1163.4 408.3,1163.4 408.6,1163.4 409.0,1163.4 409.3,1163.4 409.6,1163.5 410.0,1163.5 410.3,1163.5 410.7,1163.5 411.0,1163.5 411.4,1163.5 411.7,1163.5 412.1,1163.5 412.4,1163.5 412.7,1163.5 413.1,1163.6 413.4,1163.6 413.8,1163.6 414.1,1163.6 414.5,1163.6 414.8,1163.6 415.2,1163.6 415.5,1163.6 415.8,1163.6 416.2,1163.6 416.5,1163.6 416.9,1163.7 417.2,1163.7 417.6,1163.7 417.9,1163.7 418.2,1163.7 418.6,1163.7 418.9,1163.7 419.3,1163.7 419.6,1163.7 420.0,1163.7 420.3,1163.7 420.7,1163.8 421.0,1163.8 421.3,1163.8 421.7,1163.8 422.0,1163.8 422.4,1163.8 422.7,1163.8 423.1,1163.8 423.4,1163.8 423.8,1163.8 424.1,1163.8 424.4,1163.8 424.8,1163.9 425.1,1163.9 425.5,1163.9 425.8,1163.9 426.2,1163.9 426.5,1163.9 426.8,1163.9 427.2,1163.9 427.5,1163.9 427.9,1163.9 428.2,1163.9 428.6,1163.9 428.9,1163.9 429.3,1163.9 429.6,1163.9 429.9,1163.9 430.3,1163.9 430.6,1163.9 431.0,1163.9 431.3,1163.9 431.7,1163.9 432.0,1163.9 432.4,1163.9 432.7,1163.9 433.0,1163.9 433.4,1163.9 433.7,1163.9 433.7,1163.9 433.8,1163.9 433.9,1163.9 433.9,1163.9 434.0,1163.9 434.1,1163.9 434.1,1163.9 434.1,1163.8 434.2,1163.8 434.3,1163.8 434.3,1163.8 434.4,1163.8 434.4,1163.8 434.5,1163.8 434.6,1163.8 434.6,1163.8 434.7,1163.8 434.8,1163.8 434.8,1163.8 434.8,1163.7 434.9,1163.7 435.0,1163.7 435.0,1163.7 435.1,1163.7 435.1,1163.7 435.2,1163.7 435.2,1163.6 435.3,1163.6 435.4,1163.6 435.4,1163.5 435.4,1163.5 435.5,1163.5 435.6,1163.5 435.7,1163.4 435.7,1163.4 435.8,1163.3 435.8,1163.3 435.9,1163.2 435.9,1163.2 436.0,1163.1 436.1,1163.0 436.1,1162.8 436.1,1162.8 436.2,1162.7 436.3,1162.5 436.3,1162.3 436.4,1162.1 436.5,1161.9 436.5,1161.9 436.5,1161.6 436.6,1161.3 436.7,1161.0 436.8,1160.7 436.8,1160.3 436.8,1160.3 436.9,1159.9 437.0,1159.4 437.0,1158.9 437.1,1158.4 437.2,1157.9 437.2,1157.9 437.2,1157.4 437.3,1156.9 437.4,1156.3 437.4,1155.9 437.5,1155.4 437.5,1155.4 437.6,1155.0 437.6,1154.7 437.7,1154.4 437.8,1154.2 437.9,1154.2 437.9,1154.2 437.9,1154.2 438.0,1154.4 438.1,1154.7 438.1,1155.0 438.2,1155.4 438.2,1155.4 438.3,1155.9 438.3,1156.4 438.4,1156.9 438.5,1157.4 438.5,1157.9 438.5,1157.9 438.6,1158.5 438.7,1159.0 438.8,1159.4 438.8,1159.9 438.9,1160.3 438.9,1160.3 439.0,1160.7 439.0,1161.1 439.1,1161.4 439.2,1161.7 439.2,1162.0 439.2,1162.0 439.3,1162.2 439.4,1162.4 439.4,1162.6 439.5,1162.8 439.6,1162.9 439.6,1162.9 439.6,1163.0 439.7,1163.2 439.8,1163.2 439.9,1163.3 439.9,1163.4 439.9,1163.4 440.0,1163.5 440.1,1163.5 440.1,1163.6 440.2,1163.6 440.3,1163.7 440.3,1163.7 440.3,1163.7 440.4,1163.7 440.5,1163.8 440.5,1163.8 440.6,1163.8 440.6,1163.8 440.7,1163.8 440.7,1163.8 440.8,1163.9 440.9,1163.9 441.0,1163.9 441.0,1163.9 441.0,1163.9 441.1,1163.9 441.2,1163.9 441.2,1164.0 441.3,1164.0 441.3,1164.0 441.4,1164.0 441.4,1164.0 441.5,1164.0 441.6,1164.0 441.6,1164.0 441.6,1164.0 441.7,1164.0 441.8,1164.1 441.8,1164.1 441.9,1164.1 442.0,1164.1 442.3,1164.1 442.7,1164.1 443.0,1164.2 443.4,1164.2 443.7,1164.2 444.0,1164.2 444.4,1164.3 444.7,1164.3 445.1,1164.3 445.4,1164.3 445.8,1164.3 446.1,1164.3 446.5,1164.3 446.8,1164.3 447.1,1164.4 447.5,1164.4 447.8,1164.4 448.2,1164.4 448.5,1164.4 448.9,1164.4 449.2,1164.4 449.6,1164.4 449.9,1164.4 450.2,1164.4 450.6,1164.5 450.9,1164.5 451.3,1164.5 451.6,1164.5 452.0,1164.5 452.3,1164.5 452.6,1164.5 453.0,1164.5 453.3,1164.5 453.7,1164.5 454.0,1164.5 454.4,1164.6 454.7,1164.6 455.1,1164.6 455.4,1164.6 455.7,1164.6 456.1,1164.6 456.4,1164.6 456.8,1164.6 457.1,1164.6 457.5,1164.6 457.8,1164.6 458.2,1164.6 458.5,1164.7 458.8,1164.7 459.2,1164.7 459.5,1164.7 459.9,1164.7 460.2,1164.7 460.6,1164.7 460.9,1164.7 461.2,1164.7 461.6,1164.7 461.9,1164.7 462.3,1164.7 462.6,1164.8 463.0,1164.8 463.3,1164.8 463.7,1164.8 464.0,1164.8 464.3,1164.8 464.7,1164.8 465.0,1164.8 465.4,1164.8 465.7,1164.8 466.1,1164.8 466.4,1164.8 466.8,1164.9 467.1,1164.9 467.4,1164.9 467.8,1164.9 468.1,1164.9 468.5,1164.9 468.8,1164.9 469.2,1164.9 469.5,1164.9 469.8,1164.9 470.2,1164.9 470.5,1164.9 470.9,1165.0 471.2,1165.0 471.6,1165.0 471.9,1165.0 472.3,1165.0 472.6,1165.0" fill="none" stroke="#000a96" stroke-width="2.0" stroke-linejoin="round" stroke-linecap="round" />
<path d="M96.9 1170.5V1178.2M142.1 1170.5V1178.2M175.8 1170.5V1178.2M205.7 1170.5V1178.2M231.5 1170.5V1178.2M255.7 1170.5V1178.2M298.8 1170.5V1178.2M318.6 1170.5V1178.2M337.8 1170.5V1178.2M355.5 1170.5V1178.2M373.3 1170.5V1178.2M390.3 1170.5V1178.2M407.3 1170.5V1178.2M439.3 1170.5V1178.2M454.7 1170.5V1178.2M469.1 1170.5V1178.2" stroke="#ffa050" stroke-width="1.6" fill="none"/>
<polyline points="59.8,1221.4 60.5,1221.5 61.2,1221.7 61.9,1221.8 62.6,1222.0 63.2,1222.2 63.9,1222.3 64.6,1222.5 65.3,1222.7 66.0,1222.9 66.7,1223.1 67.4,1223.3 68.1,1223.4 68.7,1223.6 69.4,1223.8 70.1,1224.0 70.8,1224.1 71.5,1224.3 72.2,1224.5 72.9,1224.6 73.6,1224.7 74.2,1224.9 74.9,1225.0 75.6,1225.1 76.3,1225.2 77.0,1225.3 77.7,1225.3 78.4,1225.4 79.1,1225.4 79.8,1225.4 80.4,1225.4 81.1,1225.4 81.8,1225.3 82.5,1225.2 83.2,1225.1 83.9,1225.0 84.6,1224.8 85.3,1224.7 85.9,1224.5 86.6,1224.3 87.3,1224.1 88.0,1223.8 88.7,1223.6 89.4,1223.3 90.1,1223.1 90.8,1222.8 91.4,1222.6 92.1,1222.3 92.8,1222.1 93.5,1221.8 94.2,1221.5 94.9,1221.3 95.6,1221.1 96.3,1220.8 97.0,1220.6 97.6,1220.4 98.3,1220.2 99.0,1220.0 99.7,1219.7 100.4,1219.5 101.1,1219.2 101.8,1219.0 102.5,1218.7 103.1,1218.5 103.8,1218.2 104.5,1217.9 105.2,1217.7 105.9,1217.4 106.6,1217.2 107.3,1216.9 108.0,1216.7 108.6,1216.5 109.3,1216.3 110.0,1216.1 110.7,1215.9 111.4,1215.8 112.1,1215.6 112.8,1215.5 113.5,1215.5 114.2,1215.4 114.8,1215.4 115.5,1215.4 116.2,1215.5 116.9,1215.6 117.6,1215.8 118.3,1216.0 119.0,1216.2 119.7,1216.4 120.3,1216.7 121.0,1217.0 121.7,1217.3 122.4,1217.6 123.1,1217.9 123.8,1218.3 124.5,1218.6 125.2,1218.9 125.8,1219.3 126.5,1219.6 127.2,1219.9 127.9,1220.1 128.6,1220.4 129.3,1220.6 130.0,1220.9 130.7,1221.2 131.4,1221.4 132.0,1221.7 132.7,1222.0 133.4,1222.3 134.1,1222.6 134.8,1222.9 135.5,1223.2 136.2,1223.5 136.9,1223.8 137.5,1224.1 138.2,1224.4 138.9,1224.7 139.6,1225.0 140.3,1225.2 141.0,1225.5 141.7,1225.7 142.4,1226.0 143.0,1226.2 143.7,1226.4 144.4,1226.6 145.1,1226.8 145.8,1226.9 146.5,1227.1 147.2,1227.2 147.9,1227.3 148.6,1227.4 149.2,1227.4 149.9,1227.4 150.6,1227.4 151.3,1227.4 152.0,1227.3 152.7,1227.2 153.4,1227.1 154.1,1226.9 154.7,1226.8 155.4,1226.6 156.1,1226.4 156.8,1226.2 157.5,1226.0 158.2,1225.8 158.9,1225.5 159.6,1225.3 160.2,1225.1 160.9,1224.8 161.6,1224.6 162.3,1224.3 163.0,1224.1 163.7,1223.9 164.4,1223.6 165.1,1223.4 165.8,1223.2 166.4,1223.0 167.1,1222.9 167.8,1222.7 168.5,1222.6 169.2,1222.5 169.9,1222.4 170.6,1222.3 171.3,1222.3 171.9,1222.2 172.6,1222.2 173.3,1222.1 174.0,1222.1 174.7,1222.1 175.4,1222.0 176.1,1222.0 176.8,1222.0 177.4,1222.0 178.1,1222.0" fill="none" stroke="#ff6418" stroke-width="9.0" stroke-linejoin="round" stroke-linecap="round" stroke-opacity="0.55"/>
<polyline points="59.8,1221.4 60.5,1221.5 61.2,1221.7 61.9,1221.8 62.6,1222.0 63.2,1222.2 63.9,1222.3 64.6,1222.5 65.3,1222.7 66.0,1222.9 66.7,1223.1 67.4,1223.3 68.1,1223.4 68.7,1223.6 69.4,1223.8 70.1,1224.0 70.8,1224.1 71.5,1224.3 72.2,1224.5 72.9,1224.6 73.6,1224.7 74.2,1224.9 74.9,1225.0 75.6,1225.1 76.3,1225.2 77.0,1225.3 77.7,1225.3 78.4,1225.4 79.1,1225.4 79.8,1225.4 80.4,1225.4 81.1,1225.4 81.8,1225.3 82.5,1225.2 83.2,1225.1 83.9,1225.0 84.6,1224.8 85.3,1224.7 85.9,1224.5 86.6,1224.3 87.3,1224.1 88.0,1223.8 88.7,1223.6 89.4,1223.3 90.1,1223.1 90.8,1222.8 91.4,1222.6 92.1,1222.3 92.8,1222.1 93.5,1221.8 94.2,1221.5 94.9,1221.3 95.6,1221.1 96.3,1220.8 97.0,1220.6 97.6,1220.4 98.3,1220.2 99.0,1220.0 99.7,1219.7 100.4,1219.5 101.1,1219.2 101.8,1219.0 102.5,1218.7 103.1,1218.5 103.8,1218.2 104.5,1217.9 105.2,1217.7 105.9,1217.4 106.6,1217.2 107.3,1216.9 108.0,1216.7 108.6,1216.5 109.3,1216.3 110.0,1216.1 110.7,1215.9 111.4,1215.8 112.1,1215.6 112.8,1215.5 113.5,1215.5 114.2,1215.4 114.8,1215.4 115.5,1215.4 116.2,1215.5 116.9,1215.6 117.6,1215.8 118.3,1216.0 119.0,1216.2 119.7,1216.4 120.3,1216.7 121.0,1217.0 121.7,1217.3 122.4,1217.6 123.1,1217.9 123.8,1218.3 124.5,1218.6 125.2,1218.9 125.8,1219.3 126.5,1219.6 127.2,1219.9 127.9,1220.1 128.6,1220.4 129.3,1220.6 130.0,1220.9 130.7,1221.2 131.4,1221.4 132.0,1221.7 132.7,1222.0 133.4,1222.3 134.1,1222.6 134.8,1222.9 135.5,1223.2 136.2,1223.5 136.9,1223.8 137.5,1224.1 138.2,1224.4 138.9,1224.7 139.6,1225.0 140.3,1225.2 141.0,1225.5 141.7,1225.7 142.4,1226.0 143.0,1226.2 143.7,1226.4 144.4,1226.6 145.1,1226.8 145.8,1226.9 146.5,1227.1 147.2,1227.2 147.9,1227.3 148.6,1227.4 149.2,1227.4 149.9,1227.4 150.6,1227.4 151.3,1227.4 152.0,1227.3 152.7,1227.2 153.4,1227.1 154.1,1226.9 154.7,1226.8 155.4,1226.6 156.1,1226.4 156.8,1226.2 157.5,1226.0 158.2,1225.8 158.9,1225.5 159.6,1225.3 160.2,1225.1 160.9,1224.8 161.6,1224.6 162.3,1224.3 163.0,1224.1 163.7,1223.9 164.4,1223.6 165.1,1223.4 165.8,1223.2 166.4,1223.0 167.1,1222.9 167.8,1222.7 168.5,1222.6 169.2,1222.5 169.9,1222.4 170.6,1222.3 171.3,1222.3 171.9,1222.2 172.6,1222.2 173.3,1222.1 174.0,1222.1 174.7,1222.1 175.4,1222.0 176.1,1222.0 176.8,1222.0 177.4,1222.0 178.1,1222.0 178.8,1222.0 179.5,1222.0 180.2,1222.0 180.9,1222.0 181.6,1222.0 182.3,1222.0 183.0,1222.0 183.6,1222.0 184.3,1222.1 185.0,1222.1 185.7,1222.1 186.4,1222.1 187.1,1222.1 187.8,1222.2 188.5,1222.2 189.1,1222.2 189.8,1222.2 190.5,1222.3 191.2,1222.3 191.9,1222.3 192.6,1222.3 193.3,1222.3 194.0,1222.4 194.6,1222.4 195.3,1222.4 196.0,1222.4 196.7,1222.4 197.4,1222.4 198.1,1222.4 198.8,1222.4 199.5,1222.4 200.2,1222.4 200.8,1222.4 201.5,1222.4 202.2,1222.4 202.9,1222.4 203.6,1222.4 204.3,1222.4 205.0,1222.4 205.7,1222.4 206.3,1222.4 207.0,1222.4 207.7,1222.4 208.4,1222.4 209.1,1222.4 209.8,1222.4 210.5,1222.4 211.2,1222.4 211.8,1222.4 212.5,1222.4 213.2,1222.4 213.9,1222.4 214.6,1222.4 215.3,1222.4 216.0,1222.4 216.7,1222.4 217.4,1222.4 218.0,1222.4 218.7,1222.4 219.4,1222.4 220.1,1222.4 220.8,1222.4 221.5,1222.4 222.2,1222.4 222.9,1222.4 223.5,1222.4 224.2,1222.4 224.9,1222.4 225.6,1222.4 226.3,1222.4 227.0,1222.4 227.7,1222.4 228.4,1222.4 229.0,1222.4 229.7,1222.4 230.4,1222.4 231.1,1222.4 231.8,1222.4 232.5,1222.4 233.2,1222.4 233.9,1222.4 234.6,1222.4 235.2,1222.4 235.9,1222.4 236.6,1222.4 237.3,1222.4 238.0,1222.4 238.7,1222.4 239.4,1222.4 240.1,1222.4 240.7,1222.4 241.4,1222.4 242.1,1222.4 242.8,1222.4 243.5,1222.4 244.2,1222.4 244.9,1222.4 245.6,1222.4 246.2,1222.4 246.9,1222.4 247.6,1222.4 248.3,1222.4 249.0,1222.4 249.7,1222.4 250.4,1222.4 251.1,1222.4 251.8,1222.4 252.4,1222.4 253.1,1222.4 253.8,1222.4 254.5,1222.4 255.2,1222.4 255.9,1222.4 256.6,1222.4 257.3,1222.4 257.9,1222.4 258.6,1222.4 259.3,1222.4 260.0,1222.4 260.7,1222.4 261.4,1222.4 262.1,1222.4 262.8,1222.4 263.4,1222.4 264.1,1222.4 264.8,1222.4 265.5,1222.4 266.2,1222.4 266.9,1222.4 267.6,1222.4 268.3,1222.4 269.0,1222.4 269.6,1222.4 270.3,1222.4 271.0,1222.4 271.7,1222.4 272.4,1222.4 273.1,1222.4 273.8,1222.4 274.5,1222.4 275.1,1222.4 275.8,1222.4 276.5,1222.4 277.2,1222.4 277.9,1222.4 278.6,1222.4 279.3,1222.4 280.0,1222.4 280.6,1222.4 281.3,1222.4 282.0,1222.4 282.7,1222.4 283.4,1222.4 284.1,1222.4 284.8,1222.4 285.5,1222.4 286.2,1222.4 286.8,1222.4 287.5,1222.4 288.2,1222.4 288.9,1222.4 289.6,1222.4 290.3,1222.4 291.0,1222.4 291.7,1222.4 292.3,1222.4 293.0,1222.4 293.7,1222.4 294.4,1222.4 295.1,1222.4 295.8,1222.4 296.5,1222.4 297.2,1222.4 297.8,1222.4 298.5,1222.4 299.2,1222.4 299.9,1222.4 300.6,1222.4 301.3,1222.4 302.0,1222.4 302.7,1222.4 303.4,1222.4 304.0,1222.4 304.7,1222.4 305.4,1222.4 306.1,1222.4 306.8,1222.4 307.5,1222.4 308.2,1222.4 308.9,1222.4 309.5,1222.4 310.2,1222.4 310.9,1222.4 311.6,1222.4 312.3,1222.4 313.0,1222.4 313.7,1222.4 314.4,1222.4 315.0,1222.4 315.7,1222.4 316.4,1222.4 317.1,1222.4 317.8,1222.4 318.5,1222.4 319.2,1222.4 319.9,1222.4 320.6,1222.4 321.2,1222.4 321.9,1222.4 322.6,1222.4 323.3,1222.4 324.0,1222.4 324.7,1222.4 325.4,1222.4 326.1,1222.4 326.7,1222.4 327.4,1222.4 328.1,1222.4 328.8,1222.4 329.5,1222.4 330.2,1222.4 330.9,1222.4 331.6,1222.4 332.2,1222.4 332.9,1222.4 333.6,1222.4 334.3,1222.4 335.0,1222.4 335.7,1222.4 336.4,1222.4 337.1,1222.4 337.8,1222.4 338.4,1222.4 339.1,1222.4 339.8,1222.4 340.5,1222.4 341.2,1222.4 341.9,1222.4 342.6,1222.4 343.3,1222.4 343.9,1222.4 344.6,1222.4 345.3,1222.4 346.0,1222.4 346.7,1222.4 347.4,1222.4 348.1,1222.4 348.8,1222.4 349.4,1222.4 350.1,1222.4 350.8,1222.4 351.5,1222.4 352.2,1222.4 352.9,1222.4 353.6,1222.4 354.3,1222.4 355.0,1222.4 355.6,1222.4 356.3,1222.4 357.0,1222.4 357.7,1222.4 358.4,1222.4 359.1,1222.4 359.8,1222.4 360.5,1222.4 361.1,1222.4 361.8,1222.4 362.5,1222.4 363.2,1222.4 363.9,1222.4 364.6,1222.4 365.3,1222.4 366.0,1222.4 366.6,1222.4 367.3,1222.4 368.0,1222.4 368.7,1222.4 369.4,1222.4 370.1,1222.4 370.8,1222.4 371.5,1222.4 372.2,1222.4 372.8,1222.4 373.5,1222.4 374.2,1222.4 374.9,1222.4 375.6,1222.4 376.3,1222.4 377.0,1222.4 377.7,1222.4 378.3,1222.4 379.0,1222.4 379.7,1222.4 380.4,1222.4 381.1,1222.4 381.8,1222.4 382.5,1222.4 383.2,1222.4 383.8,1222.4 384.5,1222.4 385.2,1222.4 385.9,1222.4 386.6,1222.4 387.3,1222.4 388.0,1222.4 388.7,1222.4 389.4,1222.4 390.0,1222.4 390.7,1222.4 391.4,1222.4 392.1,1222.4 392.8,1222.4 393.5,1222.4 394.2,1222.4 394.9,1222.4 395.5,1222.4 396.2,1222.4 396.9,1222.4 397.6,1222.4 398.3,1222.4 399.0,1222.4 399.7,1222.4 400.4,1222.4 401.0,1222.4 401.7,1222.4 402.4,1222.4 403.1,1222.4 403.8,1222.4 404.5,1222.4 405.2,1222.4 405.9,1222.4 406.6,1222.4 407.2,1222.4 407.9,1222.4 408.6,1222.4 409.3,1222.4 410.0,1222.4 410.7,1222.4 411.4,1222.4 412.1,1222.4 412.7,1222.4 413.4,1222.4 414.1,1222.4 414.8,1222.4 415.5,1222.4 416.2,1222.4 416.9,1222.4 417.6,1222.4 418.2,1222.4 418.9,1222.4 419.6,1222.4 420.3,1222.4 421.0,1222.4 421.7,1222.4 422.4,1222.4 423.1,1222.4 423.8,1222.4 424.4,1222.4 425.1,1222.4 425.8,1222.4 426.5,1222.4 427.2,1222.4 427.9,1222.4 428.6,1222.4 429.3,1222.4 429.9,1222.4 430.6,1222.4 431.3,1222.4 432.0,1222.4 432.7,1222.4 433.4,1222.4 434.1,1222.4 434.8,1222.4 435.4,1222.4 436.1,1222.4 436.8,1222.4 437.5,1222.4 438.2,1222.4 438.9,1222.4 439.6,1222.4 440.3,1222.4 441.0,1222.4 441.6,1222.4 442.3,1222.4 443.0,1222.4 443.7,1222.4 444.4,1222.4 445.1,1222.4 445.8,1222.4 446.5,1222.4 447.1,1222.4 447.8,1222.4 448.5,1222.4 449.2,1222.4 449.9,1222.4 450.6,1222.4 451.3,1222.4 452.0,1222.4 452.6,1222.4 453.3,1222.4 454.0,1222.4 454.7,1222.4 455.4,1222.4 456.1,1222.4 456.8,1222.4 457.5,1222.4 458.2,1222.4 458.8,1222.4 459.5,1222.4 460.2,1222.4 460.9,1222.4 461.6,1222.4 462.3,1222.4 463.0,1222.4 463.7,1222.4 464.3,1222.4 465.0,1222.4 465.7,1222.4 466.4,1222.4 467.1,1222.4 467.8,1222.4 468.5,1222.4 469.2,1222.4 469.8,1222.4 470.5,1222.4 471.2,1222.4 471.9,1222.4" fill="none" stroke="#ff6418" stroke-width="5.5" stroke-linejoin="round" stroke-linecap="round" stroke-opacity="0.9"/>
<polyline points="59.8,1232.8 60.1,1222.6 60.4,1218.0 60.7,1215.0 61.0,1227.6 61.3,1219.4 61.7,1219.9 62.0,1218.1 62.3,1218.2 62.6,1220.2 62.9,1223.8 63.2,1224.2 63.5,1223.5 63.8,1226.1 64.1,1220.2 64.4,1218.0 64.8,1222.2 65.1,1213.8 65.4,1226.2 65.7,1224.9 66.0,1225.1 66.3,1218.3 66.6,1220.9 66.9,1223.2 67.2,1218.9 67.5,1218.6 67.8,1222.4 68.2,1224.0 68.5,1220.7 68.8,1227.9 69.1,1233.0 69.4,1226.2 69.7,1223.0 70.0,1222.5 70.3,1230.8 70.6,1225.3 70.9,1226.7 71.3,1225.2 71.6,1221.9 71.9,1230.7 72.2,1223.4 72.5,1225.1 72.8,1215.5 73.1,1233.8 73.4,1227.9 73.7,1224.3 74.0,1221.4 74.4,1222.2 74.7,1217.7 75.0,1226.9 75.3,1221.3 75.6,1226.8 75.9,1227.0 76.2,1233.2 76.5,1226.1 76.8,1226.5 77.1,1227.4 77.4,1222.7 77.8,1224.3 78.1,1226.7 78.4,1230.3 78.7,1228.6 79.0,1224.3 79.3,1230.6 79.6,1223.9 79.9,1219.1 80.2,1232.1 80.5,1225.6 80.9,1223.6 81.2,1220.5 81.5,1223.7 81.8,1232.6 82.1,1225.3 82.4,1234.9 82.7,1225.6 83.0,1230.2 83.3,1225.5 83.6,1223.4 83.9,1223.5 84.3,1224.1 84.6,1220.1 84.9,1219.8 85.2,1226.5 85.5,1230.2 85.8,1225.5 86.1,1225.0 86.4,1220.8 86.7,1229.4 87.0,1228.9 87.4,1219.5 87.7,1224.6 88.0,1222.8 88.3,1217.8 88.6,1230.8 88.9,1228.9 89.2,1225.1 89.5,1229.7 89.8,1221.4 90.1,1224.6 90.5,1229.0 90.8,1222.0 91.1,1224.4 91.4,1218.9 91.7,1225.6 92.0,1227.6 92.3,1218.5 92.6,1219.2 92.9,1222.1 93.2,1228.1 93.5,1220.0 93.9,1218.5 94.2,1221.4 94.5,1226.5 94.8,1215.2 95.1,1220.8 95.4,1226.9 95.7,1221.1 96.0,1219.9 96.3,1224.6 96.6,1215.8 97.0,1229.5 97.3,1222.7 97.6,1219.0 97.9,1220.8 98.2,1220.1 98.5,1219.1 98.8,1215.0 99.1,1219.0 99.4,1212.7 99.7,1225.6 100.0,1214.9 100.4,1216.5 100.7,1216.1 101.0,1222.3 101.3,1218.3 101.6,1225.1 101.9,1217.0 102.2,1219.4 102.5,1218.4 102.8,1217.1 103.1,1223.2 103.5,1223.5 103.8,1223.7 104.1,1212.3 104.4,1219.4 104.7,1213.1 105.0,1212.9 105.3,1210.0 105.6,1213.5 105.9,1219.9 106.2,1223.1 106.5,1224.5 106.9,1213.2 107.2,1214.3 107.5,1217.8 107.8,1217.4 108.1,1217.5 108.4,1209.2 108.7,1215.6 109.0,1218.8 109.3,1217.4 109.6,1215.7 110.0,1213.0 110.3,1215.6 110.6,1222.7 110.9,1218.0 111.2,1220.2 111.5,1222.7 111.8,1211.1 112.1,1218.4 112.4,1217.5 112.7,1221.1 113.1,1214.4 113.4,1214.5 113.7,1212.6 114.0,1216.1 114.3,1214.2 114.6,1214.7 114.9,1216.7 115.2,1213.7 115.5,1211.4 115.8,1213.6 116.1,1213.1 116.5,1217.2 116.8,1220.7 117.1,1214.1 117.4,1205.3 117.7,1218.1 118.0,1215.5 118.3,1211.9 118.6,1214.9 118.9,1223.8 119.2,1209.8 119.6,1211.3 119.9,1216.1 120.2,1203.4 120.5,1214.6 120.8,1220.8 121.1,1219.1 121.4,1218.6 121.7,1215.7 122.0,1216.6 122.3,1228.9 122.6,1218.5 123.0,1223.4 123.3,1212.6 123.6,1219.0 123.9,1219.7 124.2,1219.0 124.5,1209.3 124.8,1216.8 125.1,1224.9 125.4,1221.2 125.7,1215.8 126.1,1222.9 126.4,1211.4 126.7,1221.9 127.0,1221.1 127.3,1217.1 127.6,1215.6 127.9,1213.0 128.2,1219.2 128.5,1227.5 128.8,1223.9 129.2,1222.1 129.5,1224.4 129.8,1218.2 130.1,1223.0 130.4,1208.6 130.7,1218.9 131.0,1219.1 131.3,1220.9 131.6,1220.6 131.9,1223.9 132.2,1219.0 132.6,1225.6 132.9,1220.8 133.2,1225.6 133.5,1222.6 133.8,1225.8 134.1,1224.3 134.4,1219.9 134.7,1223.4 135.0,1217.3 135.3,1223.1 135.7,1224.6 136.0,1222.0 136.3,1222.6 136.6,1227.5 136.9,1228.6 137.2,1229.6 137.5,1221.4 137.8,1222.1 138.1,1227.4 138.4,1227.9 138.7,1216.7 139.1,1232.7 139.4,1229.4 139.7,1219.5 140.0,1229.7 140.3,1223.2 140.6,1224.6 140.9,1221.1 141.2,1221.9 141.5,1223.8 141.8,1226.0 142.2,1221.0 142.5,1225.5 142.8,1222.9 143.1,1223.8 143.4,1222.4 143.7,1223.6 144.0,1233.0 144.3,1219.6 144.6,1220.9 144.9,1226.2 145.2,1224.5 145.6,1222.3 145.9,1228.4 146.2,1221.9 146.5,1226.8 146.8,1230.9 147.1,1229.3 147.4,1225.8 147.7,1227.1 148.0,1227.8 148.3,1229.6 148.7,1223.1 149.0,1232.5 149.3,1230.3 149.6,1235.0 149.9,1230.7 150.2,1231.5 150.5,1214.8 150.8,1225.3 151.1,1235.0 151.4,1228.7 151.8,1225.2 152.1,1230.0 152.4,1227.4 152.7,1228.7 153.0,1223.9 153.3,1229.1 153.6,1233.2 153.9,1227.8 154.2,1228.5 154.5,1223.7 154.8,1228.6 155.2,1224.7 155.5,1220.7 155.8,1224.5 156.1,1225.2 156.4,1228.5 156.7,1230.0 157.0,1225.1 157.3,1224.3 157.6,1228.4 157.9,1221.8 158.3,1224.1 158.6,1224.4 158.9,1224.6 159.2,1222.7 159.5,1231.9 159.8,1229.0 160.1,1224.1 160.4,1218.7 160.7,1222.5 161.0,1227.0 161.3,1216.2 161.7,1234.8 162.0,1223.9 162.3,1223.9 162.6,1226.7 162.9,1217.9 163.2,1224.1 163.5,1223.7 163.8,1226.6 164.1,1219.2 164.4,1226.0 164.8,1228.3 165.1,1224.5 165.4,1220.8 165.7,1219.5 166.0,1215.5 166.3,1220.5 166.6,1224.9 166.9,1229.0 167.2,1227.0 167.5,1227.6 167.9,1220.5 168.2,1220.6 168.5,1215.9 168.8,1219.5 169.1,1217.5 169.4,1221.2 169.7,1225.1 170.0,1221.7 170.3,1220.8 170.6,1225.0 170.9,1228.5 171.3,1226.6 171.6,1214.9 171.9,1229.4 172.2,1220.2 172.5,1215.9 172.8,1220.5 173.1,1226.2 173.4,1210.7 173.7,1227.4 174.0,1222.8 174.4,1224.3 174.7,1216.1 175.0,1219.5 175.3,1217.1 175.6,1226.8 175.9,1218.6 176.2,1223.4 176.5,1219.0 176.8,1218.6 177.1,1223.7 177.4,1224.3 177.8,1224.9 178.1,1220.8 178.4,1222.0 178.7,1223.3 179.0,1222.6 179.3,1222.3 179.6,1226.6 179.9,1221.1 180.2,1223.7 180.5,1220.8 180.9,1224.8 181.2,1221.4 181.5,1219.9 181.8,1223.4 182.1,1222.0 182.4,1221.2 182.7,1221.5 183.0,1220.7 183.3,1223.0 183.6,1222.6 183.9,1225.3 184.3,1220.6 184.6,1224.9 184.9,1223.1 185.2,1219.2 185.5,1225.0 185.8,1218.5 186.1,1223.1 186.4,1218.3 186.7,1222.6 187.0,1221.3 187.4,1221.6 187.7,1218.3 188.0,1220.6 188.3,1224.5 188.6,1223.4 188.9,1222.1 189.2,1222.0 189.5,1220.9 189.8,1225.2 190.1,1222.2 190.5,1224.5 190.8,1219.3 191.1,1219.2 191.4,1225.1 191.7,1220.6 192.0,1222.0 192.3,1223.3 192.6,1224.3 192.9,1223.7 193.2,1223.5 193.5,1225.7 193.9,1223.0 194.2,1224.3 194.5,1222.6 194.8,1222.8 195.1,1226.3 195.4,1222.0 195.7,1217.4 196.0,1222.7 196.3,1222.9 196.6,1226.2 197.0,1221.7 197.3,1220.2 197.6,1222.7 197.9,1226.2 198.2,1221.8 198.5,1225.0 198.8,1223.5 199.1,1223.8 199.4,1220.8 199.7,1222.6 200.0,1220.8 200.4,1222.4 200.7,1221.0 201.0,1224.6 201.3,1221.3 201.6,1221.9 201.9,1217.9 202.2,1220.4 202.5,1227.3 202.8,1221.5 203.1,1219.1 203.5,1222.3 203.8,1221.8 204.1,1221.3 204.4,1221.7 204.7,1221.4 205.0,1224.2 205.3,1219.9 205.6,1222.7 205.9,1224.0 206.2,1220.5 206.6,1226.9 206.9,1222.4 207.2,1222.1 207.5,1221.2 207.8,1223.9 208.1,1219.1 208.4,1223.5 208.7,1226.8 209.0,1223.0 209.3,1224.0 209.6,1220.5 210.0,1223.9 210.3,1220.8 210.6,1221.5 210.9,1222.4 211.2,1226.2 211.5,1221.2 211.8,1218.5 212.1,1222.7 212.4,1224.0 212.7,1223.8 213.1,1222.9 213.4,1225.2 213.7,1224.2 214.0,1224.2 214.3,1221.6 214.6,1219.5 214.9,1225.7 215.2,1220.7 215.5,1225.1 215.8,1224.9 216.1,1220.1 216.5,1221.2 216.8,1223.4 217.1,1224.5 217.4,1220.6 217.7,1221.9 218.0,1220.4 218.3,1220.1 218.6,1222.7 218.9,1221.5 219.2,1218.4 219.6,1223.3 219.9,1221.7 220.2,1221.7 220.5,1219.8 220.8,1223.9 221.1,1223.1 221.4,1223.1 221.7,1222.3 222.0,1223.2 222.3,1225.7 222.6,1222.8 223.0,1222.9 223.3,1221.6 223.6,1223.8 223.9,1222.0 224.2,1221.0 224.5,1224.8 224.8,1222.1 225.1,1220.7 225.4,1221.0 225.7,1221.4 226.1,1220.3 226.4,1225.4 226.7,1223.7 227.0,1219.7 227.3,1224.8 227.6,1221.7 227.9,1223.0 228.2,1221.7 228.5,1223.3 228.8,1223.2 229.2,1224.0 229.5,1224.1 229.8,1217.3 230.1,1221.4 230.4,1222.3 230.7,1222.0 231.0,1219.4 231.3,1221.6 231.6,1221.9 231.9,1218.2 232.2,1220.5 232.6,1223.7 232.9,1220.7 233.2,1221.9 233.5,1222.2 233.8,1223.2 234.1,1223.7 234.4,1224.4 234.7,1222.5 235.0,1222.7 235.3,1222.0 235.7,1222.7 236.0,1222.1 236.3,1223.8 236.6,1223.7 236.9,1219.6 237.2,1217.8 237.5,1223.2 237.8,1221.3 238.1,1219.2 238.4,1224.2 238.7,1225.3 239.1,1220.0 239.4,1220.4 239.7,1220.9 240.0,1220.7 240.3,1222.1 240.6,1220.0 240.9,1222.2 241.2,1221.5 241.5,1224.4 241.8,1222.1 242.2,1224.1 242.5,1225.3 242.8,1223.3 243.1,1223.6 243.4,1221.3 243.7,1222.3 244.0,1226.9 244.3,1225.0 244.6,1222.4 244.9,1221.5 245.3,1222.0 245.6,1224.5 245.9,1218.1 246.2,1222.8 246.5,1219.6 246.8,1225.1 247.1,1219.4 247.4,1224.1 247.7,1221.7 248.0,1222.3 248.3,1225.6 248.7,1222.3 249.0,1223.6 249.3,1223.0 249.6,1219.9 249.9,1222.2 250.2,1224.2 250.5,1223.0 250.8,1222.7 251.1,1220.8 251.4,1225.4 251.8,1221.2 252.1,1225.9 252.4,1222.7 252.7,1223.7 253.0,1219.5 253.3,1222.5 253.6,1220.4 253.9,1222.5 254.2,1224.8 254.5,1223.0 254.8,1222.8 255.2,1224.3 255.5,1219.9 255.8,1222.6 256.1,1221.1 256.4,1224.6 256.7,1220.9 257.0,1225.6 257.3,1226.5 257.6,1218.1 257.9,1222.1 258.3,1219.2 258.6,1224.9 258.9,1220.6 259.2,1223.7 259.5,1223.0 259.8,1220.5 260.1,1219.3 260.4,1224.7 260.7,1221.2 261.0,1223.0 261.3,1225.3 261.7,1222.4 262.0,1221.8 262.3,1220.4 262.6,1223.4 262.9,1220.8 263.2,1219.0 263.5,1221.2 263.8,1221.1 264.1,1219.1 264.4,1221.9 264.8,1224.1 265.1,1223.6 265.4,1226.5 265.7,1224.7 266.0,1222.9 266.3,1218.3 266.6,1222.9 266.9,1224.9 267.2,1221.9 267.5,1225.3 267.9,1220.6 268.2,1223.0 268.5,1224.1 268.8,1225.9 269.1,1222.3 269.4,1226.4 269.7,1221.7 270.0,1218.8 270.3,1222.2 270.6,1225.3 270.9,1221.7 271.3,1225.8 271.6,1222.0 271.9,1226.3 272.2,1217.9 272.5,1227.1 272.8,1218.2 273.1,1222.3 273.4,1220.0 273.7,1223.1 274.0,1222.0 274.4,1221.8 274.7,1223.7 275.0,1224.4 275.3,1221.7 275.6,1225.0 275.9,1218.9 276.2,1220.2 276.5,1219.6 276.8,1223.4 277.1,1224.3 277.4,1221.5 277.8,1221.1 278.1,1219.9 278.4,1223.8 278.7,1224.8 279.0,1221.3 279.3,1222.0 279.6,1221.6 279.9,1222.4 280.2,1223.4 280.5,1217.8 280.9,1221.3 281.2,1224.1 281.5,1220.5 281.8,1225.0 282.1,1225.3 282.4,1220.5 282.7,1220.8 283.0,1225.1 283.3,1219.0 283.6,1220.2 284.0,1219.1 284.3,1222.5 284.6,1223.1 284.9,1223.4 285.2,1223.0 285.5,1219.5 285.8,1224.8 286.1,1222.3 286.4,1221.6 286.7,1226.0 287.0,1222.7 287.4,1223.1 287.7,1224.1 288.0,1226.6 288.3,1222.4 288.6,1223.8 288.9,1217.6 289.2,1220.4 289.5,1226.7 289.8,1226.5 290.1,1222.1 290.5,1220.5 290.8,1219.6 291.1,1219.9 291.4,1221.2 291.7,1218.8 292.0,1222.2 292.3,1222.0 292.6,1219.8 292.9,1219.7 293.2,1220.0 293.5,1221.4 293.9,1221.9 294.2,1223.6 294.5,1218.8 294.8,1221.7 295.1,1222.4 295.4,1223.0 295.7,1224.1 296.0,1221.5 296.3,1224.9 296.6,1227.1 297.0,1223.3 297.3,1225.6 297.6,1224.4 297.9,1223.3 298.2,1222.0 298.5,1223.0 298.8,1226.7 299.1,1222.6 299.4,1220.8 299.7,1221.4 300.0,1224.1 300.4,1221.1 300.7,1224.3 301.0,1224.0 301.3,1222.9 301.6,1225.9 301.9,1219.8 302.2,1221.3 302.5,1222.1 302.8,1223.3 303.1,1219.7 303.5,1221.3 303.8,1225.1 304.1,1221.6 304.4,1224.3 304.7,1221.9 305.0,1220.9 305.3,1223.5 305.6,1225.1 305.9,1222.3 306.2,1219.7 306.6,1220.8 306.9,1221.5 307.2,1221.8 307.5,1220.4 307.8,1223.8 308.1,1220.2 308.4,1224.4 308.7,1220.2 309.0,1220.4 309.3,1224.7 309.6,1223.8 310.0,1221.7 310.3,1221.1 310.6,1221.9 310.9,1222.5 311.2,1222.9 311.5,1224.5 311.8,1220.7 312.1,1222.4 312.4,1222.5 312.7,1219.6 313.1,1224.8 313.4,1225.8 313.7,1222.3 314.0,1218.7 314.3,1220.7 314.6,1224.3 314.9,1218.2 315.2,1218.2 315.5,1221.3 315.8,1223.3 316.1,1224.0 316.5,1224.4 316.8,1217.4 317.1,1221.1 317.4,1220.3 317.7,1220.3 318.0,1223.9 318.3,1223.2 318.6,1220.8 318.9,1222.8 319.2,1222.7 319.6,1224.9 319.9,1221.2 320.2,1223.6 320.5,1220.8 320.8,1223.2 321.1,1222.3 321.4,1222.9 321.7,1222.3 322.0,1225.4 322.3,1221.0 322.7,1220.5 323.0,1221.3 323.3,1223.4 323.6,1223.9 323.9,1222.3 324.2,1221.1 324.5,1221.7 324.8,1221.1 325.1,1223.5 325.4,1222.5 325.7,1223.0 326.1,1222.6 326.4,1222.7 326.7,1224.8 327.0,1221.5 327.3,1223.3 327.6,1223.4 327.9,1221.1 328.2,1225.7 328.5,1222.9 328.8,1220.2 329.2,1224.4 329.5,1223.6 329.8,1223.8 330.1,1222.0 330.4,1221.7 330.7,1222.7 331.0,1219.8 331.3,1222.8 331.6,1222.6 331.9,1224.2 332.2,1222.0 332.6,1223.6 332.9,1219.6 333.2,1220.9 333.5,1223.9 333.8,1225.3 334.1,1224.2 334.4,1219.5 334.7,1220.4 335.0,1221.2 335.3,1224.8 335.7,1221.2 336.0,1222.9 336.3,1223.3 336.6,1223.3 336.9,1222.1 337.2,1223.0 337.5,1224.1 337.8,1222.7 338.1,1222.3 338.4,1223.9 338.7,1225.4 339.1,1227.2 339.4,1220.2 339.7,1223.0 340.0,1222.6 340.3,1220.3 340.6,1221.9 340.9,1221.1 341.2,1220.5 341.5,1221.2 341.8,1223.6 342.2,1220.4 342.5,1221.4 342.8,1222.1 343.1,1220.4 343.4,1220.0 343.7,1219.3 344.0,1220.9 344.3,1225.1 344.6,1219.0 344.9,1224.0 345.3,1220.5 345.6,1220.5 345.9,1223.9 346.2,1223.4 346.5,1223.6 346.8,1222.3 347.1,1224.0 347.4,1221.1 347.7,1223.0 348.0,1224.2 348.3,1222.2 348.7,1220.7 349.0,1225.6 349.3,1221.9 349.6,1220.4 349.9,1223.6 350.2,1224.8 350.5,1223.5 350.8,1220.0 351.1,1222.5 351.4,1223.0 351.8,1223.6 352.1,1219.6 352.4,1219.9 352.7,1222.7 353.0,1222.4 353.3,1223.3 353.6,1224.6 353.9,1219.7 354.2,1220.1 354.5,1221.2 354.8,1225.3 355.2,1221.9 355.5,1224.3 355.8,1217.7 356.1,1222.8 356.4,1224.2 356.7,1225.1 357.0,1221.0 357.3,1226.3 357.6,1220.8 357.9,1225.3 358.3,1225.8 358.6,1222.3 358.9,1219.8 359.2,1226.8 359.5,1223.2 359.8,1220.1 360.1,1223.4 360.4,1220.4 360.7,1222.8 361.0,1220.3 361.4,1217.9 361.7,1223.8 362.0,1221.0 362.3,1222.1 362.6,1222.6 362.9,1222.0 363.2,1221.0 363.5,1223.1 363.8,1223.6 364.1,1222.8 364.4,1221.7 364.8,1222.5 365.1,1225.4 365.4,1224.8 365.7,1222.0 366.0,1223.7 366.3,1223.7 366.6,1223.7 366.9,1222.6 367.2,1223.5 367.5,1221.9 367.9,1224.0 368.2,1223.6 368.5,1223.9 368.8,1223.9 369.1,1223.7 369.4,1221.1 369.7,1220.3 370.0,1222.9 370.3,1221.8 370.6,1224.0 370.9,1221.3 371.3,1221.7 371.6,1219.9 371.9,1222.3 372.2,1221.8 372.5,1224.8 372.8,1222.7 373.1,1225.3 373.4,1221.1 373.7,1219.4 374.0,1224.7 374.4,1223.5 374.7,1225.7 375.0,1221.3 375.3,1219.2 375.6,1225.7 375.9,1223.2 376.2,1221.5 376.5,1226.9 376.8,1222.8 377.1,1221.1 377.4,1223.5 377.8,1221.7 378.1,1221.1 378.4,1223.5 378.7,1222.8 379.0,1222.4 379.3,1222.5 379.6,1220.1 379.9,1224.1 380.2,1226.5 380.5,1223.3 380.9,1225.3 381.2,1226.6 381.5,1222.3 381.8,1221.4 382.1,1220.8 382.4,1221.8 382.7,1224.3 383.0,1222.4 383.3,1225.1 383.6,1221.5 384.0,1226.0 384.3,1222.1 384.6,1222.6 384.9,1222.9 385.2,1222.3 385.5,1222.5 385.8,1223.9 386.1,1222.5 386.4,1223.6 386.7,1221.1 387.0,1221.1 387.4,1219.9 387.7,1224.1 388.0,1221.0 388.3,1223.5 388.6,1222.9 388.9,1222.9 389.2,1222.2 389.5,1223.8 389.8,1223.6 390.1,1225.9 390.5,1222.2 390.8,1222.0 391.1,1220.3 391.4,1227.0 391.7,1221.3 392.0,1224.3 392.3,1224.2 392.6,1220.3 392.9,1221.4 393.2,1224.1 393.5,1222.7 393.9,1220.2 394.2,1222.9 394.5,1225.6 394.8,1223.3 395.1,1223.7 395.4,1225.2 395.7,1226.9 396.0,1222.7 396.3,1221.4 396.6,1222.5 397.0,1221.7 397.3,1219.9 397.6,1222.3 397.9,1220.7 398.2,1225.0 398.5,1222.3 398.8,1217.4 399.1,1220.5 399.4,1223.2 399.7,1221.4 400.1,1220.9 400.4,1221.4 400.7,1220.8 401.0,1223.6 401.3,1221.5 401.6,1220.6 401.9,1224.0 402.2,1220.0 402.5,1222.8 402.8,1220.4 403.1,1221.5 403.5,1221.3 403.8,1220.1 404.1,1221.1 404.4,1225.2 404.7,1220.1 405.0,1226.2 405.3,1223.9 405.6,1225.4 405.9,1221.3 406.2,1224.5 406.6,1222.7 406.9,1226.4 407.2,1221.5 407.5,1224.8 407.8,1221.1 408.1,1225.1 408.4,1221.6 408.7,1220.1 409.0,1219.6 409.3,1221.2 409.6,1225.4 410.0,1219.7 410.3,1220.8 410.6,1222.1 410.9,1222.4 411.2,1222.8 411.5,1225.5 411.8,1221.9 412.1,1219.4 412.4,1223.8 412.7,1221.5 413.1,1221.8 413.4,1222.6 413.7,1225.5 414.0,1224.8 414.3,1222.4 414.6,1221.6 414.9,1223.2 415.2,1220.8 415.5,1218.8 415.8,1221.0 416.1,1224.3 416.5,1221.0 416.8,1221.3 417.1,1225.2 417.4,1225.3 417.7,1225.3 418.0,1220.8 418.3,1223.4 418.6,1225.1 418.9,1224.4 419.2,1221.6 419.6,1222.0 419.9,1220.9 420.2,1221.3 420.5,1223.1 420.8,1223.1 421.1,1220.6 421.4,1223.7 421.7,1222.8 422.0,1225.0 422.3,1221.3 422.7,1222.8 423.0,1217.9 423.3,1223.9 423.6,1223.6 423.9,1224.1 424.2,1222.5 424.5,1222.5 424.8,1222.3 425.1,1224.9 425.4,1220.5 425.7,1222.2 426.1,1223.6 426.4,1221.7 426.7,1220.6 427.0,1221.9 427.3,1223.1 427.6,1225.6 427.9,1221.4 428.2,1218.1 428.5,1224.5 428.8,1222.4 429.2,1223.6 429.5,1222.2 429.8,1222.4 430.1,1218.6 430.4,1223.5 430.7,1220.2 431.0,1223.7 431.3,1218.6 431.6,1224.7 431.9,1222.0 432.2,1217.8 432.6,1222.6 432.9,1222.5 433.2,1222.5 433.5,1220.1 433.8,1226.8 434.1,1221.3 434.4,1224.3 434.7,1217.4 435.0,1223.5 435.3,1223.3 435.7,1222.3 436.0,1224.8 436.3,1221.1 436.6,1223.2 436.9,1222.2 437.2,1222.8 437.5,1220.4 437.8,1223.6 438.1,1223.4 438.4,1222.9 438.8,1222.9 439.1,1221.6 439.4,1221.1 439.7,1221.9 440.0,1223.1 440.3,1219.9 440.6,1222.1 440.9,1225.4 441.2,1223.8 441.5,1220.5 441.8,1224.8 442.2,1219.0 442.5,1222.0 442.8,1224.6 443.1,1223.7 443.4,1223.1 443.7,1220.3 444.0,1219.2 444.3,1223.4 444.6,1222.9 444.9,1225.7 445.3,1221.2 445.6,1220.2 445.9,1221.3 446.2,1218.7 446.5,1221.6 446.8,1222.2 447.1,1222.0 447.4,1225.9 447.7,1226.0 448.0,1221.6 448.3,1221.2 448.7,1224.8 449.0,1224.4 449.3,1219.9 449.6,1220.9 449.9,1220.8 450.2,1219.8 450.5,1221.2 450.8,1219.8 451.1,1223.8 451.4,1223.3 451.8,1218.9 452.1,1221.0 452.4,1221.1 452.7,1225.1 453.0,1221.1 453.3,1224.1 453.6,1225.5 453.9,1220.6 454.2,1223.4 454.5,1222.6 454.8,1224.1 455.2,1219.7 455.5,1221.6 455.8,1219.1 456.1,1223.8 456.4,1218.5 456.7,1222.5 457.0,1219.3 457.3,1220.9 457.6,1220.7 457.9,1222.5 458.3,1223.5 458.6,1224.7 458.9,1225.1 459.2,1222.5 459.5,1220.2 459.8,1224.9 460.1,1219.9 460.4,1222.4 460.7,1221.0 461.0,1221.2 461.4,1222.8 461.7,1220.2 462.0,1222.2 462.3,1222.2 462.6,1224.5 462.9,1224.7 463.2,1224.0 463.5,1222.5 463.8,1225.9 464.1,1224.4 464.4,1219.9 464.8,1223.1 465.1,1223.4 465.4,1220.8 465.7,1223.0 466.0,1221.8 466.3,1220.7 466.6,1222.6 466.9,1221.2 467.2,1220.0 467.5,1222.5 467.9,1218.8 468.2,1224.7 468.5,1221.8 468.8,1222.6 469.1,1224.4 469.4,1224.3 469.7,1221.9 470.0,1223.1 470.3,1224.4 470.6,1225.3 470.9,1220.9 471.3,1223.1 471.6,1220.3 471.9,1220.7 472.2,1222.3 472.5,1222.0" fill="none" stroke="#ff6a24" stroke-width="0.9" stroke-linejoin="round" stroke-linecap="round" stroke-opacity="0.85"/>
<path d="M173.8 1205.7l2.6 2.6m0-2.6l-2.6 2.6M173.9 1208.3l2.6 2.6m0-2.6l-2.6 2.6M174.3 1210.9l2.6 2.6m0-2.6l-2.6 2.6M173.6 1213.5l2.6 2.6m0-2.6l-2.6 2.6M174.4 1216.1l2.6 2.6m0-2.6l-2.6 2.6M173.8 1218.7l2.6 2.6m0-2.6l-2.6 2.6M175.1 1221.3l2.6 2.6m0-2.6l-2.6 2.6M174.4 1223.9l2.6 2.6m0-2.6l-2.6 2.6M174.7 1226.5l2.6 2.6m0-2.6l-2.6 2.6M174.2 1229.1l2.6 2.6m0-2.6l-2.6 2.6M174.9 1231.7l2.6 2.6m0-2.6l-2.6 2.6M174.6 1234.3l2.6 2.6m0-2.6l-2.6 2.6M174.7 1236.9l2.6 2.6m0-2.6l-2.6 2.6M174.4 1239.5l2.6 2.6m0-2.6l-2.6 2.6M174.7 1242.1l2.6 2.6m0-2.6l-2.6 2.6M174.3 1244.7l2.6 2.6m0-2.6l-2.6 2.6M174.7 1247.3l2.6 2.6m0-2.6l-2.6 2.6M174.2 1249.9l2.6 2.6m0-2.6l-2.6 2.6M174.2 1252.5l2.6 2.6m0-2.6l-2.6 2.6M174.4 1255.1l2.6 2.6m0-2.6l-2.6 2.6M204.1 1218.1l2.6 2.6m0-2.6l-2.6 2.6M204.0 1220.7l2.6 2.6m0-2.6l-2.6 2.6M203.6 1223.3l2.6 2.6m0-2.6l-2.6 2.6M203.9 1225.9l2.6 2.6m0-2.6l-2.6 2.6M204.5 1228.5l2.6 2.6m0-2.6l-2.6 2.6M297.0 1181.4l2.6 2.6m0-2.6l-2.6 2.6M297.1 1184.0l2.6 2.6m0-2.6l-2.6 2.6M296.6 1186.6l2.6 2.6m0-2.6l-2.6 2.6M297.6 1189.2l2.6 2.6m0-2.6l-2.6 2.6M296.8 1191.8l2.6 2.6m0-2.6l-2.6 2.6M297.2 1194.4l2.6 2.6m0-2.6l-2.6 2.6M296.9 1197.0l2.6 2.6m0-2.6l-2.6 2.6M297.5 1199.6l2.6 2.6m0-2.6l-2.6 2.6M296.1 1202.2l2.6 2.6m0-2.6l-2.6 2.6M295.8 1204.8l2.6 2.6m0-2.6l-2.6 2.6M296.7 1207.4l2.6 2.6m0-2.6l-2.6 2.6M295.6 1210.0l2.6 2.6m0-2.6l-2.6 2.6M296.5 1212.6l2.6 2.6m0-2.6l-2.6 2.6M296.5 1215.2l2.6 2.6m0-2.6l-2.6 2.6M296.7 1217.8l2.6 2.6m0-2.6l-2.6 2.6M297.2 1220.4l2.6 2.6m0-2.6l-2.6 2.6M296.2 1223.0l2.6 2.6m0-2.6l-2.6 2.6M297.1 1225.6l2.6 2.6m0-2.6l-2.6 2.6M297.5 1228.2l2.6 2.6m0-2.6l-2.6 2.6M297.7 1230.8l2.6 2.6m0-2.6l-2.6 2.6M296.3 1233.4l2.6 2.6m0-2.6l-2.6 2.6M353.8 1196.7l2.6 2.6m0-2.6l-2.6 2.6M354.9 1199.3l2.6 2.6m0-2.6l-2.6 2.6M353.5 1201.9l2.6 2.6m0-2.6l-2.6 2.6M354.6 1204.5l2.6 2.6m0-2.6l-2.6 2.6M354.2 1207.1l2.6 2.6m0-2.6l-2.6 2.6M354.3 1209.7l2.6 2.6m0-2.6l-2.6 2.6M353.2 1212.3l2.6 2.6m0-2.6l-2.6 2.6M353.3 1214.9l2.6 2.6m0-2.6l-2.6 2.6M353.5 1217.5l2.6 2.6m0-2.6l-2.6 2.6M354.3 1220.1l2.6 2.6m0-2.6l-2.6 2.6M354.4 1222.7l2.6 2.6m0-2.6l-2.6 2.6M353.6 1225.3l2.6 2.6m0-2.6l-2.6 2.6M354.1 1227.9l2.6 2.6m0-2.6l-2.6 2.6M354.1 1230.5l2.6 2.6m0-2.6l-2.6 2.6M353.5 1233.1l2.6 2.6m0-2.6l-2.6 2.6M353.4 1235.7l2.6 2.6m0-2.6l-2.6 2.6M370.5 1211.1l2.6 2.6m0-2.6l-2.6 2.6M370.9 1213.7l2.6 2.6m0-2.6l-2.6 2.6M371.1 1216.3l2.6 2.6m0-2.6l-2.6 2.6M372.1 1218.9l2.6 2.6m0-2.6l-2.6 2.6M371.9 1221.5l2.6 2.6m0-2.6l-2.6 2.6M436.4 1210.7l2.6 2.6m0-2.6l-2.6 2.6M436.7 1213.3l2.6 2.6m0-2.6l-2.6 2.6M436.1 1215.9l2.6 2.6m0-2.6l-2.6 2.6M435.3 1218.5l2.6 2.6m0-2.6l-2.6 2.6M436.6 1221.1l2.6 2.6m0-2.6l-2.6 2.6M436.8 1223.7l2.6 2.6m0-2.6l-2.6 2.6M436.1 1226.3l2.6 2.6m0-2.6l-2.6 2.6" stroke="#ff6a1e" stroke-width="0.9" fill="none" stroke-opacity="0.75"/>
<rect x="59.3" y="911.5" width="413.4" height="360.5" fill="none" stroke="#000" stroke-width="1.8"/>
<path d="M94.2 1272.0v-2.5M128.6 1272.0v-5M163.0 1272.0v-2.5M197.4 1272.0v-5M231.8 1272.0v-2.5M266.2 1272.0v-5M300.6 1272.0v-2.5M335.0 1272.0v-5M369.4 1272.0v-2.5M403.8 1272.0v-5M438.2 1272.0v-2.5" stroke="#000" stroke-width="1.6" fill="none"/>
<text transform="translate(64.03,942.5) scale(0.9704,1)" font-family="'Liberation Sans', Arial, Helvetica, sans-serif" font-size="29.28" fill="#000" xml:space="preserve" ><tspan x="0" y="0">CA-Li</tspan><tspan x="73.18" y="8.78" font-size="19.91">2</tspan><tspan x="84.25" y="0">S-800</tspan></text>
<text transform="translate(312.6,936.2) scale(0.9844,1)" font-family="'Liberation Sans', Arial, Helvetica, sans-serif" font-size="20.86" fill="#000" font-weight="bold" xml:space="preserve" ><tspan x="0" y="0">Observed</tspan></text>
<text transform="translate(312.6,963.4) scale(0.9852,1)" font-family="'Liberation Sans', Arial, Helvetica, sans-serif" font-size="20.86" fill="#000" font-weight="bold" xml:space="preserve" ><tspan x="0" y="0">Calculated</tspan></text>
<text transform="translate(311.6,990.4) scale(0.9979,1)" font-family="'Liberation Sans', Arial, Helvetica, sans-serif" font-size="20.86" fill="#000" font-weight="bold" xml:space="preserve" ><tspan x="0" y="0">Difference</tspan></text>
<text transform="translate(311.6,1018.1) scale(0.9993,1)" font-family="'Liberation Sans', Arial, Helvetica, sans-serif" font-size="20.86" fill="#000" font-weight="bold" xml:space="preserve" ><tspan x="0" y="0">Bragg Position</tspan></text>
<path d="M287.2 932.8l2.7-4.7 2.7 4.7z" fill="none" stroke="#1c97ff" stroke-width="1.1"/>
<line x1="273.5" y1="958.4" x2="306.3" y2="958.4" stroke="#000a96" stroke-width="2.4" />
<path d="M288.4 982.8l3 3m0-3l-3 3" stroke="#ff8a4e" stroke-width="0.9" fill="none"/>
<line x1="289.9" y1="1010.1" x2="289.9" y2="1016.1" stroke="#ffa050" stroke-width="1.5" />
<text transform="translate(316.12,1053.4) scale(1.0201,1)" font-family="'Liberation Serif', 'Times New Roman', serif" font-size="21.36" fill="#000" xml:space="preserve" ><tspan x="0" y="0" font-family="'Liberation Serif', 'Times New Roman', serif">χ</tspan><tspan x="9.48" y="-9.61" font-size="11.75" font-family="'Liberation Serif', 'Times New Roman', serif">2</tspan><tspan x="15.36" y="0" font-family="'Liberation Serif', 'Times New Roman', serif"> = 2.149</tspan></text>
<text transform="translate(-3.09,601.8) scale(1.0303,1)" font-family="'Liberation Sans', Arial, Helvetica, sans-serif" font-size="72" fill="#000" xml:space="preserve" ><tspan x="0" y="0">d</tspan></text>
<text transform="translate(38.5,842.61) rotate(-90) scale(1.0031,1)" font-family="'Liberation Sans', Arial, Helvetica, sans-serif" font-size="35.65" fill="#000" xml:space="preserve" ><tspan x="0" y="0">Intensity / a.u.</tspan></text>
<text transform="translate(38.5,1203) rotate(-90) scale(1.0002,1)" font-family="'Liberation Sans', Arial, Helvetica, sans-serif" font-size="35.65" fill="#000" xml:space="preserve" ><tspan x="0" y="0">Intensity / a.u.</tspan></text>
<text transform="translate(43.59,1298.2) scale(1.0062,1)" font-family="'Liberation Sans', Arial, Helvetica, sans-serif" font-size="27.39" fill="#000" xml:space="preserve" ><tspan x="0" y="0">10</tspan></text>
<text transform="translate(113.43,1298.2) scale(0.9718,1)" font-family="'Liberation Sans', Arial, Helvetica, sans-serif" font-size="27.39" fill="#000" xml:space="preserve" ><tspan x="0" y="0">20</tspan></text>
<text transform="translate(182.23,1298.2) scale(0.9718,1)" font-family="'Liberation Sans', Arial, Helvetica, sans-serif" font-size="27.39" fill="#000" xml:space="preserve" ><tspan x="0" y="0">30</tspan></text>
<text transform="translate(252,1298.2) scale(0.9396,1)" font-family="'Liberation Sans', Arial, Helvetica, sans-serif" font-size="27.39" fill="#000" xml:space="preserve" ><tspan x="0" y="0">40</tspan></text>
<text transform="translate(319.83,1298.2) scale(0.9718,1)" font-family="'Liberation Sans', Arial, Helvetica, sans-serif" font-size="27.39" fill="#000" xml:space="preserve" ><tspan x="0" y="0">50</tspan></text>
<text transform="translate(388.63,1298.2) scale(0.9718,1)" font-family="'Liberation Sans', Arial, Helvetica, sans-serif" font-size="27.39" fill="#000" xml:space="preserve" ><tspan x="0" y="0">60</tspan></text>
<text transform="translate(457.43,1298.2) scale(0.9718,1)" font-family="'Liberation Sans', Arial, Helvetica, sans-serif" font-size="27.39" fill="#000" xml:space="preserve" ><tspan x="0" y="0">70</tspan></text>
<text transform="translate(171.97,1334.6) scale(1.0269,1)" font-family="'Liberation Sans', Arial, Helvetica, sans-serif" font-size="35.14" fill="#000" xml:space="preserve" ><tspan x="0" y="0">2θ / degree</tspan></text>
<defs>
<linearGradient id="bgG" x1="0.8" y1="0" x2="0.2" y2="1"><stop offset="0" stop-color="#e9e9e9"/><stop offset="0.5" stop-color="#d9d9d9"/><stop offset="1" stop-color="#cbcbcb"/></linearGradient><linearGradient id="ringU" x1="0.15" y1="0" x2="0.85" y2="1"><stop offset="0" stop-color="#f2f2f2"/><stop offset="1" stop-color="#e3e4e4"/></linearGradient><linearGradient id="ringL" x1="0.15" y1="0" x2="0.85" y2="1"><stop offset="0" stop-color="#eeeeee"/><stop offset="1" stop-color="#e0e1e1"/></linearGradient>
<filter id="nzD" x="0" y="0" width="1" height="1"><feTurbulence type="fractalNoise" baseFrequency="0.55" numOctaves="3" seed="4" result="t"/>
<feColorMatrix in="t" type="matrix" values="0 0 0 0 0.45  0 0 0 0 0.45  0 0 0 0 0.45  1.6 0 0 0 -0.62" result="d"/><feComposite in="d" in2="SourceGraphic" operator="in"/></filter>
<filter id="nzL" x="0" y="0" width="1" height="1"><feTurbulence type="fractalNoise" baseFrequency="0.36" numOctaves="3" seed="9" result="t"/>
<feColorMatrix in="t" type="matrix" values="0 0 0 0 1  0 0 0 0 1  0 0 0 0 1  0 1.8 0 0 -0.75" result="d"/><feComposite in="d" in2="SourceGraphic" operator="in"/></filter>
<filter id="nzS" x="0" y="0" width="1" height="1"><feTurbulence type="fractalNoise" baseFrequency="0.38" numOctaves="3" seed="7" result="t"/>
<feColorMatrix in="t" type="matrix" values="0 0 0 0 0.35  0 0 0 0 0.35  0 0 0 0 0.35  2.4 0 0 0 -1.02" result="d"/><feComposite in="d" in2="SourceGraphic" operator="in"/></filter>

</defs>
<rect x="539.4" y="551.3" width="376.4" height="799.9" fill="url(#bgG)"/>
<rect x="539.4" y="551.3" width="376.4" height="799.9" fill="#000" filter="url(#nzD)" opacity="0.9"/>
<rect x="539.4" y="551.3" width="376.4" height="799.9" fill="#000" filter="url(#nzL)" opacity="0.8"/>
<circle cx="731.6" cy="734.5" r="180.5" fill="url(#ringU)" stroke="#c4c4c4" stroke-width="0.8"/>
<circle cx="732.9" cy="736.6" r="140.8" fill="#e1e1e1"/>
<circle cx="732.9" cy="736.6" r="140" fill="#000" filter="url(#nzS)" opacity="0.5"/>
<circle cx="732.9" cy="736.6" r="140" fill="#000" filter="url(#nzL)" opacity="0.9"/>
<circle cx="732.9" cy="736.6" r="141.2" fill="none" stroke="#f7f7f7" stroke-width="2.2"/>
<circle cx="732.9" cy="736.6" r="139.6" fill="none" stroke="#8c8c8c" stroke-width="0.9" opacity="0.8"/>
<ellipse cx="828" cy="794.6" rx="4.5" ry="3.5" fill="#e9e9e9" stroke="#9a9a9a" stroke-width="0.8"/>
<circle cx="730.4" cy="1135.5" r="179.5" fill="url(#ringL)" stroke="#bdbdbd" stroke-width="0.8"/>
<circle cx="727.2" cy="1136.5" r="142.2" fill="#d2d2d2" stroke="#c9bd9c" stroke-width="1.2"/>
<circle cx="727.2" cy="1136.5" r="140.5" fill="#000" filter="url(#nzS)" opacity="0.95"/>
<circle cx="727.2" cy="1136.5" r="140.5" fill="#000" filter="url(#nzL)" opacity="1"/>
<circle cx="727.2" cy="1136.5" r="139.5" fill="none" stroke="#eeeeee" stroke-width="3.6" opacity="0.85"/>
<circle cx="727.2" cy="1136.5" r="137.2" fill="none" stroke="#7d7d7d" stroke-width="0.8" opacity="0.8"/>
<defs><radialGradient id="spot" cx="0.5" cy="0.5" r="0.5"><stop offset="0" stop-color="#3f4846"/><stop offset="0.6" stop-color="#5d6664"/><stop offset="1" stop-color="#9aa09e" stop-opacity="0"/></radialGradient></defs>
<ellipse cx="613" cy="1097" rx="7" ry="7" fill="url(#spot)" opacity="0.6"/>
<ellipse cx="674.5" cy="1154" rx="11" ry="15" fill="url(#spot)" opacity="0.6"/>
<ellipse cx="666" cy="1138" rx="6" ry="6" fill="url(#spot)" opacity="0.6"/>
<ellipse cx="848" cy="1116" rx="6" ry="5" fill="url(#spot)" opacity="0.6"/>
<ellipse cx="852.5" cy="1141" rx="7" ry="6" fill="url(#spot)" opacity="0.6"/>
<ellipse cx="784.8" cy="1020" rx="5" ry="6" fill="url(#spot)" opacity="0.6"/>
<ellipse cx="698" cy="1259" rx="5" ry="4" fill="url(#spot)" opacity="0.6"/>
<ellipse cx="622.5" cy="1051" rx="3.5" ry="3.5" fill="url(#spot)" opacity="0.6"/>
<ellipse cx="760" cy="1200" rx="2.5" ry="2.5" fill="url(#spot)" opacity="0.6"/>
<circle cx="709" cy="1062.5" r="14" fill="#dedede" opacity="0.35"/>
<path d="M 699.2,1072.3 A 14,14 0 0 1 718.8,1052.7" fill="none" stroke="#8e8e8e" stroke-width="1.1" opacity="0.7"/>
<path d="M 718.8,1052.7 A 14,14 0 0 1 699.2,1072.3" fill="none" stroke="#f5f5f5" stroke-width="1.3"/>
<circle cx="622.5" cy="1190" r="14" fill="#dedede" opacity="0.35"/>
<path d="M 612.7,1199.8 A 14,14 0 0 1 632.3,1180.2" fill="none" stroke="#8e8e8e" stroke-width="1.1" opacity="0.7"/>
<path d="M 632.3,1180.2 A 14,14 0 0 1 612.7,1199.8" fill="none" stroke="#f5f5f5" stroke-width="1.3"/>
<circle cx="676" cy="1228" r="10" fill="#dedede" opacity="0.35"/>
<path d="M 669.0,1235.0 A 10,10 0 0 1 683.0,1221.0" fill="none" stroke="#8e8e8e" stroke-width="1.1" opacity="0.7"/>
<path d="M 683.0,1221.0 A 10,10 0 0 1 669.0,1235.0" fill="none" stroke="#f5f5f5" stroke-width="1.3"/>
<circle cx="640" cy="1140" r="5" fill="#dedede" opacity="0.35"/>
<path d="M 636.5,1143.5 A 5,5 0 0 1 643.5,1136.5" fill="none" stroke="#8e8e8e" stroke-width="1.1" opacity="0.7"/>
<path d="M 643.5,1136.5 A 5,5 0 0 1 636.5,1143.5" fill="none" stroke="#f5f5f5" stroke-width="1.3"/>
<text transform="translate(482.09,589.2) scale(1.0382,1)" font-family="'Liberation Sans', Arial, Helvetica, sans-serif" font-size="72" fill="#000" xml:space="preserve" ><tspan x="0" y="0">e</tspan></text>
<text transform="translate(537.19,588.4) scale(1.0046,1)" font-family="'Liberation Sans', Arial, Helvetica, sans-serif" font-size="39.13" fill="#0a87ff" xml:space="preserve" ><tspan x="0" y="0">HY-Li</tspan><tspan x="94.24" y="11.74" font-size="25.83">2</tspan><tspan x="108.6" y="0">S-800</tspan></text>
<text transform="translate(539.2,961.8) scale(0.9997,1)" font-family="'Liberation Sans', Arial, Helvetica, sans-serif" font-size="38.41" fill="#ff3c0a" xml:space="preserve" ><tspan x="0" y="0">CA-Li</tspan><tspan x="96.03" y="11.52" font-size="25.35">2</tspan><tspan x="110.13" y="0">S-800</tspan></text>
<line x1="474.8" y1="708" x2="531" y2="708" stroke="#0a82ff" stroke-width="3.6" stroke-linecap="butt"/>
<path d="M540.0,708.0 Q533.0,702.8 524.4,695.7 L522.6,697.0 L529.4,706.3 L529.4,709.7 L522.6,719.0 L524.4,720.3 Q533.0,713.2 540.0,708.0 Z" fill="#0a82ff"/>
<line x1="474.8" y1="1066.9" x2="531" y2="1066.9" stroke="#f00a0a" stroke-width="3.6" stroke-linecap="butt"/>
<path d="M540.0,1066.9 Q533.0,1061.7 524.4,1054.6 L522.6,1055.9 L529.4,1065.2 L529.4,1068.6 L522.6,1077.9 L524.4,1079.2 Q533.0,1072.1 540.0,1066.9 Z" fill="#f00a0a"/>
<line x1="883.5" y1="708" x2="939.7" y2="708" stroke="#0a82ff" stroke-width="3.6" stroke-linecap="butt"/>
<path d="M948.7,708.0 Q941.7,702.8 933.1,695.7 L931.3,697.0 L938.1,706.3 L938.1,709.7 L931.3,719.0 L933.1,720.3 Q941.7,713.2 948.7,708.0 Z" fill="#0a82ff"/>
<line x1="883.5" y1="1065.6" x2="939.7" y2="1065.6" stroke="#f00a0a" stroke-width="3.6" stroke-linecap="butt"/>
<path d="M948.7,1065.6 Q941.7,1060.4 933.1,1053.3 L931.3,1054.6 L938.1,1063.9 L938.1,1067.3 L931.3,1076.6 L933.1,1077.9 Q941.7,1070.8 948.7,1065.6 Z" fill="#f00a0a"/>
<line x1="1383.2" y1="707.9" x2="1439" y2="707.9" stroke="#0a82ff" stroke-width="3.6" stroke-linecap="butt"/>
<path d="M1448.0,707.9 Q1441.0,702.7 1432.4,695.6 L1430.6,696.9 L1437.4,706.2 L1437.4,709.6 L1430.6,718.9 L1432.4,720.2 Q1441.0,713.1 1448.0,707.9 Z" fill="#0a82ff"/>
<line x1="1383.2" y1="1066.9" x2="1439" y2="1066.9" stroke="#f00a0a" stroke-width="3.6" stroke-linecap="butt"/>
<path d="M1448.0,1066.9 Q1441.0,1061.7 1432.4,1054.6 L1430.6,1055.9 L1437.4,1065.2 L1437.4,1068.6 L1430.6,1077.9 L1432.4,1079.2 Q1441.0,1072.1 1448.0,1066.9 Z" fill="#f00a0a"/>
<polyline points="993.2,872.3 993.6,869.4 994.0,873.5 994.5,875.7 994.9,878.1 995.3,872.8 995.7,869.1 996.1,867.4 996.6,873.4 997.0,876.6 997.4,869.9 997.8,862.6 998.2,863.3 998.7,874.0 999.1,867.4 999.5,858.5 999.9,865.5 1000.3,860.6 1000.8,862.7 1001.2,863.1 1001.6,862.0 1002.0,867.4 1002.4,864.5 1002.9,862.0 1003.3,866.3 1003.7,868.0 1004.1,856.9 1004.5,862.9 1005.0,859.6 1005.4,863.0 1005.8,858.0 1006.2,863.7 1006.6,863.3 1007.1,862.0 1007.5,858.7 1007.9,861.5 1008.3,858.3 1008.7,857.1 1009.2,864.0 1009.6,858.0 1010.0,868.0 1010.4,866.0 1010.8,854.0 1011.3,863.9 1011.7,857.8 1012.1,862.8 1012.5,862.8 1012.9,853.8 1013.4,861.5 1013.8,861.4 1014.2,871.8 1014.6,851.1 1015.0,865.7 1015.5,851.8 1015.9,861.0 1016.3,854.3 1016.7,868.8 1017.1,864.9 1017.6,873.1 1018.0,865.3 1018.4,866.2 1018.8,866.1 1019.2,856.6 1019.7,862.1 1020.1,875.5 1020.5,858.6 1020.9,863.3 1021.3,862.5 1021.8,865.3 1022.2,861.1 1022.6,862.1 1023.0,864.0 1023.4,864.0 1023.9,859.3 1024.3,867.2 1024.7,857.7 1025.1,858.3 1025.5,858.1 1026.0,868.1 1026.4,862.4 1026.8,859.9 1027.2,859.3 1027.6,866.3 1028.1,859.9 1028.5,859.1 1028.9,867.5 1029.3,859.7 1029.7,863.6 1030.2,865.1 1030.6,863.2 1031.0,865.0 1031.4,871.1 1031.8,863.0 1032.3,859.7 1032.7,857.1 1033.1,864.1 1033.5,863.3 1033.9,865.9 1034.4,862.3 1034.8,861.8 1035.2,860.1 1035.6,860.2 1036.0,862.2 1036.5,858.8 1036.9,859.8 1037.3,866.4 1037.7,858.7 1038.1,848.0 1038.6,860.5 1039.0,851.7 1039.4,842.4 1039.8,845.6 1040.2,834.7 1040.7,821.8 1041.1,803.1 1041.5,781.4 1041.9,750.9 1042.3,709.7 1042.8,668.3 1043.2,679.9 1043.6,729.3 1044.0,759.0 1044.4,796.6 1044.9,814.6 1045.3,824.7 1045.7,833.9 1046.1,844.7 1046.5,851.3 1047.0,850.4 1047.4,855.5 1047.8,860.4 1048.2,860.1 1048.6,863.9 1049.1,863.1 1049.5,864.1 1049.9,870.6 1050.3,865.9 1050.7,864.2 1051.2,867.2 1051.6,860.3 1052.0,861.4 1052.4,868.4 1052.8,867.9 1053.3,880.3 1053.7,865.6 1054.1,851.4 1054.5,874.2 1054.9,876.3 1055.4,861.1 1055.8,871.9 1056.2,866.0 1056.6,848.2 1057.0,863.9 1057.5,863.4 1057.9,872.6 1058.3,862.0 1058.7,864.2 1059.1,864.0 1059.6,863.3 1060.0,860.8 1060.4,865.5 1060.8,869.0 1061.2,866.7 1061.7,859.6 1062.1,858.2 1062.5,863.4 1062.9,859.4 1063.3,859.3 1063.8,845.4 1064.2,869.8 1064.6,864.8 1065.0,856.0 1065.4,863.8 1065.9,865.2 1066.3,848.3 1066.7,855.9 1067.1,856.1 1067.5,860.2 1068.0,856.3 1068.4,855.3 1068.8,855.6 1069.2,863.6 1069.6,864.5 1070.1,852.2 1070.5,850.0 1070.9,865.5 1071.3,843.7 1071.7,847.1 1072.2,852.4 1072.6,853.8 1073.0,855.8 1073.4,852.5 1073.8,846.4 1074.3,851.9 1074.7,850.3 1075.1,856.8 1075.5,847.9 1075.9,841.4 1076.4,841.9 1076.8,851.9 1077.2,841.8 1077.6,833.3 1078.0,837.9 1078.5,837.6 1078.9,838.9 1079.3,823.7 1079.7,823.5 1080.1,814.6 1080.6,798.0 1081.0,794.1 1081.4,804.5 1081.8,812.8 1082.2,819.2 1082.7,825.7 1083.1,835.9 1083.5,835.1 1083.9,838.8 1084.3,838.0 1084.8,843.7 1085.2,844.8 1085.6,858.5 1086.0,846.4 1086.4,853.5 1086.9,854.4 1087.3,848.3 1087.7,854.7 1088.1,840.3 1088.5,850.6 1089.0,854.3 1089.4,840.2 1089.8,845.9 1090.2,855.8 1090.6,850.2 1091.1,846.7 1091.5,850.1 1091.9,849.5 1092.3,855.2 1092.7,856.5 1093.2,851.0 1093.6,846.0 1094.0,852.3 1094.4,858.5 1094.8,854.3 1095.3,855.7 1095.7,852.3 1096.1,847.3 1096.5,849.9 1096.9,856.0 1097.4,853.5 1097.8,849.1 1098.2,837.3 1098.6,853.2 1099.0,850.9 1099.5,850.4 1099.9,849.8 1100.3,851.4 1100.7,849.8 1101.1,850.2 1101.6,846.4 1102.0,843.7 1102.4,842.2 1102.8,833.3 1103.2,838.7 1103.7,846.0 1104.1,846.6 1104.5,853.3 1104.9,858.1 1105.3,851.0 1105.8,847.9 1106.2,861.9 1106.6,857.4 1107.0,861.0 1107.4,852.6 1107.9,866.5 1108.3,862.4 1108.7,858.9 1109.1,858.2 1109.5,860.4 1110.0,858.5 1110.4,859.0 1110.8,855.4 1111.2,866.0 1111.6,860.4 1112.1,860.9 1112.5,861.1 1112.9,850.4 1113.3,863.2 1113.7,859.5 1114.2,859.7 1114.6,861.4 1115.0,856.8 1115.4,864.9 1115.8,858.2 1116.3,857.3 1116.7,857.5 1117.1,862.1 1117.5,864.7 1117.9,858.8 1118.4,854.9 1118.8,866.2 1119.2,856.9 1119.6,866.9 1120.0,861.4 1120.5,858.6 1120.9,858.9 1121.3,863.8 1121.7,865.7 1122.1,860.9 1122.6,866.0 1123.0,871.0 1123.4,859.9 1123.8,856.8 1124.2,857.3 1124.7,855.8 1125.1,859.2 1125.5,858.8 1125.9,856.2 1126.3,864.4 1126.8,850.6 1127.2,856.3 1127.6,870.9 1128.0,866.7 1128.4,864.4 1128.9,864.1 1129.3,869.9 1129.7,864.5 1130.1,862.5 1130.5,856.7 1131.0,861.8 1131.4,858.9 1131.8,859.1 1132.2,859.0 1132.6,862.0 1133.1,859.0 1133.5,866.0 1133.9,856.4 1134.3,861.5 1134.7,870.4 1135.2,862.4 1135.6,867.5 1136.0,867.2 1136.4,868.0 1136.8,865.5 1137.3,856.1 1137.7,861.0 1138.1,860.5 1138.5,855.4 1138.9,860.2 1139.4,856.7 1139.8,846.1 1140.2,863.1 1140.6,862.0 1141.0,859.1 1141.5,858.0 1141.9,859.8 1142.3,860.4 1142.7,860.3 1143.1,861.9 1143.6,860.2 1144.0,863.8 1144.4,864.4 1144.8,863.7 1145.2,859.2 1145.7,859.4 1146.1,864.0 1146.5,861.2 1146.9,861.8 1147.3,851.1 1147.8,850.1 1148.2,863.5 1148.6,863.4 1149.0,868.1 1149.4,865.1 1149.9,862.9 1150.3,862.0 1150.7,855.6 1151.1,865.8 1151.5,859.2 1152.0,864.1 1152.4,862.7 1152.8,863.0 1153.2,865.7 1153.6,859.6 1154.1,858.0 1154.5,858.0 1154.9,860.1 1155.3,869.0 1155.7,860.1 1156.2,866.9 1156.6,869.6 1157.0,864.8 1157.4,869.3 1157.8,857.1 1158.3,863.2 1158.7,868.5 1159.1,858.4 1159.5,861.2 1159.9,858.4 1160.4,862.8 1160.8,856.6 1161.2,868.4 1161.6,859.6 1162.0,854.5 1162.5,869.1 1162.9,865.4 1163.3,863.4 1163.7,863.4 1164.1,857.6 1164.6,860.1 1165.0,864.2 1165.4,865.0 1165.8,865.0 1166.2,861.8 1166.7,858.8 1167.1,860.0 1167.5,865.7 1167.9,867.1 1168.3,859.2 1168.8,858.5 1169.2,866.1 1169.6,863.7 1170.0,863.6 1170.4,854.7 1170.9,858.8 1171.3,858.1 1171.7,861.3 1172.1,852.9 1172.5,865.8 1173.0,861.5 1173.4,862.1 1173.8,854.9 1174.2,859.9 1174.6,865.9 1175.1,853.1 1175.5,861.3 1175.9,862.9 1176.3,856.8 1176.7,863.4 1177.2,858.3 1177.6,865.1 1178.0,861.9 1178.4,860.6 1178.8,868.4 1179.3,863.1 1179.7,865.2 1180.1,854.1 1180.5,856.5 1180.9,862.9 1181.4,868.0 1181.8,858.9 1182.2,862.5 1182.6,854.4 1183.0,859.9 1183.5,853.9 1183.9,860.3 1184.3,856.7 1184.7,855.9 1185.1,858.9 1185.6,866.6 1186.0,854.1 1186.4,855.8 1186.8,863.1 1187.2,856.5 1187.7,866.1 1188.1,860.4 1188.5,858.6 1188.9,859.7 1189.3,865.7 1189.8,860.9 1190.2,860.2 1190.6,859.0 1191.0,850.9 1191.4,853.8 1191.9,864.2 1192.3,861.1 1192.7,859.7 1193.1,860.1 1193.5,854.8 1194.0,858.6 1194.4,853.0 1194.8,858.6 1195.2,853.6 1195.6,855.7 1196.1,858.5 1196.5,854.9 1196.9,859.0 1197.3,858.1 1197.7,857.5 1198.2,861.6 1198.6,849.2 1199.0,840.0 1199.4,858.1 1199.8,859.4 1200.3,863.9 1200.7,858.3 1201.1,858.5 1201.5,850.8 1201.9,861.8 1202.4,857.4 1202.8,849.6 1203.2,850.2 1203.6,853.6 1204.0,855.2 1204.5,840.9 1204.9,854.0 1205.3,855.9 1205.7,852.7 1206.1,854.6 1206.6,855.4 1207.0,848.8 1207.4,855.0 1207.8,852.0 1208.2,848.9 1208.7,854.0 1209.1,859.6 1209.5,846.6 1209.9,845.7 1210.3,845.7 1210.8,861.7 1211.2,850.5 1211.6,852.7 1212.0,849.6 1212.4,848.9 1212.9,844.2 1213.3,853.9 1213.7,854.3 1214.1,844.5 1214.5,848.7 1215.0,846.2 1215.4,853.3 1215.8,854.6 1216.2,858.5 1216.6,859.7 1217.1,864.1 1217.5,866.8 1217.9,848.8 1218.3,848.7 1218.7,859.2 1219.2,855.5 1219.6,854.4 1220.0,845.8 1220.4,846.4 1220.8,857.9 1221.3,856.3 1221.7,853.6 1222.1,853.2 1222.5,847.6 1222.9,856.9 1223.4,859.9 1223.8,862.7 1224.2,855.8 1224.6,854.8 1225.0,851.0 1225.5,861.3 1225.9,863.6 1226.3,853.5 1226.7,857.6 1227.1,856.8 1227.6,853.9 1228.0,845.6 1228.4,855.1 1228.8,859.4 1229.2,850.5 1229.7,853.2 1230.1,842.6 1230.5,862.7 1230.9,859.4 1231.3,857.4 1231.8,856.1 1232.2,854.6 1232.6,857.1 1233.0,856.2 1233.4,856.5 1233.9,857.6 1234.3,858.3 1234.7,864.7 1235.1,851.6 1235.5,859.2 1236.0,855.4 1236.4,853.2 1236.8,847.9 1237.2,861.0 1237.6,854.1 1238.1,855.2 1238.5,860.6 1238.9,853.9 1239.3,858.9 1239.7,858.5 1240.2,862.4 1240.6,863.4 1241.0,855.3 1241.4,868.0 1241.8,858.8 1242.3,859.9 1242.7,858.5 1243.1,862.9 1243.5,854.2 1243.9,860.8 1244.4,864.9 1244.8,858.6 1245.2,868.8 1245.6,856.7 1246.0,861.0 1246.5,858.0 1246.9,857.5 1247.3,855.4 1247.7,858.0 1248.1,860.2 1248.6,852.7 1249.0,864.4 1249.4,867.3 1249.8,854.0 1250.2,864.4 1250.7,861.7 1251.1,862.0 1251.5,871.8 1251.9,866.3 1252.3,862.6 1252.8,862.0 1253.2,851.7 1253.6,864.7 1254.0,858.1 1254.4,862.2 1254.9,861.9 1255.3,865.8 1255.7,881.2 1256.1,866.0 1256.5,867.3 1257.0,860.7 1257.4,866.2 1257.8,865.2 1258.2,855.5 1258.6,870.9 1259.1,858.8 1259.5,856.3 1259.9,869.2 1260.3,871.3 1260.7,858.9 1261.2,859.4 1261.6,875.8 1262.0,862.6 1262.4,853.4 1262.8,859.5 1263.3,871.0 1263.7,865.1 1264.1,865.5 1264.5,867.6 1264.9,865.2 1265.4,860.8 1265.8,855.3 1266.2,864.3 1266.6,857.4 1267.0,862.1 1267.5,870.1 1267.9,864.7 1268.3,862.6 1268.7,862.6 1269.1,869.4 1269.6,866.4 1270.0,856.6 1270.4,863.2 1270.8,879.0 1271.2,869.7 1271.7,859.0 1272.1,855.8 1272.5,853.3 1272.9,854.7 1273.3,869.4 1273.8,862.0 1274.2,858.6 1274.6,859.8 1275.0,861.8 1275.4,861.9 1275.9,860.8 1276.3,858.9 1276.7,865.1 1277.1,869.1 1277.5,859.8 1278.0,859.9 1278.4,867.5 1278.8,855.8 1279.2,859.7 1279.6,858.6 1280.1,863.0 1280.5,859.6 1280.9,858.3 1281.3,863.6 1281.7,857.0 1282.2,845.3 1282.6,853.2 1283.0,865.5 1283.4,854.5 1283.8,864.1 1284.3,865.1 1284.7,865.7 1285.1,861.3 1285.5,859.7 1285.9,862.5 1286.4,859.5 1286.8,856.4 1287.2,867.6 1287.6,858.1 1288.0,869.9 1288.5,864.3 1288.9,860.0 1289.3,863.9 1289.7,867.4 1290.1,855.9 1290.6,857.9 1291.0,857.4 1291.4,862.7 1291.8,863.8 1292.2,862.1 1292.7,858.8 1293.1,856.8 1293.5,867.2 1293.9,866.9 1294.3,862.5 1294.8,856.2 1295.2,864.7 1295.6,863.2 1296.0,863.1 1296.4,869.6 1296.9,865.6 1297.3,857.7 1297.7,857.7 1298.1,868.0 1298.5,864.0 1299.0,865.9 1299.4,860.9 1299.8,857.8 1300.2,863.4 1300.6,869.1 1301.1,863.8 1301.5,857.3 1301.9,861.0 1302.3,860.2 1302.7,863.2 1303.2,866.9 1303.6,871.1 1304.0,863.5 1304.4,860.6 1304.8,862.9 1305.3,862.6 1305.7,859.0 1306.1,862.7 1306.5,862.6 1306.9,857.5 1307.4,865.1 1307.8,861.1 1308.2,858.4 1308.6,864.9 1309.0,860.6 1309.5,870.4 1309.9,864.9 1310.3,863.1 1310.7,856.0 1311.1,861.0 1311.6,866.6 1312.0,859.8 1312.4,866.2 1312.8,853.7 1313.2,863.8 1313.7,866.5 1314.1,866.6 1314.5,863.3 1314.9,867.4 1315.3,859.3 1315.8,858.7 1316.2,864.5 1316.6,875.1 1317.0,865.0 1317.4,862.3 1317.9,864.5 1318.3,865.1 1318.7,857.7 1319.1,850.9 1319.5,853.7 1320.0,856.7 1320.4,860.8 1320.8,858.1 1321.2,859.6 1321.6,865.3 1322.1,863.9 1322.5,863.4 1322.9,870.8 1323.3,861.5 1323.7,861.9 1324.2,869.2 1324.6,853.3 1325.0,856.5 1325.4,869.5 1325.8,865.2 1326.3,866.4 1326.7,866.6 1327.1,867.8 1327.5,861.8 1327.9,863.6 1328.4,859.0 1328.8,864.6 1329.2,865.0 1329.6,862.0 1330.0,867.0 1330.5,877.1 1330.9,859.0 1331.3,867.8 1331.7,868.3 1332.1,868.9 1332.6,860.7 1333.0,869.5 1333.4,871.3 1333.8,863.8 1334.2,862.9 1334.7,865.5 1335.1,868.5 1335.5,868.3 1335.9,874.6 1336.3,863.0 1336.8,867.3 1337.2,862.7 1337.6,868.0 1338.0,865.2 1338.4,862.0 1338.9,858.8 1339.3,861.3 1339.7,865.7 1340.1,871.1 1340.5,868.1 1341.0,859.4 1341.4,862.5 1341.8,864.8 1342.2,864.1 1342.6,864.9 1343.1,872.7 1343.5,865.4 1343.9,861.4 1344.3,855.9 1344.7,861.5 1345.2,857.0 1345.6,863.6 1346.0,865.6 1346.4,858.3 1346.8,863.5 1347.3,862.6 1347.7,872.4 1348.1,866.0 1348.5,855.7 1348.9,865.9 1349.4,865.7 1349.8,863.0 1350.2,862.2 1350.6,866.4 1351.0,866.7 1351.5,865.6 1351.9,859.3 1352.3,860.9 1352.7,856.7 1353.1,857.0 1353.6,861.1 1354.0,858.9 1354.4,861.6 1354.8,874.3 1355.2,865.5 1355.7,854.2 1356.1,841.8 1356.5,854.6 1356.9,856.9 1357.3,853.4 1357.8,866.2 1358.2,857.7 1358.6,864.9 1359.0,876.5 1359.4,864.1 1359.9,863.4 1360.3,864.3 1360.7,861.6 1361.1,859.1 1361.5,861.7 1362.0,873.0 1362.4,861.4 1362.8,856.5 1363.2,857.0 1363.6,857.9 1364.1,862.5 1364.5,864.5 1364.9,864.4 1365.3,867.5 1365.7,861.4 1366.2,865.9 1366.6,863.6 1367.0,865.3 1367.4,854.0 1367.8,867.6 1368.3,855.3 1368.7,857.1 1369.1,865.4 1369.5,860.2 1369.9,869.7 1370.4,862.5 1370.8,857.3 1371.2,862.4 1371.6,859.9 1372.0,868.4 1372.5,868.7 1372.9,864.7 1373.3,859.6 1373.7,861.7 1374.1,865.8 1374.6,857.6 1375.0,857.6 1375.4,864.7 1375.8,864.1 1376.2,859.8 1376.7,859.5 1377.1,852.0 1377.5,865.7 1377.9,859.9 1378.3,854.1 1378.8,855.3 1379.2,856.2 1379.6,867.6 1380.0,863.0 1380.4,854.0 1380.9,867.9 1381.3,865.5 1381.7,854.8 1382.1,847.7 1382.5,868.5 1383.0,856.4 1383.4,858.3 1383.8,856.4 1384.2,870.8 1384.6,872.7 1385.1,861.8 1385.5,857.4 1385.9,859.0 1386.3,860.4 1386.7,850.5 1387.2,862.7 1387.6,855.6 1388.0,858.0 1388.4,857.2 1388.8,865.2 1389.3,860.9 1389.7,865.7 1390.1,854.3 1390.5,851.6 1390.9,856.0 1391.4,852.3 1391.8,858.8 1392.2,851.3 1392.6,855.2 1393.0,858.6 1393.5,858.7 1393.9,855.0 1394.3,867.7 1394.7,859.4 1395.1,837.2 1395.6,855.0 1396.0,854.1 1396.4,851.8 1396.8,850.2 1397.2,853.0 1397.7,854.4 1398.1,853.8 1398.5,858.5 1398.9,856.7 1399.3,849.7 1399.8,848.9 1400.2,855.9 1400.6,849.0 1401.0,852.8 1401.4,854.1 1401.9,856.5 1402.3,854.3 1402.7,858.4 1403.1,850.0 1403.5,855.0 1404.0,849.2 1404.4,854.2 1404.8,852.8 1405.2,848.2 1405.6,827.4 1406.1,856.6 1406.5,854.1 1406.9,853.2 1407.3,849.6 1407.7,851.4 1408.2,854.9 1408.6,853.1 1409.0,858.2 1409.4,853.8 1409.8,849.7 1410.3,856.1 1410.7,850.8 1411.1,854.6 1411.5,845.8 1411.9,850.6 1412.4,856.4 1412.8,847.9 1413.2,853.9 1413.6,856.7" fill="none" stroke="#1a7be0" stroke-width="1.8" stroke-linejoin="round" stroke-linecap="round" stroke-linejoin="miter"/>
<polyline points="993.2,1237.7 993.6,1236.4 994.0,1237.0 994.5,1231.6 994.9,1240.3 995.3,1232.7 995.7,1232.0 996.1,1238.5 996.6,1232.1 997.0,1229.9 997.4,1236.3 997.8,1231.5 998.2,1236.6 998.7,1227.0 999.1,1222.5 999.5,1228.8 999.9,1232.8 1000.3,1226.2 1000.8,1228.8 1001.2,1229.9 1001.6,1228.1 1002.0,1227.3 1002.4,1229.6 1002.9,1227.5 1003.3,1224.9 1003.7,1230.2 1004.1,1229.2 1004.5,1227.6 1005.0,1228.7 1005.4,1217.2 1005.8,1227.0 1006.2,1226.1 1006.6,1219.1 1007.1,1233.0 1007.5,1227.0 1007.9,1224.3 1008.3,1224.4 1008.7,1226.6 1009.2,1225.6 1009.6,1220.1 1010.0,1224.2 1010.4,1227.1 1010.8,1230.3 1011.3,1228.5 1011.7,1221.9 1012.1,1223.3 1012.5,1226.7 1012.9,1223.4 1013.4,1226.2 1013.8,1222.6 1014.2,1230.1 1014.6,1225.7 1015.0,1227.5 1015.5,1225.6 1015.9,1222.8 1016.3,1221.4 1016.7,1225.7 1017.1,1223.5 1017.6,1220.5 1018.0,1223.7 1018.4,1228.3 1018.8,1229.9 1019.2,1228.3 1019.7,1230.3 1020.1,1224.4 1020.5,1224.9 1020.9,1222.5 1021.3,1223.2 1021.8,1231.5 1022.2,1227.6 1022.6,1228.5 1023.0,1246.4 1023.4,1233.2 1023.9,1223.8 1024.3,1230.3 1024.7,1224.6 1025.1,1230.7 1025.5,1221.1 1026.0,1224.5 1026.4,1224.7 1026.8,1243.5 1027.2,1222.1 1027.6,1232.1 1028.1,1236.9 1028.5,1229.0 1028.9,1231.5 1029.3,1237.5 1029.7,1230.9 1030.2,1227.7 1030.6,1233.2 1031.0,1231.2 1031.4,1224.5 1031.8,1229.0 1032.3,1229.2 1032.7,1224.1 1033.1,1224.6 1033.5,1225.4 1033.9,1223.3 1034.4,1228.9 1034.8,1227.8 1035.2,1218.7 1035.6,1224.4 1036.0,1225.7 1036.5,1219.9 1036.9,1221.8 1037.3,1225.1 1037.7,1215.4 1038.1,1218.5 1038.6,1209.3 1039.0,1217.2 1039.4,1208.4 1039.8,1200.7 1040.2,1192.0 1040.7,1181.6 1041.1,1174.6 1041.5,1139.8 1041.9,1093.7 1042.3,1029.8 1042.8,970.5 1043.2,992.2 1043.6,1047.4 1044.0,1118.2 1044.4,1150.7 1044.9,1176.8 1045.3,1192.4 1045.7,1203.9 1046.1,1198.2 1046.5,1216.8 1047.0,1215.2 1047.4,1217.6 1047.8,1219.1 1048.2,1225.5 1048.6,1224.5 1049.1,1228.3 1049.5,1231.8 1049.9,1218.7 1050.3,1225.8 1050.7,1230.2 1051.2,1224.2 1051.6,1215.0 1052.0,1220.3 1052.4,1243.8 1052.8,1226.0 1053.3,1230.2 1053.7,1226.3 1054.1,1231.9 1054.5,1236.5 1054.9,1220.1 1055.4,1231.3 1055.8,1229.2 1056.2,1225.7 1056.6,1229.5 1057.0,1233.0 1057.5,1237.4 1057.9,1237.9 1058.3,1233.6 1058.7,1228.2 1059.1,1236.4 1059.6,1234.3 1060.0,1234.4 1060.4,1230.6 1060.8,1233.4 1061.2,1241.5 1061.7,1239.8 1062.1,1239.0 1062.5,1236.8 1062.9,1232.9 1063.3,1234.0 1063.8,1234.1 1064.2,1234.5 1064.6,1231.5 1065.0,1229.2 1065.4,1235.5 1065.9,1229.8 1066.3,1233.4 1066.7,1229.3 1067.1,1231.6 1067.5,1230.5 1068.0,1230.7 1068.4,1232.8 1068.8,1223.7 1069.2,1221.8 1069.6,1225.9 1070.1,1231.5 1070.5,1222.4 1070.9,1221.7 1071.3,1232.4 1071.7,1218.7 1072.2,1221.7 1072.6,1221.7 1073.0,1220.3 1073.4,1219.8 1073.8,1225.1 1074.3,1221.4 1074.7,1220.5 1075.1,1213.2 1075.5,1220.6 1075.9,1217.1 1076.4,1215.5 1076.8,1215.9 1077.2,1211.6 1077.6,1207.2 1078.0,1204.4 1078.5,1194.5 1078.9,1185.2 1079.3,1170.9 1079.7,1159.8 1080.1,1126.4 1080.6,1095.0 1081.0,1073.6 1081.4,1083.4 1081.8,1107.4 1082.2,1141.4 1082.7,1164.7 1083.1,1175.5 1083.5,1188.8 1083.9,1207.2 1084.3,1202.2 1084.8,1212.0 1085.2,1211.0 1085.6,1216.4 1086.0,1216.3 1086.4,1213.6 1086.9,1209.4 1087.3,1219.3 1087.7,1217.3 1088.1,1217.0 1088.5,1218.6 1089.0,1213.2 1089.4,1216.6 1089.8,1216.3 1090.2,1211.2 1090.6,1212.3 1091.1,1216.1 1091.5,1209.0 1091.9,1219.3 1092.3,1219.5 1092.7,1216.6 1093.2,1217.9 1093.6,1210.7 1094.0,1217.6 1094.4,1219.7 1094.8,1218.8 1095.3,1220.2 1095.7,1216.7 1096.1,1223.6 1096.5,1218.0 1096.9,1218.9 1097.4,1219.5 1097.8,1212.5 1098.2,1210.4 1098.6,1216.0 1099.0,1207.5 1099.5,1207.9 1099.9,1211.0 1100.3,1200.7 1100.7,1197.4 1101.1,1192.3 1101.6,1189.0 1102.0,1196.6 1102.4,1192.1 1102.8,1196.1 1103.2,1190.1 1103.7,1192.9 1104.1,1201.3 1104.5,1212.2 1104.9,1215.3 1105.3,1206.4 1105.8,1201.6 1106.2,1218.5 1106.6,1218.2 1107.0,1219.7 1107.4,1221.2 1107.9,1216.0 1108.3,1220.4 1108.7,1218.2 1109.1,1225.0 1109.5,1220.0 1110.0,1214.8 1110.4,1226.0 1110.8,1228.1 1111.2,1225.4 1111.6,1221.1 1112.1,1219.1 1112.5,1226.0 1112.9,1220.8 1113.3,1224.5 1113.7,1225.5 1114.2,1222.3 1114.6,1215.9 1115.0,1224.6 1115.4,1219.5 1115.8,1217.5 1116.3,1222.5 1116.7,1223.4 1117.1,1222.6 1117.5,1225.2 1117.9,1216.3 1118.4,1225.0 1118.8,1228.6 1119.2,1222.6 1119.6,1219.0 1120.0,1222.3 1120.5,1227.1 1120.9,1222.2 1121.3,1220.1 1121.7,1216.9 1122.1,1227.6 1122.6,1227.6 1123.0,1222.6 1123.4,1229.8 1123.8,1219.4 1124.2,1225.0 1124.7,1217.9 1125.1,1218.9 1125.5,1222.3 1125.9,1223.9 1126.3,1224.3 1126.8,1219.0 1127.2,1220.2 1127.6,1221.5 1128.0,1220.8 1128.4,1220.8 1128.9,1224.4 1129.3,1225.6 1129.7,1215.0 1130.1,1225.9 1130.5,1222.5 1131.0,1222.2 1131.4,1222.1 1131.8,1224.1 1132.2,1223.1 1132.6,1215.3 1133.1,1223.4 1133.5,1216.4 1133.9,1221.5 1134.3,1220.7 1134.7,1214.5 1135.2,1219.7 1135.6,1218.6 1136.0,1217.0 1136.4,1226.2 1136.8,1219.5 1137.3,1217.5 1137.7,1231.8 1138.1,1218.1 1138.5,1217.6 1138.9,1210.9 1139.4,1219.7 1139.8,1220.8 1140.2,1223.7 1140.6,1213.3 1141.0,1220.2 1141.5,1221.1 1141.9,1218.5 1142.3,1215.7 1142.7,1209.7 1143.1,1215.8 1143.6,1212.9 1144.0,1208.5 1144.4,1216.3 1144.8,1213.5 1145.2,1212.8 1145.7,1220.1 1146.1,1211.1 1146.5,1205.4 1146.9,1204.6 1147.3,1213.8 1147.8,1210.9 1148.2,1208.7 1148.6,1203.6 1149.0,1207.8 1149.4,1206.4 1149.9,1209.6 1150.3,1206.6 1150.7,1206.2 1151.1,1208.7 1151.5,1205.8 1152.0,1209.3 1152.4,1196.0 1152.8,1203.2 1153.2,1211.3 1153.6,1207.4 1154.1,1202.6 1154.5,1205.3 1154.9,1203.6 1155.3,1203.9 1155.7,1209.7 1156.2,1203.0 1156.6,1204.7 1157.0,1200.7 1157.4,1200.7 1157.8,1197.5 1158.3,1200.2 1158.7,1200.6 1159.1,1200.6 1159.5,1201.4 1159.9,1201.1 1160.4,1202.7 1160.8,1199.3 1161.2,1204.1 1161.6,1201.3 1162.0,1203.5 1162.5,1198.2 1162.9,1202.1 1163.3,1197.8 1163.7,1184.4 1164.1,1196.6 1164.6,1195.7 1165.0,1190.8 1165.4,1192.0 1165.8,1192.9 1166.2,1202.4 1166.7,1196.4 1167.1,1199.9 1167.5,1196.5 1167.9,1196.5 1168.3,1195.2 1168.8,1186.8 1169.2,1195.8 1169.6,1187.6 1170.0,1192.1 1170.4,1189.3 1170.9,1195.2 1171.3,1193.3 1171.7,1195.1 1172.1,1190.0 1172.5,1187.9 1173.0,1190.0 1173.4,1195.2 1173.8,1188.3 1174.2,1186.2 1174.6,1181.3 1175.1,1182.5 1175.5,1184.0 1175.9,1186.5 1176.3,1185.9 1176.7,1183.0 1177.2,1183.3 1177.6,1187.7 1178.0,1188.3 1178.4,1185.6 1178.8,1186.3 1179.3,1184.9 1179.7,1186.5 1180.1,1175.5 1180.5,1177.7 1180.9,1179.8 1181.4,1179.9 1181.8,1182.7 1182.2,1171.4 1182.6,1178.3 1183.0,1177.7 1183.5,1174.0 1183.9,1175.4 1184.3,1178.8 1184.7,1176.5 1185.1,1174.1 1185.6,1174.8 1186.0,1173.2 1186.4,1176.4 1186.8,1172.5 1187.2,1175.8 1187.7,1170.1 1188.1,1171.5 1188.5,1167.5 1188.9,1170.2 1189.3,1173.5 1189.8,1166.8 1190.2,1168.8 1190.6,1170.1 1191.0,1168.3 1191.4,1172.1 1191.9,1164.8 1192.3,1175.4 1192.7,1173.2 1193.1,1181.1 1193.5,1168.2 1194.0,1165.5 1194.4,1162.7 1194.8,1170.4 1195.2,1170.7 1195.6,1168.8 1196.1,1168.9 1196.5,1169.9 1196.9,1166.3 1197.3,1156.4 1197.7,1162.5 1198.2,1164.6 1198.6,1160.4 1199.0,1161.7 1199.4,1165.7 1199.8,1159.4 1200.3,1169.3 1200.7,1166.6 1201.1,1169.7 1201.5,1162.4 1201.9,1163.2 1202.4,1161.5 1202.8,1167.9 1203.2,1177.6 1203.6,1167.7 1204.0,1165.4 1204.5,1167.6 1204.9,1166.8 1205.3,1170.2 1205.7,1166.9 1206.1,1163.9 1206.6,1160.4 1207.0,1168.2 1207.4,1170.4 1207.8,1167.5 1208.2,1164.0 1208.7,1165.5 1209.1,1165.9 1209.5,1169.0 1209.9,1166.7 1210.3,1171.1 1210.8,1166.4 1211.2,1164.9 1211.6,1181.1 1212.0,1163.7 1212.4,1164.4 1212.9,1174.3 1213.3,1168.2 1213.7,1173.3 1214.1,1158.7 1214.5,1171.6 1215.0,1167.3 1215.4,1167.7 1215.8,1169.1 1216.2,1158.0 1216.6,1164.4 1217.1,1169.0 1217.5,1178.6 1217.9,1165.0 1218.3,1175.8 1218.7,1169.9 1219.2,1171.3 1219.6,1164.6 1220.0,1170.0 1220.4,1165.1 1220.8,1163.9 1221.3,1172.5 1221.7,1165.8 1222.1,1166.6 1222.5,1170.8 1222.9,1162.5 1223.4,1164.3 1223.8,1169.5 1224.2,1169.8 1224.6,1174.2 1225.0,1165.2 1225.5,1171.6 1225.9,1171.8 1226.3,1167.9 1226.7,1169.0 1227.1,1169.8 1227.6,1166.3 1228.0,1165.5 1228.4,1172.6 1228.8,1166.7 1229.2,1167.2 1229.7,1176.7 1230.1,1169.0 1230.5,1169.7 1230.9,1166.5 1231.3,1167.2 1231.8,1166.9 1232.2,1167.1 1232.6,1176.3 1233.0,1169.0 1233.4,1164.6 1233.9,1168.9 1234.3,1175.4 1234.7,1169.2 1235.1,1173.2 1235.5,1170.4 1236.0,1167.8 1236.4,1172.2 1236.8,1170.8 1237.2,1175.7 1237.6,1177.2 1238.1,1174.8 1238.5,1184.4 1238.9,1171.9 1239.3,1180.4 1239.7,1177.5 1240.2,1181.1 1240.6,1178.4 1241.0,1159.7 1241.4,1176.1 1241.8,1180.9 1242.3,1177.7 1242.7,1167.7 1243.1,1176.2 1243.5,1179.5 1243.9,1182.8 1244.4,1176.8 1244.8,1179.4 1245.2,1176.1 1245.6,1175.4 1246.0,1178.0 1246.5,1184.6 1246.9,1182.7 1247.3,1179.5 1247.7,1180.6 1248.1,1182.7 1248.6,1180.6 1249.0,1179.8 1249.4,1180.4 1249.8,1183.8 1250.2,1180.5 1250.7,1184.7 1251.1,1175.8 1251.5,1179.8 1251.9,1179.0 1252.3,1184.8 1252.8,1179.8 1253.2,1181.3 1253.6,1184.4 1254.0,1183.2 1254.4,1181.4 1254.9,1182.8 1255.3,1181.0 1255.7,1187.1 1256.1,1186.0 1256.5,1187.7 1257.0,1192.7 1257.4,1189.5 1257.8,1187.1 1258.2,1185.3 1258.6,1193.6 1259.1,1186.9 1259.5,1185.6 1259.9,1191.0 1260.3,1188.3 1260.7,1186.2 1261.2,1188.7 1261.6,1194.2 1262.0,1188.2 1262.4,1189.2 1262.8,1185.1 1263.3,1186.7 1263.7,1195.5 1264.1,1188.4 1264.5,1189.3 1264.9,1192.8 1265.4,1188.1 1265.8,1194.7 1266.2,1187.4 1266.6,1187.1 1267.0,1187.1 1267.5,1184.9 1267.9,1192.0 1268.3,1190.3 1268.7,1195.0 1269.1,1187.9 1269.6,1193.1 1270.0,1195.2 1270.4,1189.9 1270.8,1190.2 1271.2,1182.3 1271.7,1197.5 1272.1,1190.5 1272.5,1193.3 1272.9,1189.3 1273.3,1193.9 1273.8,1187.2 1274.2,1193.7 1274.6,1191.5 1275.0,1189.9 1275.4,1192.7 1275.9,1185.1 1276.3,1191.7 1276.7,1189.6 1277.1,1196.0 1277.5,1193.7 1278.0,1190.4 1278.4,1190.0 1278.8,1201.1 1279.2,1187.5 1279.6,1205.2 1280.1,1193.9 1280.5,1193.3 1280.9,1184.1 1281.3,1193.3 1281.7,1188.7 1282.2,1183.6 1282.6,1192.2 1283.0,1187.6 1283.4,1191.9 1283.8,1186.6 1284.3,1191.7 1284.7,1191.1 1285.1,1186.5 1285.5,1186.0 1285.9,1184.1 1286.4,1187.2 1286.8,1186.8 1287.2,1195.0 1287.6,1189.9 1288.0,1187.2 1288.5,1187.1 1288.9,1185.3 1289.3,1188.8 1289.7,1187.5 1290.1,1185.2 1290.6,1185.0 1291.0,1185.8 1291.4,1183.4 1291.8,1187.2 1292.2,1183.5 1292.7,1188.2 1293.1,1185.1 1293.5,1187.9 1293.9,1183.9 1294.3,1179.3 1294.8,1175.6 1295.2,1184.3 1295.6,1186.4 1296.0,1186.3 1296.4,1186.5 1296.9,1186.9 1297.3,1185.6 1297.7,1185.6 1298.1,1183.2 1298.5,1185.6 1299.0,1183.1 1299.4,1183.1 1299.8,1183.8 1300.2,1190.7 1300.6,1177.7 1301.1,1180.8 1301.5,1181.3 1301.9,1185.2 1302.3,1181.8 1302.7,1187.1 1303.2,1175.9 1303.6,1187.1 1304.0,1176.4 1304.4,1177.9 1304.8,1182.0 1305.3,1180.0 1305.7,1179.4 1306.1,1179.4 1306.5,1180.1 1306.9,1181.8 1307.4,1179.5 1307.8,1173.5 1308.2,1175.0 1308.6,1181.8 1309.0,1183.3 1309.5,1179.6 1309.9,1184.2 1310.3,1176.8 1310.7,1182.5 1311.1,1173.1 1311.6,1173.6 1312.0,1171.8 1312.4,1179.4 1312.8,1172.0 1313.2,1175.1 1313.7,1168.4 1314.1,1167.8 1314.5,1175.8 1314.9,1177.6 1315.3,1174.7 1315.8,1172.3 1316.2,1170.3 1316.6,1168.1 1317.0,1167.0 1317.4,1169.2 1317.9,1174.8 1318.3,1169.4 1318.7,1165.2 1319.1,1168.6 1319.5,1165.8 1320.0,1165.0 1320.4,1168.3 1320.8,1165.8 1321.2,1163.9 1321.6,1173.1 1322.1,1173.5 1322.5,1167.9 1322.9,1172.3 1323.3,1165.5 1323.7,1166.7 1324.2,1171.0 1324.6,1167.4 1325.0,1169.0 1325.4,1145.6 1325.8,1166.9 1326.3,1164.3 1326.7,1165.2 1327.1,1160.3 1327.5,1162.7 1327.9,1167.3 1328.4,1167.2 1328.8,1167.7 1329.2,1167.9 1329.6,1168.8 1330.0,1166.3 1330.5,1164.2 1330.9,1163.1 1331.3,1163.6 1331.7,1161.8 1332.1,1161.7 1332.6,1164.8 1333.0,1157.4 1333.4,1161.0 1333.8,1162.5 1334.2,1167.1 1334.7,1169.1 1335.1,1166.6 1335.5,1165.5 1335.9,1162.1 1336.3,1169.7 1336.8,1168.5 1337.2,1164.0 1337.6,1166.4 1338.0,1168.1 1338.4,1170.1 1338.9,1166.1 1339.3,1172.6 1339.7,1171.8 1340.1,1166.8 1340.5,1167.9 1341.0,1165.8 1341.4,1166.3 1341.8,1170.9 1342.2,1175.2 1342.6,1175.8 1343.1,1172.2 1343.5,1171.0 1343.9,1170.7 1344.3,1175.2 1344.7,1172.9 1345.2,1177.8 1345.6,1175.8 1346.0,1178.1 1346.4,1176.3 1346.8,1185.8 1347.3,1183.8 1347.7,1181.2 1348.1,1178.9 1348.5,1184.7 1348.9,1186.4 1349.4,1180.9 1349.8,1186.0 1350.2,1193.5 1350.6,1188.1 1351.0,1187.1 1351.5,1191.2 1351.9,1196.2 1352.3,1189.3 1352.7,1190.2 1353.1,1191.6 1353.6,1193.5 1354.0,1198.1 1354.4,1196.0 1354.8,1188.2 1355.2,1198.0 1355.7,1198.7 1356.1,1200.2 1356.5,1199.7 1356.9,1199.1 1357.3,1201.9 1357.8,1196.2 1358.2,1195.7 1358.6,1199.8 1359.0,1198.7 1359.4,1208.5 1359.9,1202.8 1360.3,1208.8 1360.7,1199.2 1361.1,1200.0 1361.5,1205.8 1362.0,1198.8 1362.4,1202.6 1362.8,1190.8 1363.2,1206.6 1363.6,1199.6 1364.1,1205.1 1364.5,1199.8 1364.9,1207.6 1365.3,1209.7 1365.7,1206.7 1366.2,1203.1 1366.6,1208.0 1367.0,1210.0 1367.4,1209.4 1367.8,1211.3 1368.3,1213.6 1368.7,1208.0 1369.1,1206.5 1369.5,1202.9 1369.9,1207.6 1370.4,1206.9 1370.8,1206.0 1371.2,1209.1 1371.6,1214.8 1372.0,1205.4 1372.5,1204.7 1372.9,1207.1 1373.3,1200.9 1373.7,1212.1 1374.1,1208.2 1374.6,1210.8 1375.0,1203.5 1375.4,1211.0 1375.8,1208.3 1376.2,1204.4 1376.7,1212.4 1377.1,1212.9 1377.5,1210.6 1377.9,1211.6 1378.3,1203.1 1378.8,1218.1 1379.2,1208.9 1379.6,1212.4 1380.0,1213.1 1380.4,1214.9 1380.9,1209.0 1381.3,1213.8 1381.7,1212.5 1382.1,1216.2 1382.5,1209.9 1383.0,1215.9 1383.4,1214.5 1383.8,1213.3 1384.2,1219.8 1384.6,1216.4 1385.1,1212.0 1385.5,1215.1 1385.9,1211.8 1386.3,1210.6 1386.7,1213.1 1387.2,1213.4 1387.6,1221.2 1388.0,1218.3 1388.4,1207.6 1388.8,1215.6 1389.3,1214.0 1389.7,1216.2 1390.1,1217.6 1390.5,1217.4 1390.9,1218.9 1391.4,1215.1 1391.8,1222.9 1392.2,1217.9 1392.6,1222.9 1393.0,1218.7 1393.5,1221.0 1393.9,1216.4 1394.3,1223.7 1394.7,1221.3 1395.1,1219.3 1395.6,1222.3 1396.0,1222.9 1396.4,1216.4 1396.8,1219.5 1397.2,1219.0 1397.7,1225.6 1398.1,1224.5 1398.5,1221.3 1398.9,1221.5 1399.3,1224.2 1399.8,1216.9 1400.2,1224.6 1400.6,1230.9 1401.0,1221.3 1401.4,1222.5 1401.9,1223.2 1402.3,1229.1 1402.7,1225.6 1403.1,1235.0 1403.5,1228.6 1404.0,1228.1 1404.4,1226.7 1404.8,1233.4 1405.2,1235.3 1405.6,1232.9 1406.1,1237.4 1406.5,1237.8 1406.9,1235.5 1407.3,1235.1 1407.7,1233.7 1408.2,1237.0 1408.6,1235.7 1409.0,1242.6 1409.4,1244.0 1409.8,1238.4 1410.3,1238.3 1410.7,1241.7 1411.1,1244.5 1411.5,1242.6 1411.9,1245.7 1412.4,1241.4 1412.8,1244.3 1413.2,1246.4 1413.6,1245.5" fill="none" stroke="#ff6464" stroke-width="1.7" stroke-linejoin="round" stroke-linecap="round" stroke-linejoin="miter"/>
<rect x="993.2" y="551.5" width="420.6" height="356.5" fill="none" stroke="#000" stroke-width="1.8"/>
<rect x="993.2" y="908" width="420.6" height="356.6" fill="none" stroke="#000" stroke-width="1.8"/>
<path d="M1063.3 908.0v-4M1133.4 908.0v-8M1203.5 908.0v-4M1273.6 908.0v-8M1343.7 908.0v-4M1063.3 1264.6v-4M1133.4 1264.6v-8M1203.5 1264.6v-4M1273.6 1264.6v-8M1343.7 1264.6v-4" stroke="#000" stroke-width="1.6" fill="none"/>
<text transform="translate(939.48,601.4) scale(1.0250,1)" font-family="'Liberation Sans', Arial, Helvetica, sans-serif" font-size="72" fill="#000" xml:space="preserve" ><tspan x="0" y="0">f</tspan></text>
<line x1="1111.2" y1="580.4" x2="1195.3" y2="580.4" stroke="#1a7be0" stroke-width="2.2" />
<text transform="translate(1204.18,592.4) scale(1.0098,1)" font-family="'Liberation Sans', Arial, Helvetica, sans-serif" font-size="36.38" fill="#1a78dc" xml:space="preserve" ><tspan x="0" y="0">HY-Li</tspan><tspan x="87.62" y="10.91" font-size="24.01">2</tspan><tspan x="100.96" y="0">S-800</tspan></text>
<line x1="1112.5" y1="938.8" x2="1195.8" y2="938.8" stroke="#ff6464" stroke-width="2.2" />
<text transform="translate(1205.22,951.3) scale(0.9809,1)" font-family="'Liberation Sans', Arial, Helvetica, sans-serif" font-size="36.67" fill="#c80000" xml:space="preserve" ><tspan x="0" y="0">CA-Li</tspan><tspan x="91.66" y="11" font-size="24.2">2</tspan><tspan x="105.11" y="0">S-800</tspan></text>
<text transform="translate(1135.1,1096.1) scale(1.0018,1)" font-family="'Liberation Sans', Arial, Helvetica, sans-serif" font-size="34.43" fill="#c80000" xml:space="preserve" ><tspan x="0" y="0">Residual Carbon</tspan></text>
<text transform="translate(1180.54,1145.8) scale(1.0214,1)" font-family="'Liberation Sans', Arial, Helvetica, sans-serif" font-size="45.51" fill="#c80000" xml:space="preserve" ><tspan x="0" y="0">D</tspan></text>
<text transform="translate(1313.78,1145.8) scale(1.1100,1)" font-family="'Liberation Sans', Arial, Helvetica, sans-serif" font-size="44.86" fill="#c80000" xml:space="preserve" ><tspan x="0" y="0">G</tspan></text>
<text transform="translate(974.6,829.68) rotate(-90) scale(0.9603,1)" font-family="'Liberation Sans', Arial, Helvetica, sans-serif" font-size="35.65" fill="#000" xml:space="preserve" ><tspan x="0" y="0">Intensity / a.u.</tspan></text>
<text transform="translate(974.6,1197.88) rotate(-90) scale(0.9603,1)" font-family="'Liberation Sans', Arial, Helvetica, sans-serif" font-size="35.65" fill="#000" xml:space="preserve" ><tspan x="0" y="0">Intensity / a.u.</tspan></text>
<text transform="translate(967.49,1299.9) scale(1.0115,1)" font-family="'Liberation Sans', Arial, Helvetica, sans-serif" font-size="30.43" fill="#000" xml:space="preserve" ><tspan x="0" y="0">900</tspan></text>
<text transform="translate(1099.21,1299.9) scale(0.9945,1)" font-family="'Liberation Sans', Arial, Helvetica, sans-serif" font-size="30.43" fill="#000" xml:space="preserve" ><tspan x="0" y="0">1200</tspan></text>
<text transform="translate(1239.41,1299.9) scale(0.9945,1)" font-family="'Liberation Sans', Arial, Helvetica, sans-serif" font-size="30.43" fill="#000" xml:space="preserve" ><tspan x="0" y="0">1500</tspan></text>
<text transform="translate(1379.61,1299.9) scale(0.9945,1)" font-family="'Liberation Sans', Arial, Helvetica, sans-serif" font-size="30.43" fill="#000" xml:space="preserve" ><tspan x="0" y="0">1800</tspan></text>
<text transform="translate(1052.99,1341.4) scale(1.0058,1)" font-family="'Liberation Sans', Arial, Helvetica, sans-serif" font-size="36.43" fill="#000" xml:space="preserve" ><tspan x="0" y="0">Raman Shifts / cm</tspan><tspan x="291.87" y="-14.57" font-size="22.59">-1</tspan></text>
<polyline points="1537.8,863.1 1538.1,864.1 1538.3,865.1 1538.6,865.9 1538.8,866.7 1539.1,867.5 1539.4,868.1 1539.6,868.8 1539.9,869.4 1540.2,869.9 1540.4,870.4 1540.7,870.9 1540.9,871.4 1541.2,871.8 1541.5,872.2 1541.7,872.5 1542.0,872.9 1542.3,873.2 1542.5,873.5 1542.8,873.8 1543.0,874.0 1543.3,874.3 1543.6,874.5 1543.8,874.7 1544.1,874.9 1544.4,875.1 1544.6,875.3 1544.9,875.4 1545.1,875.6 1545.4,875.7 1545.7,875.9 1545.9,876.0 1546.2,876.1 1546.5,876.2 1546.7,876.3 1547.0,876.4 1547.2,876.5 1547.5,876.6 1547.8,876.7 1548.0,876.8 1548.3,876.9 1548.6,877.0 1548.8,877.0 1549.1,877.1 1549.3,877.2 1549.6,877.2 1549.9,877.3 1550.1,877.3 1550.4,877.4 1550.7,877.4 1550.9,877.5 1551.2,877.5 1551.4,877.6 1551.7,877.6 1552.0,877.7 1552.2,877.7 1552.5,877.7 1552.7,877.8 1553.0,877.8 1553.3,877.9 1553.5,877.9 1553.8,877.9 1554.1,878.0 1554.3,878.0 1554.6,878.0 1554.8,878.1 1555.1,878.1 1555.4,878.1 1555.6,878.1 1555.9,878.2 1556.2,878.2 1556.4,878.2 1556.7,878.2 1556.9,878.3 1557.2,878.3 1557.5,878.3 1557.7,878.3 1558.0,878.4 1558.3,878.4 1558.5,878.4 1558.8,878.4 1559.0,878.5 1559.3,878.5 1559.6,878.5 1559.8,878.5 1560.1,878.5 1560.4,878.6 1560.6,878.6 1560.9,878.6 1561.1,878.6 1561.4,878.6 1561.7,878.7 1561.9,878.7 1562.2,878.7 1562.5,878.7 1562.7,878.7 1563.0,878.7 1563.2,878.8 1563.5,878.8 1563.8,878.8 1564.0,878.8 1566.6,879.0 1569.3,879.1 1571.9,879.2 1574.5,879.3 1577.1,879.4 1579.8,879.5 1582.4,879.6 1585.0,879.7 1587.6,879.7 1590.2,879.8 1592.9,879.8 1595.5,879.9 1598.1,879.9 1600.7,879.9 1603.4,880.0 1606.0,880.0 1608.6,880.0 1611.2,880.1 1613.9,880.1 1616.5,880.1 1619.1,880.1 1621.7,880.1 1624.3,880.1 1627.0,880.1 1629.6,880.2 1632.2,880.2 1634.8,880.2 1637.5,880.2 1640.1,880.2 1642.7,880.2 1645.3,880.2 1647.9,880.2 1650.6,880.2 1653.2,880.2 1655.8,880.2 1658.4,880.2 1661.1,880.2 1663.7,880.2 1666.3,880.2 1668.9,880.2 1671.5,880.2 1674.2,880.2 1676.8,880.2 1679.4,880.2 1682.0,880.2 1684.7,880.2 1687.3,880.2 1689.9,880.2 1692.5,880.2 1695.2,880.2 1697.8,880.2 1700.4,880.2 1703.0,880.2 1705.6,880.2 1708.3,880.2 1710.9,880.2 1713.5,880.2 1716.1,880.2 1718.8,880.2 1721.4,880.2 1724.0,880.2 1726.6,880.2 1729.2,880.2 1731.9,880.2 1734.5,880.2 1737.1,880.2 1739.7,880.2 1742.4,880.2 1745.0,880.2 1747.6,880.2 1750.2,880.2 1752.8,880.2 1755.5,880.2 1758.1,880.2 1760.7,880.2 1763.3,880.2 1766.0,880.2 1768.6,880.2 1771.2,880.2 1773.8,880.2 1776.4,880.2 1779.1,880.2 1781.7,880.2 1784.3,880.2 1786.9,880.2 1789.6,880.2 1792.2,880.2 1794.8,880.2 1797.4,880.2 1800.1,880.2 1802.7,880.2 1805.3,880.2 1807.9,880.2 1810.5,880.2 1813.2,880.2 1815.8,880.2 1818.4,880.2 1821.0,880.2 1823.7,880.2 1826.3,880.2 1828.9,880.2 1831.5,880.2 1834.1,880.2 1836.8,880.2 1839.4,880.2 1842.0,880.2 1844.6,880.2 1847.3,880.2 1849.9,880.2 1852.5,880.2 1855.1,880.2 1857.7,880.2 1860.4,880.2 1863.0,880.2 1865.6,880.2 1868.2,880.2 1870.9,880.2 1873.5,880.2 1876.1,880.2 1878.7,880.2 1881.3,880.2 1884.0,880.2 1886.6,880.2 1889.2,880.2 1891.8,880.2 1894.5,880.2 1897.1,880.2 1899.7,880.2 1902.3,880.2 1905.0,880.2 1907.6,880.2 1910.2,880.2 1912.8,880.2 1915.4,880.2 1918.1,880.2 1920.7,880.2 1923.3,880.2 1925.9,880.2 1928.6,880.2 1931.2,880.2 1933.8,880.2 1936.4,880.2 1939.0,880.2 1941.7,880.2 1944.3,880.2 1946.9,880.2 1949.5,880.2 1952.2,880.2 1954.8,880.2 1957.4,880.2" fill="none" stroke="#1ea0f0" stroke-width="3.0" stroke-linejoin="round" stroke-linecap="round" />
<polyline points="1538.6,908.5 1538.7,911.9 1538.8,916.3 1539.0,921.5 1539.1,927.3 1539.3,933.6 1539.5,940.1 1539.7,946.7 1539.9,953.1 1540.2,959.2 1540.4,964.8 1540.7,970.0 1540.9,975.3 1541.2,980.5 1541.5,985.6 1541.8,990.6 1542.1,995.5 1542.5,1000.3 1542.8,1004.8 1543.2,1009.2 1543.6,1013.4 1544.0,1017.3 1544.4,1021.0 1544.8,1024.5 1545.2,1027.8 1545.6,1031.0 1546.1,1034.1 1546.6,1037.1 1547.2,1040.0 1547.8,1042.9 1548.5,1045.8 1549.2,1048.7 1550.0,1051.5 1550.9,1054.2 1551.7,1056.9 1552.6,1059.6 1553.6,1062.1 1554.7,1064.6 1555.8,1067.0 1556.9,1069.4 1558.2,1071.7 1559.5,1073.9 1560.8,1076.1 1562.1,1078.3 1563.4,1080.4 1564.9,1082.4 1566.4,1084.3 1568.1,1086.2 1570.0,1087.9 1572.1,1089.6 1574.4,1091.2 1576.9,1092.7 1579.6,1094.1 1582.4,1095.3 1585.4,1096.5 1588.6,1097.7 1591.9,1098.7 1595.4,1099.7 1599.0,1100.7 1602.8,1101.6 1606.8,1102.5 1611.0,1103.4 1615.5,1104.1 1620.2,1104.9 1625.1,1105.6 1630.1,1106.2 1635.2,1106.8 1640.3,1107.4 1645.4,1107.9 1650.5,1108.5 1655.4,1109.0 1660.2,1109.5 1664.9,1110.0 1669.5,1110.4 1674.1,1110.8 1678.7,1111.1 1683.4,1111.5 1688.2,1111.8 1693.2,1112.2 1698.5,1112.5 1704.0,1112.9 1709.7,1113.3 1715.4,1113.6 1721.3,1114.0 1727.2,1114.3 1733.4,1114.7 1739.8,1115.1 1746.5,1115.4 1753.6,1115.8 1761.0,1116.1 1768.9,1116.5 1777.3,1116.9 1786.4,1117.3 1795.9,1117.7 1805.7,1118.1 1815.8,1118.5 1826.1,1118.9 1836.3,1119.3 1846.5,1119.7 1856.4,1120.1 1866.0,1120.4 1875.7,1120.7 1886.0,1121.0 1896.6,1121.4 1907.1,1121.7 1917.5,1121.9 1927.3,1122.2 1936.4,1122.5 1944.6,1122.7 1951.4,1122.9 1956.8,1123.0" fill="none" stroke="#fa5a3c" stroke-width="3.0" stroke-linejoin="round" stroke-linecap="round" />
<rect x="1537.8" y="551.3" width="419.6" height="356.6" fill="none" stroke="#000" stroke-width="1.8"/>
<rect x="1537.8" y="907.9" width="419.6" height="356.8" fill="none" stroke="#000" stroke-width="1.8"/>
<path d="M1537.8 882.8h4.2M1537.8 844.5h2.1M1537.8 806.2h4.2M1537.8 767.9h2.1M1537.8 729.6h4.2M1537.8 691.3h2.1M1537.8 653.0h4.2M1537.8 614.7h2.1M1537.8 576.4h4.2M1590.2 907.9v-2.5M1642.7 907.9v-5M1695.2 907.9v-2.5M1747.6 907.9v-5M1800.1 907.9v-2.5M1852.5 907.9v-5M1905.0 907.9v-2.5M1537.8 1240.3h4.2M1537.8 1202.0h2.1M1537.8 1163.7h4.2M1537.8 1125.4h2.1M1537.8 1087.1h4.2M1537.8 1048.8h2.1M1537.8 1010.5h4.2M1537.8 972.2h2.1M1537.8 933.9h4.2M1590.2 1264.7v-2.5M1642.7 1264.7v-5M1695.2 1264.7v-2.5M1747.6 1264.7v-5M1800.1 1264.7v-2.5M1852.5 1264.7v-5M1905.0 1264.7v-2.5" stroke="#000" stroke-width="1.6" fill="none"/>
<text transform="translate(1510.48,894.8) scale(0.9250,1)" font-family="'Liberation Sans', Arial, Helvetica, sans-serif" font-size="39.86" fill="#000" xml:space="preserve" ><tspan x="0" y="0">0</tspan></text>
<text transform="translate(1510.48,818.21) scale(0.9250,1)" font-family="'Liberation Sans', Arial, Helvetica, sans-serif" font-size="39.86" fill="#000" xml:space="preserve" ><tspan x="0" y="0">3</tspan></text>
<text transform="translate(1509.45,741.62) scale(0.9737,1)" font-family="'Liberation Sans', Arial, Helvetica, sans-serif" font-size="39.86" fill="#000" xml:space="preserve" ><tspan x="0" y="0">6</tspan></text>
<text transform="translate(1510.48,665.03) scale(0.9250,1)" font-family="'Liberation Sans', Arial, Helvetica, sans-serif" font-size="39.86" fill="#000" xml:space="preserve" ><tspan x="0" y="0">9</tspan></text>
<text transform="translate(1491.32,588.44) scale(0.8937,1)" font-family="'Liberation Sans', Arial, Helvetica, sans-serif" font-size="39.86" fill="#000" xml:space="preserve" ><tspan x="0" y="0">12</tspan></text>
<text transform="translate(1510.48,1252.3) scale(0.9250,1)" font-family="'Liberation Sans', Arial, Helvetica, sans-serif" font-size="39.86" fill="#000" xml:space="preserve" ><tspan x="0" y="0">0</tspan></text>
<text transform="translate(1510.48,1175.71) scale(0.9250,1)" font-family="'Liberation Sans', Arial, Helvetica, sans-serif" font-size="39.86" fill="#000" xml:space="preserve" ><tspan x="0" y="0">3</tspan></text>
<text transform="translate(1509.45,1099.12) scale(0.9737,1)" font-family="'Liberation Sans', Arial, Helvetica, sans-serif" font-size="39.86" fill="#000" xml:space="preserve" ><tspan x="0" y="0">6</tspan></text>
<text transform="translate(1510.48,1022.53) scale(0.9250,1)" font-family="'Liberation Sans', Arial, Helvetica, sans-serif" font-size="39.86" fill="#000" xml:space="preserve" ><tspan x="0" y="0">9</tspan></text>
<text transform="translate(1491.32,945.94) scale(0.8937,1)" font-family="'Liberation Sans', Arial, Helvetica, sans-serif" font-size="39.86" fill="#000" xml:space="preserve" ><tspan x="0" y="0">12</tspan></text>
<text transform="translate(1527.41,1301) scale(0.9895,1)" font-family="'Liberation Sans', Arial, Helvetica, sans-serif" font-size="38.55" fill="#000" xml:space="preserve" ><tspan x="0" y="0">0</tspan></text>
<text transform="translate(1623.4,1301) scale(0.9315,1)" font-family="'Liberation Sans', Arial, Helvetica, sans-serif" font-size="38.55" fill="#000" xml:space="preserve" ><tspan x="0" y="0">40</tspan></text>
<text transform="translate(1727.35,1301) scale(0.9545,1)" font-family="'Liberation Sans', Arial, Helvetica, sans-serif" font-size="38.55" fill="#000" xml:space="preserve" ><tspan x="0" y="0">80</tspan></text>
<text transform="translate(1820.85,1301) scale(0.9758,1)" font-family="'Liberation Sans', Arial, Helvetica, sans-serif" font-size="38.55" fill="#000" xml:space="preserve" ><tspan x="0" y="0">120</tspan></text>
<text transform="translate(1925.75,1301) scale(0.9758,1)" font-family="'Liberation Sans', Arial, Helvetica, sans-serif" font-size="38.55" fill="#000" xml:space="preserve" ><tspan x="0" y="0">160</tspan></text>
<text transform="translate(1676.2,1340.4) scale(0.9693,1)" font-family="'Liberation Sans', Arial, Helvetica, sans-serif" font-size="38.99" fill="#000" xml:space="preserve" ><tspan x="0" y="0">Time / S</tspan></text>
<text transform="translate(1440,589) scale(1.0000,1)" font-family="'Liberation Sans', Arial, Helvetica, sans-serif" font-size="64.26" fill="#000" xml:space="preserve" ><tspan x="0" y="0">g</tspan></text>
<text transform="translate(1487.9,847.15) rotate(-90) scale(0.9529,1)" font-family="'Liberation Sans', Arial, Helvetica, sans-serif" font-size="33.57" fill="#000" xml:space="preserve" ><tspan x="0" y="0">Current / 10</tspan><tspan x="177.22" y="-13.43" font-size="24.17">-6</tspan><tspan x="198.7" y="0"> A</tspan></text>
<text transform="translate(1487.9,1205.56) rotate(-90) scale(0.9551,1)" font-family="'Liberation Sans', Arial, Helvetica, sans-serif" font-size="33.57" fill="#000" xml:space="preserve" ><tspan x="0" y="0">Current / 10</tspan><tspan x="177.22" y="-13.43" font-size="24.17">-6</tspan><tspan x="198.7" y="0"> A</tspan></text>
<line x1="1643.1" y1="579.9" x2="1728.4" y2="579.9" stroke="#1ea0f0" stroke-width="2.2" />
<text transform="translate(1738.2,591.8) scale(1.0505,1)" font-family="'Liberation Sans', Arial, Helvetica, sans-serif" font-size="35.22" fill="#1978dc" xml:space="preserve" ><tspan x="0" y="0">HY-Li</tspan><tspan x="84.83" y="10.57" font-size="23.24">2</tspan><tspan x="97.75" y="0">S-800</tspan></text>
<line x1="1655.4" y1="935.6" x2="1735.8" y2="935.6" stroke="#fa5a3c" stroke-width="2.2" />
<text transform="translate(1745.2,948.6) scale(0.9970,1)" font-family="'Liberation Sans', Arial, Helvetica, sans-serif" font-size="35.22" fill="#c80000" xml:space="preserve" ><tspan x="0" y="0">CA-Li</tspan><tspan x="88.06" y="10.57" font-size="23.24">2</tspan><tspan x="100.99" y="0">S-800</tspan></text>
<defs><linearGradient id="tbar" x1="0" y1="0" x2="0" y2="1"><stop offset="0" stop-color="#ff6450"/><stop offset="1" stop-color="#00b4ff"/></linearGradient></defs>
<rect x="124.8" y="1379.3" width="21.2" height="676.7" fill="url(#tbar)"/>
<line x1="147.6" y1="1506.4" x2="1948" y2="1506.4" stroke="#cccccc" stroke-width="4.4" stroke-dasharray="14.2 3.3"/>
<line x1="147.6" y1="1635.0" x2="1948" y2="1635.0" stroke="#cccccc" stroke-width="4.4" stroke-dasharray="14.2 3.3"/>
<line x1="147.6" y1="1914.3" x2="1948" y2="1914.3" stroke="#cccccc" stroke-width="4.4" stroke-dasharray="14.2 3.3"/>
<line x1="147.6" y1="2052.3" x2="1948" y2="2052.3" stroke="#cccccc" stroke-width="4.4" stroke-dasharray="14.2 3.3"/>
<text transform="translate(-4.06,1432.5) scale(1.0516,1)" font-family="'Liberation Sans', Arial, Helvetica, sans-serif" font-size="72" fill="#000" xml:space="preserve" ><tspan x="0" y="0">h</tspan></text>
<text transform="translate(71.3,1944.95) rotate(-90) scale(0.9535,1)" font-family="'Liberation Sans', Arial, Helvetica, sans-serif" font-size="59.57" fill="#000" xml:space="preserve" ><tspan x="0" y="0">Temperature / °C</tspan></text>
<text transform="translate(232.4,1409.5) scale(1.0000,1)" font-family="'Liberation Sans', Arial, Helvetica, sans-serif" font-size="40.29" fill="#000" xml:space="preserve" ><tspan x="0" y="0">900</tspan></text>
<text transform="translate(232.4,1499.6) scale(1.0000,1)" font-family="'Liberation Sans', Arial, Helvetica, sans-serif" font-size="39" fill="#000" xml:space="preserve" ><tspan x="0" y="0">8 0</tspan></text>
<text transform="translate(232.4,1541.7) scale(1.0000,1)" font-family="'Liberation Sans', Arial, Helvetica, sans-serif" font-size="37" fill="#000" xml:space="preserve" ><tspan x="0" y="0">7 0</tspan></text>
<text transform="translate(232.4,1629.4) scale(1.0000,1)" font-family="'Liberation Sans', Arial, Helvetica, sans-serif" font-size="38" fill="#000" xml:space="preserve" ><tspan x="0" y="0">7 7</tspan></text>
<text transform="translate(232.4,1671.7) scale(1.0000,1)" font-family="'Liberation Sans', Arial, Helvetica, sans-serif" font-size="38.14" fill="#000" xml:space="preserve" ><tspan x="0" y="0">7 0</tspan></text>
<text transform="translate(233.4,1907.3) scale(1.0000,1)" font-family="'Liberation Sans', Arial, Helvetica, sans-serif" font-size="38" fill="#000" xml:space="preserve" ><tspan x="0" y="0">4 0</tspan></text>
<text transform="translate(232.4,1948.4) scale(1.0000,1)" font-family="'Liberation Sans', Arial, Helvetica, sans-serif" font-size="37.29" fill="#000" xml:space="preserve" ><tspan x="0" y="0">3 0</tspan></text>
<text transform="translate(232.4,2046) scale(1.0000,1)" font-family="'Liberation Sans', Arial, Helvetica, sans-serif" font-size="38.71" fill="#000" xml:space="preserve" ><tspan x="0" y="0">200</tspan></text>
<line x1="264.6" y1="1413.6" x2="264.6" y2="1463.9" stroke="#000" stroke-width="2.8" />
<path d="M256.0,1420.7 Q261.6,1417.6 264.6,1412.1 Q267.6,1417.6 274.2,1420.7" fill="none" stroke="#000" stroke-width="2.8" stroke-linecap="round" stroke-linejoin="miter"/>
<path d="M255.4,1455.4 Q261.6,1458.9 264.6,1465.4 Q267.6,1458.9 272.6,1455.4" fill="none" stroke="#000" stroke-width="2.8" stroke-linecap="round" stroke-linejoin="miter"/>
<line x1="264.6" y1="1547.1" x2="264.6" y2="1595.3" stroke="#000" stroke-width="2.8" />
<path d="M256.0,1554.2 Q261.6,1551.1 264.6,1545.6 Q267.6,1551.1 274.2,1554.2" fill="none" stroke="#000" stroke-width="2.8" stroke-linecap="round" stroke-linejoin="miter"/>
<path d="M255.4,1586.8 Q261.6,1590.3 264.6,1596.8 Q267.6,1590.3 272.6,1586.8" fill="none" stroke="#000" stroke-width="2.8" stroke-linecap="round" stroke-linejoin="miter"/>
<line x1="264.3" y1="1678" x2="264.5" y2="1873.7" stroke="#000" stroke-width="2.8" />
<path d="M255.7,1685.1 Q261.3,1682.0 264.3,1676.5 Q267.3,1682.0 273.9,1685.1" fill="none" stroke="#000" stroke-width="2.8" stroke-linecap="round" stroke-linejoin="miter"/>
<path d="M255.3,1865.2 Q261.5,1868.7 264.5,1875.2 Q267.5,1868.7 272.5,1865.2" fill="none" stroke="#000" stroke-width="2.8" stroke-linecap="round" stroke-linejoin="miter"/>
<line x1="264.6" y1="1955.2" x2="264.6" y2="2013.8" stroke="#000" stroke-width="2.8" />
<path d="M256.0,1962.3 Q261.6,1959.2 264.6,1953.7 Q267.6,1959.2 274.2,1962.3" fill="none" stroke="#000" stroke-width="2.8" stroke-linecap="round" stroke-linejoin="miter"/>
<path d="M255.4,2005.3 Q261.6,2008.8 264.6,2015.3 Q267.6,2008.8 272.6,2005.3" fill="none" stroke="#000" stroke-width="2.8" stroke-linecap="round" stroke-linejoin="miter"/>
<text transform="translate(415.37,1455.9) scale(0.9627,1)" font-family="'Liberation Sans', Arial, Helvetica, sans-serif" font-size="54.78" fill="#000" xml:space="preserve" ><tspan x="0" y="0">2Li</tspan><tspan x="73.08" y="16.98" font-size="30.68">2</tspan><tspan x="90.14" y="0">O + CS</tspan><tspan x="271.23" y="16.98" font-size="30.68">2</tspan><tspan x="288.29" y="0">(g) = </tspan><tspan x="417.64" y="0" fill="#1496f0">2Li</tspan><tspan x="490.72" y="16.98" font-size="30.68" fill="#1496f0">2</tspan><tspan x="507.78" y="0" fill="#1496f0">S</tspan><tspan x="544.31" y="0"> + CO</tspan><tspan x="688.87" y="16.98" font-size="30.68">2</tspan><tspan x="705.93" y="0">(g)</tspan></text>
<text transform="translate(414.39,1592.9) scale(0.9523,1)" font-family="'Liberation Sans', Arial, Helvetica, sans-serif" font-size="55.36" fill="#000" xml:space="preserve" ><tspan x="0" y="0" fill="#c8a800">Li</tspan><tspan x="43.09" y="17.16" font-size="31" fill="#c8a800">2</tspan><tspan x="60.33" y="0" fill="#c8a800">CO</tspan><tspan x="143.37" y="17.16" font-size="31" fill="#c8a800">3</tspan><tspan x="160.61" y="0"> = Li</tspan><tspan x="266.79" y="17.16" font-size="31">2</tspan><tspan x="284.03" y="0">O + CO</tspan><tspan x="473.22" y="17.16" font-size="31">2</tspan><tspan x="490.46" y="0">(g)</tspan></text>
<text transform="translate(415.67,1713.5) scale(0.9655,1)" font-family="'Liberation Sans', Arial, Helvetica, sans-serif" font-size="54.49" fill="#000" xml:space="preserve" ><tspan x="0" y="0">2LiOH + CO</tspan><tspan x="298.25" y="16.89" font-size="30.52">2</tspan><tspan x="315.23" y="0">(g) = </tspan><tspan x="443.91" y="0" fill="#c8a800">Li</tspan><tspan x="486.31" y="16.89" font-size="30.52" fill="#c8a800">2</tspan><tspan x="503.29" y="0" fill="#c8a800">CO</tspan><tspan x="585.01" y="16.89" font-size="30.52" fill="#c8a800">3</tspan><tspan x="601.98" y="0"> + </tspan><tspan x="664.08" y="0" fill="#ff0000">H</tspan><tspan x="703.42" y="16.89" font-size="30.52" fill="#ff0000">2</tspan><tspan x="720.39" y="0" fill="#ff0000">O(g)</tspan></text>
<text transform="translate(413.81,1794.5) scale(0.9482,1)" font-family="'Liberation Sans', Arial, Helvetica, sans-serif" font-size="55.51" fill="#000" xml:space="preserve" ><tspan x="0" y="0" fill="#ff0000">H</tspan><tspan x="40.08" y="17.21" font-size="31.08" fill="#ff0000">2</tspan><tspan x="57.36" y="0" fill="#ff0000">NCN(g)</tspan><tspan x="245.44" y="0"> + </tspan><tspan x="308.69" y="0" fill="#ff0000">2H</tspan><tspan x="379.63" y="17.21" font-size="31.08" fill="#ff0000">2</tspan><tspan x="396.92" y="0" fill="#ff0000">O(g)</tspan><tspan x="507.92" y="0"> = 2NH</tspan><tspan x="682.19" y="17.21" font-size="31.08">3</tspan><tspan x="699.48" y="0"> + CO</tspan><tspan x="845.98" y="17.21" font-size="31.08">2</tspan><tspan x="863.26" y="0">(g)</tspan></text>
<text transform="translate(416.63,1876) scale(0.9690,1)" font-family="'Liberation Sans', Arial, Helvetica, sans-serif" font-size="54.2" fill="#000" xml:space="preserve" ><tspan x="0" y="0">4LiOH + CS</tspan><tspan x="290.62" y="16.8" font-size="30.35">2</tspan><tspan x="307.5" y="0">(g) = </tspan><tspan x="435.48" y="0" fill="#1496f0">2Li</tspan><tspan x="507.79" y="16.8" font-size="30.35" fill="#1496f0">2</tspan><tspan x="524.67" y="0" fill="#1496f0">S</tspan><tspan x="560.81" y="0"> + CO</tspan><tspan x="703.85" y="16.8" font-size="30.35">2</tspan><tspan x="720.72" y="0">(g) + </tspan><tspan x="848.7" y="0" fill="#ff0000">2H</tspan><tspan x="917.97" y="16.8" font-size="30.35" fill="#ff0000">2</tspan><tspan x="934.85" y="0" fill="#ff0000">O(g)</tspan></text>
<text transform="translate(415.98,1998.8) scale(0.9596,1)" font-family="'Liberation Sans', Arial, Helvetica, sans-serif" font-size="54.78" fill="#000" xml:space="preserve" ><tspan x="0" y="0">2(NH</tspan><tspan x="127.8" y="16.98" font-size="30.68">2</tspan><tspan x="144.85" y="0">)</tspan><tspan x="163.09" y="16.98" font-size="30.68">2</tspan><tspan x="180.15" y="0">CS(s) = CS</tspan><tspan x="458.58" y="16.98" font-size="30.68">2</tspan><tspan x="475.64" y="0">(g) + </tspan><tspan x="604.98" y="0" fill="#ff0000">H</tspan><tspan x="644.53" y="16.98" font-size="30.68" fill="#ff0000">2</tspan><tspan x="661.59" y="0" fill="#ff0000">NCN(g)</tspan><tspan x="847.17" y="0"> + 2NH</tspan><tspan x="1019.14" y="16.98" font-size="30.68">3</tspan><tspan x="1036.2" y="0">(g)</tspan></text>
<text transform="translate(1880.77,1455.9) scale(0.9435,1)" font-family="'Liberation Sans', Arial, Helvetica, sans-serif" font-size="54.93" fill="#000" xml:space="preserve" ><tspan x="0" y="0">(7)</tspan></text>
<text transform="translate(1880.77,1592.9) scale(0.9435,1)" font-family="'Liberation Sans', Arial, Helvetica, sans-serif" font-size="54.93" fill="#000" xml:space="preserve" ><tspan x="0" y="0">(6)</tspan></text>
<text transform="translate(1880.77,1713.5) scale(0.9435,1)" font-family="'Liberation Sans', Arial, Helvetica, sans-serif" font-size="54.93" fill="#000" xml:space="preserve" ><tspan x="0" y="0">(5)</tspan></text>
<text transform="translate(1880.77,1794.5) scale(0.9435,1)" font-family="'Liberation Sans', Arial, Helvetica, sans-serif" font-size="54.93" fill="#000" xml:space="preserve" ><tspan x="0" y="0">(4)</tspan></text>
<text transform="translate(1880.77,1876) scale(0.9435,1)" font-family="'Liberation Sans', Arial, Helvetica, sans-serif" font-size="54.93" fill="#000" xml:space="preserve" ><tspan x="0" y="0">(3)</tspan></text>
<text transform="translate(1880.77,1998.8) scale(0.9435,1)" font-family="'Liberation Sans', Arial, Helvetica, sans-serif" font-size="54.93" fill="#000" xml:space="preserve" ><tspan x="0" y="0">(2)</tspan></text></svg></body></html>
